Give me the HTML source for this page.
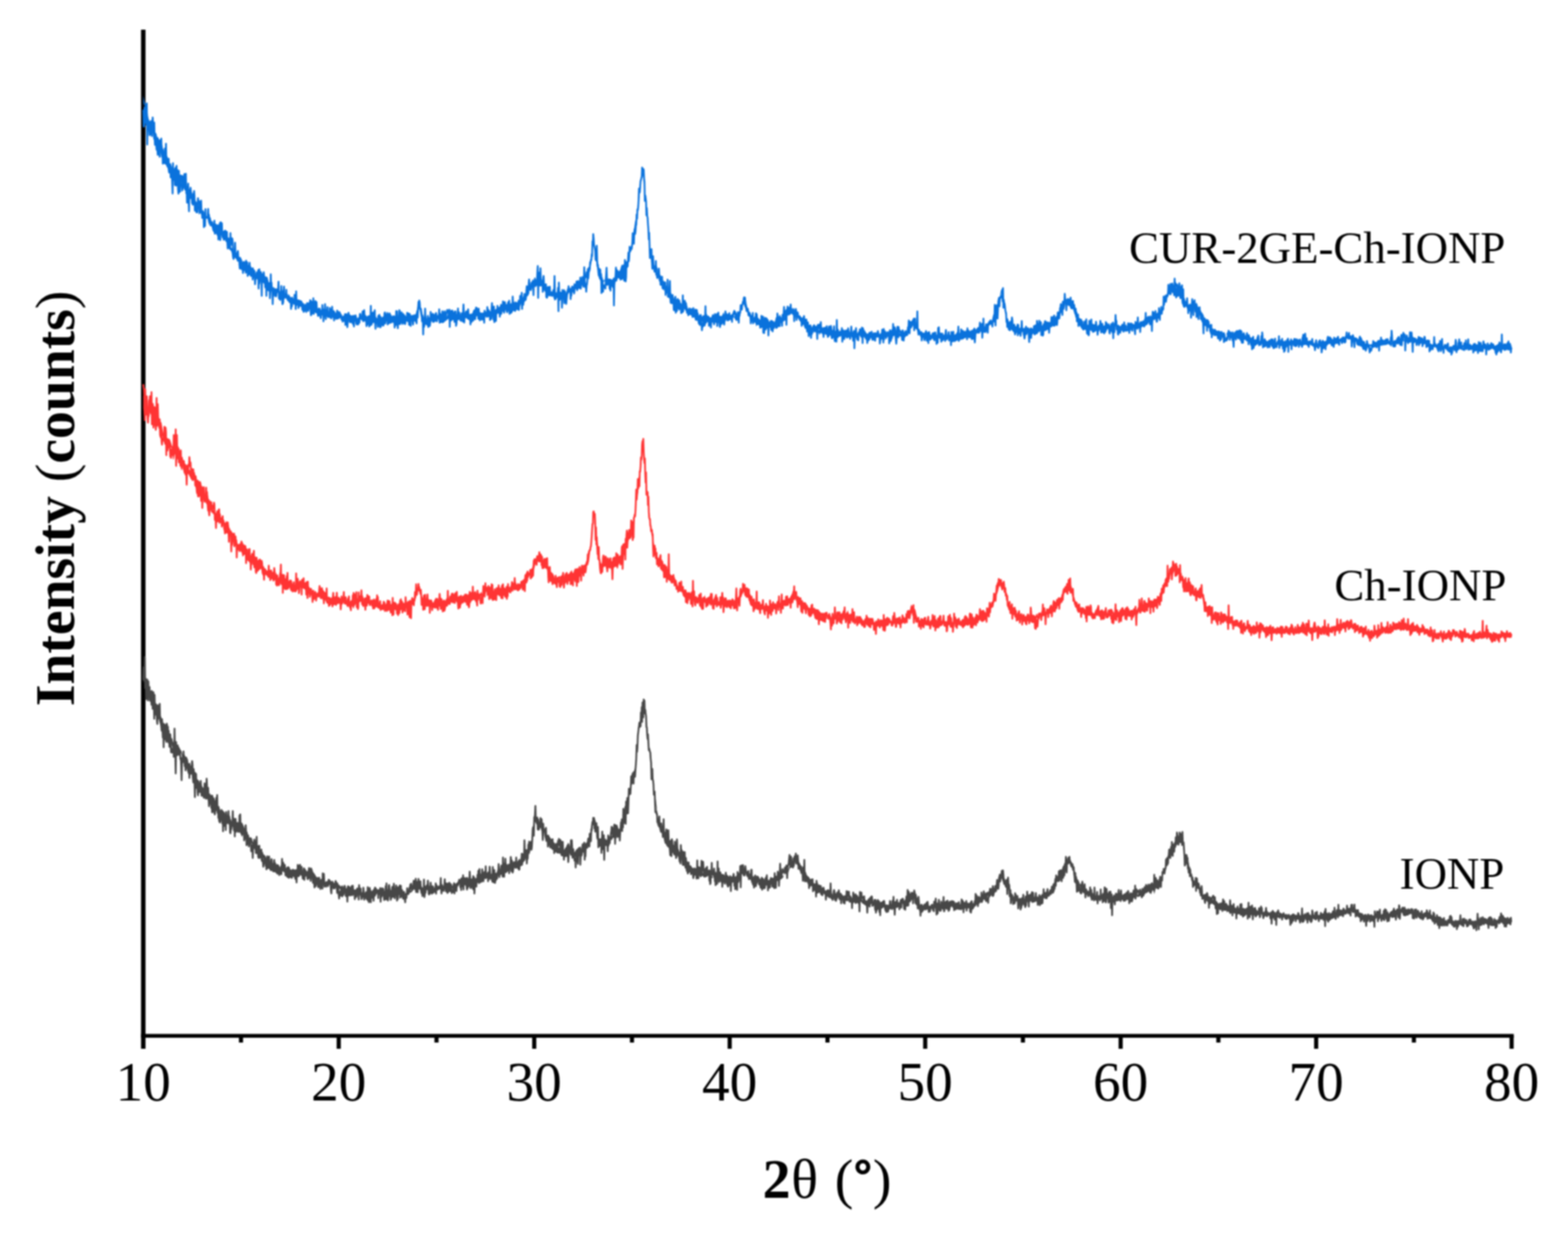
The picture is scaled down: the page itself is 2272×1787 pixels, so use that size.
<!DOCTYPE html>
<html><head><meta charset="utf-8"><title>XRD patterns</title>
<style>
html,body{margin:0;padding:0;background:#fff;overflow:hidden;}
svg{display:block;filter:blur(0.9px);}
.tk{font-family:"Liberation Serif","Times New Roman",serif;font-size:80px;fill:#000;}
.lb{font-family:"Liberation Serif","Times New Roman",serif;font-size:65px;fill:#000;}
.ax{font-family:"Liberation Serif","Times New Roman",serif;font-size:81px;fill:#000;font-weight:bold;}
</style></head><body>
<svg width="2272" height="1787" viewBox="0 0 2272 1787">
<rect width="2272" height="1787" fill="#fff"/>
<line x1="207.6" y1="43" x2="207.6" y2="1520" stroke="#000" stroke-width="6.5"/>
<line x1="204.4" y1="1501.2" x2="2193.4" y2="1501.2" stroke="#000" stroke-width="5.6"/>
<line x1="490.8" y1="1501" x2="490.8" y2="1520" stroke="#000" stroke-width="6"/>
<line x1="774.1" y1="1501" x2="774.1" y2="1520" stroke="#000" stroke-width="6"/>
<line x1="1057.3" y1="1501" x2="1057.3" y2="1520" stroke="#000" stroke-width="6"/>
<line x1="1340.6" y1="1501" x2="1340.6" y2="1520" stroke="#000" stroke-width="6"/>
<line x1="1623.8" y1="1501" x2="1623.8" y2="1520" stroke="#000" stroke-width="6"/>
<line x1="1907.1" y1="1501" x2="1907.1" y2="1520" stroke="#000" stroke-width="6"/>
<line x1="2190.3" y1="1501" x2="2190.3" y2="1520" stroke="#000" stroke-width="6"/>
<line x1="349.2" y1="1501" x2="349.2" y2="1511" stroke="#000" stroke-width="6"/>
<line x1="632.5" y1="1501" x2="632.5" y2="1511" stroke="#000" stroke-width="6"/>
<line x1="915.7" y1="1501" x2="915.7" y2="1511" stroke="#000" stroke-width="6"/>
<line x1="1199.0" y1="1501" x2="1199.0" y2="1511" stroke="#000" stroke-width="6"/>
<line x1="1482.2" y1="1501" x2="1482.2" y2="1511" stroke="#000" stroke-width="6"/>
<line x1="1765.4" y1="1501" x2="1765.4" y2="1511" stroke="#000" stroke-width="6"/>
<line x1="2048.7" y1="1501" x2="2048.7" y2="1511" stroke="#000" stroke-width="6"/>
<path d="M207.6 138.8 208.7 144 209.9 149.5 211 150.3 212.1 151.2 213.3 156.2 214.4 167.8 215.5 173.2 216.7 176.8 217.8 173.9 218.9 177 220.1 180.7 221.2 185.1 222.3 184.8 223.5 187.6 224.6 191.3 225.7 192.4 226.9 195.3 228 199.3 229.1 198.6 230.3 201.5 231.4 205.2 232.5 210.5 233.7 210.8 234.8 208.1 235.9 214.5 237.1 217.2 238.2 220.2 239.3 218.2 240.5 222.6 241.6 225.1 242.7 229.1 243.9 235.3 245 236.4 246.1 237.3 247.3 235.9 248.4 239.4 249.5 242.9 250.7 243.8 251.8 246.5 252.9 249.5 254.1 252.4 255.2 254.3 256.3 256.4 257.5 254.5 258.6 256.8 259.7 254.9 260.8 255.6 262 259.3 263.1 265.8 264.2 263.3 265.4 265.4 266.5 263.2 267.6 265.1 268.8 266.7 269.9 267.1 271 270.1 272.2 273.3 273.3 273.3 274.4 275 275.6 274.8 276.7 280.3 277.8 283.7 279 280.5 280.1 278.8 281.2 282.1 282.4 287 283.5 291.3 284.6 292.6 285.8 293.4 286.9 293.4 288 299.2 289.2 298.4 290.3 301 291.4 305 292.6 308.2 293.7 304.2 294.8 304.6 296 309.7 297.1 310.9 298.2 313.2 299.4 314.1 300.5 314.3 301.6 313.7 302.8 314.8 303.9 314 305 315.1 306.2 319.4 307.3 323.3 308.4 324.4 309.6 322.9 310.7 327.1 311.8 325.8 313 323.8 314.1 325.8 315.2 328.2 316.4 324.3 317.5 330.5 318.6 327 319.8 332.2 320.9 334.2 322 335.1 323.2 335 324.3 333.9 325.4 333.4 326.6 332.6 327.7 336.1 328.8 340.4 330 344.5 331.1 346.3 332.2 349.2 333.4 351.8 334.5 356.4 335.6 360.1 336.8 358.8 337.9 359.2 339 363.6 340.2 367.8 341.3 366.4 342.4 366.1 343.6 367.3 344.7 369.9 345.8 371.6 347 375 348.1 373.9 349.2 374.8 350.4 375.8 351.5 380.1 352.6 383.8 353.8 386.2 354.9 385.8 356 384.2 357.2 385.2 358.3 383.9 359.4 383.6 360.6 387 361.7 384.1 362.8 384.9 364 386.7 365.1 388.3 366.2 387.5 367.3 387.8 368.5 391.8 369.6 397.6 370.7 398.9 371.9 399 373 398.8 374.1 394.4 375.3 392.1 376.4 394.3 377.5 395.2 378.7 401.6 379.8 402.8 380.9 401.4 382.1 404.7 383.2 403.7 384.3 406.6 385.5 404.7 386.6 405.1 387.7 403.7 388.9 406.9 390 411.4 391.1 413.1 392.3 412.4 393.4 412.5 394.5 413.8 395.7 417.1 396.8 415.9 397.9 417.5 399.1 420 400.2 421.6 401.3 422.5 402.5 422.9 403.6 420.2 404.7 419.6 405.9 422.7 407 423 408.1 419.4 409.3 420.3 410.4 422.5 411.5 426.3 412.7 426.6 413.8 425.9 414.9 428 416.1 429.8 417.2 429.6 418.3 426.2 419.5 428.1 420.6 430.2 421.7 432.1 422.9 430 424 430 425.1 433 426.3 437.3 427.4 435.2 428.5 434.9 429.7 434.5 430.8 434.6 431.9 434.2 433.1 434.3 434.2 434.6 435.3 435.8 436.5 435.7 437.6 436.3 438.7 438.9 439.9 439.3 441 442 442.1 439.8 443.3 440.8 444.4 443.7 445.5 442.9 446.7 439.9 447.8 438.7 448.9 439.6 450.1 442.5 451.2 444.2 452.3 443.7 453.5 443.5 454.6 443.6 455.7 446.7 456.9 448.9 458 447.5 459.1 449 460.3 452.2 461.4 455 462.5 453.4 463.7 452.1 464.8 449.3 465.9 448.8 467.1 448.3 468.2 448.9 469.3 451.2 470.4 449.6 471.6 448.4 472.7 450.4 473.8 452.3 475 450.5 476.1 450.6 477.2 453.2 478.4 454.6 479.5 452.9 480.6 453.7 481.8 454.3 482.9 453.9 484 451.8 485.2 451.1 486.3 453.6 487.4 453.9 488.6 453.7 489.7 453.7 490.8 454.5 492 452.5 493.1 456.7 494.2 458 495.4 460.2 496.5 459.5 497.6 458.6 498.8 456.4 499.9 454.4 501 459.1 502.2 459.8 503.3 461.9 504.4 457.3 505.6 457.6 506.7 456.9 507.8 455.9 509 458.1 510.1 458.3 511.2 456.2 512.4 456.7 513.5 456.5 514.6 457.6 515.8 458.6 516.9 458.5 518 462.3 519.2 460.4 520.3 458.2 521.4 457.2 522.6 457.5 523.7 459.4 524.8 458.5 526 458.3 527.1 457.9 528.2 457.4 529.4 456.2 530.5 457.5 531.6 459.1 532.8 459.5 533.9 457.3 535 456.8 536.2 457 537.3 457.9 538.4 458.1 539.6 457.6 540.7 459.3 541.8 459.6 543 459.8 544.1 458.2 545.2 462.2 546.4 461.2 547.5 460 548.6 458.2 549.8 460 550.9 460.7 552 462.4 553.2 460 554.3 459.3 555.4 458.7 556.6 458.2 557.7 460.8 558.8 459.1 560 463 561.1 461.1 562.2 463 563.4 458.6 564.5 456.9 565.6 455.1 566.8 455.7 567.9 458.5 569 457.2 570.2 457.3 571.3 456.9 572.4 457.9 573.5 457.9 574.7 459.4 575.8 460.4 576.9 461.8 578.1 462 579.2 460.1 580.3 460.6 581.5 458 582.6 459.4 583.7 458.7 584.9 462.1 586 459.1 587.1 461.9 588.3 458.5 589.4 459.5 590.5 457 591.7 455.6 592.8 455.8 593.9 461.2 595.1 461.8 596.2 464.4 597.3 460.4 598.5 456.1 599.6 456.2 600.7 455.2 601.9 456 603 452.9 604.1 449.8 605.3 442.7 606.4 439.6 607.5 441.6 608.7 446 609.8 448.3 610.9 452 612.1 455.7 613.2 458.4 614.3 459.7 615.5 460.9 616.6 457.9 617.7 458.2 618.9 462.5 620 462.1 621.1 461.7 622.3 461.8 623.4 459.6 624.5 459.7 625.7 458.1 626.8 458.7 627.9 458.4 629.1 459.6 630.2 462.1 631.3 459.1 632.5 456.7 633.6 457.5 634.7 460.2 635.9 457.1 637 459.3 638.1 458.1 639.3 458.3 640.4 458.7 641.5 456.5 642.7 453.6 643.8 453.5 644.9 459.9 646.1 462.4 647.2 459.3 648.3 456.6 649.5 458.6 650.6 456.2 651.7 457.8 652.9 458.5 654 458 655.1 456.6 656.3 458.1 657.4 456.6 658.5 454.7 659.7 456.1 660.8 456.1 661.9 454.2 663.1 453 664.2 452.3 665.3 454.7 666.5 456.7 667.6 457.3 668.7 456.7 669.9 453.8 671 452.8 672.1 453.7 673.3 453.7 674.4 450.5 675.5 449.8 676.7 453.9 677.8 454.1 678.9 454.6 680 455.4 681.2 454.7 682.3 454.6 683.4 456.2 684.6 453.4 685.7 450.1 686.8 448.6 688 453.3 689.1 454.6 690.2 453 691.4 454 692.5 453 693.6 454.7 694.8 452.6 695.9 452.2 697 453.4 698.2 453 699.3 453.5 700.4 452.7 701.6 453.5 702.7 455.6 703.8 453 705 449.9 706.1 447.7 707.2 446.9 708.4 448.6 709.5 451.6 710.6 451.2 711.8 450.4 712.9 448.1 714 445 715.2 446.1 716.3 447.3 717.4 449.1 718.6 447.8 719.7 448.3 720.8 448.6 722 449.5 723.1 448.4 724.2 448 725.4 445.6 726.5 444 727.6 445.9 728.8 445.9 729.9 447.1 731 447.1 732.2 446.9 733.3 443.1 734.4 445.5 735.6 445.7 736.7 445.3 737.8 443.2 739 442.3 740.1 438.5 741.2 440.4 742.4 438.7 743.5 441.9 744.6 440.6 745.8 438.1 746.9 436.2 748 438.1 749.2 438.1 750.3 437.6 751.4 440 752.6 437 753.7 433.8 754.8 431 756 431.6 757.1 431.4 758.2 429.8 759.4 427 760.5 425.3 761.6 425.9 762.8 427.6 763.9 423.1 765 422.9 766.2 420.3 767.3 416.2 768.4 412.1 769.6 410.7 770.7 407.5 771.8 404.5 773 406.7 774.1 403.1 775.2 401.6 776.4 404.3 777.5 407 778.6 404.9 779.8 401.9 780.9 403 782 403.3 783.1 401.7 784.3 403 785.4 405.6 786.5 408.7 787.7 409 788.8 414.4 789.9 416 791.1 415.7 792.2 416.2 793.3 419 794.5 418 795.6 417.6 796.7 420.2 797.9 420.8 799 425.5 800.1 422.7 801.3 422 802.4 423.2 803.5 423 804.7 424.4 805.8 425.6 806.9 422.8 808.1 423.8 809.2 421.2 810.3 422.3 811.5 422.4 812.6 423.1 813.7 422.9 814.9 422.6 816 421.4 817.1 418.7 818.3 419.5 819.4 425.1 820.5 424.5 821.7 418.4 822.8 417.4 823.9 420.2 825.1 421.4 826.2 418.8 827.3 418.2 828.5 419.2 829.6 416.3 830.7 413.9 831.9 409.6 833 413.9 834.1 415.1 835.3 416.2 836.4 413.9 837.5 409.8 838.7 409.8 839.8 407.2 840.9 408.1 842.1 406.6 843.2 406.3 844.3 408.2 845.5 407.6 846.6 403.4 847.7 399.7 848.9 393.6 850 393.1 851.1 394.2 852.3 394.3 853.4 388.6 854.5 387 855.7 380.7 856.8 374.4 857.9 364.4 859.1 352 860.2 347.3 861.3 358.4 862.5 364.5 863.6 371.5 864.7 377.2 865.9 381.9 867 388.8 868.1 394.2 869.3 396.1 870.4 395.9 871.5 397.3 872.7 401.9 873.8 406.1 874.9 406.5 876.1 405.7 877.2 403.5 878.3 404.5 879.5 405.6 880.6 404.4 881.7 403.1 882.9 404.5 884 403.8 885.1 406.2 886.2 407.8 887.4 407.5 888.5 407.5 889.6 402.9 890.8 401.8 891.9 403.3 893 402.3 894.2 400.3 895.3 398.8 896.4 396.9 897.6 393.9 898.7 390.6 899.8 386.6 901 383.1 902.1 385.6 903.2 386.3 904.4 386.6 905.5 383.1 906.6 383.8 907.8 382.1 908.9 380 910 376.4 911.2 369.7 912.3 360.6 913.4 358.5 914.6 356.8 915.7 351.1 916.8 344.9 918 337.4 919.1 328.8 920.2 321 921.4 317.3 922.5 312.8 923.6 303.5 924.8 294.4 925.9 288.3 927 273.1 928.2 259 929.3 254 930.4 249.1 931.6 249.9 932.7 255.5 933.8 268.7 935 283.6 936.1 297 937.2 303.9 938.4 313.8 939.5 325.4 940.6 341.6 941.8 358.4 942.9 370 944 373 945.2 375.8 946.3 377.8 947.4 384 948.6 385.5 949.7 384.3 950.8 384.7 952 386.2 953.1 389.9 954.2 394.9 955.4 399.5 956.5 398.8 957.6 401 958.8 405.9 959.9 407.6 961 406.8 962.2 406.9 963.3 410.2 964.4 414 965.6 415.6 966.7 417.2 967.8 420.8 969 428.1 970.1 428.3 971.2 425.1 972.4 424.5 973.5 426.6 974.6 429 975.8 429.1 976.9 432.8 978 437.8 979.2 438 980.3 438.3 981.4 438.7 982.6 442 983.7 441.8 984.8 441.8 986 439.8 987.1 441.3 988.2 439.5 989.4 440.6 990.5 441.3 991.6 443.1 992.7 444.6 993.9 444.8 995 446.3 996.1 448.7 997.3 449.3 998.4 449 999.5 449.8 1000.7 451.6 1001.8 449.7 1002.9 450.8 1004.1 453 1005.2 452.3 1006.3 452.8 1007.5 455.8 1008.6 457.1 1009.7 456.6 1010.9 455.5 1012 459.2 1013.1 456.5 1014.3 455.6 1015.4 456.9 1016.5 458.5 1017.7 458.6 1018.8 458.4 1019.9 458.6 1021.1 460.2 1022.2 462.4 1023.3 461.3 1024.5 459.5 1025.6 459.5 1026.7 457.5 1027.9 459.7 1029 459.7 1030.1 460 1031.3 458.9 1032.4 462.2 1033.5 463.7 1034.7 460.7 1035.8 460.8 1036.9 460.8 1038.1 457.8 1039.2 460 1040.3 458.6 1041.5 461.1 1042.6 463.4 1043.7 461.8 1044.9 459.1 1046 457.6 1047.1 455.6 1048.3 452.8 1049.4 455 1050.5 458.1 1051.7 457.9 1052.8 457.2 1053.9 458.4 1055.1 455.1 1056.2 456.7 1057.3 457.7 1058.5 458.8 1059.6 458.6 1060.7 457.1 1061.9 455.9 1063 457.6 1064.1 458.6 1065.3 457.6 1066.4 457 1067.5 453.8 1068.7 451.7 1069.8 451.1 1070.9 452.5 1072.1 451 1073.2 446.4 1074.3 443.1 1075.5 438.8 1076.6 439.3 1077.7 435.1 1078.9 436.2 1080 439.7 1081.1 442.5 1082.3 443.9 1083.4 446.9 1084.5 449.6 1085.7 452.7 1086.8 451.7 1087.9 454.4 1089.1 457.6 1090.2 459.9 1091.3 458.1 1092.5 460.1 1093.6 461.7 1094.7 465.3 1095.8 464.5 1097 463.1 1098.1 462.3 1099.2 462.7 1100.4 465.9 1101.5 466.1 1102.6 466.4 1103.8 465.2 1104.9 466.5 1106 466.4 1107.2 467.7 1108.3 468.7 1109.4 467.9 1110.6 466.4 1111.7 469 1112.8 469.9 1114 469.8 1115.1 468.8 1116.2 468.5 1117.4 468.5 1118.5 467.5 1119.6 464.6 1120.8 464.9 1121.9 467.1 1123 465.2 1124.2 460.1 1125.3 459.2 1126.4 458.7 1127.6 460.3 1128.7 457.9 1129.8 455.8 1131 458 1132.1 460.5 1133.2 460.9 1134.4 457.9 1135.5 458.7 1136.6 460.7 1137.8 457.1 1138.9 454.4 1140 451.3 1141.2 449.6 1142.3 447.4 1143.4 446.6 1144.6 446.8 1145.7 447.2 1146.8 448 1148 449.6 1149.1 449.6 1150.2 447.8 1151.4 450.2 1152.5 451.9 1153.6 452.6 1154.8 453.9 1155.9 456.3 1157 457.6 1158.2 460.3 1159.3 459.7 1160.4 458.7 1161.6 460.3 1162.7 461.9 1163.8 463.3 1165 464.3 1166.1 465.1 1167.2 464 1168.4 469.4 1169.5 469.7 1170.6 470.9 1171.8 471 1172.9 470.8 1174 470 1175.2 470.8 1176.3 473.7 1177.4 475.9 1178.6 476.7 1179.7 475 1180.8 475.5 1182 475.9 1183.1 475 1184.2 474.2 1185.4 475.8 1186.5 478.4 1187.6 477.5 1188.8 479.3 1189.9 479.2 1191 475.7 1192.2 474.5 1193.3 476.6 1194.4 478 1195.6 479.9 1196.7 481.5 1197.8 482.2 1198.9 479.5 1200.1 477.6 1201.2 479.9 1202.3 481.5 1203.5 479.4 1204.6 476.8 1205.7 478.7 1206.9 477.9 1208 479.8 1209.1 484 1210.3 484.9 1211.4 481.6 1212.5 477.4 1213.7 476.9 1214.8 481.3 1215.9 480.3 1217.1 479.2 1218.2 479.6 1219.3 480.1 1220.5 478.7 1221.6 480.9 1222.7 479.5 1223.9 478.8 1225 478 1226.1 477.9 1227.3 478.8 1228.4 479.7 1229.5 477.7 1230.7 478.7 1231.8 481.7 1232.9 484.7 1234.1 485.1 1235.2 483.5 1236.3 484.7 1237.5 483.2 1238.6 483 1239.7 483.3 1240.9 482.6 1242 482.4 1243.1 482.4 1244.3 480.4 1245.4 481.9 1246.5 485.1 1247.7 481.1 1248.8 482.7 1249.9 484.1 1251.1 482.2 1252.2 479.5 1253.3 480.6 1254.5 482.9 1255.6 484.1 1256.7 483.5 1257.9 483.5 1259 481.3 1260.1 480.8 1261.3 483 1262.4 482.8 1263.5 483.7 1264.7 482.7 1265.8 481.5 1266.9 482.1 1268.1 482.3 1269.2 482.2 1270.3 484.7 1271.5 482.6 1272.6 483.7 1273.7 483.4 1274.9 484.7 1276 483 1277.1 482.2 1278.3 481.3 1279.4 482.4 1280.5 482 1281.7 480.5 1282.8 477.9 1283.9 482 1285.1 482.4 1286.2 485 1287.3 482.6 1288.5 479.2 1289.6 481.4 1290.7 480.5 1291.9 477.6 1293 480.4 1294.1 480.6 1295.3 482.1 1296.4 481.6 1297.5 482 1298.7 480.9 1299.8 481.8 1300.9 480.6 1302.1 481.9 1303.2 483.8 1304.3 482.4 1305.4 478.6 1306.6 480.5 1307.7 480 1308.8 480.8 1310 481 1311.1 482.8 1312.2 481.9 1313.4 480.1 1314.5 475.9 1315.6 473.4 1316.8 469 1317.9 464.6 1319 465.2 1320.2 466.1 1321.3 464.7 1322.4 462.3 1323.6 463.3 1324.7 466.8 1325.8 470.2 1327 470.1 1328.1 470.3 1329.2 473.7 1330.4 476.9 1331.5 478 1332.6 478.7 1333.8 480.7 1334.9 481.4 1336 481.5 1337.2 482.4 1338.3 483 1339.4 481.6 1340.6 482.1 1341.7 483.3 1342.8 484.6 1344 484.9 1345.1 484.9 1346.2 485.9 1347.4 485.3 1348.5 484.8 1349.6 485.8 1350.8 486.2 1351.9 483.6 1353 483.3 1354.2 484 1355.3 485.7 1356.4 485.7 1357.6 485.4 1358.7 484.7 1359.8 484.1 1361 487.4 1362.1 485.3 1363.2 485.5 1364.4 483.6 1365.5 485.7 1366.6 486.6 1367.8 484.5 1368.9 485.6 1370 486 1371.2 486.2 1372.3 488.9 1373.4 487.5 1374.6 485.9 1375.7 485.5 1376.8 487.5 1378 486.6 1379.1 485.6 1380.2 486.2 1381.4 487.6 1382.5 486.1 1383.6 485.1 1384.8 484 1385.9 483.7 1387 482.9 1388.2 484.1 1389.3 486 1390.4 486.6 1391.6 486.2 1392.7 486.4 1393.8 483.6 1395 483 1396.1 481.4 1397.2 482.9 1398.4 482.6 1399.5 481.1 1400.6 477.7 1401.8 479.1 1402.9 477.9 1404 479 1405.2 479.9 1406.3 479.5 1407.4 477.9 1408.5 478.8 1409.7 477.2 1410.8 475.8 1411.9 474.3 1413.1 476.1 1414.2 478 1415.3 478.7 1416.5 477.6 1417.6 476.4 1418.7 476.6 1419.9 476.4 1421 472.6 1422.1 471.8 1423.3 472.6 1424.4 474.2 1425.5 472.5 1426.7 474.3 1427.8 474.1 1428.9 473.1 1430.1 469.1 1431.2 468.7 1432.3 467.6 1433.5 465.1 1434.6 465.7 1435.7 466.3 1436.9 465.2 1438 461.6 1439.1 456.3 1440.3 454.7 1441.4 455.3 1442.5 454.1 1443.7 449.6 1444.8 443.2 1445.9 439.9 1447.1 435.3 1448.2 433.6 1449.3 426.2 1450.5 420.6 1451.6 420.7 1452.7 427.7 1453.9 434.8 1455 438.5 1456.1 443.5 1457.3 448.8 1458.4 458.8 1459.5 461.9 1460.7 461.5 1461.8 466.8 1462.9 469.9 1464.1 471.3 1465.2 470.7 1466.3 469.3 1467.5 469.3 1468.6 471.9 1469.7 474.1 1470.9 475.6 1472 473.4 1473.1 476.5 1474.3 474.9 1475.4 473.8 1476.5 474.7 1477.7 475.6 1478.8 474.5 1479.9 472.9 1481.1 476.4 1482.2 477.7 1483.3 476 1484.5 474.5 1485.6 475.4 1486.7 475.4 1487.9 474.5 1489 475 1490.1 473.8 1491.3 476.6 1492.4 476 1493.5 474.2 1494.7 475.1 1495.8 476.2 1496.9 475.9 1498.1 475.4 1499.2 475.6 1500.3 475.9 1501.5 474.5 1502.6 474 1503.7 473.1 1504.9 473.3 1506 473.3 1507.1 473.3 1508.3 473.9 1509.4 473 1510.5 473.7 1511.7 473.5 1512.8 474.6 1513.9 474.1 1515 474.2 1516.2 473 1517.3 473.7 1518.4 474 1519.6 471.9 1520.7 470.5 1521.8 470.7 1523 469.7 1524.1 468 1525.2 465.5 1526.4 465 1527.5 464.8 1528.6 461.6 1529.8 458.3 1530.9 458.1 1532 457 1533.2 456.3 1534.3 453.2 1535.4 454.4 1536.6 448.7 1537.7 444.5 1538.8 440.1 1540 437.9 1541.1 436.2 1542.2 434.6 1543.4 434.5 1544.5 435.4 1545.6 432.7 1546.8 434.9 1547.9 432.4 1549 432.4 1550.2 433.6 1551.3 434.7 1552.4 439.1 1553.6 440.6 1554.7 442.6 1555.8 443.5 1557 444.7 1558.1 447.2 1559.2 450.2 1560.4 452.2 1561.5 455.1 1562.6 458.1 1563.8 461.1 1564.9 464.8 1566 462.6 1567.2 467.5 1568.3 469.3 1569.4 470 1570.6 466 1571.7 467.9 1572.8 470.9 1574 470.3 1575.1 470.1 1576.2 470.9 1577.4 470 1578.5 470.9 1579.6 469.5 1580.8 470.8 1581.9 470 1583 469.4 1584.2 469.8 1585.3 470 1586.4 471.3 1587.6 470.8 1588.7 473.2 1589.8 473.1 1591 471.8 1592.1 470.8 1593.2 470.8 1594.4 471.6 1595.5 472.4 1596.6 475.1 1597.8 475.4 1598.9 476.1 1600 474.8 1601.2 475.3 1602.3 471.6 1603.4 471.4 1604.6 470.7 1605.7 469.1 1606.8 468.3 1608 470.9 1609.1 472.8 1610.2 471.8 1611.4 473.5 1612.5 476.1 1613.6 475.7 1614.8 476.4 1615.9 477 1617 477.6 1618.1 472.2 1619.3 470.9 1620.4 470.4 1621.5 471.3 1622.7 472.7 1623.8 472.8 1624.9 470.5 1626.1 469 1627.2 469.2 1628.3 471.2 1629.5 472.6 1630.6 471.3 1631.7 470 1632.9 473.1 1634 473.8 1635.1 471.2 1636.3 467.4 1637.4 467.5 1638.5 470.8 1639.7 472.7 1640.8 472.6 1641.9 470.3 1643.1 470.5 1644.2 470.7 1645.3 471.4 1646.5 470.7 1647.6 470.4 1648.7 469 1649.9 469.4 1651 467.5 1652.1 465.6 1653.3 465.6 1654.4 467.7 1655.5 469.7 1656.7 469.8 1657.8 467.8 1658.9 464.7 1660.1 463.6 1661.2 462.9 1662.3 460.5 1663.5 462.9 1664.6 463.5 1665.7 461.6 1666.9 460.2 1668 460.1 1669.1 459.9 1670.3 457.9 1671.4 456.8 1672.5 458.5 1673.7 458.9 1674.8 458.8 1675.9 457.3 1677.1 454.8 1678.2 451.9 1679.3 451.4 1680.5 451.6 1681.6 448.5 1682.7 447.4 1683.9 445.3 1685 443 1686.1 437.4 1687.3 430.4 1688.4 428.7 1689.5 428.3 1690.7 425.7 1691.8 423.6 1692.9 420.2 1694.1 417.1 1695.2 415.6 1696.3 415.6 1697.5 415.9 1698.6 413.2 1699.7 413 1700.9 412.5 1702 408.5 1703.1 408.3 1704.3 409.9 1705.4 411.3 1706.5 411.3 1707.7 414.3 1708.8 418.7 1709.9 425.7 1711.1 426.4 1712.2 423.3 1713.3 425.9 1714.5 426.3 1715.6 430.2 1716.7 432.5 1717.9 437.2 1719 439.3 1720.1 440.3 1721.2 442.8 1722.4 441.5 1723.5 442.5 1724.6 439.7 1725.8 441.1 1726.9 441.5 1728 439.7 1729.2 441.3 1730.3 444.7 1731.4 444 1732.6 439.6 1733.7 438.8 1734.8 440.5 1736 444.7 1737.1 446.3 1738.2 447.5 1739.4 450.3 1740.5 453 1741.6 452.8 1742.8 454.9 1743.9 456.7 1745 460.9 1746.2 465.1 1747.3 467.8 1748.4 469.6 1749.6 468.8 1750.7 468.1 1751.8 471.9 1753 476 1754.1 477.1 1755.2 477 1756.4 478.8 1757.5 478.1 1758.6 477.9 1759.8 479.2 1760.9 480.5 1762 480.2 1763.2 481.3 1764.3 481.5 1765.4 480.2 1766.6 479.3 1767.7 480.1 1768.8 480.7 1770 481.3 1771.1 482.6 1772.2 481.7 1773.4 481.5 1774.5 481.9 1775.6 485.9 1776.8 484.3 1777.9 481.9 1779 480.9 1780.2 482.9 1781.3 484.1 1782.4 485.3 1783.6 483.6 1784.7 482.8 1785.8 486 1787 486.6 1788.1 487.2 1789.2 486.4 1790.4 486.8 1791.5 485.1 1792.6 484.4 1793.8 483.8 1794.9 486.8 1796 488.7 1797.2 489.4 1798.3 488.3 1799.4 486.8 1800.6 488.1 1801.7 488.3 1802.8 489.7 1804 488.7 1805.1 489.3 1806.2 490.5 1807.4 488.1 1808.5 489.7 1809.6 490.2 1810.8 491.3 1811.9 491 1813 494 1814.2 492 1815.3 488.3 1816.4 490.2 1817.6 491.8 1818.7 492.4 1819.8 492 1821 492.5 1822.1 492.8 1823.2 492.7 1824.4 492.6 1825.5 494.4 1826.6 494.8 1827.7 494 1828.9 492.7 1830 493.5 1831.1 491.4 1832.3 490.1 1833.4 490.7 1834.5 493.3 1835.7 494.2 1836.8 496.6 1837.9 495.9 1839.1 495.2 1840.2 493.1 1841.3 493.3 1842.5 493.7 1843.6 493 1844.7 491.7 1845.9 492.9 1847 494.4 1848.1 494.9 1849.3 497 1850.4 496.3 1851.5 496.4 1852.7 497.4 1853.8 496.9 1854.9 495.5 1856.1 492 1857.2 493.7 1858.3 494.5 1859.5 496.5 1860.6 495.3 1861.7 493.7 1862.9 493 1864 494.4 1865.1 496.2 1866.3 493.9 1867.4 494.3 1868.5 495.1 1869.7 497.1 1870.8 496.1 1871.9 496.9 1873.1 496.4 1874.2 495.8 1875.3 494.2 1876.5 496.7 1877.6 496.5 1878.7 496.6 1879.9 495.4 1881 494 1882.1 494.3 1883.3 495.3 1884.4 495.1 1885.5 495.4 1886.7 493 1887.8 492.3 1888.9 491.2 1890.1 491.5 1891.2 494 1892.3 495.9 1893.5 494.8 1894.6 493 1895.7 494.2 1896.9 494.3 1898 493.2 1899.1 493.3 1900.3 494.7 1901.4 494.4 1902.5 494.7 1903.7 497.7 1904.8 497.9 1905.9 495.9 1907.1 495.6 1908.2 496.1 1909.3 498.1 1910.5 498.8 1911.6 498.1 1912.7 497 1913.9 495 1915 494.5 1916.1 492 1917.3 493 1918.4 494.6 1919.5 494.6 1920.7 495.3 1921.8 493 1922.9 493.1 1924.1 494.8 1925.2 494.4 1926.3 496.5 1927.5 495.6 1928.6 495.1 1929.7 493.5 1930.8 492.1 1932 491.8 1933.1 491.4 1934.2 492.4 1935.4 491.2 1936.5 492.3 1937.6 492.2 1938.8 493.7 1939.9 495.1 1941 494.6 1942.2 490.3 1943.3 490.1 1944.4 488.7 1945.6 487.5 1946.7 488.2 1947.8 490.4 1949 488.7 1950.1 486.3 1951.2 487.1 1952.4 488.6 1953.5 490.8 1954.6 488.4 1955.8 488.5 1956.9 488.8 1958 490.1 1959.2 489.6 1960.3 489 1961.4 488.7 1962.6 488.6 1963.7 489.2 1964.8 491 1966 493.3 1967.1 492.7 1968.2 491.8 1969.4 492.7 1970.5 491.6 1971.6 492.5 1972.8 494.6 1973.9 498.6 1975 499.2 1976.2 498.5 1977.3 498.3 1978.4 498 1979.6 498.1 1980.7 498 1981.8 499.9 1983 498.8 1984.1 499.4 1985.2 500.1 1986.4 498.4 1987.5 499.2 1988.6 497.4 1989.8 498.4 1990.9 499.2 1992 499.4 1993.2 497 1994.3 495.7 1995.4 497 1996.6 495.7 1997.7 496.5 1998.8 496.6 2000 495.8 2001.1 494.9 2002.2 497 2003.4 500.1 2004.5 497 2005.6 496.6 2006.8 496.5 2007.9 496.6 2009 495.3 2010.2 494.1 2011.3 496 2012.4 495 2013.6 493.4 2014.7 494.9 2015.8 496.1 2017 496.7 2018.1 494.8 2019.2 493.9 2020.4 492.9 2021.5 493.3 2022.6 492.8 2023.8 492.8 2024.9 491.3 2026 492 2027.2 491 2028.3 492.2 2029.4 492.1 2030.6 493.5 2031.7 491.7 2032.8 492 2033.9 492.7 2035.1 492.4 2036.2 490.4 2037.3 489.2 2038.5 488.8 2039.6 489.5 2040.7 488.3 2041.9 489.5 2043 491.6 2044.1 491.3 2045.3 490.3 2046.4 488.9 2047.5 490.8 2048.7 492.2 2049.8 489.3 2050.9 491.2 2052.1 492.1 2053.2 490.9 2054.3 490.2 2055.5 489 2056.6 491.5 2057.7 493.8 2058.9 493.5 2060 493.4 2061.1 491.7 2062.3 490.8 2063.4 490.7 2064.5 493.1 2065.7 496.1 2066.8 496.9 2067.9 497.7 2069.1 497 2070.2 497.6 2071.3 497.1 2072.5 498.3 2073.6 498.3 2074.7 499.4 2075.9 499.3 2077 500.3 2078.1 499.7 2079.3 498.3 2080.4 499 2081.5 498.8 2082.7 498.9 2083.8 497 2084.9 497.1 2086.1 497.8 2087.2 499.5 2088.3 498.5 2089.5 499.7 2090.6 501.6 2091.7 502.2 2092.9 500.8 2094 499.7 2095.1 499.2 2096.3 501.3 2097.4 502 2098.5 504 2099.7 503.7 2100.8 502 2101.9 501.8 2103.1 502.6 2104.2 502.3 2105.3 501.9 2106.5 503.7 2107.6 503.4 2108.7 504.3 2109.9 503.1 2111 501.5 2112.1 501 2113.3 500.6 2114.4 498.1 2115.5 499.4 2116.7 500.4 2117.8 502.6 2118.9 505.2 2120.1 504 2121.2 502.5 2122.3 501.2 2123.5 502.8 2124.6 502 2125.7 500.7 2126.9 500.7 2128 500 2129.1 498.8 2130.3 498 2131.4 500.4 2132.5 502.2 2133.7 501.8 2134.8 500.3 2135.9 500.2 2137.1 501.7 2138.2 500.9 2139.3 499.7 2140.4 500.6 2141.6 502.1 2142.7 501 2143.8 502.2 2145 503.6 2146.1 502.8 2147.2 501.2 2148.4 499.2 2149.5 499.3 2150.6 500.9 2151.8 502.1 2152.9 503.5 2154 503.3 2155.2 503.8 2156.3 503.2 2157.4 500.9 2158.6 501.8 2159.7 503.3 2160.8 503.8 2162 502.6 2163.1 501.3 2164.2 502.4 2165.4 503.3 2166.5 502.1 2167.6 500 2168.8 499.9 2169.9 499.3 2171 500.2 2172.2 502.5 2173.3 502.5 2174.4 500.9 2175.6 500.6 2176.7 500 2177.8 499 2179 501 2180.1 502 2181.2 500.2 2182.4 499.5 2183.5 501 2184.6 502.2 2185.8 501.2 2186.9 500.1 2188 500.4 2189.2 501.1 2190.3 500.1 2190.3 504.9 2189.2 504.1 2188 502.2 2186.9 504.9 2185.8 506.9 2184.6 507.7 2183.5 505.7 2182.4 507.2 2181.2 507.3 2180.1 506.9 2179 506.8 2177.8 507.1 2176.7 506.5 2175.6 507.5 2174.4 506.9 2173.3 507.9 2172.2 508.8 2171 507.5 2169.9 508.4 2168.8 507.3 2167.6 506 2166.5 506.9 2165.4 507.4 2164.2 506.6 2163.1 506 2162 502.9 2160.8 504.8 2159.7 507.7 2158.6 506.6 2157.4 503.6 2156.3 504.8 2155.2 504.5 2154 504.4 2152.9 505.7 2151.8 506.1 2150.6 506 2149.5 504.4 2148.4 504.8 2147.2 508.5 2146.1 510.6 2145 510 2143.8 507.1 2142.7 504.8 2141.6 505 2140.4 505.2 2139.3 506.7 2138.2 506.1 2137.1 504.6 2135.9 503.8 2134.8 504.1 2133.7 505.1 2132.5 505.5 2131.4 507.3 2130.3 507.5 2129.1 506.3 2128 506.8 2126.9 506.3 2125.7 505.5 2124.6 506.7 2123.5 505.8 2122.3 508.7 2121.2 508.8 2120.1 507.7 2118.9 507.8 2117.8 506.9 2116.7 503.9 2115.5 503.6 2114.4 504.9 2113.3 504.2 2112.1 505.4 2111 506.1 2109.9 505 2108.7 505.4 2107.6 506.8 2106.5 506.8 2105.3 505.9 2104.2 506.8 2103.1 508.6 2101.9 507.8 2100.8 506.6 2099.7 506.7 2098.5 508.3 2097.4 506.5 2096.3 504.6 2095.1 505.7 2094 505.1 2092.9 503.8 2091.7 503.8 2090.6 506.4 2089.5 507.6 2088.3 508 2087.2 504.9 2086.1 504 2084.9 503.8 2083.8 505.8 2082.7 505.5 2081.5 504.6 2080.4 502.8 2079.3 502 2078.1 503.4 2077 503 2075.9 501.9 2074.7 500.4 2073.6 501.8 2072.5 501.1 2071.3 500.9 2070.2 500.5 2069.1 501.3 2067.9 500.4 2066.8 499.4 2065.7 498 2064.5 498.9 2063.4 498.8 2062.3 500.2 2061.1 498.6 2060 496 2058.9 496.6 2057.7 495.4 2056.6 496 2055.5 494.9 2054.3 493.8 2053.2 496.6 2052.1 496.8 2050.9 496.1 2049.8 494.4 2048.7 496.4 2047.5 495.4 2046.4 495.7 2045.3 493.9 2044.1 494.2 2043 494.6 2041.9 494.3 2040.7 494 2039.6 494.7 2038.5 493.5 2037.3 495.2 2036.2 494.9 2035.1 494.7 2033.9 494.2 2032.8 494.4 2031.7 493.2 2030.6 495.7 2029.4 496 2028.3 495.5 2027.2 497.7 2026 499 2024.9 499.3 2023.8 498.5 2022.6 497.2 2021.5 497.1 2020.4 497.3 2019.2 497.9 2018.1 497.6 2017 499.1 2015.8 502.4 2014.7 501.5 2013.6 499.4 2012.4 496.9 2011.3 498.3 2010.2 499.5 2009 499.4 2007.9 500 2006.8 500.5 2005.6 499.1 2004.5 499.2 2003.4 500.6 2002.2 501.2 2001.1 500.6 2000 498.3 1998.8 498.4 1997.7 498 1996.6 499.4 1995.4 502.2 1994.3 503.2 1993.2 503 1992 502.9 1990.9 503.1 1989.8 502.8 1988.6 502.7 1987.5 502.9 1986.4 501.9 1985.2 502 1984.1 502.1 1983 502.9 1981.8 501.4 1980.7 504 1979.6 504.2 1978.4 505.1 1977.3 502.2 1976.2 502.1 1975 501.5 1973.9 502.4 1972.8 501.9 1971.6 502.8 1970.5 500.5 1969.4 499.6 1968.2 495.4 1967.1 496.2 1966 495.7 1964.8 495.5 1963.7 494.3 1962.6 493.9 1961.4 493.9 1960.3 492.3 1959.2 492.3 1958 491.3 1956.9 491.9 1955.8 492.1 1954.6 491.4 1953.5 492.7 1952.4 490.7 1951.2 490.3 1950.1 490.5 1949 491.9 1947.8 493.4 1946.7 495.5 1945.6 496.2 1944.4 495.1 1943.3 493.5 1942.2 495.7 1941 496.8 1939.9 497.4 1938.8 497.5 1937.6 495.5 1936.5 496.1 1935.4 498.8 1934.2 498.2 1933.1 498.6 1932 500.2 1930.8 500.4 1929.7 498.6 1928.6 499 1927.5 498.9 1926.3 497.9 1925.2 498.9 1924.1 499.4 1922.9 501 1921.8 503.1 1920.7 503.8 1919.5 503 1918.4 499.2 1917.3 499.8 1916.1 499.9 1915 501 1913.9 500.9 1912.7 501.2 1911.6 500.7 1910.5 500.2 1909.3 499.5 1908.2 499.5 1907.1 500.8 1905.9 500.5 1904.8 501.3 1903.7 501.5 1902.5 502 1901.4 501 1900.3 499.4 1899.1 499.5 1898 498.3 1896.9 500.7 1895.7 499.2 1894.6 498.1 1893.5 499.6 1892.3 499.9 1891.2 499.3 1890.1 497.1 1888.9 496.6 1887.8 497.6 1886.7 497.6 1885.5 497.5 1884.4 499.2 1883.3 500.8 1882.1 501.6 1881 499.9 1879.9 499.5 1878.7 499 1877.6 499.2 1876.5 497.1 1875.3 496.3 1874.2 497.4 1873.1 498.5 1871.9 499 1870.8 499.7 1869.7 500.8 1868.5 500.6 1867.4 500.1 1866.3 499 1865.1 499.5 1864 499.6 1862.9 501.4 1861.7 501.1 1860.6 500.7 1859.5 501.7 1858.3 501.4 1857.2 501.7 1856.1 501.4 1854.9 501.1 1853.8 500.8 1852.7 499.7 1851.5 498.4 1850.4 499.8 1849.3 501.8 1848.1 501.5 1847 499.7 1845.9 499.7 1844.7 497.9 1843.6 498.6 1842.5 496 1841.3 497.2 1840.2 497 1839.1 498.6 1837.9 498.9 1836.8 498.8 1835.7 499.6 1834.5 498.9 1833.4 500.2 1832.3 500.4 1831.1 499.5 1830 498.2 1828.9 498.7 1827.7 496.7 1826.6 497.7 1825.5 497.7 1824.4 497 1823.2 498.5 1822.1 498.6 1821 499.9 1819.8 500.3 1818.7 498.6 1817.6 497.4 1816.4 495.9 1815.3 494 1814.2 492.7 1813 494.4 1811.9 495.3 1810.8 494.4 1809.6 494.9 1808.5 495.4 1807.4 494.6 1806.2 495 1805.1 493.2 1804 492.6 1802.8 492.3 1801.7 493.7 1800.6 495.1 1799.4 495.9 1798.3 495.4 1797.2 493.9 1796 491.5 1794.9 491.3 1793.8 491.2 1792.6 490.2 1791.5 489.1 1790.4 491.6 1789.2 491.5 1788.1 492.8 1787 491.6 1785.8 491.2 1784.7 491 1783.6 489.9 1782.4 491.4 1781.3 489 1780.2 487.7 1779 486.1 1777.9 484.7 1776.8 484 1775.6 486.4 1774.5 487.6 1773.4 488.2 1772.2 486.1 1771.1 484.8 1770 484.1 1768.8 485 1767.7 487.8 1766.6 485.6 1765.4 485.6 1764.3 486.3 1763.2 483.9 1762 481.6 1760.9 482.9 1759.8 484.3 1758.6 484.3 1757.5 482.4 1756.4 483.8 1755.2 481.8 1754.1 483 1753 481.1 1751.8 475.8 1750.7 473.7 1749.6 474.2 1748.4 473.6 1747.3 472 1746.2 467.5 1745 466.6 1743.9 465.4 1742.8 463.2 1741.6 458.5 1740.5 456.4 1739.4 453.8 1738.2 451.3 1737.1 449.5 1736 451.5 1734.8 452.2 1733.7 453.2 1732.6 452.1 1731.4 453.3 1730.3 447.8 1729.2 446.6 1728 448 1726.9 447.8 1725.8 449.2 1724.6 447.2 1723.5 448.5 1722.4 448.5 1721.2 447.7 1720.1 447.5 1719 445.1 1717.9 440.2 1716.7 439.5 1715.6 439.8 1714.5 437.7 1713.3 438.3 1712.2 435.4 1711.1 430.2 1709.9 428.5 1708.8 427.3 1707.7 425.1 1706.5 421 1705.4 418.7 1704.3 416.3 1703.1 415.9 1702 417.6 1700.9 417.1 1699.7 416.7 1698.6 417.2 1697.5 420.9 1696.3 423.8 1695.2 424.2 1694.1 422.4 1692.9 427.4 1691.8 429.8 1690.7 431.2 1689.5 433.6 1688.4 438.6 1687.3 438.5 1686.1 438.3 1685 440.7 1683.9 447.5 1682.7 453.3 1681.6 458.1 1680.5 459.5 1679.3 461.8 1678.2 461.7 1677.1 461.7 1675.9 461.8 1674.8 463.4 1673.7 461.5 1672.5 461.5 1671.4 463.3 1670.3 467.4 1669.1 469.7 1668 468.5 1666.9 467 1665.7 464.7 1664.6 466.4 1663.5 466 1662.3 467.3 1661.2 470.3 1660.1 471.9 1658.9 473 1657.8 472.4 1656.7 471.4 1655.5 473.5 1654.4 473.8 1653.3 474.1 1652.1 475 1651 474.4 1649.9 473.7 1648.7 478.2 1647.6 477.5 1646.5 473.9 1645.3 473.1 1644.2 473.3 1643.1 473.2 1641.9 472.3 1640.8 476.3 1639.7 476.6 1638.5 480.2 1637.4 475.7 1636.3 474.8 1635.1 475.5 1634 477.3 1632.9 475.3 1631.7 474 1630.6 476.7 1629.5 478.4 1628.3 478.5 1627.2 480.1 1626.1 478.8 1624.9 477.6 1623.8 481 1622.7 481.3 1621.5 477.6 1620.4 477.1 1619.3 477.9 1618.1 476.9 1617 477.9 1615.9 477 1614.8 475.6 1613.6 475.6 1612.5 475.9 1611.4 477.9 1610.2 477.1 1609.1 477.5 1608 478 1606.8 476.5 1605.7 475.3 1604.6 477.4 1603.4 474.8 1602.3 475.8 1601.2 477.7 1600 479.3 1598.9 477.6 1597.8 478.6 1596.6 479.1 1595.5 476.5 1594.4 476.3 1593.2 476.9 1592.1 478.8 1591 482.6 1589.8 483 1588.7 479.9 1587.6 476.5 1586.4 476.9 1585.3 477.7 1584.2 478.7 1583 479.3 1581.9 479.2 1580.8 479.5 1579.6 479 1578.5 477.1 1577.4 477.5 1576.2 477.7 1575.1 476.4 1574 475.7 1572.8 476.8 1571.7 475.8 1570.6 476.5 1569.4 473.3 1568.3 472.3 1567.2 468.9 1566 470.2 1564.9 469.7 1563.8 466.1 1562.6 465.9 1561.5 463.5 1560.4 462.8 1559.2 461.8 1558.1 457.8 1557 454.2 1555.8 451.5 1554.7 447.7 1553.6 448.5 1552.4 448 1551.3 447.6 1550.2 444.6 1549 443 1547.9 443.4 1546.8 442 1545.6 441.6 1544.5 439.9 1543.4 438.9 1542.2 441.3 1541.1 443.3 1540 447.2 1538.8 450.5 1537.7 453.6 1536.6 455 1535.4 458.5 1534.3 460.2 1533.2 463.4 1532 466.1 1530.9 466.4 1529.8 466.9 1528.6 468 1527.5 469.3 1526.4 469.5 1525.2 472.1 1524.1 474.2 1523 474.5 1521.8 474.3 1520.7 471.7 1519.6 472.6 1518.4 473 1517.3 477.1 1516.2 479.4 1515 477.8 1513.9 477.7 1512.8 480.2 1511.7 480.5 1510.5 479.3 1509.4 478.6 1508.3 478.1 1507.1 479.8 1506 482.1 1504.9 480.4 1503.7 483.8 1502.6 482.4 1501.5 481.5 1500.3 481.4 1499.2 481.4 1498.1 481.9 1496.9 482.5 1495.8 486.3 1494.7 484.5 1493.5 484.3 1492.4 481.4 1491.3 480.5 1490.1 481 1489 482 1487.9 481.8 1486.7 479.3 1485.6 479.8 1484.5 480.6 1483.3 480.9 1482.2 479.9 1481.1 477 1479.9 479 1478.8 480.4 1477.7 480.7 1476.5 478.9 1475.4 478.1 1474.3 480.2 1473.1 477.9 1472 477.4 1470.9 479.2 1469.7 480.7 1468.6 480.6 1467.5 478.7 1466.3 478.9 1465.2 477.8 1464.1 475.8 1462.9 477 1461.8 474.2 1460.7 468.1 1459.5 467.4 1458.4 463.9 1457.3 458.4 1456.1 449.9 1455 441 1453.9 436.2 1452.7 431.3 1451.6 426.2 1450.5 424.5 1449.3 430.1 1448.2 436.8 1447.1 441 1445.9 446.6 1444.8 450.4 1443.7 453.7 1442.5 456.7 1441.4 461 1440.3 462.7 1439.1 466.8 1438 465.9 1436.9 466.3 1435.7 468.4 1434.6 469.9 1433.5 470.8 1432.3 470.8 1431.2 475.4 1430.1 478.7 1428.9 476.7 1427.8 475.5 1426.7 477.3 1425.5 477.7 1424.4 477.8 1423.3 480.2 1422.1 479.6 1421 479.1 1419.9 482.7 1418.7 483.4 1417.6 483.5 1416.5 479.2 1415.3 479.5 1414.2 479.5 1413.1 481.3 1411.9 482.8 1410.8 484.2 1409.7 487.3 1408.5 488.3 1407.4 487.3 1406.3 487.8 1405.2 487.1 1404 487.1 1402.9 488 1401.8 487.9 1400.6 488.2 1399.5 486.5 1398.4 488.2 1397.2 487.6 1396.1 487.4 1395 488.1 1393.8 490 1392.7 490.4 1391.6 491.6 1390.4 492.4 1389.3 492.7 1388.2 492.7 1387 493.8 1385.9 494.3 1384.8 494 1383.6 492.2 1382.5 490.5 1381.4 489.5 1380.2 489.2 1379.1 491.3 1378 490.9 1376.8 491.8 1375.7 491.4 1374.6 491.8 1373.4 491.3 1372.3 493.2 1371.2 493 1370 491 1368.9 489.8 1367.8 491.5 1366.6 490.3 1365.5 489.6 1364.4 488.8 1363.2 489.3 1362.1 488.9 1361 489.4 1359.8 491.6 1358.7 492.3 1357.6 491.5 1356.4 492.2 1355.3 493.6 1354.2 494.8 1353 494.1 1351.9 492.3 1350.8 489.2 1349.6 490.2 1348.5 490.9 1347.4 488.9 1346.2 488.2 1345.1 487.7 1344 489.3 1342.8 489.6 1341.7 488.7 1340.6 486.9 1339.4 487.6 1338.3 490.2 1337.2 488.7 1336 487.2 1334.9 482.6 1333.8 480.5 1332.6 482.1 1331.5 482.8 1330.4 483.4 1329.2 479.4 1328.1 476.3 1327 473.5 1325.8 473.6 1324.7 469 1323.6 471 1322.4 470.2 1321.3 470.1 1320.2 468.6 1319 471.3 1317.9 472.6 1316.8 475.7 1315.6 479.9 1314.5 482.4 1313.4 486.3 1312.2 484.5 1311.1 485.2 1310 484.4 1308.8 484.5 1307.7 482.4 1306.6 483.5 1305.4 486 1304.3 486.8 1303.2 487.7 1302.1 490.8 1300.9 489.3 1299.8 487.6 1298.7 487.1 1297.5 485.9 1296.4 486.2 1295.3 487.3 1294.1 487.2 1293 488.1 1291.9 487.9 1290.7 490.8 1289.6 491 1288.5 487.6 1287.3 488.7 1286.2 487.7 1285.1 490.1 1283.9 492.2 1282.8 489.7 1281.7 488.3 1280.5 486.8 1279.4 487.6 1278.3 490.5 1277.1 491.5 1276 490.4 1274.9 488.2 1273.7 490.3 1272.6 488.9 1271.5 487.8 1270.3 489.6 1269.2 489 1268.1 489.4 1266.9 488.7 1265.8 489.5 1264.7 488.2 1263.5 488.4 1262.4 488.8 1261.3 489.4 1260.1 485.5 1259 485.6 1257.9 489.4 1256.7 490 1255.6 488.4 1254.5 486.7 1253.3 489.3 1252.2 489.6 1251.1 487.9 1249.9 487.8 1248.8 489.4 1247.7 489.4 1246.5 487.8 1245.4 486 1244.3 485.6 1243.1 486 1242 487 1240.9 489.4 1239.7 489.7 1238.6 489.6 1237.5 487.8 1236.3 486 1235.2 486.7 1234.1 487 1232.9 488.5 1231.8 487.5 1230.7 487.6 1229.5 489.1 1228.4 489.5 1227.3 491.2 1226.1 489.1 1225 488.7 1223.9 488.6 1222.7 490 1221.6 488.5 1220.5 487.3 1219.3 485.2 1218.2 487.5 1217.1 487.6 1215.9 487 1214.8 488.1 1213.7 487.4 1212.5 488.2 1211.4 490.3 1210.3 488.3 1209.1 487.3 1208 486.7 1206.9 491.7 1205.7 491.2 1204.6 490.4 1203.5 486.6 1202.3 486.2 1201.2 485 1200.1 487 1198.9 486.2 1197.8 484.3 1196.7 481.4 1195.6 483.1 1194.4 485.2 1193.3 484 1192.2 482.6 1191 480.2 1189.9 480.9 1188.8 482.4 1187.6 485.4 1186.5 483.6 1185.4 481.5 1184.2 480.5 1183.1 481.7 1182 482.2 1180.8 479.6 1179.7 479.6 1178.6 479 1177.4 479 1176.3 478 1175.2 479.5 1174 479.3 1172.9 476.9 1171.8 476.4 1170.6 476.6 1169.5 472.9 1168.4 474.1 1167.2 473.5 1166.1 472.2 1165 469.5 1163.8 467.2 1162.7 467.7 1161.6 469.3 1160.4 467.5 1159.3 465.5 1158.2 464.4 1157 462 1155.9 460.7 1154.8 460.5 1153.6 458.4 1152.5 457.8 1151.4 455 1150.2 456.5 1149.1 455.1 1148 454.3 1146.8 453.3 1145.7 453.3 1144.6 455.8 1143.4 454.9 1142.3 453.8 1141.2 453.9 1140 453.9 1138.9 455.2 1137.8 457.5 1136.6 459.1 1135.5 461 1134.4 464.3 1133.2 466.1 1132.1 464.6 1131 464 1129.8 463.3 1128.7 465.5 1127.6 467.6 1126.4 469.3 1125.3 470 1124.2 469.8 1123 470.4 1121.9 469.8 1120.8 472.2 1119.6 471 1118.5 473.9 1117.4 475.8 1116.2 474.7 1115.1 475 1114 474.8 1112.8 476.9 1111.7 476 1110.6 476.1 1109.4 475.9 1108.3 475.9 1107.2 477.4 1106 475.9 1104.9 475 1103.8 475.1 1102.6 475.5 1101.5 473.2 1100.4 473 1099.2 470.9 1098.1 471.1 1097 471.3 1095.8 472.9 1094.7 468.8 1093.6 467.4 1092.5 466.7 1091.3 467.6 1090.2 467.3 1089.1 465.2 1087.9 463.8 1086.8 461.4 1085.7 456.5 1084.5 455.9 1083.4 455.6 1082.3 451.6 1081.1 449.5 1080 447.1 1078.9 444.6 1077.7 441.2 1076.6 441.5 1075.5 444.7 1074.3 447.6 1073.2 453.9 1072.1 453.8 1070.9 454.1 1069.8 454.9 1068.7 456.4 1067.5 460.2 1066.4 461.8 1065.3 462.4 1064.1 461.1 1063 458.6 1061.9 458.9 1060.7 463 1059.6 462.4 1058.5 463.8 1057.3 464.3 1056.2 464.8 1055.1 465.9 1053.9 464.3 1052.8 462.7 1051.7 464.6 1050.5 468 1049.4 469.3 1048.3 467.5 1047.1 467.6 1046 467.3 1044.9 464.4 1043.7 462.9 1042.6 466.8 1041.5 467.6 1040.3 465.7 1039.2 465.1 1038.1 466.2 1036.9 465.5 1035.8 463.8 1034.7 463.8 1033.5 463.9 1032.4 465.3 1031.3 468.1 1030.1 470.3 1029 470.8 1027.9 470.7 1026.7 469 1025.6 466.2 1024.5 465 1023.3 465.6 1022.2 466.5 1021.1 466.7 1019.9 466.1 1018.8 465.2 1017.7 466.6 1016.5 466.8 1015.4 467.3 1014.3 464.9 1013.1 467.5 1012 466.5 1010.9 464.2 1009.7 465.2 1008.6 464.4 1007.5 460.2 1006.3 461 1005.2 459.1 1004.1 460.1 1002.9 457.9 1001.8 457.3 1000.7 456.9 999.5 455.3 998.4 451.7 997.3 450.1 996.1 453.2 995 454.2 993.9 451.4 992.7 449 991.6 447.4 990.5 449.1 989.4 449.5 988.2 448.3 987.1 446.6 986 447.3 984.8 449.5 983.7 450.2 982.6 448.1 981.4 447.4 980.3 447.1 979.2 445.6 978 444 976.9 439.4 975.8 438.2 974.6 437.1 973.5 437.6 972.4 436.7 971.2 433.9 970.1 431 969 427.5 967.8 423.3 966.7 423.4 965.6 422.7 964.4 418.4 963.3 417.7 962.2 422.1 961 419 959.9 415.7 958.8 410.9 957.6 406.5 956.5 407.3 955.4 406.7 954.2 401.2 953.1 397.2 952 391.7 950.8 390.7 949.7 391 948.6 392 947.4 390.2 946.3 386.4 945.2 383.8 944 380.9 942.9 372.6 941.8 362.5 940.6 349.3 939.5 332.4 938.4 320.6 937.2 308.9 936.1 297.2 935 285.4 933.8 274.8 932.7 263 931.6 255.9 930.4 252.4 929.3 260.5 928.2 272.9 927 282.4 925.9 290.1 924.8 300.4 923.6 313.1 922.5 321.8 921.4 328.1 920.2 335.7 919.1 336.6 918 340.3 916.8 344.5 915.7 354 914.6 359.5 913.4 365.1 912.3 370.3 911.2 377 910 383.1 908.9 388 907.8 391 906.6 396.8 905.5 402.6 904.4 400.4 903.2 403.5 902.1 405.3 901 406.3 899.8 405.4 898.7 407.6 897.6 404 896.4 401.1 895.3 401.3 894.2 407.6 893 407.9 891.9 408.6 890.8 414 889.6 418.5 888.5 417.1 887.4 417.8 886.2 415 885.1 412.2 884 411 882.9 410.7 881.7 411.8 880.6 409.9 879.5 408 878.3 409.6 877.2 407.7 876.1 406.9 874.9 408.4 873.8 408 872.7 409.3 871.5 408.2 870.4 409 869.3 405.5 868.1 404.1 867 399.8 865.9 391.7 864.7 385.5 863.6 377 862.5 369.5 861.3 360 860.2 351.4 859.1 356.1 857.9 371.2 856.8 380.8 855.7 389.5 854.5 392.9 853.4 398.7 852.3 403.9 851.1 403.5 850 403.2 848.9 402.7 847.7 407.4 846.6 410.3 845.5 413.1 844.3 416.1 843.2 413.3 842.1 413.8 840.9 413.6 839.8 415.2 838.7 418.4 837.5 419.5 836.4 422.9 835.3 420.3 834.1 418.5 833 418.2 831.9 417.1 830.7 421.5 829.6 423.5 828.5 424.9 827.3 423.5 826.2 422.8 825.1 424.4 823.9 422.5 822.8 423.4 821.7 425.5 820.5 430.2 819.4 430.7 818.3 429.8 817.1 427.6 816 431.8 814.9 432.6 813.7 432.1 812.6 429.5 811.5 429.6 810.3 430.9 809.2 431 808.1 431.9 806.9 431.4 805.8 432.7 804.7 434.9 803.5 435.7 802.4 432.8 801.3 429 800.1 430.3 799 429.9 797.9 428.3 796.7 427.4 795.6 426 794.5 425.7 793.3 426.4 792.2 425.9 791.1 421.6 789.9 417.9 788.8 417.5 787.7 416.1 786.5 411.6 785.4 411.5 784.3 407.9 783.1 410.8 782 411.4 780.9 412.8 779.8 415.7 778.6 410.1 777.5 411.3 776.4 412 775.2 414.4 774.1 414.6 773 412.9 771.8 415.4 770.7 418.6 769.6 420.5 768.4 418.6 767.3 421.5 766.2 425.1 765 428 763.9 429.9 762.8 429.5 761.6 433.9 760.5 436.2 759.4 435 758.2 437 757.1 438.1 756 438.3 754.8 441.1 753.7 441.1 752.6 441.7 751.4 441.2 750.3 444.2 749.2 445.7 748 445.6 746.9 445.2 745.8 445.8 744.6 444.3 743.5 444.9 742.4 447.6 741.2 449.7 740.1 452.2 739 452.4 737.8 452.4 736.7 450.9 735.6 450.6 734.4 447.5 733.3 447.5 732.2 451.2 731 451.6 729.9 451.6 728.8 451.3 727.6 451.7 726.5 453.1 725.4 455 724.2 454.2 723.1 454.4 722 453.8 720.8 454.7 719.7 456.4 718.6 457 717.4 460 716.3 458.2 715.2 456.5 714 453.9 712.9 456.4 711.8 459 710.6 457.1 709.5 454.2 708.4 454.7 707.2 458.3 706.1 459.6 705 458.3 703.8 459.6 702.7 459 701.6 457.9 700.4 457.5 699.3 459 698.2 456.3 697 456.7 695.9 457.2 694.8 459.9 693.6 458.6 692.5 457.8 691.4 458.5 690.2 458.6 689.1 459.9 688 456.2 686.8 456 685.7 458.1 684.6 463.3 683.4 459 682.3 459.6 681.2 458.6 680 461.5 678.9 462.9 677.8 463.2 676.7 462.1 675.5 460.9 674.4 460.9 673.3 462.5 672.1 462.7 671 461.4 669.9 462.5 668.7 461 667.6 460.9 666.5 461.2 665.3 461.6 664.2 461.5 663.1 462 661.9 464.5 660.8 464.4 659.7 463.6 658.5 459.6 657.4 461.1 656.3 462.2 655.1 461.8 654 460.8 652.9 463.2 651.7 464.1 650.6 465.1 649.5 461.5 648.3 463.7 647.2 463.1 646.1 465.4 644.9 465 643.8 466.7 642.7 467.4 641.5 468.5 640.4 468 639.3 468 638.1 467.5 637 466.5 635.9 464.9 634.7 461.2 633.6 457.8 632.5 462.6 631.3 465 630.2 466.8 629.1 467.6 627.9 467.4 626.8 466.8 625.7 465.3 624.5 466.9 623.4 466.8 622.3 466.3 621.1 464.9 620 466.6 618.9 469.7 617.7 470.7 616.6 466.7 615.5 462.9 614.3 463.6 613.2 465.7 612.1 465.3 610.9 462 609.8 459 608.7 453.1 607.5 447.1 606.4 448.1 605.3 453.2 604.1 461.2 603 465.8 601.9 465.9 600.7 464.1 599.6 464.5 598.5 466.5 597.3 465.9 596.2 466 595.1 467 593.9 469.7 592.8 469.9 591.7 466.6 590.5 466.8 589.4 465.6 588.3 464.5 587.1 465.3 586 465.7 584.9 468.7 583.7 467.6 582.6 464.7 581.5 467.8 580.3 465.7 579.2 464 578.1 465.3 576.9 468.1 575.8 467.5 574.7 464.4 573.5 464.6 572.4 465.7 571.3 467.2 570.2 468.4 569 467 567.9 467.4 566.8 466 565.6 466.2 564.5 467.3 563.4 463.6 562.2 463.9 561.1 466 560 465.8 558.8 467.6 557.7 468.2 556.6 467 555.4 465.2 554.3 466 553.2 465.8 552 465.8 550.9 464.3 549.8 466.6 548.6 466.9 547.5 464.8 546.4 464.7 545.2 468.2 544.1 468.8 543 468.9 541.8 467.4 540.7 467.7 539.6 466.3 538.4 464.5 537.3 464.4 536.2 463.3 535 464.3 533.9 464.1 532.8 465.3 531.6 466.6 530.5 465.6 529.4 466.2 528.2 465.5 527.1 466.6 526 467.2 524.8 465 523.7 463.7 522.6 463.1 521.4 464.1 520.3 469.6 519.2 468.2 518 465.7 516.9 465.1 515.8 465.7 514.6 466.7 513.5 463.6 512.4 463.8 511.2 462 510.1 464.9 509 462.5 507.8 462.7 506.7 461.8 505.6 464.2 504.4 464.6 503.3 462.2 502.2 462.3 501 463.1 499.9 464.4 498.8 461.6 497.6 459.8 496.5 459.6 495.4 461.3 494.2 460.8 493.1 460.5 492 461.4 490.8 462.6 489.7 462.4 488.6 459.6 487.4 459.8 486.3 459.2 485.2 459.5 484 461.4 482.9 461.6 481.8 459.9 480.6 459 479.5 457.5 478.4 457.2 477.2 459.4 476.1 459.5 475 459.4 473.8 457.1 472.7 460.3 471.6 459.4 470.4 459 469.3 458.3 468.2 457.9 467.1 455.2 465.9 455.5 464.8 457.9 463.7 457.9 462.5 458.5 461.4 456.6 460.3 453.4 459.1 450.1 458 453.3 456.9 453.3 455.7 451.9 454.6 450.3 453.5 454.4 452.3 455.6 451.2 452 450.1 449.6 448.9 449.6 447.8 447.6 446.7 446.5 445.5 447.8 444.4 450.4 443.3 449.8 442.1 448.1 441 444.2 439.9 445 438.7 443.5 437.6 442.8 436.5 441.7 435.3 444.3 434.2 443.5 433.1 443.4 431.9 443.3 430.8 442.9 429.7 443 428.5 443.4 427.4 441.1 426.3 441.3 425.1 439.2 424 440.3 422.9 442 421.7 440.5 420.6 438.2 419.5 437.7 418.3 437.2 417.2 435.9 416.1 434.7 414.9 432.1 413.8 431.2 412.7 432.3 411.5 434.4 410.4 430.6 409.3 432.3 408.1 430.8 407 432.1 405.9 431.1 404.7 431.5 403.6 426.2 402.5 421.9 401.3 426.4 400.2 428.1 399.1 426.8 397.9 427.2 396.8 423.7 395.7 418.6 394.5 416.4 393.4 416.8 392.3 416.9 391.1 420.5 390 422.3 388.9 418.5 387.7 416.5 386.6 416.2 385.5 416 384.3 413.3 383.2 411.7 382.1 411.1 380.9 409.2 379.8 408.2 378.7 407.6 377.5 408.7 376.4 412.8 375.3 408.9 374.1 404.1 373 399.3 371.9 400.9 370.7 400.4 369.6 402 368.5 404.1 367.3 401.4 366.2 400.1 365.1 399.5 364 401.9 362.8 399.7 361.7 394.9 360.6 393.6 359.4 395.5 358.3 394.3 357.2 396 356 391.9 354.9 391 353.8 389.5 352.6 388.6 351.5 384.6 350.4 381.6 349.2 382.6 348.1 378.4 347 379.2 345.8 379.1 344.7 379.2 343.6 378.9 342.4 375.3 341.3 374.7 340.2 372.5 339 371.5 337.9 374 336.8 372.7 335.6 366.1 334.5 363.2 333.4 362.5 332.2 361.7 331.1 359.4 330 353.8 328.8 350.8 327.7 350.4 326.6 347.7 325.4 348.2 324.3 348.5 323.2 348.9 322 341.3 320.9 340 319.8 342 318.6 343.2 317.5 344 316.4 337 315.2 343.1 314.1 340.6 313 339.1 311.8 337.1 310.7 333.3 309.6 335.3 308.4 332.5 307.3 330.4 306.2 327.4 305 324.8 303.9 323.3 302.8 325.7 301.6 321.4 300.5 316 299.4 317 298.2 316.7 297.1 315.1 296 314.6 294.8 312.5 293.7 316.9 292.6 312.4 291.4 310.4 290.3 307.9 289.2 310.2 288 310.9 286.9 301 285.8 300.4 284.6 300 283.5 297.1 282.4 292.8 281.2 288.1 280.1 288.8 279 288.8 277.8 287.1 276.7 288.2 275.6 283.7 274.4 281.6 273.3 277.1 272.2 280.9 271 281.2 269.9 281.6 268.8 275.6 267.6 275.1 266.5 272.4 265.4 275.9 264.2 277.4 263.1 277.7 262 269.9 260.8 273.4 259.7 272.2 258.6 263.5 257.5 262.7 256.3 262.4 255.2 263.2 254.1 261.7 252.9 262.2 251.8 256.5 250.7 254.5 249.5 254.7 248.4 250.5 247.3 249.2 246.1 244.8 245 247 243.9 248.7 242.7 243.2 241.6 242 240.5 238.6 239.3 238.7 238.2 234.7 237.1 228.4 235.9 225 234.8 227.1 233.7 224.2 232.5 221.3 231.4 218.3 230.3 218.3 229.1 220.9 228 213.5 226.9 212.3 225.7 204.4 224.6 204.5 223.5 202.6 222.3 202.3 221.2 193 220.1 194.4 218.9 191.8 217.8 194.7 216.7 190 215.5 188.6 214.4 183.7 213.3 178.2 212.1 171 211 162.5 209.9 154.4 208.7 149 207.6 155Z" fill="#0a72dc"/>
<path d="M207.6 159 208.2 183.4 208.7 183.1 209.3 155.7 209.9 160.3 210.4 156.6 211 177.6 211.6 168.6 212.1 181 212.7 149.7 213.3 209.5 213.8 170.6 214.4 182.4 215 174.6 215.5 176.2 216.1 187.2 216.7 196 217.2 184.1 217.8 182.3 218.4 194.7 218.9 180 219.5 175.3 220.1 197.2 220.6 184.9 221.2 170.2 221.8 179.3 222.3 186.7 222.9 180.2 223.5 177.6 224 199 224.6 210 225.2 200.1 225.7 194.7 226.3 209.7 226.9 217 227.4 205.6 228 217.1 228.6 224.5 229.1 210.5 229.7 203.4 230.3 215.1 230.8 217.5 231.4 227.3 232 203.6 232.5 211.9 233.1 203 233.7 200.8 234.2 219.9 234.8 227.2 235.4 217 235.9 237.3 236.5 231.8 237.1 232.2 237.6 232.8 238.2 236.5 238.8 215.4 239.3 234.6 239.9 232 240.5 208.4 241 231.3 241.6 227.4 242.2 239.7 242.7 229.9 243.3 234.7 243.9 239.9 244.4 230 245 250 245.6 244.4 246.1 250.2 246.7 240.7 247.3 257.2 247.8 252.8 248.4 245.4 249 254.3 249.5 263.1 250.1 280.4 250.7 236.5 251.2 261.2 251.8 260.1 252.4 253 252.9 245.4 253.5 268.2 254.1 243.2 254.6 260 255.2 268.9 255.8 240.4 256.3 256.2 256.9 246 257.5 262.9 258 274.9 258.6 280.6 259.2 247.5 259.7 258.3 260.3 269.3 260.8 278 261.4 264.2 262 254.2 262.5 263.2 263.1 263.4 263.7 260.8 264.2 255.1 264.8 267.1 265.4 266.6 265.9 262 266.5 262.1 267.1 252.2 267.6 259.9 268.2 274.6 268.8 261.8 269.3 251.7 269.9 279.9 270.5 275.4 271 293.8 271.6 276.3 272.2 271.9 272.7 266.1 273.3 291.4 273.9 306.2 274.4 275.2 275 275.9 275.6 287.2 276.1 272.1 276.7 278.3 277.3 279.7 277.8 284.9 278.4 294.7 279 286.8 279.5 296.8 280.1 284.7 280.7 293.1 281.2 276.7 281.8 283.5 282.4 305.3 282.9 293.2 283.5 302.5 284.1 300.7 284.6 307.6 285.2 305.9 285.8 307.7 286.3 295.9 286.9 287.2 287.5 292.5 288 295.5 288.6 291.5 289.2 298.6 289.7 303.4 290.3 308.2 290.9 303 291.4 290.9 292 307 292.6 309 293.1 315.8 293.7 314.4 294.3 306.8 294.8 307.7 295.4 329.1 296 317.5 296.5 325.7 297.1 327.5 297.7 303.1 298.2 315.2 298.8 314.4 299.4 314.7 299.9 315.3 300.5 314.3 301.1 315.8 301.6 302.8 302.2 316.1 302.8 311.4 303.3 319.8 303.9 316 304.5 324 305 326.6 305.6 324.5 306.2 325.1 306.7 326.2 307.3 321.8 307.9 326 308.4 325.3 309 333.4 309.6 329.4 310.1 335.3 310.7 319.8 311.3 338.7 311.8 325.2 312.4 327.6 313 333.2 313.5 329.3 314.1 337.4 314.7 331.8 315.2 326.6 315.8 328.9 316.4 347.2 316.9 336.6 317.5 326.6 318.1 335.8 318.6 323.4 319.2 348 319.8 322 320.3 339.6 320.9 339.6 321.5 323.5 322 338.7 322.6 344 323.2 340.2 323.7 337.7 324.3 344.6 324.9 340 325.4 341.4 326 339.7 326.6 346.1 327.1 335 327.7 349.3 328.3 338.7 328.8 336.1 329.4 351.3 330 360.2 330.5 355.3 331.1 345.5 331.7 355.5 332.2 346.6 332.8 349 333.4 353.9 333.9 337.8 334.5 355.4 335.1 347.9 335.6 351.9 336.2 345.3 336.8 346.4 337.3 352.6 337.9 373.8 338.5 375.3 339 363.4 339.6 372.4 340.2 363.7 340.7 351.9 341.3 370.7 341.9 373.3 342.4 368 343 373.7 343.6 374.8 344.1 366.6 344.7 363.8 345.3 372.5 345.8 374.1 346.4 373.4 347 383.9 347.5 389.2 348.1 373.9 348.7 383.6 349.2 386.2 349.8 389.7 350.4 390.1 350.9 380.6 351.5 385.8 352.1 395.7 352.6 388.3 353.2 379.5 353.8 387.8 354.3 391.4 354.9 386.2 355.5 380.1 356 395.3 356.6 377.7 357.2 393.4 357.7 388.2 358.3 380.4 358.9 400 359.4 395.8 360 385.9 360.6 397.7 361.1 390.2 361.7 380.9 362.3 390.5 362.8 397.4 363.4 399.6 364 394.7 364.5 394 365.1 397.6 365.6 394.1 366.2 405.1 366.8 399.4 367.3 400.4 367.9 401.4 368.5 392.2 369 396.5 369.6 411.9 370.2 404.5 370.7 399.7 371.3 403.5 371.9 394.8 372.4 403.2 373 398.3 373.6 404 374.1 391.5 374.7 418.2 375.3 396.8 375.8 390.3 376.4 400.3 377 400.8 377.5 403.2 378.1 394.2 378.7 406 379.2 428.6 379.8 397.4 380.4 408.8 380.9 404.4 381.5 407.9 382.1 394.5 382.6 399.4 383.2 409.8 383.8 406 384.3 416.4 384.9 401.8 385.5 408 386 428.8 386.6 402.5 387.2 406 387.7 412.8 388.3 414.9 388.9 420.9 389.4 416.3 390 410.2 390.6 416.8 391.1 432.1 391.7 422.7 392.3 397.6 392.8 414.9 393.4 409.5 394 421.4 394.5 417.2 395.1 440.8 395.7 424.9 396.2 424.2 396.8 420.5 397.4 419.6 397.9 424.4 398.5 429 399.1 423.9 399.6 419.1 400.2 429.5 400.8 424.4 401.3 423.8 401.9 419.4 402.5 419 403 418.4 403.6 408.2 404.2 432.8 404.7 431.2 405.3 426.7 405.9 434.6 406.4 431.5 407 432 407.6 414.6 408.1 429.7 408.7 434 409.3 440.8 409.8 440.1 410.4 438 411 421.6 411.5 415.3 412.1 431 412.7 427.3 413.2 431.3 413.8 427.6 414.4 429.1 414.9 420 415.5 432 416.1 427.2 416.6 432.9 417.2 435.2 417.8 431 418.3 434.6 418.9 431.4 419.5 437.9 420 436.5 420.6 431.6 421.2 432.7 421.7 447.8 422.3 437.2 422.9 444.1 423.4 440.4 424 436.1 424.6 434.3 425.1 438.5 425.7 438.9 426.3 440.3 426.8 427.4 427.4 431.6 428 436 428.5 448 429.1 422.2 429.7 439 430.2 434.6 430.8 440.2 431.4 435.9 431.9 440.5 432.5 446.4 433.1 440.2 433.6 440.2 434.2 442 434.8 436.3 435.3 443.4 435.9 440.9 436.5 437.1 437 443.1 437.6 443.8 438.2 449.1 438.7 444.1 439.3 441 439.9 452 440.4 451.1 441 450.6 441.6 447.9 442.1 442.9 442.7 442.3 443.3 443.3 443.8 452.1 444.4 447.4 445 439.4 445.5 447.6 446.1 441.7 446.7 450.4 447.2 441.7 447.8 439.1 448.4 445.9 448.9 443.6 449.5 435 450.1 452 450.6 456.9 451.2 436.7 451.8 455.2 452.3 442.9 452.9 444.9 453.5 447.3 454 432.4 454.6 455 455.2 449.5 455.7 438.5 456.3 443.4 456.9 436.3 457.4 444.9 458 452.8 458.6 437.7 459.1 446.3 459.7 449.9 460.3 454.9 460.8 457.9 461.4 447.8 462 447.5 462.5 452.3 463.1 447.2 463.7 450.8 464.2 458.6 464.8 461.2 465.4 455.1 465.9 450.1 466.5 455.9 467.1 442.1 467.6 452.4 468.2 448.3 468.7 465.7 469.3 456 469.9 454.6 470.4 453.6 471 440.7 471.6 457.6 472.1 462.5 472.7 449.6 473.3 456.9 473.8 457.6 474.4 445 475 457.7 475.5 459.6 476.1 454.9 476.7 453.7 477.2 459.1 477.8 446.2 478.4 455.4 478.9 460.4 479.5 448.6 480.1 461.4 480.6 453.3 481.2 444.5 481.8 456.7 482.3 450.8 482.9 459.3 483.5 450.7 484 464.5 484.6 453.4 485.2 460.2 485.7 455.2 486.3 455 486.9 462.2 487.4 459 488 454.9 488.6 450.1 489.1 461.7 489.7 461 490.3 456 490.8 459.5 491.4 452.1 492 453.4 492.5 453.3 493.1 459 493.7 460.3 494.2 456.2 494.8 463.2 495.4 462.3 495.9 459.6 496.5 466.2 497.1 458.9 497.6 460.3 498.2 464.4 498.8 461.6 499.3 465.7 499.9 455.2 500.5 471 501 458.1 501.6 461.4 502.2 455.3 502.7 464.6 503.3 474.2 503.9 467 504.4 466.8 505 453.2 505.6 457.7 506.1 459.9 506.7 456.9 507.3 467 507.8 464 508.4 463.8 509 466.9 509.5 458.2 510.1 458.9 510.7 459.4 511.2 469.2 511.8 468.1 512.4 469.9 512.9 473.2 513.5 458.2 514.1 460 514.6 464.4 515.2 457 515.8 461.7 516.3 468.8 516.9 470.2 517.5 469.8 518 463.6 518.6 462.3 519.2 470.2 519.7 461.4 520.3 463.6 520.9 467.5 521.4 455.5 522 454.8 522.6 458.7 523.1 460.8 523.7 460.4 524.3 459.6 524.8 462.1 525.4 451.3 526 456.7 526.5 462.9 527.1 457.5 527.7 449.6 528.2 457 528.8 459.2 529.4 462.8 529.9 458.2 530.5 465.5 531.1 472.7 531.6 463.3 532.2 470.5 532.8 465.4 533.3 458.7 533.9 463.5 534.5 459.9 535 473.2 535.6 458.2 536.2 471.8 536.7 467.5 537.3 443.3 537.9 467.7 538.4 470.4 539 457.9 539.6 467.6 540.1 453.1 540.7 464.4 541.3 453 541.8 466.1 542.4 454.8 543 449.5 543.5 466.8 544.1 476.4 544.7 461 545.2 467.2 545.8 465 546.4 463.6 546.9 467.3 547.5 473.8 548.1 457.8 548.6 468.4 549.2 467 549.8 456.4 550.3 473.2 550.9 474.3 551.5 459.4 552 473.3 552.6 463.7 553.2 462.1 553.7 470.8 554.3 464.6 554.9 464.4 555.4 472 556 469.8 556.6 465.9 557.1 454.2 557.7 452.8 558.3 468.6 558.8 456.9 559.4 462 560 455.7 560.5 460 561.1 453.5 561.7 470.2 562.2 455.4 562.8 460.7 563.4 460.3 563.9 468.4 564.5 454.1 565.1 463.3 565.6 463.2 566.2 467.7 566.8 467.4 567.3 461.3 567.9 464.5 568.5 460.5 569 466.3 569.6 464.2 570.2 459.6 570.7 462.8 571.3 465.1 571.9 474.8 572.4 460.3 573 464.5 573.5 471.4 574.1 450.8 574.7 451.4 575.2 451.1 575.8 461.9 576.4 475.7 576.9 464.4 577.5 470.2 578.1 462.2 578.6 449.6 579.2 450.3 579.8 469.7 580.3 463.3 580.9 453.4 581.5 467.3 582 452.7 582.6 465.8 583.2 469.5 583.7 456.8 584.3 455.1 584.9 464.6 585.4 456.7 586 468.9 586.6 457.7 587.1 469.6 587.7 465.4 588.3 461.9 588.8 459.5 589.4 464.7 590 453.3 590.5 460 591.1 459.7 591.7 465.4 592.2 454.2 592.8 470.7 593.4 458.7 593.9 455.4 594.5 470.8 595.1 472.3 595.6 462.4 596.2 458 596.8 461.5 597.3 457.7 597.9 459.2 598.5 470.4 599 464.7 599.6 462 600.2 463 600.7 459.4 601.3 464.3 601.9 465.3 602.4 457.7 603 458 603.6 468.8 604.1 455.7 604.7 450.7 605.3 460.1 605.8 446.7 606.4 437.6 607 445.4 607.5 435.6 608.1 438.4 608.7 447.9 609.2 447.7 609.8 447.4 610.4 451.3 610.9 453.9 611.5 465.7 612.1 457 612.6 460.6 613.2 484.8 613.8 462.5 614.3 473.9 614.9 472 615.5 461.8 616 447.3 616.6 464.8 617.2 466.7 617.7 469.7 618.3 464.7 618.9 469.7 619.4 470.9 620 457.7 620.6 473.9 621.1 466.3 621.7 461 622.3 462 622.8 472.4 623.4 467.5 624 452.1 624.5 463 625.1 461.6 625.7 460.4 626.2 460.3 626.8 454.8 627.4 466.4 627.9 455.6 628.5 458 629.1 457 629.6 456.6 630.2 464.9 630.8 464.5 631.3 454.8 631.9 453.7 632.5 457.7 633 465.8 633.6 460.9 634.2 461.1 634.7 457.9 635.3 457.4 635.9 458.8 636.4 448.2 637 467.6 637.6 454.5 638.1 456 638.7 466.7 639.3 460.4 639.8 458.6 640.4 457 641 451 641.5 461.2 642.1 466.4 642.7 454.2 643.2 466 643.8 452.4 644.4 451.1 644.9 461.8 645.5 458.5 646.1 463.1 646.6 453.6 647.2 453.2 647.8 449.7 648.3 449 648.9 453.4 649.5 450.9 650 460.7 650.6 455.5 651.2 448.8 651.7 473.7 652.3 455.3 652.9 450.7 653.4 464 654 464.4 654.6 452.1 655.1 450 655.7 450.7 656.3 462.7 656.8 456.2 657.4 453.4 658 459.4 658.5 466.4 659.1 451.3 659.7 457.3 660.2 451.5 660.8 472.1 661.4 469.7 661.9 464.4 662.5 456.9 663.1 461 663.6 447 664.2 462.6 664.8 452.3 665.3 452.6 665.9 456.2 666.5 458.7 667 463.7 667.6 464.9 668.2 462.9 668.7 454.1 669.3 463.8 669.9 458.7 670.4 465.9 671 453.1 671.6 441.3 672.1 453.2 672.7 467.4 673.3 457.8 673.8 454.5 674.4 459.2 675 457 675.5 456.4 676.1 451.5 676.7 456.1 677.2 457 677.8 452.1 678.3 448.4 678.9 456.4 679.5 462 680 463 680.6 458.9 681.2 459.2 681.7 470.1 682.3 456.5 682.9 461.8 683.4 466.7 684 455.5 684.6 456.7 685.1 461.4 685.7 464.6 686.3 456 686.8 457.2 687.4 456.6 688 449.6 688.5 462.7 689.1 455.2 689.7 445.9 690.2 454 690.8 446.4 691.4 450.9 691.9 456 692.5 450.6 693.1 461.9 693.6 447.2 694.2 455.3 694.8 457.5 695.3 464.3 695.9 461.9 696.5 457.2 697 456.7 697.6 456.6 698.2 463.3 698.7 454.7 699.3 463 699.9 457.3 700.4 458.3 701 454.1 701.6 467.8 702.1 450.4 702.7 453.9 703.3 453.1 703.8 457.2 704.4 453.6 705 455.6 705.5 459.2 706.1 445.1 706.7 453.7 707.2 449 707.8 458.4 708.4 450.2 708.9 451.2 709.5 454.9 710.1 463.8 710.6 457.2 711.2 455.4 711.8 462.1 712.3 447.1 712.9 439.3 713.5 449.5 714 450.1 714.6 459.2 715.2 463.6 715.7 444.2 716.3 466.9 716.9 461.3 717.4 456.4 718 454.3 718.6 465.3 719.1 451.5 719.7 448.6 720.3 452.7 720.8 443.3 721.4 452 722 449.1 722.5 453.1 723.1 454 723.7 445.7 724.2 458.9 724.8 444.7 725.4 455.5 725.9 441.9 726.5 454.4 727.1 446.3 727.6 450.9 728.2 445.9 728.8 436.8 729.3 437.7 729.9 449.6 730.5 453.3 731 441.6 731.6 437.9 732.2 445.3 732.7 447.4 733.3 443.4 733.9 441.9 734.4 451.7 735 452.5 735.6 448.1 736.1 438.2 736.7 443.5 737.3 442.6 737.8 435.9 738.4 454.9 739 445.8 739.5 441.6 740.1 452.4 740.7 453.3 741.2 450 741.8 451.7 742.4 447 742.9 429.7 743.5 441.3 744.1 449.4 744.6 438.9 745.2 443 745.8 444.7 746.3 450.7 746.9 449.4 747.5 447.8 748 441.8 748.6 447.5 749.2 444.7 749.7 439.6 750.3 448.5 750.9 443.8 751.4 435.9 752 449.1 752.6 439.1 753.1 442.7 753.7 428.7 754.3 438.1 754.8 432.9 755.4 431.7 756 424.3 756.5 447.7 757.1 432.4 757.7 435.6 758.2 441.8 758.8 434.9 759.4 437 759.9 426 760.5 434.6 761.1 429.8 761.6 434.7 762.2 431 762.8 420.3 763.3 414.7 763.9 418.3 764.5 427.5 765 424.7 765.6 425.1 766.2 409.9 766.7 405 767.3 417.2 767.9 418.4 768.4 416.8 769 420.5 769.6 417.8 770.1 409.7 770.7 410.2 771.3 415.6 771.8 415.2 772.4 414.4 773 427.6 773.5 410.9 774.1 414 774.7 406.4 775.2 410.8 775.8 414.8 776.4 414 776.9 408.6 777.5 413 778.1 408.4 778.6 395.5 779.2 385.5 779.8 431.7 780.3 408.9 780.9 404.2 781.5 395 782 396.7 782.6 414 783.1 388.9 783.7 405.3 784.3 413.6 784.8 408.9 785.4 413.6 786 406.7 786.5 423 787.1 402.9 787.7 399.9 788.2 411.1 788.8 419.5 789.4 412 789.9 421.4 790.5 414 791.1 412.1 791.6 430.3 792.2 431.5 792.8 431.1 793.3 420.1 793.9 416.1 794.5 416.1 795 423 795.6 428.3 796.2 428.2 796.7 415.6 797.3 427 797.9 428 798.4 425.4 799 424.9 799.6 423.7 800.1 427.3 800.7 424.2 801.3 427.1 801.8 420.3 802.4 427.5 803 423.3 803.5 400 804.1 427.8 804.7 424.4 805.2 433.3 805.8 426.4 806.4 426.2 806.9 429.5 807.5 427.3 808.1 424.8 808.6 417 809.2 450.9 809.8 409.5 810.3 425.4 810.9 434.6 811.5 427.7 812 427.4 812.6 428.4 813.2 433.6 813.7 428.2 814.3 445.9 814.9 420.3 815.4 428.3 816 425.3 816.6 424.2 817.1 431.3 817.7 439.4 818.3 424.2 818.8 422.6 819.4 432.1 820 430.8 820.5 440.5 821.1 433 821.7 427.3 822.2 423.1 822.8 425 823.4 422.6 823.9 414.7 824.5 422.8 825.1 419.8 825.6 419.5 826.2 418.6 826.8 433.5 827.3 425.5 827.9 428.5 828.5 417.4 829 415.4 829.6 418.6 830.2 422.3 830.7 417.5 831.3 417.9 831.9 425.3 832.4 422.1 833 412.2 833.6 415.2 834.1 412.6 834.7 417.7 835.3 408.1 835.8 414 836.4 420.1 837 413.7 837.5 407.3 838.1 408 838.7 413 839.2 415.4 839.8 417.5 840.4 409.5 840.9 402.2 841.5 418.5 842.1 412 842.6 411.2 843.2 411.4 843.8 401.6 844.3 405.8 844.9 409.5 845.5 415.7 846 408.7 846.6 387.4 847.2 405.8 847.7 410.2 848.3 416.5 848.9 411.8 849.4 422.8 850 414 850.6 411.5 851.1 406.7 851.7 390 852.3 403.5 852.8 398.5 853.4 388.1 854 392.6 854.5 388.5 855.1 380.1 855.7 380.9 856.2 376.9 856.8 377.2 857.4 368.5 857.9 371.4 858.5 349.5 859.1 354.4 859.6 339.3 860.2 345.9 860.8 355.5 861.3 357.1 861.9 359.9 862.5 363.6 863 376.5 863.6 361.8 864.2 377.9 864.7 356.1 865.3 377.9 865.9 386.2 866.4 383.7 867 394.2 867.6 399.4 868.1 389.3 868.7 399.3 869.3 399 869.8 390.7 870.4 403.6 871 397.2 871.5 424.7 872.1 403.3 872.7 422.6 873.2 406.2 873.8 422.7 874.4 413.4 874.9 413.4 875.5 415.4 876.1 414.2 876.6 416.2 877.2 418.3 877.8 404 878.3 398.6 878.9 388.1 879.5 405.3 880 412.9 880.6 411.8 881.2 409.7 881.7 409 882.3 409.4 882.9 412.3 883.4 418.5 884 405.2 884.6 421.3 885.1 405.7 885.7 414.2 886.2 411.9 886.8 412.9 887.4 406.2 887.9 406.8 888.5 411.4 889.1 403.7 889.6 442.7 890.2 408.7 890.8 404.9 891.3 404.6 891.9 399.2 892.5 387.9 893 401.1 893.6 403.9 894.2 391.7 894.7 401.9 895.3 393.1 895.9 400 896.4 402.1 897 402.3 897.6 400.1 898.1 393.5 898.7 403.6 899.3 393.8 899.8 399.7 900.4 402.3 901 395.8 901.5 386.5 902.1 400.5 902.7 389.5 903.2 384.5 903.8 388.5 904.4 406.7 904.9 393.8 905.5 376.7 906.1 398.5 906.6 407.9 907.2 401.8 907.8 379.9 908.3 385.4 908.9 386.8 909.5 385.6 910 376.8 910.6 366 911.2 378.6 911.7 372.2 912.3 357.6 912.9 362.6 913.4 364.1 914 359.4 914.6 360.8 915.1 361.2 915.7 357.6 916.3 350 916.8 338.1 917.4 350.5 918 352.8 918.5 353.3 919.1 335.5 919.7 331.9 920.2 339.3 920.8 336.1 921.4 326.4 921.9 326 922.5 310.8 923.1 317 923.6 303.6 924.2 304.6 924.8 299 925.3 290.3 925.9 273.3 926.5 275.9 927 278.6 927.6 270.3 928.2 262.1 928.7 261.1 929.3 258.3 929.9 256.6 930.4 242.9 931 247.3 931.6 247.4 932.1 244.8 932.7 245.8 933.3 259.3 933.8 263.1 934.4 291.3 935 283.2 935.5 287 936.1 291.6 936.7 312 937.2 301.5 937.8 313.2 938.4 315.8 938.9 324.6 939.5 332.3 940.1 346.9 940.6 337.3 941.2 356 941.8 374 942.3 365.3 942.9 370.5 943.5 368.1 944 361 944.6 378.1 945.2 389.5 945.7 380.1 946.3 371.3 946.9 386 947.4 385.5 948 391.8 948.6 393.8 949.1 386.1 949.7 391.5 950.3 378.3 950.8 398 951.4 393.7 952 401.1 952.5 403 953.1 397.6 953.7 398.4 954.2 395 954.8 389.4 955.4 401.8 955.9 406.6 956.5 399.9 957.1 412.7 957.6 408.7 958.2 412.7 958.8 406.5 959.3 401.1 959.9 417 960.5 418.3 961 414.3 961.6 413 962.2 414.5 962.7 418 963.3 416.4 963.9 409.3 964.4 427.5 965 415.3 965.6 421.2 966.1 421.7 966.7 424.1 967.3 405.3 967.8 429.9 968.4 426.1 969 426.6 969.5 430.9 970.1 419.1 970.7 407.3 971.2 429.9 971.8 438.4 972.4 439.2 972.9 430.6 973.5 435.2 974.1 439.5 974.6 427.6 975.2 436 975.8 436.8 976.3 449.1 976.9 437.3 977.5 449.9 978 439.7 978.6 430.1 979.2 453.1 979.7 434.8 980.3 444.2 980.9 450.8 981.4 437.6 982 433.3 982.6 445.3 983.1 442.5 983.7 435.3 984.3 435.7 984.8 440.5 985.4 447 986 440 986.5 447.3 987.1 453.8 987.7 453 988.2 452.9 988.8 452.1 989.4 428.1 989.9 451.5 990.5 446.6 991 444.1 991.6 438.8 992.2 435.8 992.7 438.6 993.3 445.6 993.9 439.4 994.4 442.8 995 444.8 995.6 453.4 996.1 447.9 996.7 448.9 997.3 457 997.8 449.5 998.4 455.6 999 447 999.5 455.3 1000.1 453 1000.7 452.7 1001.2 450.5 1001.8 447.7 1002.4 453.6 1002.9 451.9 1003.5 459.4 1004.1 458.6 1004.6 446.5 1005.2 458.1 1005.8 452.6 1006.3 458.9 1006.9 453.1 1007.5 448.6 1008 463.2 1008.6 461.2 1009.2 451.8 1009.7 449.2 1010.3 455.8 1010.9 454 1011.4 458 1012 464.8 1012.6 468.7 1013.1 459.5 1013.7 470.1 1014.3 470.9 1014.8 462.5 1015.4 456.6 1016 469.3 1016.5 468.8 1017.1 478.6 1017.7 472.8 1018.2 468.6 1018.8 473.3 1019.4 458 1019.9 464.1 1020.5 461 1021.1 471.7 1021.6 464.4 1022.2 443.9 1022.8 468 1023.3 456.1 1023.9 466 1024.5 458 1025 462.9 1025.6 465.8 1026.2 464.9 1026.7 459 1027.3 472.2 1027.9 468.1 1028.4 465.6 1029 468.1 1029.6 462 1030.1 474.6 1030.7 465.5 1031.3 466.3 1031.8 466.4 1032.4 458.4 1033 456.8 1033.5 463.3 1034.1 466.1 1034.7 470.1 1035.2 464.6 1035.8 455.4 1036.4 464.5 1036.9 466 1037.5 466.7 1038.1 463.2 1038.6 455 1039.2 472.5 1039.8 456.5 1040.3 466.9 1040.9 453.1 1041.5 465.7 1042 458.4 1042.6 470.7 1043.2 474 1043.7 471.1 1044.3 459.1 1044.9 460.4 1045.4 460.8 1046 469.5 1046.6 467.1 1047.1 464.1 1047.7 464.2 1048.3 466.1 1048.8 466.9 1049.4 470.5 1050 461.2 1050.5 463 1051.1 451.3 1051.7 455.5 1052.2 458.8 1052.8 455.3 1053.4 461.1 1053.9 464.2 1054.5 458.3 1055.1 456.7 1055.6 455.7 1056.2 459.3 1056.8 453.9 1057.3 459.1 1057.9 458.4 1058.5 460 1059 462.4 1059.6 457.4 1060.2 458.2 1060.7 466.4 1061.3 456 1061.9 459.9 1062.4 455.4 1063 452.6 1063.6 452.3 1064.1 450.4 1064.7 455.7 1065.3 452.2 1065.8 454.4 1066.4 462.7 1067 455.7 1067.5 463.9 1068.1 458 1068.7 461.3 1069.2 452.5 1069.8 455.7 1070.4 467.6 1070.9 457.1 1071.5 457.8 1072.1 452 1072.6 453 1073.2 442.4 1073.8 442.7 1074.3 448.7 1074.9 448.6 1075.5 441.4 1076 440.2 1076.6 437.1 1077.2 438 1077.7 432 1078.3 430.8 1078.9 438.4 1079.4 431.2 1080 437.3 1080.6 441.1 1081.1 442.6 1081.7 450.7 1082.3 448.2 1082.8 451 1083.4 447.2 1084 449.9 1084.5 456.9 1085.1 457.3 1085.7 453.7 1086.2 457.5 1086.8 458.3 1087.4 459.7 1087.9 468.7 1088.5 458.4 1089.1 463.3 1089.6 465.6 1090.2 462.3 1090.8 453.6 1091.3 468.6 1091.9 465.8 1092.5 464 1093 464.2 1093.6 464.7 1094.2 459.8 1094.7 464.8 1095.3 454.1 1095.8 462.5 1096.4 455.2 1097 461 1097.5 467.7 1098.1 462.8 1098.7 462.2 1099.2 468.6 1099.8 464.8 1100.4 464.9 1100.9 464.2 1101.5 474.9 1102.1 474.5 1102.6 471.3 1103.2 457.8 1103.8 472.6 1104.3 461.4 1104.9 471.4 1105.5 458.8 1106 482.1 1106.6 462.7 1107.2 482.7 1107.7 475.2 1108.3 460.6 1108.9 467.6 1109.4 477.5 1110 476 1110.6 461.3 1111.1 466.2 1111.7 463.1 1112.3 463.7 1112.8 464.9 1113.4 486.2 1114 469.8 1114.5 467.3 1115.1 467.7 1115.7 473 1116.2 473.8 1116.8 465.4 1117.4 478.2 1117.9 465 1118.5 469.8 1119.1 474.2 1119.6 480.3 1120.2 468.1 1120.8 470.3 1121.3 475.7 1121.9 471 1122.5 472.9 1123 472.2 1123.6 467.6 1124.2 469.9 1124.7 475.3 1125.3 465.8 1125.9 474.7 1126.4 454.3 1127 460.3 1127.6 472.7 1128.1 467.5 1128.7 460.8 1129.3 465.5 1129.8 472.8 1130.4 460.2 1131 466.9 1131.5 462.2 1132.1 461.9 1132.7 461.9 1133.2 472.2 1133.8 456.4 1134.4 457.7 1134.9 464.7 1135.5 454 1136.1 444.7 1136.6 463.7 1137.2 459.9 1137.8 457.6 1138.3 457.8 1138.9 450 1139.5 470.6 1140 448.9 1140.6 449.9 1141.2 444.3 1141.7 447.2 1142.3 456.2 1142.9 448.8 1143.4 451.3 1144 445.9 1144.6 455.2 1145.1 447.3 1145.7 441.4 1146.3 452.7 1146.8 447.6 1147.4 453.8 1148 451.5 1148.5 453.8 1149.1 455.2 1149.7 447.9 1150.2 449.1 1150.8 465.4 1151.4 456.4 1151.9 458.3 1152.5 455.3 1153.1 447.8 1153.6 450.8 1154.2 463.8 1154.8 453.6 1155.3 457 1155.9 452.9 1156.5 456.7 1157 458.9 1157.6 460 1158.2 462.1 1158.7 458.2 1159.3 461.7 1159.9 464.5 1160.4 464.9 1161 461.3 1161.6 472.3 1162.1 464.6 1162.7 464.7 1163.3 461.4 1163.8 469.6 1164.4 460.6 1165 458.1 1165.5 463.4 1166.1 472.8 1166.7 463.4 1167.2 475.5 1167.8 469.2 1168.4 463 1168.9 470.5 1169.5 480.5 1170.1 468.8 1170.6 467.2 1171.2 476.4 1171.8 487.1 1172.3 482.4 1172.9 476 1173.5 480 1174 480.7 1174.6 484.8 1175.2 489.8 1175.7 477.9 1176.3 484.4 1176.9 477 1177.4 482 1178 474.5 1178.6 472.5 1179.1 478 1179.7 471.4 1180.3 480.5 1180.8 473.3 1181.4 477.9 1182 475.7 1182.5 473.6 1183.1 476.7 1183.7 481.6 1184.2 491.3 1184.8 471 1185.4 476.2 1185.9 474.5 1186.5 470.6 1187.1 476 1187.6 470.4 1188.2 473.9 1188.8 481.6 1189.3 466.9 1189.9 479.1 1190.5 481 1191 475.5 1191.6 482.7 1192.2 482.4 1192.7 480.2 1193.3 488.3 1193.9 475.4 1194.4 483.8 1195 478 1195.6 475 1196.1 479.1 1196.7 478.1 1197.3 484.3 1197.8 472.7 1198.4 479.5 1198.9 478.9 1199.5 488.3 1200.1 476.5 1200.6 487.1 1201.2 473.1 1201.8 483.2 1202.3 480.9 1202.9 484.1 1203.5 478.4 1204 472.4 1204.6 475.4 1205.2 490 1205.7 483.7 1206.3 480.2 1206.9 488.3 1207.4 480.6 1208 479.9 1208.6 472.9 1209.1 489.7 1209.7 494.7 1210.3 480.5 1210.8 486.9 1211.4 492.4 1212 495.2 1212.5 463.9 1213.1 486.3 1213.7 488.8 1214.2 478.1 1214.8 485.4 1215.4 484.1 1215.9 487 1216.5 481.3 1217.1 486.5 1217.6 481.3 1218.2 485.6 1218.8 483.3 1219.3 480.6 1219.9 475.5 1220.5 495.2 1221 487.6 1221.6 485.7 1222.2 478.9 1222.7 481.6 1223.3 491.4 1223.9 487.3 1224.4 480.9 1225 484.8 1225.6 485 1226.1 482.5 1226.7 478.8 1227.3 489.2 1227.8 485.2 1228.4 483.4 1229 475.9 1229.5 479.4 1230.1 483.4 1230.7 488.6 1231.2 482.9 1231.8 491.2 1232.4 486.7 1232.9 484.1 1233.5 473.4 1234.1 482.5 1234.6 481.3 1235.2 488.4 1235.8 489.2 1236.3 493.8 1236.9 486.2 1237.5 479.5 1238 504.7 1238.6 485.7 1239.2 482.1 1239.7 481.6 1240.3 475.6 1240.9 485.9 1241.4 485.6 1242 492 1242.6 488.8 1243.1 485.7 1243.7 493.3 1244.3 482.1 1244.8 481.2 1245.4 483.1 1246 477.2 1246.5 482.4 1247.1 480.3 1247.7 485.9 1248.2 484.1 1248.8 474.7 1249.4 484.3 1249.9 497.2 1250.5 475.8 1251.1 481.7 1251.6 484.4 1252.2 479.5 1252.8 484.5 1253.3 487.7 1253.9 482.4 1254.5 489.9 1255 491.1 1255.6 484.5 1256.2 491 1256.7 497.2 1257.3 490.6 1257.9 493.6 1258.4 493.4 1259 487.1 1259.6 492 1260.1 489.3 1260.7 482.1 1261.3 488.3 1261.8 489 1262.4 488.8 1263 480.9 1263.5 487.4 1264.1 492.5 1264.7 488 1265.2 491.2 1265.8 492.2 1266.4 488 1266.9 491.7 1267.5 486.8 1268.1 493.8 1268.6 487.1 1269.2 482.7 1269.8 486.5 1270.3 486.9 1270.9 488 1271.5 487.5 1272 479.9 1272.6 482.5 1273.2 486.7 1273.7 487.8 1274.3 484.8 1274.9 497.9 1275.4 494.3 1276 485.6 1276.6 488.5 1277.1 491.2 1277.7 486.7 1278.3 477.7 1278.8 486.7 1279.4 487.1 1280 496.5 1280.5 476.7 1281.1 491.8 1281.7 482.6 1282.2 488.2 1282.8 481.3 1283.4 483.7 1283.9 487.4 1284.5 482.8 1285.1 487.1 1285.6 482.9 1286.2 481.4 1286.8 483.5 1287.3 482.8 1287.9 486.1 1288.5 497.8 1289 480.8 1289.6 478.6 1290.2 486.1 1290.7 494.3 1291.3 490.7 1291.9 490.6 1292.4 489.3 1293 478.4 1293.6 482.7 1294.1 469.5 1294.7 479.2 1295.3 485 1295.8 475.3 1296.4 474.3 1297 478.9 1297.5 486.4 1298.1 492.4 1298.7 498.2 1299.2 491.6 1299.8 476.6 1300.4 473.6 1300.9 484.8 1301.5 488.2 1302.1 473.9 1302.6 479.1 1303.2 478.1 1303.7 479.8 1304.3 480.3 1304.9 484.3 1305.4 486.9 1306 482.6 1306.6 486 1307.1 492.7 1307.7 478.9 1308.3 479 1308.8 487.8 1309.4 493.6 1310 484.9 1310.5 488.5 1311.1 481.9 1311.7 486.9 1312.2 479.8 1312.8 486 1313.4 485.3 1313.9 484 1314.5 485.6 1315.1 483.2 1315.6 474.2 1316.2 478.8 1316.8 464.6 1317.3 476.1 1317.9 483.1 1318.5 472.1 1319 471.3 1319.6 471.2 1320.2 474.7 1320.7 466.8 1321.3 472.6 1321.9 468.4 1322.4 467.8 1323 470.4 1323.6 469.1 1324.1 461.7 1324.7 478.7 1325.3 469.3 1325.8 461.9 1326.4 475.2 1327 471.5 1327.5 473.6 1328.1 476.2 1328.7 470.4 1329.2 451.4 1329.8 477.1 1330.4 480.4 1330.9 485 1331.5 477.9 1332.1 479.8 1332.6 484.2 1333.2 483.4 1333.8 484.2 1334.3 486.8 1334.9 481.4 1335.5 493.4 1336 482.9 1336.6 487.3 1337.2 485.3 1337.7 483.4 1338.3 488 1338.9 490.6 1339.4 493.1 1340 488.9 1340.6 484.3 1341.1 490.3 1341.7 479.9 1342.3 488.4 1342.8 493.8 1343.4 492.2 1344 483.7 1344.5 482 1345.1 497.3 1345.7 487.7 1346.2 481.3 1346.8 483.9 1347.4 488.9 1347.9 492.4 1348.5 486.3 1349.1 491.2 1349.6 486.8 1350.2 487.4 1350.8 489.5 1351.3 483.3 1351.9 485.3 1352.5 483.5 1353 482.5 1353.6 489.5 1354.2 483.8 1354.7 488.1 1355.3 481.7 1355.9 486.9 1356.4 485.7 1357 498.5 1357.6 489.6 1358.1 489.5 1358.7 496.6 1359.3 475.2 1359.8 482.3 1360.4 474.3 1361 487.9 1361.5 489 1362.1 489.9 1362.7 487.9 1363.2 483.4 1363.8 495.3 1364.4 489 1364.9 487.1 1365.5 483.6 1366.1 493.1 1366.6 487.6 1367.2 487.8 1367.8 490.5 1368.3 491.2 1368.9 485.8 1369.5 494.1 1370 483.6 1370.6 478.4 1371.2 488.9 1371.7 488.8 1372.3 488.7 1372.9 487.1 1373.4 488.5 1374 484.2 1374.6 481.3 1375.1 493.5 1375.7 485.9 1376.3 489 1376.8 492 1377.4 487.9 1378 500.1 1378.5 481 1379.1 484.9 1379.7 489.8 1380.2 494.6 1380.8 486.2 1381.4 480.7 1381.9 494.3 1382.5 486.3 1383.1 489 1383.6 494.3 1384.2 486.1 1384.8 487.2 1385.3 490.4 1385.9 487.5 1386.5 488.8 1387 482.9 1387.6 485.5 1388.2 481.6 1388.7 473.4 1389.3 494.1 1389.9 488.1 1390.4 492.3 1391 483.8 1391.6 489.2 1392.1 487.9 1392.7 477.3 1393.3 491.1 1393.8 484 1394.4 486.4 1395 479.2 1395.5 490.4 1396.1 489.6 1396.7 487.3 1397.2 480.9 1397.8 480.8 1398.4 488.9 1398.9 482 1399.5 485.3 1400.1 486.2 1400.6 479.8 1401.2 491.7 1401.8 475.9 1402.3 486.5 1402.9 485.9 1403.5 479.4 1404 488.9 1404.6 488.4 1405.2 485.8 1405.7 481.4 1406.3 487 1406.9 489.1 1407.4 484.2 1408 491.3 1408.5 487.6 1409.1 490.4 1409.7 491.2 1410.2 480.9 1410.8 481.4 1411.4 486.8 1411.9 486.7 1412.5 496.3 1413.1 487.8 1413.6 481.7 1414.2 482.4 1414.8 479 1415.3 478.5 1415.9 477.1 1416.5 482.2 1417 475.5 1417.6 475.8 1418.2 478.4 1418.7 475.1 1419.3 475.9 1419.9 467.5 1420.4 478.5 1421 476.1 1421.6 478.8 1422.1 480.4 1422.7 469.3 1423.3 489.5 1423.8 478.8 1424.4 479.1 1425 461.9 1425.5 480.9 1426.1 479.1 1426.7 474.5 1427.2 476.6 1427.8 481.4 1428.4 474.4 1428.9 470 1429.5 479.5 1430.1 474.2 1430.6 471.5 1431.2 482.2 1431.8 469.9 1432.3 468.3 1432.9 470.7 1433.5 466.4 1434 469.7 1434.6 468.8 1435.2 464.4 1435.7 465.7 1436.3 469.1 1436.9 470.1 1437.4 468.9 1438 473.3 1438.6 465.6 1439.1 466.1 1439.7 460.4 1440.3 460.4 1440.8 465.9 1441.4 441.9 1442 459.2 1442.5 471.6 1443.1 444.5 1443.7 460.9 1444.2 442.2 1444.8 450.9 1445.4 461.8 1445.9 451.4 1446.5 437.3 1447.1 433.5 1447.6 431.5 1448.2 443.9 1448.8 431.2 1449.3 431.4 1449.9 430.2 1450.5 428.8 1451 431.4 1451.6 427.2 1452.2 419.9 1452.7 436.7 1453.3 417.6 1453.9 445.9 1454.4 434.5 1455 439 1455.6 440.2 1456.1 443.8 1456.7 449.5 1457.3 452.6 1457.8 453.6 1458.4 466.6 1459 462.6 1459.5 473.9 1460.1 467.2 1460.7 466.3 1461.2 473.6 1461.8 477.6 1462.4 467.7 1462.9 470.5 1463.5 478.7 1464.1 466.4 1464.6 467.2 1465.2 473 1465.8 465.4 1466.3 460.1 1466.9 463.6 1467.5 475.6 1468 477.8 1468.6 479.9 1469.2 478.2 1469.7 470.5 1470.3 481.6 1470.9 484.7 1471.4 473.8 1472 481.9 1472.6 474.4 1473.1 477.8 1473.7 478.9 1474.3 470.5 1474.8 485.9 1475.4 470.8 1476 478.3 1476.5 476.7 1477.1 483.1 1477.7 482.8 1478.2 480.2 1478.8 486.8 1479.4 481.7 1479.9 477.7 1480.5 465.3 1481.1 478.9 1481.6 479.9 1482.2 476.6 1482.8 477.4 1483.3 484.7 1483.9 486.5 1484.5 490.6 1485 487.5 1485.6 477.6 1486.2 482 1486.7 473.4 1487.3 484.1 1487.9 481.5 1488.4 476.8 1489 479 1489.6 478.3 1490.1 476.3 1490.7 486.6 1491.3 495.6 1491.8 483.6 1492.4 483.8 1493 479.6 1493.5 476.8 1494.1 489.8 1494.7 477.5 1495.2 480.9 1495.8 478.7 1496.4 481.6 1496.9 478 1497.5 482.6 1498.1 472.8 1498.6 477.7 1499.2 484.6 1499.8 471.9 1500.3 471.6 1500.9 483.5 1501.5 479.3 1502 483.2 1502.6 465 1503.2 476.9 1503.7 469.6 1504.3 469.1 1504.9 476.7 1505.4 479 1506 464.9 1506.6 466.7 1507.1 469.5 1507.7 472.4 1508.3 467 1508.8 485.8 1509.4 478.9 1510 474.2 1510.5 472.9 1511.1 486.4 1511.7 484.5 1512.2 470 1512.8 474.8 1513.3 479 1513.9 466.4 1514.5 465.4 1515 478.3 1515.6 468.4 1516.2 471 1516.7 467 1517.3 470.1 1517.9 477 1518.4 469.6 1519 467.5 1519.6 470.2 1520.1 482.3 1520.7 474.3 1521.3 467.8 1521.8 471.6 1522.4 472 1523 469.9 1523.5 459.5 1524.1 469.8 1524.7 466.2 1525.2 470.4 1525.8 459.5 1526.4 471.9 1526.9 463.9 1527.5 457.2 1528.1 472 1528.6 461.8 1529.2 466.6 1529.8 464.2 1530.3 470.3 1530.9 470.4 1531.5 471.1 1532 467.3 1532.6 453.4 1533.2 452.6 1533.7 461.7 1534.3 453.7 1534.9 461.5 1535.4 457.2 1536 446.4 1536.6 445.5 1537.1 440.7 1537.7 445.2 1538.3 446.5 1538.8 449.4 1539.4 456.5 1540 437.2 1540.5 437.1 1541.1 447.8 1541.7 443.7 1542.2 439.3 1542.8 425.9 1543.4 433.4 1543.9 438.8 1544.5 435.5 1545.1 449.7 1545.6 440.4 1546.2 440.4 1546.8 434 1547.3 433.5 1547.9 435.9 1548.5 434.9 1549 436.6 1549.6 438.7 1550.2 437.9 1550.7 442.6 1551.3 431.3 1551.9 438.8 1552.4 439.1 1553 445.9 1553.6 436.7 1554.1 440.8 1554.7 436.2 1555.3 443.5 1555.8 445.2 1556.4 441.8 1557 445.6 1557.5 449.5 1558.1 454.8 1558.7 447.6 1559.2 458.6 1559.8 452.9 1560.4 465.7 1560.9 463.9 1561.5 456.4 1562.1 455.8 1562.6 472.4 1563.2 464 1563.8 465.9 1564.3 462.4 1564.9 465.6 1565.5 471.9 1566 471.3 1566.6 463.3 1567.2 474.5 1567.7 471 1568.3 466 1568.9 476.7 1569.4 471.8 1570 477.7 1570.6 470.9 1571.1 475.8 1571.7 465.8 1572.3 476.6 1572.8 468.5 1573.4 476.9 1574 462.9 1574.5 477 1575.1 483.4 1575.7 481.4 1576.2 484.1 1576.8 472.4 1577.4 486 1577.9 484.4 1578.5 464.9 1579.1 471.4 1579.6 472 1580.2 475.8 1580.8 476.7 1581.3 463.1 1581.9 478.2 1582.5 473.5 1583 470.5 1583.6 480.9 1584.2 472.6 1584.7 480.7 1585.3 477.1 1585.9 471.2 1586.4 479.8 1587 478.5 1587.6 472.5 1588.1 466.3 1588.7 471.9 1589.3 478.3 1589.8 474.6 1590.4 485.2 1591 478.3 1591.5 478 1592.1 478.9 1592.7 471.9 1593.2 476.7 1593.8 473.5 1594.4 465.1 1594.9 468.7 1595.5 481.9 1596.1 475.8 1596.6 476.7 1597.2 469.4 1597.8 474.2 1598.3 481.8 1598.9 477.3 1599.5 473.2 1600 483.1 1600.6 474.7 1601.2 472.2 1601.7 481 1602.3 466.7 1602.9 478.1 1603.4 468.2 1604 470.6 1604.6 472.3 1605.1 475.8 1605.7 474.8 1606.3 476 1606.8 475.2 1607.4 481.9 1608 483.3 1608.5 477.7 1609.1 478.4 1609.7 473 1610.2 469.5 1610.8 479.7 1611.4 476.8 1611.9 481.7 1612.5 467.6 1613.1 490.2 1613.6 470.7 1614.2 477.2 1614.8 481.4 1615.3 468.9 1615.9 472.3 1616.4 456.5 1617 467.1 1617.6 464.7 1618.1 476.9 1618.7 478.2 1619.3 475.7 1619.8 484.1 1620.4 485 1621 477.1 1621.5 476.9 1622.1 476.3 1622.7 474.8 1623.2 482.3 1623.8 476.3 1624.4 473.6 1624.9 473.8 1625.5 478.3 1626.1 472.3 1626.6 477.1 1627.2 475.2 1627.8 480.6 1628.3 480.5 1628.9 467.2 1629.5 473.2 1630 478.6 1630.6 472.6 1631.2 479.3 1631.7 476.3 1632.3 479.5 1632.9 476.8 1633.4 478.2 1634 478.7 1634.6 468.6 1635.1 470.6 1635.7 469.8 1636.3 482.4 1636.8 475.3 1637.4 474.5 1638 473.9 1638.5 469.7 1639.1 468.9 1639.7 476.1 1640.2 469.5 1640.8 479.4 1641.4 472.6 1641.9 472.2 1642.5 470.7 1643.1 471.5 1643.6 472.6 1644.2 479.7 1644.8 484.4 1645.3 466.6 1645.9 473 1646.5 475.9 1647 468.5 1647.6 468 1648.2 469.6 1648.7 460 1649.3 475.1 1649.9 470.3 1650.4 469.3 1651 471.4 1651.6 471.6 1652.1 481.2 1652.7 471.1 1653.3 473.7 1653.8 467.1 1654.4 472.5 1655 469.2 1655.5 470.4 1656.1 465.9 1656.7 465.9 1657.2 472.4 1657.8 473.2 1658.4 470.8 1658.9 463 1659.5 468.1 1660.1 453.6 1660.6 470.3 1661.2 464.9 1661.8 466.7 1662.3 469.2 1662.9 460.3 1663.5 466.6 1664 459.1 1664.6 465.1 1665.2 461.1 1665.7 466.9 1666.3 470.3 1666.9 458.5 1667.4 459.7 1668 461.6 1668.6 466.7 1669.1 479.6 1669.7 461 1670.3 451.8 1670.8 457.3 1671.4 452.8 1672 459.2 1672.5 462.7 1673.1 457.8 1673.7 457.6 1674.2 450.8 1674.8 460.4 1675.4 455.4 1675.9 466.3 1676.5 466.1 1677.1 454.6 1677.6 455.8 1678.2 456.6 1678.8 460.2 1679.3 446.6 1679.9 453.8 1680.5 463.6 1681 452.5 1681.6 453.1 1682.2 451.5 1682.7 444.8 1683.3 454.9 1683.9 449.8 1684.4 448.2 1685 449.2 1685.6 447.6 1686.1 429.9 1686.7 441.8 1687.3 434.5 1687.8 436.5 1688.4 430.6 1689 428.3 1689.5 437.4 1690.1 432.5 1690.7 429.4 1691.2 428.8 1691.8 429.2 1692.4 426.5 1692.9 412.8 1693.5 419.7 1694.1 420.9 1694.6 424.5 1695.2 426 1695.8 411.6 1696.3 426.4 1696.9 416.3 1697.5 417.7 1698 411.9 1698.6 410.9 1699.2 423.4 1699.7 414.8 1700.3 416 1700.9 424.3 1701.4 428 1702 403.9 1702.6 416.7 1703.1 417 1703.7 428 1704.3 431.3 1704.8 418.6 1705.4 422.9 1706 426 1706.5 428.8 1707.1 420.6 1707.7 428.4 1708.2 420.2 1708.8 410.5 1709.4 413.9 1709.9 428.9 1710.5 432.3 1711.1 416 1711.6 419.1 1712.2 429.8 1712.8 413.5 1713.3 436.9 1713.9 440.3 1714.5 419.4 1715 443.5 1715.6 434.4 1716.2 444.9 1716.7 439.3 1717.3 437.6 1717.9 438.8 1718.4 443.3 1719 440.9 1719.6 437.4 1720.1 432.2 1720.7 444.3 1721.2 443 1721.8 454 1722.4 445 1722.9 446 1723.5 441.9 1724.1 450.2 1724.6 447.2 1725.2 443.4 1725.8 460.5 1726.3 453 1726.9 441.4 1727.5 433.5 1728 448.1 1728.6 437 1729.2 456.7 1729.7 441.2 1730.3 445.6 1730.9 435 1731.4 442.3 1732 447.6 1732.6 446.3 1733.1 442.5 1733.7 459.5 1734.3 450.8 1734.8 445.8 1735.4 445.9 1736 448.6 1736.5 462.4 1737.1 446.6 1737.7 449.6 1738.2 445.3 1738.8 455.8 1739.4 451.4 1739.9 462.5 1740.5 458.7 1741.1 454.4 1741.6 462.7 1742.2 465.9 1742.8 457.3 1743.3 468.3 1743.9 483.3 1744.5 465.5 1745 470.9 1745.6 461.5 1746.2 470.8 1746.7 466.4 1747.3 471.9 1747.9 469 1748.4 463.6 1749 479.5 1749.6 468.2 1750.1 464.3 1750.7 470.5 1751.3 466.2 1751.8 474.1 1752.4 474.3 1753 473.6 1753.5 479.9 1754.1 471.4 1754.7 483.1 1755.2 470.7 1755.8 488.9 1756.4 482.8 1756.9 479.6 1757.5 477.4 1758.1 484.2 1758.6 479.8 1759.2 479.9 1759.8 485.9 1760.3 477.9 1760.9 479.3 1761.5 482.6 1762 485.8 1762.6 480.1 1763.2 481.7 1763.7 483 1764.3 486.8 1764.9 490.6 1765.4 480.2 1766 484.3 1766.6 485.7 1767.1 488.8 1767.7 493.7 1768.3 486.9 1768.8 488.7 1769.4 491.8 1770 481.1 1770.5 483.1 1771.1 484.6 1771.7 486.1 1772.2 488.7 1772.8 485.5 1773.4 495.8 1773.9 485.3 1774.5 487.7 1775.1 494.2 1775.6 493.7 1776.2 490.6 1776.8 492 1777.3 493.6 1777.9 489.3 1778.5 491.9 1779 484.3 1779.6 487.9 1780.2 479.3 1780.7 483.2 1781.3 481.3 1781.9 492.4 1782.4 484.5 1783 488.8 1783.6 481.8 1784.1 487.7 1784.7 488.3 1785.3 486 1785.8 493.1 1786.4 481.7 1787 495.3 1787.5 502.6 1788.1 486.3 1788.7 489.5 1789.2 482.7 1789.8 489.3 1790.4 481.2 1790.9 492.1 1791.5 486.2 1792.1 479.8 1792.6 481.2 1793.2 480 1793.8 485.6 1794.3 490.4 1794.9 485.6 1795.5 479.1 1796 482.4 1796.6 489.8 1797.2 478.9 1797.7 492.5 1798.3 492.3 1798.9 480.3 1799.4 496.8 1800 484 1800.6 490.3 1801.1 496.6 1801.7 484.3 1802.3 482.9 1802.8 486.1 1803.4 486 1804 489.7 1804.5 488.2 1805.1 488.8 1805.7 487.9 1806.2 488.6 1806.8 482.9 1807.4 490.8 1807.9 490.2 1808.5 485.7 1809.1 499 1809.6 485.7 1810.2 494.8 1810.8 488.9 1811.3 494.4 1811.9 495.5 1812.5 498.4 1813 500.2 1813.6 490.4 1814.2 506.3 1814.7 495.3 1815.3 490.2 1815.9 488.1 1816.4 504.5 1817 501 1817.6 493.4 1818.1 497.9 1818.7 500.1 1819.3 495.5 1819.8 493 1820.4 493.2 1821 497 1821.5 493.6 1822.1 488.7 1822.7 497.4 1823.2 486.4 1823.8 491.6 1824.4 500.4 1824.9 495.4 1825.5 496.1 1826 496.3 1826.6 499.6 1827.2 495 1827.7 487.1 1828.3 496.9 1828.9 481.9 1829.4 487 1830 503.5 1830.6 501.5 1831.1 495.8 1831.7 497.9 1832.3 498.6 1832.8 502.2 1833.4 494.9 1834 496.1 1834.5 496.6 1835.1 500.3 1835.7 501.5 1836.2 498.6 1836.8 503.6 1837.4 495.2 1837.9 499.5 1838.5 495.9 1839.1 493.7 1839.6 503.3 1840.2 496.9 1840.8 493.4 1841.3 497.5 1841.9 491.9 1842.5 499.5 1843 500.6 1843.6 501.9 1844.2 491.7 1844.7 496.5 1845.3 504.7 1845.9 495.9 1846.4 501.8 1847 503.9 1847.6 490.8 1848.1 501.3 1848.7 498.9 1849.3 500.9 1849.8 503.3 1850.4 498.3 1851 495.6 1851.5 498.8 1852.1 494.1 1852.7 497.5 1853.2 487.2 1853.8 504.2 1854.4 493.1 1854.9 500.5 1855.5 497.6 1856.1 497.5 1856.6 496.7 1857.2 497.4 1857.8 491.1 1858.3 497.1 1858.9 505.1 1859.5 495.2 1860 495.8 1860.6 509.9 1861.2 506.1 1861.7 508.4 1862.3 501.8 1862.9 502.4 1863.4 502.9 1864 501.2 1864.6 499.5 1865.1 492.6 1865.7 495 1866.3 490.8 1866.8 509.9 1867.4 494.4 1868 495.4 1868.5 497.6 1869.1 497.1 1869.7 499.4 1870.2 495.7 1870.8 491.7 1871.4 506.1 1871.9 495.1 1872.5 495.9 1873.1 494.3 1873.6 496 1874.2 497.8 1874.8 500.8 1875.3 491.4 1875.9 497.3 1876.5 491.2 1877 501.8 1877.6 492.3 1878.2 498.9 1878.7 501.2 1879.3 491.7 1879.9 497.4 1880.4 497.9 1881 493.2 1881.6 495.2 1882.1 502.7 1882.7 496.4 1883.3 492.1 1883.8 492.4 1884.4 496.1 1885 499.8 1885.5 497.7 1886.1 498.4 1886.7 502.7 1887.2 489.5 1887.8 489.5 1888.4 485.1 1888.9 499.3 1889.5 485.3 1890.1 495.4 1890.6 498.6 1891.2 483.6 1891.8 492 1892.3 494.7 1892.9 498.7 1893.5 490.2 1894 497.6 1894.6 500 1895.2 497.5 1895.7 497.7 1896.3 502.9 1896.9 497.9 1897.4 495.1 1898 494.9 1898.6 498.5 1899.1 495.3 1899.7 497.3 1900.3 495.1 1900.8 499.9 1901.4 491.3 1902 496.1 1902.5 499.2 1903.1 498.8 1903.7 501.7 1904.2 498.5 1904.8 503 1905.4 507.5 1905.9 502.6 1906.5 495.9 1907.1 493.1 1907.6 502.4 1908.2 498.7 1908.8 501.9 1909.3 499.4 1909.9 504.7 1910.5 503.9 1911 494.8 1911.6 500 1912.2 497.4 1912.7 493 1913.3 501.6 1913.9 498.3 1914.4 501.7 1915 510.8 1915.6 506.7 1916.1 505 1916.7 498.2 1917.3 495 1917.8 504.8 1918.4 497.7 1919 498.9 1919.5 496.1 1920.1 497.4 1920.7 506.1 1921.2 495.2 1921.8 495.6 1922.4 497.3 1922.9 497.2 1923.5 490.4 1924.1 488 1924.6 492.9 1925.2 495.6 1925.8 493 1926.3 491 1926.9 488.8 1927.5 494.7 1928 496.8 1928.6 490.5 1929.2 495.5 1929.7 500.7 1930.3 497.6 1930.8 492.9 1931.4 496.7 1932 497.3 1932.5 502.8 1933.1 489.4 1933.7 498.7 1934.2 492.3 1934.8 494.3 1935.4 496.8 1935.9 490.5 1936.5 491.2 1937.1 494.1 1937.6 497.5 1938.2 489.3 1938.8 488 1939.3 491.3 1939.9 496.1 1940.5 499.8 1941 492.2 1941.6 493.3 1942.2 492.9 1942.7 493.7 1943.3 491.9 1943.9 493.6 1944.4 497.4 1945 495.6 1945.6 494.6 1946.1 490.2 1946.7 490.6 1947.3 489 1947.8 496.2 1948.4 496.4 1949 491.7 1949.5 495.8 1950.1 487.8 1950.7 487 1951.2 481.8 1951.8 489.1 1952.4 486.7 1952.9 488.7 1953.5 490 1954.1 486.5 1954.6 482.5 1955.2 487.5 1955.8 488.1 1956.3 488.5 1956.9 490.8 1957.5 487.3 1958 488.1 1958.6 502.3 1959.2 494.3 1959.7 489.9 1960.3 485.9 1960.9 487.6 1961.4 493.4 1962 496.3 1962.6 503.2 1963.1 492.2 1963.7 493.6 1964.3 490.2 1964.8 494.2 1965.4 493 1966 491.2 1966.5 498.5 1967.1 494.8 1967.7 499.7 1968.2 492.8 1968.8 498.1 1969.4 500.2 1969.9 489.6 1970.5 487.8 1971.1 500.3 1971.6 498 1972.2 490.4 1972.8 495.3 1973.3 493.3 1973.9 495.5 1974.5 503.4 1975 495.2 1975.6 506 1976.2 497.1 1976.7 495.8 1977.3 505.6 1977.9 503.9 1978.4 505.9 1979 508.2 1979.6 504.3 1980.1 505.6 1980.7 494.2 1981.3 497.7 1981.8 502.2 1982.4 501.1 1983 503.1 1983.5 499.7 1984.1 506.3 1984.7 511 1985.2 504.5 1985.8 505.9 1986.4 506 1986.9 508.2 1987.5 505.4 1988.1 500.5 1988.6 502.8 1989.2 501.9 1989.8 494.4 1990.3 503 1990.9 499.6 1991.5 500.1 1992 496.4 1992.6 500.7 1993.2 502.2 1993.7 496.7 1994.3 501.4 1994.9 503.4 1995.4 501.7 1996 496 1996.6 494.7 1997.1 499 1997.7 494 1998.3 508.2 1998.8 493.8 1999.4 494.1 2000 500.1 2000.5 496.9 2001.1 489.2 2001.7 498.3 2002.2 495.1 2002.8 497.2 2003.4 493 2003.9 496.8 2004.5 499.3 2005.1 499 2005.6 494.4 2006.2 494.7 2006.8 493.4 2007.3 496.5 2007.9 494.6 2008.5 491.7 2009 498 2009.6 493.2 2010.2 497.7 2010.7 491.5 2011.3 496.4 2011.9 495 2012.4 496.2 2013 498.4 2013.6 497.1 2014.1 496 2014.7 494.4 2015.3 488.8 2015.8 494.9 2016.4 479.3 2017 486.9 2017.5 495.5 2018.1 495.9 2018.7 501.8 2019.2 499 2019.8 502.3 2020.4 496.5 2020.9 498.9 2021.5 501.9 2022.1 498.5 2022.6 497.5 2023.2 496.1 2023.8 492.9 2024.3 493 2024.9 490.2 2025.5 496.7 2026 492.7 2026.6 488.3 2027.2 494.6 2027.7 491.2 2028.3 497.6 2028.9 499.8 2029.4 493.9 2030 488 2030.6 485.4 2031.1 500.4 2031.7 492.5 2032.3 485 2032.8 493.3 2033.4 482.2 2033.9 487.6 2034.5 487.5 2035.1 488 2035.6 484.8 2036.2 508 2036.8 490.6 2037.3 495.2 2037.9 493.4 2038.5 486.3 2039 490.3 2039.6 494.6 2040.2 497.4 2040.7 491.6 2041.3 495.8 2041.9 491.8 2042.4 494.7 2043 481.6 2043.6 495.5 2044.1 490.8 2044.7 490.7 2045.3 481.7 2045.8 488 2046.4 494.9 2047 510 2047.5 489.6 2048.1 490 2048.7 495.5 2049.2 495.9 2049.8 490.8 2050.4 491.4 2050.9 490.8 2051.5 495.3 2052.1 495.8 2052.6 500.1 2053.2 497.4 2053.8 495.4 2054.3 492.8 2054.9 496.5 2055.5 488.4 2056 500.3 2056.6 492.9 2057.2 497.8 2057.7 489.4 2058.3 497 2058.9 494.5 2059.4 492.3 2060 490.3 2060.6 490.6 2061.1 501.7 2061.7 498.9 2062.3 495 2062.8 496.4 2063.4 492.9 2064 488.1 2064.5 488.8 2065.1 494.5 2065.7 496.2 2066.2 494.1 2066.8 502.9 2067.4 502.4 2067.9 500.8 2068.5 493.2 2069.1 499.7 2069.6 501.7 2070.2 496.8 2070.8 493.7 2071.3 509.4 2071.9 504.3 2072.5 499.4 2073 507.1 2073.6 505 2074.2 502.2 2074.7 500.5 2075.3 503.8 2075.9 506.3 2076.4 500.8 2077 499.7 2077.6 502.1 2078.1 488.6 2078.7 501.9 2079.3 497.9 2079.8 500.6 2080.4 499.9 2081 502.8 2081.5 502.9 2082.1 502.5 2082.7 503.7 2083.2 506.9 2083.8 501.9 2084.4 509.2 2084.9 498.2 2085.5 505.3 2086.1 506.1 2086.6 494 2087.2 502.3 2087.8 508.9 2088.3 502.1 2088.9 499.4 2089.5 491.3 2090 505.1 2090.6 504.3 2091.2 505 2091.7 511.4 2092.3 502.4 2092.9 503.2 2093.4 499.8 2094 502.6 2094.6 502.2 2095.1 505.2 2095.7 504.1 2096.3 499.9 2096.8 500.4 2097.4 507.4 2098 497.7 2098.5 505.3 2099.1 509 2099.7 505.3 2100.2 505 2100.8 510 2101.4 505.3 2101.9 504.7 2102.5 504.4 2103.1 513.9 2103.6 508.2 2104.2 511.3 2104.8 503.9 2105.3 503.1 2105.9 501.3 2106.5 505.1 2107 501.4 2107.6 507.6 2108.2 505.6 2108.7 499.7 2109.3 492.6 2109.9 497.1 2110.4 510.5 2111 504.8 2111.6 506 2112.1 503.5 2112.7 506.7 2113.3 496.8 2113.8 496.2 2114.4 491.9 2115 502.5 2115.5 505.2 2116.1 504.7 2116.7 501 2117.2 496.2 2117.8 505.3 2118.4 501.5 2118.9 503.4 2119.5 502.4 2120.1 502 2120.6 500.8 2121.2 501.1 2121.8 497.3 2122.3 503.2 2122.9 500.3 2123.5 504.9 2124 493.3 2124.6 506.1 2125.2 501.2 2125.7 500.6 2126.3 498.5 2126.9 499.7 2127.4 491.9 2128 506.9 2128.6 502.3 2129.1 506.3 2129.7 505.7 2130.3 501.1 2130.8 500.5 2131.4 501.1 2132 506 2132.5 502.4 2133.1 502.6 2133.7 504.2 2134.2 500.8 2134.8 511 2135.4 498.9 2135.9 507.5 2136.5 508.2 2137.1 498.4 2137.6 507 2138.2 505.2 2138.7 508 2139.3 500 2139.9 505.1 2140.4 500.5 2141 503.7 2141.6 511.6 2142.1 504.9 2142.7 495.9 2143.3 499.2 2143.8 500.2 2144.4 508.6 2145 500.8 2145.5 496.8 2146.1 508.1 2146.7 504.7 2147.2 505.4 2147.8 500.8 2148.4 509.2 2148.9 502.5 2149.5 494.8 2150.1 499.1 2150.6 500.2 2151.2 502.4 2151.8 504.9 2152.3 499.1 2152.9 501.5 2153.5 513.6 2154 504.7 2154.6 501.8 2155.2 503.8 2155.7 497.7 2156.3 505.3 2156.9 507.1 2157.4 500.9 2158 505.6 2158.6 500.4 2159.1 503.3 2159.7 499.8 2160.3 499.8 2160.8 497.3 2161.4 504.6 2162 502.3 2162.5 503.2 2163.1 498.9 2163.7 499.3 2164.2 501.8 2164.8 505.9 2165.4 504.9 2165.9 502.1 2166.5 506.1 2167.1 511.3 2167.6 504.7 2168.2 513.8 2168.8 507.5 2169.3 510.7 2169.9 502.7 2170.5 509.4 2171 499.5 2171.6 505 2172.2 502.4 2172.7 496.2 2173.3 498.3 2173.9 508.4 2174.4 506.5 2175 510.7 2175.6 506.6 2176.1 484.9 2176.7 505.8 2177.3 503.4 2177.8 501.3 2178.4 502.9 2179 501 2179.5 498.9 2180.1 507.3 2180.7 503.9 2181.2 499.1 2181.8 501.5 2182.4 506.5 2182.9 504.1 2183.5 503.6 2184.1 497.5 2184.6 501.5 2185.2 498 2185.8 494.7 2186.3 506.6 2186.9 500.8 2187.5 500.2 2188 498.3 2188.6 505.2 2189.2 510.9 2189.7 504.3 2190.3 506.1" fill="none" stroke="#0a72dc" stroke-width="2.6" stroke-linejoin="round"/>
<path d="M207.6 575 208.7 569.2 209.9 561.8 211 566.5 212.1 579.2 213.3 586.2 214.4 593.3 215.5 590.5 216.7 582.5 217.8 580.1 218.9 587.6 220.1 594.2 221.2 594 222.3 597.1 223.5 593.6 224.6 594.7 225.7 600 226.9 607.1 228 601.6 229.1 603.3 230.3 605.6 231.4 610.8 232.5 612.3 233.7 611.2 234.8 617 235.9 624.6 237.1 628.7 238.2 628.6 239.3 630.1 240.5 636.5 241.6 638.2 242.7 642.6 243.9 643 245 636.8 246.1 636.4 247.3 639.9 248.4 643.4 249.5 647 250.7 646.1 251.8 647.5 252.9 654.5 254.1 657.9 255.2 658.8 256.3 654.1 257.5 652.7 258.6 650.2 259.7 648.6 260.8 653.5 262 662.6 263.1 666.7 264.2 666.2 265.4 667.3 266.5 666.2 267.6 672 268.8 672 269.9 675 271 674.2 272.2 676.1 273.3 677.2 274.4 681 275.6 682 276.7 679.4 277.8 679.5 279 687 280.1 690.3 281.2 688.3 282.4 688.3 283.5 690.1 284.6 692.5 285.8 696.8 286.9 695.6 288 696.8 289.2 698 290.3 697 291.4 699.2 292.6 706.6 293.7 711.6 294.8 714.7 296 713.5 297.1 716.6 298.2 721.1 299.4 718.9 300.5 716.1 301.6 720.1 302.8 725.2 303.9 725.4 305 725.3 306.2 730.9 307.3 738.3 308.4 739 309.6 739.6 310.7 740.1 311.8 743.2 313 742.9 314.1 744.9 315.2 748.4 316.4 744.2 317.5 743.5 318.6 749.2 319.8 750 320.9 749.4 322 750.3 323.2 753.9 324.3 753.8 325.4 756.9 326.6 757.9 327.7 754.6 328.8 756.8 330 758.5 331.1 764.8 332.2 767.2 333.4 768.9 334.5 769.2 335.6 769.6 336.8 773.6 337.9 773.8 339 772.4 340.2 771.7 341.3 781.2 342.4 785.5 343.6 785.7 344.7 788.7 345.8 792 347 790.6 348.1 786.3 349.2 787.9 350.4 786.1 351.5 791.9 352.6 795.9 353.8 797.6 354.9 798.8 356 798.4 357.2 797.9 358.3 800.8 359.4 802.9 360.6 806.1 361.7 806.5 362.8 808.1 364 809.4 365.1 806.4 366.2 805.6 367.3 805.6 368.5 808.7 369.6 811.1 370.7 814.4 371.9 816.1 373 812.5 374.1 813.3 375.3 813.2 376.4 815.4 377.5 814.3 378.7 817.7 379.8 819.5 380.9 820.5 382.1 823.6 383.2 822.9 384.3 825 385.5 827.8 386.6 830.5 387.7 830.9 388.9 827 390 828.3 391.1 826.2 392.3 826 393.4 827 394.5 830.6 395.7 828.7 396.8 829.7 397.9 831 399.1 832.5 400.2 829.9 401.3 833.8 402.5 837.8 403.6 838.3 404.7 835.7 405.9 835.9 407 835.9 408.1 838.9 409.3 837.5 410.4 836.7 411.5 839.2 412.7 840.4 413.8 842.9 414.9 843.4 416.1 840.3 417.2 843.8 418.3 844.8 419.5 843.5 420.6 843.2 421.7 845.8 422.9 844.3 424 846.5 425.1 846 426.3 847.9 427.4 848.9 428.5 847.2 429.7 849.3 430.8 848.9 431.9 844.3 433.1 845.6 434.2 847.2 435.3 852.9 436.5 847.4 437.6 843.7 438.7 845.6 439.9 847.5 441 849.4 442.1 852.2 443.3 851.2 444.4 851.7 445.5 851.2 446.7 850.4 447.8 850.7 448.9 854.8 450.1 855.6 451.2 855.4 452.3 855.5 453.5 856.9 454.6 858.4 455.7 859.8 456.9 862.2 458 859.5 459.1 859.3 460.3 860.2 461.4 862.9 462.5 860.9 463.7 858.7 464.8 857.6 465.9 857.8 467.1 858.9 468.2 862.1 469.3 860.3 470.4 861.3 471.6 859.6 472.7 861.3 473.8 862.5 475 865.3 476.1 864.6 477.2 865.4 478.4 865 479.5 869.2 480.6 869.8 481.8 867.8 482.9 864.9 484 864.2 485.2 866.3 486.3 864.7 487.4 869 488.6 868.2 489.7 867.3 490.8 865.8 492 866.5 493.1 867.6 494.2 867.2 495.4 867 496.5 868.9 497.6 869.7 498.8 868.4 499.9 870.3 501 868.5 502.2 869.7 503.3 870.7 504.4 871.7 505.6 871.5 506.7 871.2 507.8 871.6 509 871 510.1 868.8 511.2 869.3 512.4 869.4 513.5 866.3 514.6 864.3 515.8 865 516.9 870.1 518 869.3 519.2 867.8 520.3 866.6 521.4 867.2 522.6 865.3 523.7 865.3 524.8 862.5 526 863.8 527.1 867.5 528.2 867.9 529.4 866.1 530.5 865.2 531.6 867.1 532.8 866.9 533.9 867.9 535 870.8 536.2 871.9 537.3 873 538.4 872.8 539.6 872 540.7 871 541.8 871.4 543 869.7 544.1 869.4 545.2 867.7 546.4 867.4 547.5 866.8 548.6 872 549.8 873.6 550.9 874.2 552 876.5 553.2 879.1 554.3 876.1 555.4 874.2 556.6 875.7 557.7 877.1 558.8 876.8 560 877.8 561.1 879.2 562.2 875.5 563.4 872.1 564.5 873.8 565.6 876.2 566.8 876.7 567.9 874.4 569 876 570.2 872.1 571.3 873.2 572.4 875.2 573.5 879 574.7 880 575.8 878 576.9 877.9 578.1 879.6 579.2 877.7 580.3 873.3 581.5 872.4 582.6 876.7 583.7 877.1 584.9 878 586 877 587.1 879.8 588.3 878.9 589.4 876.7 590.5 871.1 591.7 870.7 592.8 871.6 593.9 871.1 595.1 873.7 596.2 870.8 597.3 866.8 598.5 867.7 599.6 869 600.7 867.1 601.9 864.1 603 859.7 604.1 856.2 605.3 853.3 606.4 850.8 607.5 850 608.7 855.7 609.8 861.3 610.9 863.4 612.1 864.9 613.2 867.4 614.3 868 615.5 871.1 616.6 872.8 617.7 870.4 618.9 872.9 620 871.7 621.1 871.2 622.3 869.9 623.4 872.4 624.5 870.1 625.7 869.6 626.8 872.4 627.9 873.8 629.1 870.4 630.2 870.2 631.3 870.4 632.5 872.8 633.6 871.7 634.7 870.5 635.9 872.1 637 870.5 638.1 869.4 639.3 869.3 640.4 869.5 641.5 870.5 642.7 869.2 643.8 868.7 644.9 870.7 646.1 870.7 647.2 867.7 648.3 867 649.5 868.1 650.6 867.1 651.7 866.6 652.9 867.9 654 872.1 655.1 870.8 656.3 865.7 657.4 866.6 658.5 868.8 659.7 868.8 660.8 865.6 661.9 862.2 663.1 864.7 664.2 864.5 665.3 864.7 666.5 866.4 667.6 866 668.7 866 669.9 864.4 671 863.1 672.1 863.2 673.3 863.4 674.4 864.4 675.5 860 676.7 863.3 677.8 862.2 678.9 860.6 680 860.7 681.2 863.4 682.3 862.2 683.4 860.2 684.6 858 685.7 858.5 686.8 858.4 688 860.5 689.1 860.2 690.2 859.4 691.4 859.8 692.5 857.1 693.6 859.6 694.8 860.7 695.9 859.9 697 857.5 698.2 860.1 699.3 860.8 700.4 860 701.6 859.7 702.7 860.5 703.8 864.3 705 863.2 706.1 858.2 707.2 855.9 708.4 855.9 709.5 856.2 710.6 854.5 711.8 853.6 712.9 852.5 714 854.8 715.2 856.7 716.3 858 717.4 857.8 718.6 855.6 719.7 854.8 720.8 854.2 722 854.8 723.1 856.6 724.2 855.5 725.4 855.7 726.5 855.4 727.6 853.2 728.8 850.8 729.9 850.2 731 851.8 732.2 853.3 733.3 851.8 734.4 851 735.6 851.1 736.7 851.6 737.8 853.3 739 851 740.1 848.6 741.2 845.9 742.4 850.2 743.5 848.3 744.6 850.7 745.8 847.3 746.9 849.5 748 846.7 749.2 847.2 750.3 844.7 751.4 845.6 752.6 847.2 753.7 849.4 754.8 845.3 756 843.4 757.1 840.2 758.2 840.6 759.4 840.6 760.5 838.4 761.6 834.3 762.8 833.2 763.9 831.6 765 828.8 766.2 830.8 767.3 830.8 768.4 827 769.6 824 770.7 824 771.8 821.1 773 817.4 774.1 815.8 775.2 813.6 776.4 808.9 777.5 805.1 778.6 804.5 779.8 805.8 780.9 803.9 782 805.6 783.1 805.5 784.3 808.3 785.4 810.4 786.5 813 787.7 809.5 788.8 808.4 789.9 809.9 791.1 815.8 792.2 821.2 793.3 823 794.5 823 795.6 824.8 796.7 826.5 797.9 829 799 828.8 800.1 830.4 801.3 830.9 802.4 834.7 803.5 837.4 804.7 839.9 805.8 838.8 806.9 836.7 808.1 836.3 809.2 835.8 810.3 834.6 811.5 835.4 812.6 838.9 813.7 840.6 814.9 838 816 836.8 817.1 836 818.3 835.7 819.4 831.8 820.5 834.6 821.7 834.1 822.8 832.6 823.9 831.6 825.1 831.3 826.2 828.4 827.3 828.2 828.5 826 829.6 830.1 830.7 830.4 831.9 827.2 833 824.1 834.1 823.7 835.3 824.8 836.4 825.5 837.5 822.7 838.7 824.5 839.8 826.1 840.9 826.8 842.1 825.9 843.2 823.7 844.3 823.6 845.5 823.1 846.6 820.9 847.7 818.4 848.9 814.8 850 812.1 851.1 807.5 852.3 805.4 853.4 805.5 854.5 798.2 855.7 790.1 856.8 779.8 857.9 769.8 859.1 754.8 860.2 741.7 861.3 747.3 862.5 761.3 863.6 769.7 864.7 776.6 865.9 785 867 795.1 868.1 803.9 869.3 810.9 870.4 814.5 871.5 818.5 872.7 817.1 873.8 818.1 874.9 816.7 876.1 813.8 877.2 817.3 878.3 816.5 879.5 815.8 880.6 814.5 881.7 815.4 882.9 816.1 884 814.8 885.1 811.6 886.2 813.4 887.4 813.1 888.5 811.8 889.6 809.7 890.8 811.4 891.9 815.3 893 809.9 894.2 809.7 895.3 806.7 896.4 806.3 897.6 806 898.7 806 899.8 810.6 901 803.4 902.1 799.1 903.2 798.7 904.4 795.9 905.5 790.9 906.6 788.2 907.8 785.7 908.9 782.7 910 775.9 911.2 773.9 912.3 774 913.4 772.1 914.6 768.8 915.7 769.4 916.8 766.3 918 759.9 919.1 754.9 920.2 741.5 921.4 724 922.5 711.4 923.6 702.6 924.8 693.9 925.9 689.9 927 682.7 928.2 670.5 929.3 656.5 930.4 648 931.6 639.9 932.7 646.1 933.8 656.7 935 673 936.1 688.9 937.2 704.1 938.4 720 939.5 729.8 940.6 742.2 941.8 750.5 942.9 757.8 944 767 945.2 775.1 946.3 780.1 947.4 787.2 948.6 793.6 949.7 801 950.8 805.5 952 808.9 953.1 807.5 954.2 808.6 955.4 811 956.5 813.5 957.6 813.9 958.8 815 959.9 815.9 961 816.7 962.2 818.3 963.3 818.7 964.4 820.2 965.6 820.7 966.7 823.6 967.8 826 969 827.9 970.1 830.4 971.2 832 972.4 833.2 973.5 835.1 974.6 833.7 975.8 835.6 976.9 839 978 843.6 979.2 844.3 980.3 843.3 981.4 846.3 982.6 852.4 983.7 853.6 984.8 851 986 847.1 987.1 849.9 988.2 851 989.4 856.5 990.5 858.4 991.6 856.6 992.7 854.9 993.9 855.8 995 857.6 996.1 860.2 997.3 861.2 998.4 857.5 999.5 858.5 1000.7 861.4 1001.8 862.1 1002.9 861.8 1004.1 863.3 1005.2 864.3 1006.3 863.8 1007.5 866.3 1008.6 864.8 1009.7 865.1 1010.9 866.6 1012 864.5 1013.1 863.3 1014.3 863.9 1015.4 866.3 1016.5 867.5 1017.7 868.6 1018.8 867.7 1019.9 866.1 1021.1 862.2 1022.2 865.8 1023.3 869.4 1024.5 870.9 1025.6 870.2 1026.7 868.2 1027.9 866.4 1029 867.9 1030.1 868.4 1031.3 868.6 1032.4 867.1 1033.5 869.3 1034.7 872.4 1035.8 872.7 1036.9 871.5 1038.1 867.4 1039.2 866.6 1040.3 868.7 1041.5 872.6 1042.6 873.9 1043.7 874.3 1044.9 873.2 1046 873.2 1047.1 873.2 1048.3 870.8 1049.4 866.9 1050.5 865.2 1051.7 866.7 1052.8 870.1 1053.9 869.9 1055.1 868.7 1056.2 870.2 1057.3 868.4 1058.5 871.1 1059.6 869.6 1060.7 871.1 1061.9 872.1 1063 873.5 1064.1 870.5 1065.3 868 1066.4 869.7 1067.5 866.7 1068.7 866.7 1069.8 865.8 1070.9 863.1 1072.1 860.3 1073.2 859.4 1074.3 857.7 1075.5 853 1076.6 851.3 1077.7 852.8 1078.9 854.9 1080 853 1081.1 853.6 1082.3 853.5 1083.4 854.6 1084.5 859.7 1085.7 862.2 1086.8 866.2 1087.9 867.4 1089.1 868.4 1090.2 869.3 1091.3 872 1092.5 871.4 1093.6 872.3 1094.7 872.5 1095.8 874.4 1097 875.4 1098.1 877.1 1099.2 874.6 1100.4 874.8 1101.5 878.2 1102.6 878.6 1103.8 876 1104.9 876.9 1106 876.8 1107.2 878.1 1108.3 878.8 1109.4 877.1 1110.6 876.3 1111.7 878.3 1112.8 879.6 1114 881.2 1115.1 880.3 1116.2 880.9 1117.4 881.1 1118.5 880.3 1119.6 880.9 1120.8 879.3 1121.9 875.8 1123 875.9 1124.2 875 1125.3 877 1126.4 875.3 1127.6 871.1 1128.7 871.3 1129.8 873.3 1131 876.4 1132.1 877.3 1133.2 873.7 1134.4 873 1135.5 873 1136.6 871.7 1137.8 869.1 1138.9 869.6 1140 868.1 1141.2 867.1 1142.3 867.7 1143.4 866.5 1144.6 866.6 1145.7 863.7 1146.8 861.9 1148 859.2 1149.1 857.3 1150.2 858.1 1151.4 859.9 1152.5 860.7 1153.6 862.6 1154.8 865.4 1155.9 866.5 1157 865.2 1158.2 865.7 1159.3 868.6 1160.4 869.3 1161.6 871.1 1162.7 873.5 1163.8 875 1165 874.2 1166.1 873.1 1167.2 872.9 1168.4 874.7 1169.5 877.6 1170.6 880.1 1171.8 880.9 1172.9 881.2 1174 883.8 1175.2 883.9 1176.3 883.3 1177.4 884.6 1178.6 885 1179.7 885.8 1180.8 885.6 1182 884.7 1183.1 885.1 1184.2 886.1 1185.4 886.4 1186.5 886.7 1187.6 885.4 1188.8 887.2 1189.9 888.4 1191 888.2 1192.2 887.7 1193.3 890.1 1194.4 890.2 1195.6 893.3 1196.7 893.5 1197.8 895 1198.9 895.2 1200.1 894.3 1201.2 891.8 1202.3 891.9 1203.5 892.1 1204.6 894.9 1205.7 893.8 1206.9 892.7 1208 892.3 1209.1 890.6 1210.3 888.7 1211.4 892 1212.5 892.8 1213.7 893.3 1214.8 893 1215.9 894.5 1217.1 894.3 1218.2 890.6 1219.3 889.1 1220.5 890.9 1221.6 892.6 1222.7 888.9 1223.9 887.5 1225 890 1226.1 888.2 1227.3 887 1228.4 884.6 1229.5 887.9 1230.7 890.8 1231.8 890.2 1232.9 891 1234.1 890.5 1235.2 892.1 1236.3 894.1 1237.5 894.7 1238.6 894.1 1239.7 896.7 1240.9 899.7 1242 899 1243.1 897.4 1244.3 896.6 1245.4 898.3 1246.5 897.2 1247.7 897 1248.8 897.9 1249.9 898.6 1251.1 899.2 1252.2 901.2 1253.3 902.7 1254.5 904.1 1255.6 905.1 1256.7 902.3 1257.9 898.8 1259 898.7 1260.1 903.4 1261.3 902.4 1262.4 901 1263.5 899 1264.7 898.8 1265.8 900.8 1266.9 902.1 1268.1 901 1269.2 898.4 1270.3 900.9 1271.5 900.1 1272.6 901.7 1273.7 900.6 1274.9 900.2 1276 900.6 1277.1 899.2 1278.3 900.1 1279.4 900.2 1280.5 900.8 1281.7 901.4 1282.8 898.4 1283.9 895.7 1285.1 897.1 1286.2 897.9 1287.3 897.9 1288.5 899.1 1289.6 899.4 1290.7 900.4 1291.9 902.2 1293 898.5 1294.1 899.8 1295.3 899.1 1296.4 898.7 1297.5 896.7 1298.7 895.8 1299.8 895.3 1300.9 895.7 1302.1 896.7 1303.2 897.9 1304.3 898.1 1305.4 897.5 1306.6 896.4 1307.7 895.6 1308.8 897.7 1310 897.1 1311.1 895.7 1312.2 893.9 1313.4 892.9 1314.5 892.3 1315.6 890.4 1316.8 888.6 1317.9 885.8 1319 881.9 1320.2 876.2 1321.3 877.6 1322.4 879 1323.6 881.4 1324.7 883.1 1325.8 882.2 1327 886.2 1328.1 891.5 1329.2 895.1 1330.4 895.9 1331.5 897.6 1332.6 898.5 1333.8 903.1 1334.9 900.9 1336 901.3 1337.2 902.8 1338.3 902 1339.4 902.8 1340.6 901.1 1341.7 900.9 1342.8 899 1344 900.4 1345.1 902.3 1346.2 902 1347.4 901.2 1348.5 898.7 1349.6 898.1 1350.8 899.7 1351.9 900.6 1353 899.9 1354.2 899.5 1355.3 900.5 1356.4 901.3 1357.6 901.9 1358.7 901.5 1359.8 900.6 1361 899.2 1362.1 898.9 1363.2 899.5 1364.4 899.5 1365.5 900.8 1366.6 897.8 1367.8 899.8 1368.9 899.9 1370 903.2 1371.2 901.5 1372.3 901.5 1373.4 899.5 1374.6 899 1375.7 898.5 1376.8 899.8 1378 900.6 1379.1 903.5 1380.2 901.5 1381.4 901.1 1382.5 899 1383.6 899.2 1384.8 898.9 1385.9 898.2 1387 897.5 1388.2 901.5 1389.3 903.7 1390.4 904.1 1391.6 901.9 1392.7 899.7 1393.8 897.9 1395 896.9 1396.1 896.9 1397.2 898.4 1398.4 897.5 1399.5 895.3 1400.6 896.6 1401.8 898.4 1402.9 896.9 1404 896.3 1405.2 896.6 1406.3 897.8 1407.4 898 1408.5 896.8 1409.7 893.2 1410.8 894.6 1411.9 897.9 1413.1 899 1414.2 896.8 1415.3 896.1 1416.5 895 1417.6 893 1418.7 893.3 1419.9 892.2 1421 889.3 1422.1 888.2 1423.3 889.6 1424.4 892.5 1425.5 890.3 1426.7 891 1427.8 889.6 1428.9 887.1 1430.1 885.3 1431.2 882.2 1432.3 880.6 1433.5 880 1434.6 877.6 1435.7 874.2 1436.9 873.8 1438 871.8 1439.1 867.7 1440.3 863.8 1441.4 861.3 1442.5 859.1 1443.7 857.5 1444.8 851.6 1445.9 847.5 1447.1 845.7 1448.2 845.2 1449.3 844.3 1450.5 840.9 1451.6 843.3 1452.7 845.2 1453.9 845.4 1455 850.7 1456.1 853.6 1457.3 856 1458.4 863.5 1459.5 868.3 1460.7 871.8 1461.8 873.7 1462.9 878.5 1464.1 882.5 1465.2 883.6 1466.3 884.3 1467.5 884 1468.6 884.5 1469.7 886.4 1470.9 888 1472 888.3 1473.1 889.2 1474.3 891.3 1475.4 891.2 1476.5 893 1477.7 893.5 1478.8 893.9 1479.9 892 1481.1 893.1 1482.2 893.3 1483.3 895.4 1484.5 895.5 1485.6 894.2 1486.7 893 1487.9 893.9 1489 891.8 1490.1 892.8 1491.3 892.4 1492.4 892.2 1493.5 891.9 1494.7 893.4 1495.8 893.7 1496.9 892.2 1498.1 890.8 1499.2 892 1500.3 893.2 1501.5 889.9 1502.6 889.4 1503.7 892.9 1504.9 892.8 1506 888.4 1507.1 887.5 1508.3 888.9 1509.4 887 1510.5 887.4 1511.7 889.2 1512.8 889.7 1513.9 888.3 1515 887.3 1516.2 885.2 1517.3 885.1 1518.4 883.4 1519.6 881.8 1520.7 879.7 1521.8 877.1 1523 880.1 1524.1 880.1 1525.2 878.6 1526.4 874.3 1527.5 873.1 1528.6 871.5 1529.8 872.3 1530.9 873.7 1532 875.3 1533.2 872.2 1534.3 869.8 1535.4 870.4 1536.6 869.4 1537.7 864.4 1538.8 862.2 1540 860 1541.1 857 1542.2 855.1 1543.4 853.7 1544.5 850.6 1545.6 850.9 1546.8 850.3 1547.9 851.9 1549 850.3 1550.2 849 1551.3 848.2 1552.4 849.2 1553.6 852.5 1554.7 858.1 1555.8 865.5 1557 868.6 1558.1 872.2 1559.2 874.5 1560.4 876.6 1561.5 877.7 1562.6 880.3 1563.8 881.9 1564.9 882.3 1566 879.7 1567.2 879.7 1568.3 881.4 1569.4 882.4 1570.6 882.2 1571.7 882.7 1572.8 884.8 1574 883.9 1575.1 882.8 1576.2 884.5 1577.4 885.3 1578.5 883.8 1579.6 884.3 1580.8 886.6 1581.9 887.2 1583 886.9 1584.2 889.2 1585.3 888.4 1586.4 888.3 1587.6 891 1588.7 888.2 1589.8 888.7 1591 889.7 1592.1 888.5 1593.2 884.8 1594.4 885.8 1595.5 883.7 1596.6 883.3 1597.8 883.6 1598.9 886.4 1600 887.8 1601.2 888.2 1602.3 890.7 1603.4 891 1604.6 887.7 1605.7 887.9 1606.8 887.6 1608 886.5 1609.1 884 1610.2 882.2 1611.4 882.7 1612.5 885.4 1613.6 887.6 1614.8 889.3 1615.9 888.6 1617 888 1618.1 887.8 1619.3 888.2 1620.4 888.7 1621.5 887.4 1622.7 885.2 1623.8 884 1624.9 883.6 1626.1 886.3 1627.2 885 1628.3 884.1 1629.5 885.5 1630.6 886.3 1631.7 887 1632.9 885.8 1634 887.3 1635.1 887.7 1636.3 887.7 1637.4 886.3 1638.5 886.5 1639.7 883.8 1640.8 884.8 1641.9 885.9 1643.1 886 1644.2 887.1 1645.3 886.8 1646.5 886.8 1647.6 884.4 1648.7 881.2 1649.9 880.7 1651 879 1652.1 879.2 1653.3 878.2 1654.4 880.3 1655.5 878.9 1656.7 878.2 1657.8 877.6 1658.9 874.1 1660.1 874.9 1661.2 873.6 1662.3 873.9 1663.5 873.6 1664.6 873.5 1665.7 871.3 1666.9 869.8 1668 869.8 1669.1 872.4 1670.3 871.6 1671.4 869.9 1672.5 869.8 1673.7 870.3 1674.8 869.9 1675.9 867.4 1677.1 868.7 1678.2 868.4 1679.3 865.7 1680.5 860.9 1681.6 858 1682.7 856.7 1683.9 857.2 1685 855.9 1686.1 851 1687.3 846.2 1688.4 844.5 1689.5 845.5 1690.7 842 1691.8 839.5 1692.9 836.4 1694.1 836.8 1695.2 834.4 1696.3 834.8 1697.5 831 1698.6 827.9 1699.7 823.4 1700.9 821.9 1702 822.1 1703.1 824.7 1704.3 825.2 1705.4 824.3 1706.5 823.2 1707.7 823.3 1708.8 823.2 1709.9 829.9 1711.1 835.6 1712.2 839.4 1713.3 839.5 1714.5 836.4 1715.6 838.8 1716.7 841.9 1717.9 843.4 1719 847.4 1720.1 850.7 1721.2 849.7 1722.4 849.8 1723.5 852 1724.6 853.7 1725.8 852.2 1726.9 854.2 1728 851.7 1729.2 854.1 1730.3 856.2 1731.4 857.1 1732.6 857.9 1733.7 857.4 1734.8 855.3 1736 855.3 1737.1 855.9 1738.2 858.3 1739.4 858.1 1740.5 858.7 1741.6 860.9 1742.8 866.1 1743.9 870.1 1745 873.7 1746.2 874.3 1747.3 877.3 1748.4 879.6 1749.6 882.1 1750.7 881.8 1751.8 881.8 1753 883.1 1754.1 883.5 1755.2 886.2 1756.4 889.4 1757.5 891 1758.6 890.8 1759.8 889.7 1760.9 892 1762 893.4 1763.2 893.1 1764.3 892.4 1765.4 892.9 1766.6 891.5 1767.7 892.7 1768.8 893 1770 893.4 1771.1 894.7 1772.2 894.2 1773.4 893.3 1774.5 893.1 1775.6 895 1776.8 895.2 1777.9 894.4 1779 895.7 1780.2 895.5 1781.3 896.4 1782.4 896.6 1783.6 901.9 1784.7 900.9 1785.8 899.5 1787 899.2 1788.1 899.8 1789.2 900.1 1790.4 901.6 1791.5 902.7 1792.6 902.4 1793.8 902 1794.9 904 1796 905.5 1797.2 906 1798.3 906.6 1799.4 907.2 1800.6 905.2 1801.7 906.7 1802.8 907.8 1804 906.6 1805.1 907.4 1806.2 907.9 1807.4 908.8 1808.5 907.9 1809.6 907.6 1810.8 905.7 1811.9 906.6 1813 908.4 1814.2 908.9 1815.3 908.6 1816.4 910.6 1817.6 911.3 1818.7 910.1 1819.8 908.7 1821 907 1822.1 907 1823.2 907.8 1824.4 909.9 1825.5 909.2 1826.6 909.3 1827.7 907.3 1828.9 908 1830 909.9 1831.1 911.6 1832.3 911.6 1833.4 909.7 1834.5 907.6 1835.7 907.4 1836.8 909.1 1837.9 912.4 1839.1 911.4 1840.2 912.1 1841.3 912.8 1842.5 911.4 1843.6 911.4 1844.7 912.1 1845.9 912.2 1847 911.7 1848.1 912.4 1849.3 912 1850.4 910.5 1851.5 908.9 1852.7 910.1 1853.8 909.8 1854.9 911.2 1856.1 913.2 1857.2 912.8 1858.3 914.5 1859.5 913.5 1860.6 911.6 1861.7 910.9 1862.9 909.7 1864 910.6 1865.1 910.5 1866.3 911.8 1867.4 912.2 1868.5 913.7 1869.7 913.3 1870.8 912.6 1871.9 914 1873.1 911.9 1874.2 911.4 1875.3 912.7 1876.5 913.1 1877.6 912.1 1878.7 910.8 1879.9 910.3 1881 910.8 1882.1 910.1 1883.3 910.9 1884.4 910.6 1885.5 912.2 1886.7 912.9 1887.8 911.1 1888.9 909.5 1890.1 909.8 1891.2 908.7 1892.3 909.3 1893.5 910.6 1894.6 910.9 1895.7 912.6 1896.9 913.8 1898 912.6 1899.1 909.9 1900.3 908.5 1901.4 909.9 1902.5 909.6 1903.7 910.8 1904.8 913.1 1905.9 911.8 1907.1 911.7 1908.2 909.9 1909.3 912.2 1910.5 911.2 1911.6 911.1 1912.7 910.4 1913.9 910.9 1915 912.1 1916.1 910.5 1917.3 913 1918.4 912.2 1919.5 913 1920.7 911.8 1921.8 911.8 1922.9 911.4 1924.1 912.8 1925.2 911.5 1926.3 911.6 1927.5 909.9 1928.6 908.4 1929.7 906.7 1930.8 909.9 1932 910.2 1933.1 910.5 1934.2 908.7 1935.4 906.7 1936.5 904.4 1937.6 905.3 1938.8 906.4 1939.9 904.3 1941 904.1 1942.2 905 1943.3 906.3 1944.4 906.3 1945.6 905.9 1946.7 903.2 1947.8 901 1949 902.7 1950.1 901.2 1951.2 901.5 1952.4 899.7 1953.5 901.5 1954.6 900.2 1955.8 900.2 1956.9 901.2 1958 903.4 1959.2 905.2 1960.3 905.5 1961.4 904.8 1962.6 903.8 1963.7 906.1 1964.8 906.2 1966 906.9 1967.1 909.1 1968.2 910.7 1969.4 913 1970.5 910.3 1971.6 910.2 1972.8 910.8 1973.9 913.6 1975 914.2 1976.2 911.7 1977.3 913.4 1978.4 914.7 1979.6 916.8 1980.7 916.9 1981.8 917.4 1983 918.9 1984.1 917.4 1985.2 917.3 1986.4 915.6 1987.5 914.9 1988.6 914.6 1989.8 914.8 1990.9 916.4 1992 914.9 1993.2 913.9 1994.3 914.8 1995.4 914.7 1996.6 915.1 1997.7 912.3 1998.8 913 2000 912.1 2001.1 914.2 2002.2 915.3 2003.4 911.9 2004.5 912.5 2005.6 911.3 2006.8 910.4 2007.9 907.7 2009 908.2 2010.2 908.7 2011.3 908.9 2012.4 910.1 2013.6 908.6 2014.7 908.6 2015.8 907.8 2017 906.7 2018.1 907 2019.2 907.3 2020.4 908.4 2021.5 908.5 2022.6 908.8 2023.8 907.9 2024.9 905 2026 904.8 2027.2 904.9 2028.3 906.8 2029.4 908.2 2030.6 908 2031.7 906.7 2032.8 905 2033.9 904.9 2035.1 905.6 2036.2 906.6 2037.3 907.1 2038.5 907.6 2039.6 905.4 2040.7 904.8 2041.9 904.7 2043 906.3 2044.1 904.6 2045.3 902.7 2046.4 903.6 2047.5 904.3 2048.7 908.1 2049.8 908.4 2050.9 908.6 2052.1 906.6 2053.2 906.8 2054.3 905.9 2055.5 908.9 2056.6 909.1 2057.7 910.5 2058.9 909.2 2060 910.5 2061.1 909.9 2062.3 912.3 2063.4 913.7 2064.5 913.4 2065.7 912.7 2066.8 912 2067.9 911.2 2069.1 910.9 2070.2 913.3 2071.3 913.5 2072.5 913.9 2073.6 914.7 2074.7 917.2 2075.9 917.3 2077 916.6 2078.1 916.7 2079.3 916 2080.4 918.3 2081.5 916.5 2082.7 919.4 2083.8 919.8 2084.9 918.6 2086.1 916.9 2087.2 917.3 2088.3 916.7 2089.5 918 2090.6 918.6 2091.7 919.2 2092.9 919.5 2094 919.1 2095.1 916.7 2096.3 917.2 2097.4 917.9 2098.5 918.2 2099.7 918.8 2100.8 918.7 2101.9 917.6 2103.1 918.6 2104.2 920.1 2105.3 920 2106.5 919.6 2107.6 917.4 2108.7 916.5 2109.9 916 2111 915.2 2112.1 916.3 2113.3 918.9 2114.4 919.1 2115.5 918.3 2116.7 916.6 2117.8 917.8 2118.9 918 2120.1 919.3 2121.2 920.5 2122.3 921 2123.5 919.8 2124.6 918.1 2125.7 917.4 2126.9 919 2128 917.6 2129.1 919.1 2130.3 919.9 2131.4 919.4 2132.5 918.9 2133.7 918.6 2134.8 920 2135.9 921 2137.1 919.6 2138.2 917.5 2139.3 918 2140.4 919.2 2141.6 919.9 2142.7 919.4 2143.8 920.6 2145 921.5 2146.1 921.3 2147.2 920.6 2148.4 921.5 2149.5 920.7 2150.6 920.6 2151.8 920.1 2152.9 917.4 2154 918.3 2155.2 918.9 2156.3 918.3 2157.4 916.6 2158.6 917.9 2159.7 918.6 2160.8 918.9 2162 918.4 2163.1 919.2 2164.2 918.9 2165.4 916.9 2166.5 918.4 2167.6 917 2168.8 917.7 2169.9 919 2171 918.5 2172.2 917.7 2173.3 918.9 2174.4 919.8 2175.6 919.1 2176.7 918.7 2177.8 918.6 2179 920.7 2180.1 920.7 2181.2 918 2182.4 917.2 2183.5 919 2184.6 918.3 2185.8 917.1 2186.9 917 2188 918 2189.2 917.6 2190.3 917.5 2190.3 921 2189.2 921.6 2188 924.2 2186.9 925 2185.8 924.1 2184.6 923.9 2183.5 923.1 2182.4 922.3 2181.2 922.1 2180.1 925.4 2179 924.9 2177.8 923.1 2176.7 923.3 2175.6 924.9 2174.4 925.1 2173.3 925 2172.2 924.9 2171 924.3 2169.9 924.9 2168.8 925.2 2167.6 926.1 2166.5 924.5 2165.4 922.9 2164.2 925.3 2163.1 925.3 2162 924.4 2160.8 924 2159.7 923.8 2158.6 923.2 2157.4 924.1 2156.3 923.4 2155.2 923.8 2154 924.1 2152.9 924.5 2151.8 922.7 2150.6 922 2149.5 922.7 2148.4 922.5 2147.2 922.7 2146.1 923.3 2145 924.7 2143.8 924.8 2142.7 926.3 2141.6 926.6 2140.4 926.5 2139.3 925.4 2138.2 923.6 2137.1 924 2135.9 923.8 2134.8 924.7 2133.7 925.1 2132.5 924.3 2131.4 923.8 2130.3 922.4 2129.1 922.3 2128 922.5 2126.9 923.6 2125.7 923 2124.6 923.4 2123.5 924.9 2122.3 924.4 2121.2 923.7 2120.1 925.5 2118.9 925.5 2117.8 922.4 2116.7 921.4 2115.5 923.1 2114.4 924.4 2113.3 925.5 2112.1 922.3 2111 922.6 2109.9 923 2108.7 922.5 2107.6 920.7 2106.5 919.7 2105.3 921.1 2104.2 922.5 2103.1 924.4 2101.9 925.4 2100.8 923.9 2099.7 922.6 2098.5 922 2097.4 924.1 2096.3 925.2 2095.1 924.9 2094 924.2 2092.9 923.8 2091.7 924.7 2090.6 927.3 2089.5 926.1 2088.3 925 2087.2 922.1 2086.1 922.6 2084.9 923 2083.8 922.7 2082.7 923.7 2081.5 924.4 2080.4 921.6 2079.3 921 2078.1 921.4 2077 920.6 2075.9 920.6 2074.7 920.1 2073.6 919.7 2072.5 917.9 2071.3 916.6 2070.2 916.5 2069.1 916.4 2067.9 917.7 2066.8 918.4 2065.7 919 2064.5 917.4 2063.4 917.7 2062.3 916.1 2061.1 915.7 2060 915.3 2058.9 916.9 2057.7 914.5 2056.6 912.6 2055.5 911.8 2054.3 912 2053.2 913.6 2052.1 913.1 2050.9 914.6 2049.8 914 2048.7 913.8 2047.5 912.6 2046.4 911.2 2045.3 911.3 2044.1 912.1 2043 913.2 2041.9 914.6 2040.7 913.3 2039.6 914.8 2038.5 914.2 2037.3 913.9 2036.2 911.6 2035.1 913.3 2033.9 914.2 2032.8 913.3 2031.7 913.1 2030.6 914 2029.4 915 2028.3 911.9 2027.2 911.4 2026 912.6 2024.9 912.4 2023.8 912.5 2022.6 910.5 2021.5 910.6 2020.4 911.7 2019.2 910.3 2018.1 910.8 2017 913.9 2015.8 914.3 2014.7 914.4 2013.6 912.3 2012.4 915.2 2011.3 916.3 2010.2 914.3 2009 916.1 2007.9 915.5 2006.8 915.8 2005.6 915.3 2004.5 917.7 2003.4 918.7 2002.2 917.7 2001.1 915.4 2000 915.7 1998.8 916.1 1997.7 917.4 1996.6 918.2 1995.4 918.1 1994.3 918.4 1993.2 918.1 1992 916.1 1990.9 913.7 1989.8 914.4 1988.6 916.5 1987.5 917.9 1986.4 918.6 1985.2 921 1984.1 921.4 1983 919.1 1981.8 917.3 1980.7 918.3 1979.6 918.7 1978.4 917.2 1977.3 918.1 1976.2 919.9 1975 917.9 1973.9 918.4 1972.8 917.1 1971.6 917 1970.5 917.5 1969.4 917.2 1968.2 914.4 1967.1 912.2 1966 912.1 1964.8 911.7 1963.7 911.3 1962.6 910.9 1961.4 910.9 1960.3 909.5 1959.2 909.9 1958 909.9 1956.9 908.3 1955.8 906.9 1954.6 904.6 1953.5 904.1 1952.4 906 1951.2 907.9 1950.1 911.1 1949 910.9 1947.8 910.1 1946.7 908.7 1945.6 909.3 1944.4 908.8 1943.3 909.7 1942.2 910.6 1941 912.2 1939.9 911.7 1938.8 913 1937.6 913.8 1936.5 914.5 1935.4 916.4 1934.2 913.8 1933.1 912.8 1932 913.7 1930.8 916.3 1929.7 915.7 1928.6 914.2 1927.5 915.3 1926.3 915.8 1925.2 914 1924.1 913.2 1922.9 914.5 1921.8 913.8 1920.7 917.7 1919.5 920.2 1918.4 919.7 1917.3 916.4 1916.1 914.8 1915 916.8 1913.9 916.4 1912.7 917.3 1911.6 917.5 1910.5 915.8 1909.3 914.7 1908.2 915.3 1907.1 915.4 1905.9 915.9 1904.8 917.1 1903.7 917.2 1902.5 915.7 1901.4 915.7 1900.3 916.1 1899.1 915.9 1898 913.9 1896.9 913.7 1895.7 912.8 1894.6 913.9 1893.5 914.6 1892.3 916.2 1891.2 918 1890.1 917.5 1888.9 918.1 1887.8 916.1 1886.7 915.3 1885.5 916.1 1884.4 917.5 1883.3 917.9 1882.1 915.8 1881 914.5 1879.9 915.2 1878.7 915 1877.6 914.5 1876.5 914.1 1875.3 913.7 1874.2 916 1873.1 917.5 1871.9 916.9 1870.8 916.9 1869.7 917.1 1868.5 916.2 1867.4 915.6 1866.3 917 1865.1 917.6 1864 917.2 1862.9 916.8 1861.7 916.5 1860.6 916.3 1859.5 915.2 1858.3 913.3 1857.2 916.7 1856.1 918.5 1854.9 919.6 1853.8 918.1 1852.7 918.8 1851.5 917.9 1850.4 917.8 1849.3 915.7 1848.1 915.9 1847 916.4 1845.9 918.2 1844.7 918.6 1843.6 917.2 1842.5 916.9 1841.3 915.7 1840.2 916.8 1839.1 917 1837.9 916.7 1836.8 917 1835.7 918.9 1834.5 918.8 1833.4 919.5 1832.3 917.2 1831.1 915.9 1830 915.8 1828.9 913.8 1827.7 913.1 1826.6 913.8 1825.5 914.1 1824.4 914.1 1823.2 912.1 1822.1 911.5 1821 910.6 1819.8 912.5 1818.7 912.9 1817.6 913 1816.4 916.2 1815.3 914.4 1814.2 913.2 1813 911.4 1811.9 910.6 1810.8 911.2 1809.6 909.8 1808.5 910 1807.4 910.8 1806.2 912.6 1805.1 912.2 1804 910 1802.8 909.4 1801.7 911.1 1800.6 909.3 1799.4 909 1798.3 909.7 1797.2 912.2 1796 907.6 1794.9 907.2 1793.8 906.8 1792.6 907 1791.5 907.9 1790.4 905.5 1789.2 905.5 1788.1 902.2 1787 901.8 1785.8 900.9 1784.7 902.5 1783.6 903.3 1782.4 904.7 1781.3 903.4 1780.2 903.8 1779 901.2 1777.9 899.1 1776.8 899.9 1775.6 898 1774.5 900.1 1773.4 900.3 1772.2 899.9 1771.1 900 1770 901 1768.8 901.1 1767.7 898.5 1766.6 899.1 1765.4 900.9 1764.3 900.8 1763.2 898.4 1762 894.3 1760.9 893.6 1759.8 897.6 1758.6 893.9 1757.5 893.1 1756.4 890.2 1755.2 891.1 1754.1 893 1753 892.9 1751.8 888.6 1750.7 885.9 1749.6 885.5 1748.4 882.6 1747.3 879.8 1746.2 877.4 1745 877.6 1743.9 877 1742.8 869.8 1741.6 865.4 1740.5 865.2 1739.4 863.8 1738.2 861.8 1737.1 863 1736 863.8 1734.8 862.5 1733.7 863.6 1732.6 863.1 1731.4 864.7 1730.3 863.1 1729.2 864 1728 861.5 1726.9 861.3 1725.8 863.1 1724.6 861.8 1723.5 861.7 1722.4 856.8 1721.2 853.4 1720.1 852.6 1719 852.8 1717.9 849.1 1716.7 850.1 1715.6 848.1 1714.5 847 1713.3 843.1 1712.2 841.3 1711.1 841.8 1709.9 839.3 1708.8 835.8 1707.7 830.6 1706.5 828.5 1705.4 827.9 1704.3 831.1 1703.1 830.2 1702 826.7 1700.9 829 1699.7 832.3 1698.6 833.2 1697.5 833.2 1696.3 834.5 1695.2 833.6 1694.1 837.8 1692.9 841.1 1691.8 843.7 1690.7 844.5 1689.5 847 1688.4 850.2 1687.3 852.3 1686.1 855.3 1685 858.5 1683.9 861.3 1682.7 866.8 1681.6 869.4 1680.5 870.9 1679.3 872.2 1678.2 873.4 1677.1 874.9 1675.9 875.9 1674.8 874.6 1673.7 873.2 1672.5 873.9 1671.4 878.1 1670.3 878.9 1669.1 876.8 1668 874.4 1666.9 877.8 1665.7 879.9 1664.6 880.4 1663.5 881.1 1662.3 879 1661.2 880.4 1660.1 880.6 1658.9 882.2 1657.8 882 1656.7 882.7 1655.5 883.4 1654.4 884.5 1653.3 889.2 1652.1 887 1651 886.4 1649.9 886.5 1648.7 890 1647.6 891.3 1646.5 890.6 1645.3 889.6 1644.2 891.2 1643.1 893.8 1641.9 896.2 1640.8 893.3 1639.7 891 1638.5 886.8 1637.4 888.7 1636.3 891 1635.1 892.2 1634 890.7 1632.9 894.2 1631.7 895.4 1630.6 896.5 1629.5 892.6 1628.3 892.1 1627.2 893.4 1626.1 893.7 1624.9 893.8 1623.8 892.7 1622.7 891 1621.5 889.4 1620.4 891 1619.3 891.6 1618.1 893.6 1617 894.6 1615.9 893.2 1614.8 895.2 1613.6 896.8 1612.5 894 1611.4 889.5 1610.2 890.5 1609.1 893.2 1608 892.7 1606.8 894.3 1605.7 893.8 1604.6 894.8 1603.4 890.3 1602.3 885.9 1601.2 886.1 1600 890.4 1598.9 891.8 1597.8 892.3 1596.6 893.1 1595.5 889.9 1594.4 889.7 1593.2 887.4 1592.1 890 1591 889.3 1589.8 890.1 1588.7 891.1 1587.6 891.6 1586.4 894.8 1585.3 894.5 1584.2 892.9 1583 892.5 1581.9 894.6 1580.8 893.5 1579.6 891 1578.5 889.8 1577.4 891.2 1576.2 893.1 1575.1 893 1574 891.3 1572.8 891.1 1571.7 891.2 1570.6 891.3 1569.4 888.1 1568.3 888.3 1567.2 888.1 1566 887.5 1564.9 887.5 1563.8 887.7 1562.6 888.2 1561.5 887.2 1560.4 883.6 1559.2 880.4 1558.1 878.9 1557 875.8 1555.8 871.6 1554.7 868.4 1553.6 863.8 1552.4 859.3 1551.3 857.6 1550.2 856.9 1549 857.3 1547.9 855.3 1546.8 856.1 1545.6 858.1 1544.5 859 1543.4 858.5 1542.2 860.8 1541.1 863.3 1540 867 1538.8 868.9 1537.7 870 1536.6 875.2 1535.4 876.4 1534.3 875.9 1533.2 875.3 1532 876.6 1530.9 881 1529.8 886.2 1528.6 887.9 1527.5 886.7 1526.4 887.5 1525.2 886.6 1524.1 888.5 1523 886.6 1521.8 888.2 1520.7 888.2 1519.6 890.6 1518.4 890.9 1517.3 889.1 1516.2 888.6 1515 889.9 1513.9 892.2 1512.8 892.1 1511.7 891.9 1510.5 894.2 1509.4 893.6 1508.3 892.4 1507.1 893 1506 896.1 1504.9 897.2 1503.7 896.5 1502.6 895.3 1501.5 898.6 1500.3 901.2 1499.2 901 1498.1 899.8 1496.9 897.1 1495.8 900.5 1494.7 901.1 1493.5 900.3 1492.4 898.4 1491.3 899 1490.1 901.1 1489 900 1487.9 900 1486.7 897.8 1485.6 896.4 1484.5 897.3 1483.3 898.4 1482.2 895.5 1481.1 897.4 1479.9 898.4 1478.8 897.8 1477.7 895.6 1476.5 895.5 1475.4 897.8 1474.3 896.3 1473.1 896.3 1472 894.8 1470.9 893.6 1469.7 892.9 1468.6 888.9 1467.5 888 1466.3 889.7 1465.2 890.7 1464.1 886.4 1462.9 880.8 1461.8 879.7 1460.7 879.2 1459.5 873 1458.4 866.6 1457.3 862.6 1456.1 859.6 1455 855.9 1453.9 850.8 1452.7 848.5 1451.6 846.9 1450.5 845.2 1449.3 844.7 1448.2 847.9 1447.1 852.6 1445.9 857.7 1444.8 860.5 1443.7 862.8 1442.5 865.4 1441.4 867.9 1440.3 870.8 1439.1 875 1438 878.4 1436.9 880.5 1435.7 883.2 1434.6 883.1 1433.5 884.5 1432.3 885.5 1431.2 886.2 1430.1 887.8 1428.9 889.9 1427.8 893.7 1426.7 894.7 1425.5 895.1 1424.4 895.6 1423.3 896.5 1422.1 895.6 1421 897.7 1419.9 895.8 1418.7 895.7 1417.6 895.9 1416.5 896.4 1415.3 899.5 1414.2 900.6 1413.1 901.3 1411.9 901.7 1410.8 904.1 1409.7 902.4 1408.5 900.7 1407.4 901.3 1406.3 902.7 1405.2 902.3 1404 900.1 1402.9 901.7 1401.8 903.1 1400.6 905.8 1399.5 905.2 1398.4 907.9 1397.2 908 1396.1 905.8 1395 903.2 1393.8 903.6 1392.7 905.9 1391.6 903.8 1390.4 904.2 1389.3 905.7 1388.2 907.1 1387 907.2 1385.9 906 1384.8 903.3 1383.6 904.4 1382.5 904.4 1381.4 905.4 1380.2 906.4 1379.1 903.8 1378 903.8 1376.8 904.4 1375.7 905.5 1374.6 906.5 1373.4 906.1 1372.3 903.5 1371.2 904.5 1370 906 1368.9 903.8 1367.8 903 1366.6 904.2 1365.5 906.5 1364.4 907.1 1363.2 907.1 1362.1 908.2 1361 907.2 1359.8 906.4 1358.7 904.7 1357.6 906.4 1356.4 905.9 1355.3 906.8 1354.2 906 1353 908 1351.9 907.6 1350.8 906 1349.6 904.5 1348.5 905.2 1347.4 905.6 1346.2 904.9 1345.1 906.3 1344 907 1342.8 904.3 1341.7 904.4 1340.6 904.3 1339.4 903 1338.3 904.5 1337.2 904.3 1336 902.6 1334.9 902.8 1333.8 903.2 1332.6 903.9 1331.5 901.3 1330.4 901.3 1329.2 899.3 1328.1 897.7 1327 895.8 1325.8 891.8 1324.7 889 1323.6 885 1322.4 883.5 1321.3 883.5 1320.2 887.1 1319 890.4 1317.9 893.7 1316.8 895.1 1315.6 896.4 1314.5 896.7 1313.4 898 1312.2 899.2 1311.1 902 1310 903 1308.8 902.5 1307.7 902.9 1306.6 902 1305.4 903.4 1304.3 902 1303.2 903.4 1302.1 903.3 1300.9 904.8 1299.8 903.3 1298.7 901.9 1297.5 898.6 1296.4 899.7 1295.3 902 1294.1 906.2 1293 906.9 1291.9 904.6 1290.7 903.4 1289.6 902.4 1288.5 904.2 1287.3 905.9 1286.2 906.2 1285.1 904.4 1283.9 905.5 1282.8 905.6 1281.7 905.3 1280.5 904.9 1279.4 907.5 1278.3 907 1277.1 908.7 1276 907.1 1274.9 906.5 1273.7 906.4 1272.6 907.4 1271.5 908.5 1270.3 908.1 1269.2 909.7 1268.1 908.7 1266.9 907 1265.8 906.4 1264.7 905.7 1263.5 905.7 1262.4 905.7 1261.3 907.5 1260.1 906.3 1259 903.2 1257.9 904.4 1256.7 903 1255.6 903 1254.5 902 1253.3 902.5 1252.2 904.3 1251.1 905.7 1249.9 907.7 1248.8 907.7 1247.7 905.3 1246.5 902.3 1245.4 903.6 1244.3 904.7 1243.1 902.8 1242 901.2 1240.9 901 1239.7 902.6 1238.6 903.1 1237.5 900.6 1236.3 898.9 1235.2 898.5 1234.1 900.2 1232.9 899.3 1231.8 899.5 1230.7 901.1 1229.5 899.8 1228.4 897.3 1227.3 894.6 1226.1 896.4 1225 897.6 1223.9 895.5 1222.7 895.8 1221.6 896.6 1220.5 898.1 1219.3 898.9 1218.2 899.3 1217.1 900.2 1215.9 899.4 1214.8 901.5 1213.7 902.5 1212.5 902 1211.4 897.3 1210.3 897.9 1209.1 898 1208 900.9 1206.9 900.3 1205.7 900.1 1204.6 900.5 1203.5 901 1202.3 898.3 1201.2 895.3 1200.1 895.9 1198.9 895.5 1197.8 897 1196.7 897.5 1195.6 897.6 1194.4 898.1 1193.3 897 1192.2 895.2 1191 893.7 1189.9 893.5 1188.8 891.9 1187.6 891.7 1186.5 892.8 1185.4 890.7 1184.2 890.8 1183.1 889.6 1182 894 1180.8 894.3 1179.7 893.1 1178.6 889.1 1177.4 887.4 1176.3 887.8 1175.2 888.6 1174 888.7 1172.9 886.2 1171.8 888.3 1170.6 886.4 1169.5 882.9 1168.4 885.5 1167.2 886.3 1166.1 884.6 1165 883.3 1163.8 882.6 1162.7 880.8 1161.6 880.2 1160.4 878.9 1159.3 877.8 1158.2 873.5 1157 872.9 1155.9 872.4 1154.8 872 1153.6 871.3 1152.5 866.4 1151.4 865.5 1150.2 864.4 1149.1 865.1 1148 865.4 1146.8 865.2 1145.7 868.3 1144.6 871.8 1143.4 874.4 1142.3 875.3 1141.2 878 1140 877.9 1138.9 878.1 1137.8 877.6 1136.6 877.8 1135.5 879 1134.4 879.1 1133.2 880 1132.1 881.4 1131 879.4 1129.8 878.8 1128.7 880.6 1127.6 879.6 1126.4 878.7 1125.3 879.7 1124.2 880.2 1123 881.6 1121.9 881.7 1120.8 884.1 1119.6 884.3 1118.5 885.8 1117.4 882.8 1116.2 884.6 1115.1 886.6 1114 885.2 1112.8 885.1 1111.7 887.7 1110.6 886 1109.4 885.4 1108.3 887.1 1107.2 886.7 1106 883.3 1104.9 882 1103.8 880.1 1102.6 882.1 1101.5 882.2 1100.4 881.4 1099.2 881.2 1098.1 880.6 1097 881.3 1095.8 881.7 1094.7 882.6 1093.6 880 1092.5 877.6 1091.3 873.5 1090.2 875.4 1089.1 874.4 1087.9 876.3 1086.8 872.4 1085.7 868 1084.5 865 1083.4 864.3 1082.3 862 1081.1 859.3 1080 856.8 1078.9 858 1077.7 857.5 1076.6 859.3 1075.5 861.4 1074.3 865.3 1073.2 865.9 1072.1 867.6 1070.9 868.6 1069.8 869.3 1068.7 871.1 1067.5 870.1 1066.4 871.1 1065.3 872.9 1064.1 875.7 1063 876.6 1061.9 878.6 1060.7 876.6 1059.6 875.1 1058.5 874.7 1057.3 875.6 1056.2 877.3 1055.1 879.3 1053.9 878.7 1052.8 880.1 1051.7 878.9 1050.5 876.4 1049.4 876.6 1048.3 878.9 1047.1 876.1 1046 875.8 1044.9 877.2 1043.7 874.6 1042.6 873.4 1041.5 875.7 1040.3 877.5 1039.2 878.1 1038.1 876.2 1036.9 876.9 1035.8 877.3 1034.7 876.8 1033.5 875.9 1032.4 877.4 1031.3 876.1 1030.1 878.2 1029 876.9 1027.9 875.3 1026.7 873.7 1025.6 874.9 1024.5 875.3 1023.3 876.7 1022.2 875.3 1021.1 871.5 1019.9 872 1018.8 874.5 1017.7 874.9 1016.5 873.8 1015.4 872.8 1014.3 868.7 1013.1 870 1012 872.8 1010.9 874.8 1009.7 874.1 1008.6 872.9 1007.5 874.4 1006.3 872.6 1005.2 868.9 1004.1 867.3 1002.9 868.4 1001.8 867.7 1000.7 869.7 999.5 868.7 998.4 866.9 997.3 867.9 996.1 869.5 995 868.8 993.9 867.2 992.7 866.6 991.6 865.5 990.5 864.7 989.4 862.9 988.2 858.1 987.1 856.8 986 854.2 984.8 853.8 983.7 855.1 982.6 853.2 981.4 851.6 980.3 851.4 979.2 847.7 978 847.1 976.9 845.5 975.8 842.8 974.6 840.1 973.5 839 972.4 840 971.2 840 970.1 840.1 969 835.4 967.8 832.8 966.7 828.3 965.6 828.4 964.4 829.3 963.3 830.8 962.2 830.4 961 827 959.9 825.1 958.8 824.7 957.6 820.6 956.5 819.6 955.4 816.3 954.2 815.6 953.1 814.2 952 812.7 950.8 807.8 949.7 804.4 948.6 801.1 947.4 794.7 946.3 786.5 945.2 779.2 944 774.9 942.9 764.8 941.8 758.6 940.6 752.1 939.5 739.2 938.4 725 937.2 707.9 936.1 691.9 935 677.3 933.8 664 932.7 651.4 931.6 645.7 930.4 651.8 929.3 663.8 928.2 681.5 927 693.1 925.9 700.7 924.8 707.4 923.6 715 922.5 722.5 921.4 730.4 920.2 745.9 919.1 758.8 918 767.6 916.8 770.4 915.7 775.9 914.6 779.3 913.4 779.2 912.3 780.8 911.2 782.5 910 785.3 908.9 784.1 907.8 790.8 906.6 795.6 905.5 799.9 904.4 804.9 903.2 810.2 902.1 809.8 901 812.9 899.8 812.7 898.7 816.5 897.6 816.3 896.4 818.8 895.3 823.4 894.2 824.4 893 820.6 891.9 819.7 890.8 821.1 889.6 823.2 888.5 823.6 887.4 822.2 886.2 819.8 885.1 815.2 884 814.6 882.9 818.3 881.7 822.5 880.6 825.8 879.5 823.8 878.3 824.9 877.2 819.6 876.1 820.2 874.9 822.3 873.8 822.3 872.7 822 871.5 826.1 870.4 825.4 869.3 823.9 868.1 812.9 867 805 865.9 798 864.7 788.4 863.6 782.4 862.5 773.7 861.3 754.4 860.2 744.3 859.1 760 857.9 778.3 856.8 786.8 855.7 795.7 854.5 805.4 853.4 814.3 852.3 817.1 851.1 818 850 820.9 848.9 828.6 847.7 830.9 846.6 829.5 845.5 830.7 844.3 830.8 843.2 829 842.1 832.3 840.9 831.3 839.8 836.3 838.7 836.7 837.5 835.3 836.4 836.3 835.3 836.5 834.1 836.7 833 833.5 831.9 834 830.7 835.5 829.6 838.9 828.5 841.7 827.3 840.7 826.2 841.9 825.1 841.2 823.9 842.3 822.8 842 821.7 841.7 820.5 844.6 819.4 845.5 818.3 845.8 817.1 843.7 816 843.6 814.9 842.2 813.7 841.4 812.6 839.8 811.5 839.5 810.3 838.6 809.2 843.4 808.1 845.1 806.9 845.1 805.8 843.8 804.7 842.2 803.5 840.9 802.4 840.4 801.3 841 800.1 840.3 799 838.4 797.9 836.7 796.7 832.4 795.6 833.1 794.5 830.5 793.3 828.7 792.2 824.5 791.1 824.2 789.9 824.1 788.8 821.1 787.7 818.1 786.5 814.3 785.4 817 784.3 814.6 783.1 815.1 782 815 780.9 814.9 779.8 814.2 778.6 812.9 777.5 814.3 776.4 815.6 775.2 820.1 774.1 824.2 773 827.4 771.8 831.9 770.7 832.3 769.6 829.4 768.4 829 767.3 832.8 766.2 838.1 765 836.4 763.9 840 762.8 840.5 761.6 843.1 760.5 845.3 759.4 848 758.2 851.1 757.1 849.4 756 848.7 754.8 851.8 753.7 854.1 752.6 854 751.4 855.2 750.3 854.7 749.2 855.9 748 853.2 746.9 855.2 745.8 855.3 744.6 856 743.5 852.4 742.4 852.3 741.2 855.7 740.1 857.3 739 858.1 737.8 857.3 736.7 858.8 735.6 858.5 734.4 860.9 733.3 859.6 732.2 861 731 859.9 729.9 859.2 728.8 860.5 727.6 861.5 726.5 862.1 725.4 860.7 724.2 864.5 723.1 864.4 722 859 720.8 860 719.7 861 718.6 861.6 717.4 863.2 716.3 861.9 715.2 860.5 714 862.4 712.9 864.7 711.8 861.1 710.6 861.6 709.5 863.6 708.4 860.7 707.2 862.2 706.1 863.5 705 863.7 703.8 863.8 702.7 866.7 701.6 864.9 700.4 864.5 699.3 864.7 698.2 866 697 864.3 695.9 865.3 694.8 866.8 693.6 869.1 692.5 869.5 691.4 869.3 690.2 870.8 689.1 873.4 688 870.2 686.8 869.1 685.7 867.1 684.6 866.7 683.4 866.2 682.3 867.5 681.2 866.4 680 868.8 678.9 868.3 677.8 868.5 676.7 866.2 675.5 868.6 674.4 869.6 673.3 870.2 672.1 872.7 671 873.8 669.9 873.8 668.7 870.1 667.6 870.6 666.5 873.8 665.3 876.7 664.2 873.8 663.1 873.1 661.9 872.7 660.8 871.3 659.7 872.2 658.5 873.1 657.4 873.2 656.3 873.7 655.1 872.5 654 871.8 652.9 872.3 651.7 871.4 650.6 872.1 649.5 874.2 648.3 875.5 647.2 874.1 646.1 875.7 644.9 876.5 643.8 877 642.7 875.8 641.5 876.1 640.4 878.4 639.3 878.2 638.1 878.6 637 880 635.9 877.9 634.7 876 633.6 878.6 632.5 881.1 631.3 881.2 630.2 881 629.1 879.7 627.9 879 626.8 880.5 625.7 879.6 624.5 879.2 623.4 878.6 622.3 880.4 621.1 878.2 620 879.7 618.9 878.7 617.7 880 616.6 877.8 615.5 878.5 614.3 878.1 613.2 877.6 612.1 873.4 610.9 868.6 609.8 862.6 608.7 860.6 607.5 856.2 606.4 856.3 605.3 857.9 604.1 860.5 603 865.9 601.9 868.8 600.7 872.1 599.6 874.3 598.5 875 597.3 877 596.2 879.9 595.1 881.6 593.9 880.7 592.8 877.8 591.7 880.3 590.5 880.9 589.4 879.3 588.3 881.9 587.1 882.5 586 882.9 584.9 881.8 583.7 881.1 582.6 881.5 581.5 884.2 580.3 884.8 579.2 885.5 578.1 884.9 576.9 883 575.8 881.7 574.7 881.4 573.5 885 572.4 883.8 571.3 881.2 570.2 884.1 569 884.5 567.9 884.2 566.8 882.1 565.6 884.6 564.5 885.8 563.4 884.1 562.2 880.8 561.1 880.8 560 882.2 558.8 882.7 557.7 881.5 556.6 881.3 555.4 882.1 554.3 881.4 553.2 880.4 552 881.9 550.9 881.2 549.8 881.9 548.6 878 547.5 877.6 546.4 878.6 545.2 880.2 544.1 880.5 543 880.2 541.8 878.6 540.7 879.7 539.6 879.6 538.4 879 537.3 875.8 536.2 873.7 535 874.2 533.9 874.5 532.8 874.9 531.6 875.9 530.5 876.1 529.4 873.7 528.2 870.8 527.1 869.6 526 871 524.8 874.5 523.7 873.6 522.6 871.6 521.4 870.3 520.3 873.8 519.2 874.1 518 875.9 516.9 875.4 515.8 874.8 514.6 877 513.5 878.4 512.4 882.3 511.2 880.6 510.1 878 509 878.2 507.8 879.2 506.7 876.7 505.6 873.8 504.4 875.6 503.3 876.8 502.2 875.6 501 876.3 499.9 875.9 498.8 874 497.6 872.2 496.5 873.3 495.4 874.6 494.2 873.9 493.1 872.1 492 875.5 490.8 873.9 489.7 875.1 488.6 873.4 487.4 871.2 486.3 871.8 485.2 874.4 484 875.9 482.9 873.7 481.8 875.1 480.6 876.1 479.5 876.7 478.4 873.8 477.2 873.2 476.1 869.4 475 870 473.8 869.6 472.7 873.6 471.6 870 470.4 867.1 469.3 867.1 468.2 867.4 467.1 869.7 465.9 866.4 464.8 867.9 463.7 864.8 462.5 863.6 461.4 864.1 460.3 862.7 459.1 862.3 458 860.7 456.9 863.5 455.7 863.4 454.6 863.9 453.5 864.9 452.3 864.2 451.2 862.1 450.1 861.1 448.9 861.8 447.8 860.4 446.7 859.2 445.5 859.5 444.4 857 443.3 856.5 442.1 854.5 441 854 439.9 853.1 438.7 852.9 437.6 851 436.5 849.2 435.3 849.3 434.2 849.7 433.1 852.6 431.9 853.7 430.8 855 429.7 857.3 428.5 857.4 427.4 858.6 426.3 857.5 425.1 857.2 424 855.7 422.9 856.3 421.7 857.2 420.6 855.3 419.5 851.3 418.3 847.9 417.2 847.8 416.1 850.8 414.9 849.8 413.8 849.8 412.7 848.5 411.5 847.1 410.4 848.7 409.3 844.5 408.1 843.9 407 844.5 405.9 844.4 404.7 841.1 403.6 842.1 402.5 844.1 401.3 843.6 400.2 843.1 399.1 840.6 397.9 841.1 396.8 841.1 395.7 838.5 394.5 837.5 393.4 839.3 392.3 838.7 391.1 836.9 390 835.4 388.9 833.9 387.7 834.3 386.6 834.5 385.5 833.3 384.3 833.3 383.2 831.8 382.1 835 380.9 833.9 379.8 832.2 378.7 825.5 377.5 824.3 376.4 824.5 375.3 825.4 374.1 821.8 373 821.8 371.9 821.5 370.7 819.6 369.6 814.5 368.5 818.1 367.3 818.6 366.2 816.7 365.1 814.7 364 813 362.8 812.5 361.7 811.2 360.6 810 359.4 811 358.3 810.5 357.2 807.7 356 806 354.9 804.1 353.8 803.9 352.6 806 351.5 807 350.4 800.7 349.2 800.1 348.1 797.8 347 798.1 345.8 795.5 344.7 793.8 343.6 792.7 342.4 791.2 341.3 789.1 340.2 788.1 339 786 337.9 779.8 336.8 778.4 335.6 778.1 334.5 777.4 333.4 774.6 332.2 774.8 331.1 779.6 330 774.2 328.8 771.9 327.7 769.4 326.6 770 325.4 764.8 324.3 765.1 323.2 759.5 322 752.3 320.9 753.2 319.8 753.9 318.6 758 317.5 760.2 316.4 753.7 315.2 751.3 314.1 749.8 313 751.4 311.8 750.8 310.7 748.4 309.6 744.8 308.4 745 307.3 739.3 306.2 733.2 305 736.7 303.9 737.1 302.8 733.9 301.6 733.6 300.5 732.5 299.4 730.5 298.2 729.1 297.1 725.7 296 723.6 294.8 722.7 293.7 721.6 292.6 721.5 291.4 717.8 290.3 715.6 289.2 712.1 288 707.4 286.9 706.5 285.8 706 284.6 707.8 283.5 707 282.4 698.2 281.2 696.1 280.1 695.5 279 697.7 277.8 692.4 276.7 691.5 275.6 691.9 274.4 690 273.3 687.6 272.2 687 271 688.2 269.9 681.6 268.8 678.3 267.6 676.3 266.5 677.9 265.4 675.5 264.2 677.9 263.1 682.2 262 678.6 260.8 672.5 259.7 670.1 258.6 664 257.5 666.4 256.3 664.5 255.2 655.9 254.1 655.4 252.9 660.1 251.8 665.9 250.7 665.7 249.5 654.4 248.4 649 247.3 648.6 246.1 652.2 245 651.1 243.9 648.8 242.7 647.3 241.6 644.7 240.5 642.3 239.3 639.2 238.2 640.3 237.1 641 235.9 635.2 234.8 630.4 233.7 628.5 232.5 626.1 231.4 623.7 230.3 619.9 229.1 617.6 228 613.4 226.9 614.6 225.7 615.9 224.6 617.3 223.5 615 222.3 614 221.2 607.2 220.1 598.3 218.9 600.3 217.8 600.9 216.7 596.3 215.5 597.6 214.4 596.3 213.3 591.8 212.1 587.6 211 588.3 209.9 590.7 208.7 603.2 207.6 592.1Z" fill="#ff3434"/>
<path d="M207.6 556.9 208.2 562.2 208.7 563.8 209.3 578.2 209.9 609 210.4 564.3 211 601.1 211.6 600.7 212.1 578.4 212.7 574.2 213.3 591.6 213.8 603.7 214.4 612.5 215 595.4 215.5 603.2 216.1 580.2 216.7 580.9 217.2 574.2 217.8 582.9 218.4 587.6 218.9 594.1 219.5 568.4 220.1 614.9 220.6 597 221.2 585.2 221.8 588.7 222.3 619.7 222.9 596.8 223.5 590.4 224 590.1 224.6 616.1 225.2 592.4 225.7 623 226.3 616.2 226.9 576.9 227.4 617.1 228 603 228.6 585.7 229.1 601.3 229.7 616.1 230.3 612.3 230.8 620.2 231.4 607.7 232 630.1 232.5 632.4 233.1 634 233.7 629 234.2 640.3 234.8 644.5 235.4 635.3 235.9 636.9 236.5 634.8 237.1 637.1 237.6 638 238.2 618.6 238.8 633.9 239.3 643.2 239.9 619.9 240.5 626.5 241 659.6 241.6 635.5 242.2 639.9 242.7 653 243.3 642.9 243.9 636.7 244.4 640.5 245 641.5 245.6 641.4 246.1 649.1 246.7 661.6 247.3 651.1 247.8 663.8 248.4 657.3 249 659.9 249.5 657.9 250.1 649.4 250.7 655 251.2 653.6 251.8 630.6 252.4 657.8 252.9 654.8 253.5 652.7 254.1 643.8 254.6 622.4 255.2 675.1 255.8 650.9 256.3 630.6 256.9 658.9 257.5 647.8 258 663.4 258.6 657.3 259.2 670.2 259.7 663.9 260.3 663.8 260.8 663.8 261.4 674.8 262 652.7 262.5 675.6 263.1 674.1 263.7 663.6 264.2 670 264.8 667.4 265.4 671.2 265.9 679.8 266.5 668.6 267.1 683.1 267.6 685.3 268.2 679.5 268.8 687.7 269.3 674.8 269.9 684 270.5 702.4 271 680.4 271.6 674.9 272.2 675.3 272.7 682.6 273.3 673 273.9 675.6 274.4 662.6 275 669.9 275.6 671.5 276.1 670.3 276.7 680.6 277.3 693.5 277.8 686.2 278.4 679.8 279 695.8 279.5 695 280.1 680.3 280.7 694.8 281.2 685.4 281.8 688.8 282.4 690.1 282.9 703.8 283.5 690.3 284.1 695.6 284.6 702.4 285.2 712.4 285.8 715.2 286.3 696.8 286.9 719.2 287.5 712.1 288 719.6 288.6 718.2 289.2 703.4 289.7 707.5 290.3 706.1 290.9 712.6 291.4 726 292 713.1 292.6 705.7 293.1 736.1 293.7 708.2 294.3 718.9 294.8 720.5 295.4 706.1 296 724.1 296.5 727.2 297.1 718.9 297.7 722.1 298.2 720.8 298.8 706.9 299.4 724.9 299.9 713 300.5 721.1 301.1 734.4 301.6 740 302.2 724.5 302.8 742.9 303.3 747 303.9 735 304.5 735.1 305 738.3 305.6 732.2 306.2 727.9 306.7 740 307.3 741.8 307.9 732.8 308.4 737.5 309 737.2 309.6 736.1 310.1 728.5 310.7 731.6 311.3 753.4 311.8 746 312.4 751.2 313 765.1 313.5 744.9 314.1 755 314.7 741 315.2 746.2 315.8 756 316.4 748.2 316.9 739 317.5 738.1 318.1 753.4 318.6 745.4 319.2 756.9 319.8 753.8 320.3 751.2 320.9 755.1 321.5 763.2 322 757 322.6 748 323.2 758.7 323.7 754.3 324.3 757.9 324.9 767.2 325.4 767.2 326 773.1 326.6 764.5 327.1 760.2 327.7 767 328.3 771.9 328.8 763.7 329.4 765.5 330 757.1 330.5 761.6 331.1 765.4 331.7 785.2 332.2 766.5 332.8 771 333.4 771.2 333.9 769.7 334.5 773.7 335.1 799.2 335.6 772.8 336.2 789.9 336.8 783.7 337.3 773.2 337.9 775.5 338.5 779 339 774.6 339.6 791.7 340.2 787.4 340.7 788.7 341.3 777.5 341.9 788.9 342.4 783.1 343 808 343.6 790 344.1 794.9 344.7 796.5 345.3 789.9 345.8 791 346.4 791.4 347 798.6 347.5 789 348.1 791.9 348.7 796.2 349.2 791.1 349.8 784.8 350.4 786.2 350.9 792.6 351.5 788.3 352.1 804.2 352.6 796.6 353.2 795.5 353.8 790.5 354.3 801.3 354.9 795.5 355.5 791.6 356 795.2 356.6 816.2 357.2 796.1 357.7 796.4 358.3 810.6 358.9 806.7 359.4 800.4 360 812.5 360.6 796.1 361.1 802.7 361.7 795.8 362.3 814.6 362.8 806.1 363.4 825.4 364 814.1 364.5 813.2 365.1 803.6 365.6 802.6 366.2 807.6 366.8 817.8 367.3 806.7 367.9 798.3 368.5 822.2 369 819.9 369.6 807.9 370.2 816.6 370.7 829.1 371.3 830.5 371.9 808.4 372.4 820 373 814.7 373.6 827.1 374.1 821.1 374.7 812.6 375.3 821.6 375.8 825 376.4 810.7 377 812.3 377.5 817.6 378.1 820.9 378.7 820.1 379.2 812.9 379.8 816.2 380.4 827.4 380.9 830.2 381.5 821.8 382.1 828.4 382.6 840.2 383.2 828.5 383.8 827.8 384.3 825 384.9 832 385.5 829.9 386 830 386.6 827.8 387.2 833.4 387.7 833.1 388.3 828.4 388.9 836.1 389.4 819.9 390 833.5 390.6 828.8 391.1 833.9 391.7 840.8 392.3 828.3 392.8 826.8 393.4 828.8 394 837.3 394.5 838.5 395.1 830.4 395.7 833 396.2 841.4 396.8 834.7 397.4 823.2 397.9 828.8 398.5 832.1 399.1 838.8 399.6 834.4 400.2 847.2 400.8 835.7 401.3 848.8 401.9 834.1 402.5 846.6 403 838.2 403.6 844.8 404.2 848.2 404.7 845.3 405.3 841.7 405.9 831.1 406.4 831.9 407 818.2 407.6 846.5 408.1 845.6 408.7 845.2 409.3 833 409.8 859.2 410.4 839 411 848.3 411.5 833.6 412.1 841.2 412.7 853.1 413.2 853.7 413.8 839.6 414.4 846.5 414.9 853.9 415.5 834.9 416.1 852.2 416.6 830.3 417.2 853.1 417.8 844.6 418.3 851.6 418.9 843 419.5 843.6 420 844.1 420.6 841.3 421.2 846.7 421.7 841.9 422.3 844.8 422.9 853 423.4 848.3 424 857.2 424.6 854.6 425.1 855.9 425.7 843.8 426.3 850.9 426.8 856.8 427.4 854.3 428 856.2 428.5 857 429.1 831.1 429.7 850.8 430.2 851.4 430.8 843.7 431.4 838.7 431.9 847.1 432.5 846.5 433.1 859.6 433.6 855.3 434.2 845 434.8 842.4 435.3 844 435.9 849.8 436.5 844.1 437 861.8 437.6 840.4 438.2 847.5 438.7 848.6 439.3 850.4 439.9 838.1 440.4 847.6 441 850.5 441.6 850.9 442.1 845.2 442.7 848.6 443.3 851.1 443.8 861.6 444.4 843.5 445 852.8 445.5 866.8 446.1 843 446.7 859.7 447.2 858.8 447.8 852.1 448.4 859.1 448.9 864.9 449.5 856.3 450.1 861.2 450.6 853.2 451.2 856.2 451.8 862.2 452.3 862.2 452.9 872.5 453.5 862.3 454 856.1 454.6 868.5 455.2 867.9 455.7 864.9 456.3 860.8 456.9 857.9 457.4 859.6 458 870.5 458.6 866.1 459.1 862.8 459.7 864.5 460.3 861.6 460.8 859.8 461.4 862 462 864.6 462.5 854.8 463.1 849.4 463.7 853 464.2 860 464.8 867 465.4 854.5 465.9 854.3 466.5 852.4 467.1 859.5 467.6 856 468.2 858.6 468.7 857.5 469.3 874.4 469.9 860.3 470.4 859.1 471 860.2 471.6 868.2 472.1 869.1 472.7 865 473.3 852.9 473.8 871.1 474.4 873.8 475 873.8 475.5 871.6 476.1 871.8 476.7 878.3 477.2 869.1 477.8 877.2 478.4 869.8 478.9 870.2 479.5 869 480.1 868.2 480.6 867.2 481.2 873.7 481.8 879 482.3 866.1 482.9 859.4 483.5 876 484 866.1 484.6 871.6 485.2 870.5 485.7 875.5 486.3 865.2 486.9 876.7 487.4 874.9 488 859 488.6 870.8 489.1 869.8 489.7 874.3 490.3 869.7 490.8 866.3 491.4 868.5 492 872.7 492.5 871.1 493.1 870.3 493.7 883.1 494.2 876.7 494.8 864.6 495.4 873 495.9 874.6 496.5 867.3 497.1 871.7 497.6 866.1 498.2 858.1 498.8 872.7 499.3 874.4 499.9 873.6 500.5 868.8 501 865.6 501.6 872.1 502.2 873.3 502.7 875.8 503.3 877.2 503.9 878.5 504.4 867.6 505 870.7 505.6 864.4 506.1 877.2 506.7 877.2 507.3 880.8 507.8 877.7 508.4 884.5 509 871.2 509.5 877.2 510.1 872.9 510.7 872.7 511.2 862.9 511.8 867.8 512.4 859.3 512.9 867.7 513.5 866.2 514.1 871 514.6 861.6 515.2 868.5 515.8 869.1 516.3 858.2 516.9 880 517.5 875.8 518 869 518.6 882.8 519.2 879.8 519.7 858.5 520.3 869.9 520.9 865.2 521.4 871.5 522 864.1 522.6 866.9 523.1 868.8 523.7 855.5 524.3 868.6 524.8 875.9 525.4 870.1 526 876.7 526.5 878.3 527.1 871.8 527.7 873.5 528.2 873.3 528.8 867.2 529.4 883.7 529.9 873.3 530.5 872.8 531.1 874.1 531.6 877.8 532.2 862.3 532.8 864.9 533.3 870.4 533.9 873.7 534.5 864.3 535 864.6 535.6 876.7 536.2 877 536.7 871.8 537.3 873.4 537.9 872.3 538.4 870 539 871.3 539.6 876.5 540.1 874.9 540.7 881.9 541.3 869.7 541.8 868.8 542.4 881.6 543 872.1 543.5 874.5 544.1 877.4 544.7 870.6 545.2 868.1 545.8 878.1 546.4 862.7 546.9 879.4 547.5 865.2 548.1 880.5 548.6 880.3 549.2 879.4 549.8 881.5 550.3 880.5 550.9 871.4 551.5 884.1 552 880.5 552.6 882.6 553.2 878.5 553.7 877.1 554.3 882.8 554.9 883 555.4 878.1 556 872.1 556.6 873.9 557.1 873.5 557.7 885.4 558.3 882.6 558.8 880.5 559.4 879.4 560 876 560.5 885.5 561.1 874.1 561.7 870.4 562.2 884.2 562.8 882.8 563.4 878.4 563.9 871 564.5 872.1 565.1 884.1 565.6 881.5 566.2 887.8 566.8 876.9 567.3 879.5 567.9 875.7 568.5 891.6 569 866.5 569.6 885.4 570.2 890.7 570.7 876.3 571.3 873.7 571.9 875.9 572.4 873.5 573 882.8 573.5 880 574.1 875.5 574.7 879.6 575.2 889.2 575.8 879.3 576.4 878.2 576.9 891.5 577.5 875.8 578.1 878.4 578.6 888.7 579.2 880.4 579.8 870.4 580.3 876.1 580.9 868.6 581.5 877.2 582 882.2 582.6 872.1 583.2 887.6 583.7 885.7 584.3 884.4 584.9 874.9 585.4 878.4 586 881.5 586.6 883.8 587.1 885.9 587.7 865.5 588.3 875.6 588.8 873.4 589.4 877 590 880.2 590.5 890.6 591.1 876.4 591.7 882.6 592.2 879.8 592.8 879.1 593.4 894.4 593.9 870.8 594.5 883.4 595.1 888.7 595.6 896 596.2 871.4 596.8 870 597.3 866.7 597.9 872 598.5 874.3 599 873.7 599.6 877.3 600.2 868 600.7 870.4 601.3 858.1 601.9 862.5 602.4 862.2 603 846.8 603.6 859.5 604.1 861.9 604.7 856.5 605.3 855.9 605.8 854.1 606.4 846.3 607 853 607.5 850.7 608.1 856.5 608.7 857.6 609.2 860.8 609.8 854.9 610.4 864.1 610.9 876.8 611.5 874.3 612.1 870 612.6 869.1 613.2 883.8 613.8 873.8 614.3 863 614.9 871.3 615.5 882.9 616 862.1 616.6 872.9 617.2 868.9 617.7 873 618.3 870.6 618.9 869.6 619.4 861.5 620 873.5 620.6 875.7 621.1 875.7 621.7 869.8 622.3 871.5 622.8 888.1 623.4 871.2 624 875.9 624.5 870 625.1 876.5 625.7 878.4 626.2 884.3 626.8 878.4 627.4 878.3 627.9 879.3 628.5 879.8 629.1 876.2 629.6 875.1 630.2 880.7 630.8 869.6 631.3 872 631.9 867.8 632.5 869.5 633 880.9 633.6 868.1 634.2 874.8 634.7 884 635.3 875.9 635.9 871.7 636.4 869.6 637 860.8 637.6 868 638.1 867.1 638.7 882.6 639.3 877.7 639.8 868.3 640.4 879.7 641 872.8 641.5 886.2 642.1 883.4 642.7 879.9 643.2 874.1 643.8 885.3 644.4 883.4 644.9 880.8 645.5 876.3 646.1 871.3 646.6 878.2 647.2 868.7 647.8 877.6 648.3 875.6 648.9 856.2 649.5 875.2 650 870.8 650.6 870 651.2 871.2 651.7 875.5 652.3 864.8 652.9 864.3 653.4 872.3 654 870.5 654.6 860.7 655.1 871.9 655.7 860.2 656.3 873.2 656.8 871.6 657.4 872.3 658 861.7 658.5 865.8 659.1 874 659.7 859.7 660.2 869.7 660.8 865.9 661.4 868.3 661.9 857.9 662.5 872 663.1 868.9 663.6 875.8 664.2 882 664.8 867.1 665.3 869.9 665.9 864.5 666.5 880.4 667 869.8 667.6 875.9 668.2 863.5 668.7 867.5 669.3 873.4 669.9 872.4 670.4 867.7 671 873.2 671.6 867.6 672.1 871 672.7 863.7 673.3 869.5 673.8 861.8 674.4 872.5 675 866.2 675.5 866.1 676.1 861.9 676.7 876.2 677.2 868.5 677.8 866.8 678.3 877.2 678.9 865 679.5 880.3 680 877 680.6 857.8 681.2 872.8 681.7 871.3 682.3 868.2 682.9 869.5 683.4 859 684 869.4 684.6 866.7 685.1 850.4 685.7 865.1 686.3 860.4 686.8 868.3 687.4 862.9 688 868.4 688.5 858 689.1 861.9 689.7 863.1 690.2 864.1 690.8 872.2 691.4 877.6 691.9 856 692.5 869.4 693.1 863.8 693.6 863.4 694.2 865.3 694.8 865.5 695.3 865.7 695.9 871 696.5 874.8 697 868.4 697.6 866.2 698.2 867.5 698.7 866 699.3 874.2 699.9 859.2 700.4 849.4 701 861.8 701.6 863.5 702.1 859.3 702.7 861 703.3 845.2 703.8 855.8 704.4 856.1 705 851.6 705.5 856.2 706.1 858.1 706.7 861.2 707.2 853.6 707.8 849.3 708.4 860.4 708.9 868.3 709.5 858 710.1 857.5 710.6 851.4 711.2 859 711.8 867.1 712.3 846.9 712.9 864.5 713.5 847.7 714 869.7 714.6 864.2 715.2 857.6 715.7 862.1 716.3 869 716.9 854.1 717.4 867.6 718 864.6 718.6 860.9 719.1 869.6 719.7 852.3 720.3 861.1 720.8 852.8 721.4 858.7 722 861.6 722.5 848.3 723.1 860.3 723.7 859.1 724.2 852.7 724.8 855.8 725.4 863.2 725.9 858.5 726.5 866.8 727.1 849.8 727.6 848.7 728.2 867.3 728.8 846.7 729.3 862.5 729.9 855.1 730.5 858.5 731 853.2 731.6 862.2 732.2 865 732.7 863.8 733.3 858.9 733.9 850.6 734.4 867.9 735 856.6 735.6 864.1 736.1 846.6 736.7 857.2 737.3 851.1 737.8 853.2 738.4 857.7 739 856 739.5 858.8 740.1 854.3 740.7 853.2 741.2 851.8 741.8 843.6 742.4 856.2 742.9 845.4 743.5 848.4 744.1 853 744.6 847.4 745.2 849.3 745.8 837.8 746.3 847.2 746.9 845.4 747.5 848.2 748 854 748.6 848.5 749.2 849.5 749.7 850.6 750.3 855.7 750.9 855.7 751.4 851.8 752 848.2 752.6 854.1 753.1 847.3 753.7 848.7 754.3 852.5 754.8 847.1 755.4 843 756 843 756.5 848 757.1 850.7 757.7 854.7 758.2 845.4 758.8 848.9 759.4 844.5 759.9 839.9 760.5 856.7 761.1 835.1 761.6 833.2 762.2 837.6 762.8 844.1 763.3 830.5 763.9 841.4 764.5 828.4 765 831.4 765.6 831.4 766.2 831.2 766.7 833.2 767.3 831.3 767.9 830.8 768.4 826.1 769 838.4 769.6 831.2 770.1 831.8 770.7 836.7 771.3 831.1 771.8 828.8 772.4 834.4 773 820.4 773.5 812.2 774.1 816 774.7 810.2 775.2 815.3 775.8 814 776.4 813.9 776.9 813.9 777.5 818.6 778.1 812.7 778.6 809.6 779.2 807.4 779.8 806.4 780.3 807.8 780.9 805.9 781.5 800.3 782 804.4 782.6 810.8 783.1 808 783.7 803.9 784.3 811 784.8 819.1 785.4 806.9 786 823.5 786.5 821.6 787.1 814.8 787.7 823.1 788.2 818.2 788.8 820.1 789.4 810 789.9 812.4 790.5 814 791.1 817.9 791.6 814.7 792.2 809.2 792.8 809 793.3 824.1 793.9 821.4 794.5 837.1 795 844 795.6 827.9 796.2 830.5 796.7 821.7 797.3 838 797.9 842.1 798.4 831.5 799 832.4 799.6 834.9 800.1 842.6 800.7 846.8 801.3 834 801.8 837.5 802.4 844.5 803 842.5 803.5 840.5 804.1 845.9 804.7 836.7 805.2 834.4 805.8 846.1 806.4 847.7 806.9 851 807.5 840.3 808.1 837.8 808.6 843 809.2 841.4 809.8 842.8 810.3 840.6 810.9 849.9 811.5 842.9 812 850.6 812.6 837.9 813.2 835.8 813.7 847.7 814.3 834.9 814.9 835.2 815.4 835.6 816 830.2 816.6 846.1 817.1 851.6 817.7 844.7 818.3 845.2 818.8 836.2 819.4 832.6 820 842.3 820.5 831.6 821.1 830.3 821.7 833.6 822.2 846.4 822.8 842.4 823.4 838.2 823.9 834.2 824.5 834.2 825.1 841.3 825.6 838.6 826.2 834.9 826.8 846.7 827.3 832.3 827.9 829.8 828.5 837.5 829 846.1 829.6 842.1 830.2 848.5 830.7 833.7 831.3 840.1 831.9 837 832.4 834.4 833 827.1 833.6 842.5 834.1 835.4 834.7 831.9 835.3 838.3 835.8 849.3 836.4 824.9 837 835.7 837.5 843.6 838.1 843.4 838.7 826.4 839.2 830.2 839.8 821.7 840.4 834.2 840.9 824.2 841.5 826.2 842.1 841.5 842.6 824.4 843.2 819.8 843.8 830.3 844.3 829.9 844.9 827.9 845.5 834.2 846 819.9 846.6 821.6 847.2 826.4 847.7 819.5 848.3 829.6 848.9 825.6 849.4 819.4 850 817.9 850.6 816.8 851.1 818.1 851.7 803.5 852.3 805.4 852.8 802.7 853.4 799.6 854 798.2 854.5 797.1 855.1 797.3 855.7 792.6 856.2 792.1 856.8 785.6 857.4 776.9 857.9 768.6 858.5 759.3 859.1 759.2 859.6 742.3 860.2 741.1 860.8 744.1 861.3 746.6 861.9 744.7 862.5 758.8 863 782.4 863.6 764.3 864.2 789.2 864.7 778.6 865.3 791.2 865.9 803.3 866.4 793.5 867 810.3 867.6 792.9 868.1 811.4 868.7 811.4 869.3 822 869.8 826.5 870.4 830.4 871 830.9 871.5 820.9 872.1 817.8 872.7 828.7 873.2 819.3 873.8 808.1 874.4 805 874.9 817.9 875.5 816.6 876.1 818.1 876.6 819.9 877.2 806.5 877.8 817.5 878.3 807.8 878.9 819.5 879.5 818.4 880 828.1 880.6 820 881.2 809.2 881.7 813.4 882.3 815.5 882.9 819.9 883.4 822.6 884 811.5 884.6 809 885.1 820.6 885.7 816.7 886.2 824.3 886.8 821.8 887.4 839.4 887.9 822.8 888.5 809.3 889.1 814 889.6 820.2 890.2 807.7 890.8 814.4 891.3 818.5 891.9 820.5 892.5 817.5 893 801.7 893.6 817.4 894.2 803.9 894.7 810.6 895.3 804.1 895.9 816.3 896.4 809.6 897 810.8 897.6 811.9 898.1 808.7 898.7 806 899.3 818.1 899.8 811.3 900.4 811.8 901 793.4 901.5 791.5 902.1 824.5 902.7 808 903.2 789.1 903.8 802.7 904.4 798.5 904.9 788.2 905.5 789.7 906.1 811 906.6 780.9 907.2 789.3 907.8 775.1 908.3 769.1 908.9 793.8 909.5 781.1 910 772.7 910.6 773.8 911.2 774 911.7 768.1 912.3 777.9 912.9 779.9 913.4 770.9 914 773.2 914.6 754.3 915.1 773 915.7 756 916.3 768.3 916.8 782.8 917.4 762.1 918 779.3 918.5 750.2 919.1 749.7 919.7 745.9 920.2 748.5 920.8 740.6 921.4 725.5 921.9 709.6 922.5 724.1 923.1 716.4 923.6 713.6 924.2 694.2 924.8 707.9 925.3 699.5 925.9 702.9 926.5 704.8 927 683.1 927.6 683.6 928.2 675.4 928.7 663 929.3 666.3 929.9 660.7 930.4 644.1 931 639.4 931.6 646.3 932.1 636 932.7 654.2 933.3 665.7 933.8 671.2 934.4 664.6 935 687.6 935.5 699.4 936.1 684.6 936.7 717.1 937.2 711.7 937.8 716.8 938.4 713.4 938.9 732 939.5 719.9 940.1 741.4 940.6 749.4 941.2 752.3 941.8 752.3 942.3 761.9 942.9 762.8 943.5 770 944 767.3 944.6 768.4 945.2 774.7 945.7 774.1 946.3 794.5 946.9 806.4 947.4 797.4 948 803.9 948.6 790.9 949.1 798.8 949.7 794.8 950.3 808.9 950.8 808.6 951.4 801.4 952 818 952.5 809.9 953.1 814.7 953.7 815.9 954.2 820.8 954.8 819.6 955.4 810.8 955.9 809.5 956.5 806.8 957.1 804.6 957.6 823.6 958.2 812.1 958.8 825.5 959.3 813.6 959.9 815.6 960.5 827.2 961 822.3 961.6 822 962.2 836.8 962.7 820 963.3 818.9 963.9 832.7 964.4 836.5 965 828.8 965.6 821.5 966.1 843.3 966.7 829.9 967.3 826.1 967.8 831.8 968.4 838.9 969 803.2 969.5 828.8 970.1 840.6 970.7 838.7 971.2 835.4 971.8 834.6 972.4 841.5 972.9 844.1 973.5 835 974.1 838 974.6 844.5 975.2 837.2 975.8 833.3 976.3 841.2 976.9 837.8 977.5 848.5 978 848.3 978.6 841 979.2 842.2 979.7 846.6 980.3 853.7 980.9 853.4 981.4 850.1 982 851 982.6 857.6 983.1 854.7 983.7 852.8 984.3 844.6 984.8 852.8 985.4 856.5 986 852.3 986.5 845.7 987.1 842.8 987.7 856 988.2 857.1 988.8 855.3 989.4 850.5 989.9 855 990.5 856.8 991 862.4 991.6 860.2 992.2 855.7 992.7 858.5 993.3 855.5 993.9 872.6 994.4 860.7 995 871.6 995.6 866.8 996.1 874.2 996.7 859.5 997.3 869.6 997.8 861 998.4 862.4 999 863.9 999.5 860.2 1000.1 861.7 1000.7 864 1001.2 875.1 1001.8 864.4 1002.4 858.4 1002.9 870.4 1003.5 878.9 1004.1 841.7 1004.6 867 1005.2 858 1005.8 857.1 1006.3 870.3 1006.9 875.1 1007.5 877.4 1008 866.9 1008.6 865.3 1009.2 867.8 1009.7 869.9 1010.3 871.3 1010.9 873.9 1011.4 870 1012 871.6 1012.6 869.3 1013.1 862.3 1013.7 870.7 1014.3 877.7 1014.8 875.8 1015.4 860.4 1016 879.8 1016.5 867 1017.1 882 1017.7 882.7 1018.2 874.9 1018.8 882.1 1019.4 866.4 1019.9 869.8 1020.5 866.2 1021.1 872 1021.6 870.5 1022.2 872.8 1022.8 871.8 1023.3 879.3 1023.9 871.3 1024.5 867.6 1025 871.5 1025.6 877.3 1026.2 874.6 1026.7 866.3 1027.3 869.6 1027.9 871 1028.4 867.3 1029 864.5 1029.6 871.5 1030.1 860.9 1030.7 872.7 1031.3 860.8 1031.8 870.7 1032.4 871.7 1033 881.6 1033.5 882 1034.1 882.4 1034.7 871.2 1035.2 868 1035.8 874.8 1036.4 865.2 1036.9 870.6 1037.5 862.3 1038.1 870.5 1038.6 878.9 1039.2 866.4 1039.8 872.7 1040.3 872.7 1040.9 873.9 1041.5 877.1 1042 872.7 1042.6 874.4 1043.2 873 1043.7 865.5 1044.3 880.9 1044.9 877 1045.4 876.3 1046 866.5 1046.6 859.4 1047.1 872.7 1047.7 865.8 1048.3 887.1 1048.8 880.6 1049.4 869.9 1050 878.7 1050.5 876.6 1051.1 874.7 1051.7 867.2 1052.2 877.9 1052.8 880 1053.4 879.9 1053.9 873 1054.5 876 1055.1 877.2 1055.6 875.8 1056.2 871.8 1056.8 879.8 1057.3 876 1057.9 870.6 1058.5 875.3 1059 881.8 1059.6 875.5 1060.2 874.3 1060.7 877.3 1061.3 868.6 1061.9 877.2 1062.4 870 1063 876.1 1063.6 881.8 1064.1 873.7 1064.7 881.3 1065.3 877.5 1065.8 881.2 1066.4 866.6 1067 852.8 1067.5 868.3 1068.1 884.7 1068.7 873.3 1069.2 867.4 1069.8 869.5 1070.4 870.7 1070.9 866.5 1071.5 877.9 1072.1 865.8 1072.6 856.5 1073.2 853.2 1073.8 858.6 1074.3 857.8 1074.9 859.5 1075.5 859.4 1076 858 1076.6 846.1 1077.2 852.1 1077.7 848.1 1078.3 853.1 1078.9 847.5 1079.4 859.5 1080 862.8 1080.6 858.1 1081.1 852.6 1081.7 864.9 1082.3 861.8 1082.8 852.7 1083.4 863.7 1084 865.3 1084.5 865.8 1085.1 854.2 1085.7 867.9 1086.2 870.6 1086.8 862.9 1087.4 874.5 1087.9 873.8 1088.5 876.7 1089.1 864.8 1089.6 873.9 1090.2 877.9 1090.8 869 1091.3 877.2 1091.9 885.9 1092.5 868.8 1093 883.4 1093.6 882.2 1094.2 873.6 1094.7 874.5 1095.3 874.6 1095.8 879.8 1096.4 857.3 1097 882.5 1097.5 872.5 1098.1 877.7 1098.7 878 1099.2 882.9 1099.8 872.9 1100.4 873.6 1100.9 885.3 1101.5 888.8 1102.1 880 1102.6 876.6 1103.2 882.6 1103.8 880.6 1104.3 881.8 1104.9 876.8 1105.5 869.9 1106 882.7 1106.6 881.2 1107.2 887 1107.7 888.1 1108.3 890.4 1108.9 878.3 1109.4 884.5 1110 875 1110.6 883.4 1111.1 884.6 1111.7 878.4 1112.3 882.8 1112.8 895.4 1113.4 879.2 1114 889.5 1114.5 881.9 1115.1 888.3 1115.7 870.2 1116.2 876.4 1116.8 881.6 1117.4 891.3 1117.9 882.6 1118.5 875.7 1119.1 878.6 1119.6 885.5 1120.2 872.8 1120.8 881.6 1121.3 880 1121.9 877.8 1122.5 881.7 1123 875.5 1123.6 882.2 1124.2 883.7 1124.7 889.1 1125.3 881 1125.9 877.8 1126.4 872.7 1127 876 1127.6 871.2 1128.1 884.1 1128.7 864.4 1129.3 879.4 1129.8 878.7 1130.4 878.9 1131 874.9 1131.5 888.2 1132.1 874.7 1132.7 861.6 1133.2 872.9 1133.8 872.5 1134.4 882.2 1134.9 874.9 1135.5 870.8 1136.1 870.5 1136.6 873.9 1137.2 871.8 1137.8 873.1 1138.3 877.6 1138.9 864.9 1139.5 868.5 1140 872.7 1140.6 864.2 1141.2 872.9 1141.7 877 1142.3 870.1 1142.9 873.8 1143.4 868.2 1144 869.9 1144.6 869.9 1145.1 868.2 1145.7 880.7 1146.3 865.6 1146.8 871.7 1147.4 864.4 1148 873.3 1148.5 871.9 1149.1 866.3 1149.7 857.3 1150.2 859.7 1150.8 849.9 1151.4 868.5 1151.9 862.1 1152.5 859.9 1153.1 864.7 1153.6 857.9 1154.2 864 1154.8 868.1 1155.3 872.7 1155.9 879.9 1156.5 865.3 1157 875.2 1157.6 868.9 1158.2 867 1158.7 875.9 1159.3 873.9 1159.9 867.1 1160.4 875.8 1161 886.3 1161.6 872.1 1162.1 871.1 1162.7 888.2 1163.3 879.6 1163.8 873.7 1164.4 880.9 1165 876.1 1165.5 874 1166.1 880.6 1166.7 875.6 1167.2 884.5 1167.8 888.9 1168.4 877.4 1168.9 877.8 1169.5 878.6 1170.1 882.8 1170.6 880.7 1171.2 886 1171.8 891.1 1172.3 882 1172.9 888.9 1173.5 893.3 1174 891.9 1174.6 881.8 1175.2 892.2 1175.7 877.5 1176.3 889.4 1176.9 876.3 1177.4 888.7 1178 883.8 1178.6 884.7 1179.1 884.6 1179.7 882 1180.3 889.3 1180.8 887.5 1181.4 895.5 1182 883.8 1182.5 890.7 1183.1 897 1183.7 884.2 1184.2 894.6 1184.8 897.3 1185.4 884.6 1185.9 888.4 1186.5 904.8 1187.1 895.4 1187.6 893.8 1188.2 890.3 1188.8 898.4 1189.3 894 1189.9 897.2 1190.5 895.6 1191 899.3 1191.6 898.1 1192.2 893.3 1192.7 897.4 1193.3 900.5 1193.9 892 1194.4 889.3 1195 894.6 1195.6 901.4 1196.1 892.1 1196.7 888.4 1197.3 893.2 1197.8 888 1198.4 892.3 1198.9 893.3 1199.5 892 1200.1 896.8 1200.6 892.4 1201.2 893.1 1201.8 889.8 1202.3 895.3 1202.9 899.6 1203.5 904.3 1204 912.2 1204.6 897.2 1205.2 896.2 1205.7 906.8 1206.3 889.5 1206.9 899.8 1207.4 896.2 1208 903.5 1208.6 894.5 1209.1 895 1209.7 880.2 1210.3 891.6 1210.8 894.5 1211.4 892.8 1212 892 1212.5 903.7 1213.1 888 1213.7 887.3 1214.2 889.6 1214.8 892 1215.4 890.6 1215.9 892.4 1216.5 887.4 1217.1 901.6 1217.6 890.4 1218.2 892.2 1218.8 895.4 1219.3 903.4 1219.9 891.9 1220.5 889.5 1221 897.8 1221.6 891.4 1222.2 886.4 1222.7 885.6 1223.3 888.7 1223.9 880.3 1224.4 897.5 1225 895.5 1225.6 902 1226.1 894.9 1226.7 893.5 1227.3 898.3 1227.8 898.6 1228.4 890.6 1229 909.7 1229.5 895.8 1230.1 898.6 1230.7 891.7 1231.2 899 1231.8 902.9 1232.4 893.3 1232.9 890.5 1233.5 896.5 1234.1 895.9 1234.6 898.8 1235.2 882.7 1235.8 901.5 1236.3 898.7 1236.9 896.9 1237.5 887.3 1238 897.4 1238.6 903.4 1239.2 900.3 1239.7 901.4 1240.3 900.3 1240.9 901.5 1241.4 893.7 1242 906.2 1242.6 904.1 1243.1 899 1243.7 899.8 1244.3 894.1 1244.8 895.7 1245.4 900.7 1246 895.8 1246.5 894.2 1247.1 899.1 1247.7 904.2 1248.2 897.1 1248.8 902.6 1249.4 903.1 1249.9 905 1250.5 905.9 1251.1 904.1 1251.6 902.6 1252.2 908.8 1252.8 899.3 1253.3 908.4 1253.9 897.4 1254.5 901.8 1255 903 1255.6 892.4 1256.2 903.1 1256.7 905.5 1257.3 895.4 1257.9 900.5 1258.4 906.4 1259 906.4 1259.6 907.9 1260.1 896.8 1260.7 903.7 1261.3 909.2 1261.8 896.9 1262.4 897.7 1263 902.8 1263.5 901.6 1264.1 896.9 1264.7 899.2 1265.2 902.5 1265.8 904.5 1266.4 912.9 1266.9 908.9 1267.5 906.4 1268.1 905.3 1268.6 909.8 1269.2 918.7 1269.8 905.7 1270.3 903.1 1270.9 901 1271.5 906.6 1272 901.6 1272.6 897.5 1273.2 901.2 1273.7 900.5 1274.3 907.5 1274.9 909.4 1275.4 901 1276 898.8 1276.6 906.3 1277.1 901.7 1277.7 900.2 1278.3 907 1278.8 899.2 1279.4 906.3 1280 913.3 1280.5 891.2 1281.1 904.5 1281.7 902.6 1282.2 914.1 1282.8 907.5 1283.4 897.5 1283.9 899.8 1284.5 896.7 1285.1 906.1 1285.6 895.3 1286.2 901.7 1286.8 905.4 1287.3 899.2 1287.9 896.6 1288.5 897.3 1289 898.5 1289.6 901.7 1290.2 900.2 1290.7 902.5 1291.3 901.3 1291.9 906.4 1292.4 904.2 1293 906.7 1293.6 897 1294.1 893 1294.7 903.5 1295.3 899.8 1295.8 888.4 1296.4 894.2 1297 899.2 1297.5 903.7 1298.1 908.7 1298.7 907.8 1299.2 900.7 1299.8 898.6 1300.4 896.7 1300.9 898.3 1301.5 896.2 1302.1 900.8 1302.6 904.1 1303.2 904.1 1303.7 894.7 1304.3 902.8 1304.9 909.4 1305.4 899.3 1306 898.5 1306.6 900 1307.1 902.6 1307.7 891.7 1308.3 895.8 1308.8 894.6 1309.4 900.1 1310 900.3 1310.5 896.5 1311.1 902.9 1311.7 897.6 1312.2 897.4 1312.8 896.5 1313.4 890.1 1313.9 902 1314.5 893.6 1315.1 886.1 1315.6 893.6 1316.2 894.7 1316.8 885.4 1317.3 890.1 1317.9 896.2 1318.5 892.6 1319 890.2 1319.6 888.2 1320.2 888 1320.7 880.5 1321.3 882.6 1321.9 884.8 1322.4 884.4 1323 891.3 1323.6 877.1 1324.1 902.7 1324.7 886.1 1325.3 886.4 1325.8 890.1 1326.4 896.1 1327 892.3 1327.5 901 1328.1 901.4 1328.7 898.5 1329.2 898.6 1329.8 899.2 1330.4 901.1 1330.9 895.3 1331.5 908.1 1332.1 903 1332.6 903.9 1333.2 900.4 1333.8 900.8 1334.3 911.1 1334.9 897 1335.5 906.4 1336 901 1336.6 897.7 1337.2 907.8 1337.7 901.6 1338.3 909.3 1338.9 904 1339.4 896 1340 904.4 1340.6 895.2 1341.1 903.4 1341.7 901.7 1342.3 905.5 1342.8 903.3 1343.4 900.5 1344 900.1 1344.5 896.5 1345.1 893.9 1345.7 905.6 1346.2 900.3 1346.8 903.5 1347.4 907.1 1347.9 911 1348.5 907.5 1349.1 904.2 1349.6 905.3 1350.2 904.9 1350.8 903.4 1351.3 891.3 1351.9 902.7 1352.5 908 1353 903.7 1353.6 905.7 1354.2 892.7 1354.7 898.6 1355.3 913.8 1355.9 898.9 1356.4 906.7 1357 909.8 1357.6 906.8 1358.1 902.2 1358.7 899.8 1359.3 896.2 1359.8 909.4 1360.4 902 1361 907.3 1361.5 894.3 1362.1 892.8 1362.7 892.7 1363.2 906 1363.8 901.6 1364.4 901.1 1364.9 903.2 1365.5 902 1366.1 901.8 1366.6 898.1 1367.2 892.4 1367.8 902.2 1368.3 906.6 1368.9 901.1 1369.5 904.3 1370 903 1370.6 908.2 1371.2 901.6 1371.7 915 1372.3 914.1 1372.9 905.5 1373.4 902.5 1374 893.4 1374.6 904.9 1375.1 902 1375.7 900 1376.3 891 1376.8 902.2 1377.4 908.2 1378 895.6 1378.5 900.7 1379.1 908.6 1379.7 905.4 1380.2 904.5 1380.8 915.7 1381.4 907.8 1381.9 903.4 1382.5 889.2 1383.1 900.7 1383.6 895.3 1384.2 894.8 1384.8 907.9 1385.3 897.6 1385.9 902 1386.5 910.1 1387 900.2 1387.6 900.9 1388.2 897.8 1388.7 901.3 1389.3 896.6 1389.9 903.5 1390.4 899.7 1391 904.8 1391.6 905.8 1392.1 902.2 1392.7 903.8 1393.3 901.2 1393.8 905.5 1394.4 907.6 1395 905 1395.5 909.3 1396.1 904.9 1396.7 902.1 1397.2 904.1 1397.8 894.6 1398.4 899.7 1398.9 892.7 1399.5 902.1 1400.1 904.9 1400.6 894.6 1401.2 896.3 1401.8 897.2 1402.3 905.7 1402.9 901.1 1403.5 904.9 1404 901.7 1404.6 901.5 1405.2 889.6 1405.7 889.1 1406.3 905.2 1406.9 909.4 1407.4 892.6 1408 890.5 1408.5 904.9 1409.1 909.7 1409.7 895.6 1410.2 898.7 1410.8 905.9 1411.4 901.6 1411.9 902.3 1412.5 904.1 1413.1 895.1 1413.6 896.4 1414.2 906.2 1414.8 890.7 1415.3 900.3 1415.9 891.5 1416.5 902.1 1417 894.3 1417.6 893.4 1418.2 898.9 1418.7 893.6 1419.3 893.5 1419.9 882.9 1420.4 896.6 1421 893.7 1421.6 899.1 1422.1 891.5 1422.7 885.6 1423.3 900.3 1423.8 892.4 1424.4 890.9 1425 885.3 1425.5 899.1 1426.1 896.3 1426.7 887.9 1427.2 895.5 1427.8 894.6 1428.4 897.7 1428.9 891.4 1429.5 901.2 1430.1 881.5 1430.6 881.8 1431.2 891.9 1431.8 890.2 1432.3 887 1432.9 893.7 1433.5 883 1434 873.5 1434.6 887.4 1435.2 879.4 1435.7 876.3 1436.3 879.9 1436.9 879.1 1437.4 873.4 1438 879.3 1438.6 876.6 1439.1 873.3 1439.7 872.3 1440.3 860.4 1440.8 865.1 1441.4 863 1442 863.1 1442.5 871 1443.1 861.7 1443.7 856.6 1444.2 848.8 1444.8 850.9 1445.4 846.8 1445.9 844.8 1446.5 849.4 1447.1 839 1447.6 841.1 1448.2 848.4 1448.8 845.1 1449.3 840.5 1449.9 840.6 1450.5 840.8 1451 850.6 1451.6 850.7 1452.2 854.4 1452.7 845.3 1453.3 846.9 1453.9 852.3 1454.4 843 1455 847.7 1455.6 857.9 1456.1 852.2 1456.7 852.3 1457.3 863.2 1457.8 860.1 1458.4 862.4 1459 869.3 1459.5 863.5 1460.1 877.6 1460.7 877 1461.2 880 1461.8 880.3 1462.4 883.3 1462.9 872.4 1463.5 881.6 1464.1 888.7 1464.6 879.1 1465.2 879.2 1465.8 879.8 1466.3 875.8 1466.9 896.7 1467.5 883.6 1468 890.3 1468.6 881.5 1469.2 883.3 1469.7 882.3 1470.3 880.8 1470.9 886.1 1471.4 893.8 1472 885.2 1472.6 892.7 1473.1 899.4 1473.7 893.9 1474.3 897.4 1474.8 898.4 1475.4 888.9 1476 890.2 1476.5 885.8 1477.1 892.3 1477.7 902.5 1478.2 895.4 1478.8 892.5 1479.4 891.5 1479.9 890 1480.5 892.8 1481.1 905.1 1481.6 900 1482.2 895.3 1482.8 892.5 1483.3 891.1 1483.9 900.1 1484.5 893.6 1485 894.6 1485.6 894.6 1486.2 903.5 1486.7 897.3 1487.3 905 1487.9 893.5 1488.4 893.8 1489 890.8 1489.6 896.6 1490.1 890.9 1490.7 894.8 1491.3 903.4 1491.8 900.2 1492.4 895.3 1493 895.6 1493.5 880.6 1494.1 887 1494.7 901 1495.2 891.4 1495.8 892.5 1496.4 901.8 1496.9 892.7 1497.5 900.6 1498.1 899.4 1498.6 902 1499.2 901.5 1499.8 910.7 1500.3 910 1500.9 911.4 1501.5 898.1 1502 901.5 1502.6 903.1 1503.2 908.3 1503.7 903.7 1504.3 896 1504.9 890.1 1505.4 896.3 1506 889.1 1506.6 889.2 1507.1 890.7 1507.7 891.6 1508.3 890.6 1508.8 898.6 1509.4 892.8 1510 886.6 1510.5 890.6 1511.1 876 1511.7 891.3 1512.2 891.7 1512.8 891.4 1513.3 881.5 1513.9 891.7 1514.5 891.7 1515 904.7 1515.6 891.1 1516.2 889.4 1516.7 888 1517.3 883 1517.9 884.2 1518.4 885.5 1519 894.5 1519.6 886.6 1520.1 887.6 1520.7 884.5 1521.3 886.6 1521.8 888.3 1522.4 887.9 1523 877.8 1523.5 883 1524.1 893.5 1524.7 885.3 1525.2 883.3 1525.8 879.4 1526.4 874 1526.9 871.1 1527.5 878.8 1528.1 879.9 1528.6 874.9 1529.2 877.5 1529.8 879.7 1530.3 879.3 1530.9 881.4 1531.5 869.6 1532 877.4 1532.6 877.3 1533.2 875.7 1533.7 867.5 1534.3 866.8 1534.9 882.1 1535.4 870 1536 874.8 1536.6 868.5 1537.1 867 1537.7 871.2 1538.3 872.3 1538.8 866.6 1539.4 861.8 1540 869.5 1540.5 858.3 1541.1 855.4 1541.7 853.6 1542.2 856.7 1542.8 854.2 1543.4 852.9 1543.9 850.5 1544.5 854 1545.1 858.1 1545.6 850.9 1546.2 846.3 1546.8 860.8 1547.3 854.6 1547.9 847.3 1548.5 840.4 1549 854.3 1549.6 845.1 1550.2 850.3 1550.7 838.4 1551.3 858.9 1551.9 858.2 1552.4 854.2 1553 855.4 1553.6 858.7 1554.1 856.8 1554.7 853.6 1555.3 870.9 1555.8 866.5 1556.4 869.7 1557 871 1557.5 875.6 1558.1 872.3 1558.7 878.9 1559.2 879.3 1559.8 873.4 1560.4 874.7 1560.9 880.4 1561.5 884.4 1562.1 881.9 1562.6 883.6 1563.2 876.7 1563.8 876 1564.3 884.3 1564.9 882.4 1565.5 885.3 1566 886.8 1566.6 894.2 1567.2 882 1567.7 889.4 1568.3 888.2 1568.9 886.4 1569.4 881.4 1570 884.5 1570.6 882.9 1571.1 888.9 1571.7 885.4 1572.3 887.3 1572.8 884.2 1573.4 895.6 1574 879.5 1574.5 900.7 1575.1 884.1 1575.7 884.5 1576.2 883.6 1576.8 878.9 1577.4 890.7 1577.9 881.6 1578.5 880.9 1579.1 891.4 1579.6 887.9 1580.2 877.2 1580.8 879.9 1581.3 888.7 1581.9 890.2 1582.5 894.9 1583 890 1583.6 896.4 1584.2 894.9 1584.7 892.2 1585.3 890.2 1585.9 894.8 1586.4 896 1587 889.4 1587.6 886.4 1588.1 890.1 1588.7 884.2 1589.3 889.7 1589.8 891.6 1590.4 881.1 1591 883.7 1591.5 878.1 1592.1 885.6 1592.7 892 1593.2 888 1593.8 893.1 1594.4 889.9 1594.9 885.7 1595.5 897.7 1596.1 889.6 1596.6 895.4 1597.2 893.3 1597.8 889.4 1598.3 897.1 1598.9 886.9 1599.5 887.1 1600 896.4 1600.6 890.2 1601.2 885.1 1601.7 887.3 1602.3 881.3 1602.9 891.2 1603.4 894.9 1604 891.1 1604.6 892.4 1605.1 894.7 1605.7 889.5 1606.3 885 1606.8 884.6 1607.4 890.3 1608 889.5 1608.5 889.5 1609.1 883.8 1609.7 889.1 1610.2 897 1610.8 891.5 1611.4 902.1 1611.9 892.8 1612.5 891.5 1613.1 903.4 1613.6 900.9 1614.2 896 1614.8 897.7 1615.3 888.7 1615.9 886.2 1616.4 875.8 1617 892.3 1617.6 898.8 1618.1 888.5 1618.7 884.5 1619.3 891.9 1619.8 893.5 1620.4 893 1621 887.9 1621.5 901.7 1622.1 890.5 1622.7 890.3 1623.2 884.9 1623.8 895.1 1624.4 900.3 1624.9 894.6 1625.5 882.1 1626.1 891.6 1626.6 881.3 1627.2 885.3 1627.8 884 1628.3 890.4 1628.9 889.6 1629.5 885 1630 888 1630.6 896.7 1631.2 881.8 1631.7 885.6 1632.3 897.9 1632.9 888.7 1633.4 880 1634 892.5 1634.6 890.5 1635.1 882.8 1635.7 887 1636.3 886.2 1636.8 893 1637.4 891.6 1638 886 1638.5 892.2 1639.1 885.3 1639.7 897.9 1640.2 893.7 1640.8 885.2 1641.4 887.6 1641.9 892.1 1642.5 888.9 1643.1 882.8 1643.6 886 1644.2 885.8 1644.8 887.5 1645.3 879.4 1645.9 893 1646.5 905.9 1647 889.7 1647.6 888.6 1648.2 884.4 1648.7 887.5 1649.3 882 1649.9 881.2 1650.4 884.8 1651 869.3 1651.6 876.8 1652.1 888 1652.7 883.9 1653.3 880.5 1653.8 882.1 1654.4 867.3 1655 884.7 1655.5 876.8 1656.1 885.5 1656.7 881.9 1657.2 885.9 1657.8 871.5 1658.4 870.8 1658.9 886.8 1659.5 876.1 1660.1 873.9 1660.6 884.2 1661.2 881.1 1661.8 879.8 1662.3 885.2 1662.9 877.7 1663.5 876.3 1664 876.4 1664.6 867.2 1665.2 877.4 1665.7 875.6 1666.3 872.8 1666.9 888.6 1667.4 871.2 1668 874.5 1668.6 871.8 1669.1 871.7 1669.7 880 1670.3 871.7 1670.8 877.1 1671.4 886.5 1672 872.1 1672.5 869.2 1673.1 868.8 1673.7 878.6 1674.2 873.5 1674.8 873.6 1675.4 868.9 1675.9 868.8 1676.5 881.4 1677.1 878.3 1677.6 864.9 1678.2 865.4 1678.8 866.7 1679.3 865.9 1679.9 873 1680.5 876.8 1681 867 1681.6 860.6 1682.2 869.4 1682.7 870.9 1683.3 853.3 1683.9 860.9 1684.4 853.9 1685 851.5 1685.6 848.4 1686.1 859 1686.7 852.3 1687.3 845.7 1687.8 848.5 1688.4 850 1689 840 1689.5 848.5 1690.1 838.2 1690.7 838 1691.2 849.4 1691.8 819.8 1692.4 842.7 1692.9 842.9 1693.5 833.3 1694.1 838.9 1694.6 833.3 1695.2 824.9 1695.8 831.4 1696.3 825.5 1696.9 827.2 1697.5 822.5 1698 839.6 1698.6 830.6 1699.2 822.4 1699.7 813.9 1700.3 817.3 1700.9 818.8 1701.4 817.4 1702 822.4 1702.6 823.4 1703.1 834.6 1703.7 832.9 1704.3 817.1 1704.8 834 1705.4 820.7 1706 832.1 1706.5 827.6 1707.1 827.9 1707.7 830.7 1708.2 826.7 1708.8 824.9 1709.4 843.9 1709.9 819 1710.5 838.4 1711.1 831.6 1711.6 840.7 1712.2 839.6 1712.8 841 1713.3 835.7 1713.9 842.4 1714.5 851.5 1715 846.9 1715.6 857.2 1716.2 841.2 1716.7 843.8 1717.3 849.1 1717.9 837.7 1718.4 857.1 1719 847.9 1719.6 847.6 1720.1 856.7 1720.7 844.7 1721.2 856.9 1721.8 842.7 1722.4 838.4 1722.9 855.4 1723.5 856.5 1724.1 844.1 1724.6 852.8 1725.2 862.8 1725.8 853.4 1726.3 847.9 1726.9 851.8 1727.5 854.8 1728 854.2 1728.6 849.6 1729.2 853 1729.7 859.3 1730.3 862.3 1730.9 858.2 1731.4 861.3 1732 859.6 1732.6 852.7 1733.1 869.7 1733.7 870.1 1734.3 861.8 1734.8 859.5 1735.4 859.6 1736 861.6 1736.5 864.1 1737.1 865.5 1737.7 858.8 1738.2 854.1 1738.8 852.9 1739.4 866.8 1739.9 858 1740.5 853.7 1741.1 847.9 1741.6 863.4 1742.2 861.3 1742.8 864.2 1743.3 861.9 1743.9 866.7 1744.5 868.8 1745 875.2 1745.6 885.6 1746.2 873.3 1746.7 872.8 1747.3 885.6 1747.9 885.9 1748.4 880 1749 883.9 1749.6 880.2 1750.1 892.9 1750.7 887.8 1751.3 879.1 1751.8 890.6 1752.4 890.3 1753 878.6 1753.5 886.7 1754.1 886.8 1754.7 881.2 1755.2 880.7 1755.8 903 1756.4 880 1756.9 893.8 1757.5 895.8 1758.1 898.1 1758.6 897.2 1759.2 893.3 1759.8 889.2 1760.3 887.9 1760.9 897.5 1761.5 887.5 1762 899.9 1762.6 895.3 1763.2 902.2 1763.7 888.5 1764.3 905.2 1764.9 895.2 1765.4 898.4 1766 888.8 1766.6 898.4 1767.1 896.2 1767.7 899 1768.3 897.3 1768.8 904.2 1769.4 887.5 1770 893.2 1770.5 889.8 1771.1 896.3 1771.7 901.8 1772.2 902.1 1772.8 895.2 1773.4 890.3 1773.9 897.9 1774.5 899.9 1775.1 890.8 1775.6 897.6 1776.2 893.2 1776.8 898.6 1777.3 893.7 1777.9 902 1778.5 895.5 1779 897.6 1779.6 911.6 1780.2 877.4 1780.7 895 1781.3 896 1781.9 898.6 1782.4 898.9 1783 897.8 1783.6 894.4 1784.1 898.4 1784.7 902.6 1785.3 894.1 1785.8 905.5 1786.4 900.6 1787 911.5 1787.5 900.7 1788.1 904.7 1788.7 901.5 1789.2 905.8 1789.8 906.8 1790.4 899.2 1790.9 905 1791.5 902 1792.1 906.2 1792.6 899.4 1793.2 901.4 1793.8 905.9 1794.3 907.6 1794.9 904.6 1795.5 906 1796 902.9 1796.6 909.6 1797.2 905.1 1797.7 900.9 1798.3 917.1 1798.9 899.6 1799.4 911.4 1800 907.7 1800.6 909.8 1801.1 918.2 1801.7 905.8 1802.3 903.6 1802.8 903.4 1803.4 909.9 1804 914.6 1804.5 908.8 1805.1 910.1 1805.7 911.3 1806.2 909 1806.8 910.8 1807.4 904.1 1807.9 899.9 1808.5 905.8 1809.1 907.7 1809.6 914.7 1810.2 910.7 1810.8 905.7 1811.3 916.6 1811.9 915 1812.5 909.6 1813 920.5 1813.6 912.9 1814.2 909.1 1814.7 912.4 1815.3 916.6 1815.9 913.8 1816.4 907.1 1817 918.7 1817.6 910.7 1818.1 908.4 1818.7 910.4 1819.3 911.9 1819.8 917.4 1820.4 916.2 1821 902.1 1821.5 907.6 1822.1 910.2 1822.7 911.7 1823.2 915 1823.8 914 1824.4 906.2 1824.9 924.1 1825.5 914.1 1826 903.2 1826.6 916.3 1827.2 912.6 1827.7 904.3 1828.3 910.2 1828.9 911.6 1829.4 909.5 1830 906.6 1830.6 910.9 1831.1 910.6 1831.7 910.3 1832.3 915.5 1832.8 910.3 1833.4 915.7 1834 918.1 1834.5 923.4 1835.1 917.5 1835.7 913.5 1836.2 912.9 1836.8 911.4 1837.4 920.7 1837.9 911.2 1838.5 909.1 1839.1 911.2 1839.6 917.7 1840.2 917.9 1840.8 906.7 1841.3 918.3 1841.9 913.9 1842.5 928 1843 920.7 1843.6 909.6 1844.2 910 1844.7 909.1 1845.3 911.8 1845.9 914.5 1846.4 914.7 1847 917.1 1847.6 915.6 1848.1 911.5 1848.7 913.4 1849.3 915 1849.8 918.7 1850.4 912.6 1851 909.8 1851.5 916.4 1852.1 913.2 1852.7 915.7 1853.2 912.4 1853.8 913.9 1854.4 911.2 1854.9 909.8 1855.5 914.1 1856.1 908 1856.6 915.9 1857.2 922.9 1857.8 909.3 1858.3 908.5 1858.9 917.5 1859.5 911.7 1860 916.7 1860.6 913.9 1861.2 912.5 1861.7 917.7 1862.3 911.6 1862.9 908.9 1863.4 908 1864 915.2 1864.6 913.5 1865.1 909.2 1865.7 917.1 1866.3 913.3 1866.8 918.4 1867.4 917.4 1868 912.3 1868.5 910.5 1869.1 919.5 1869.7 912.3 1870.2 909.1 1870.8 911.4 1871.4 905.2 1871.9 913.4 1872.5 907 1873.1 917.5 1873.6 910.5 1874.2 913.8 1874.8 919.6 1875.3 917.9 1875.9 912.2 1876.5 914.8 1877 908.9 1877.6 914.7 1878.2 917.7 1878.7 916.2 1879.3 917.2 1879.9 915.5 1880.4 905.5 1881 913.2 1881.6 908.9 1882.1 917.6 1882.7 912.4 1883.3 911.1 1883.8 909.4 1884.4 914.8 1885 915.3 1885.5 915.8 1886.1 906.3 1886.7 914.5 1887.2 909.7 1887.8 902.5 1888.4 917 1888.9 913.3 1889.5 905 1890.1 915.6 1890.6 913.4 1891.2 919 1891.8 914.6 1892.3 912 1892.9 903.8 1893.5 920.8 1894 904.4 1894.6 910.3 1895.2 915.2 1895.7 909.6 1896.3 899.3 1896.9 909.3 1897.4 909.6 1898 916.6 1898.6 911 1899.1 917.7 1899.7 914.4 1900.3 915.2 1900.8 913.2 1901.4 927.7 1902 915.1 1902.5 914.5 1903.1 910.3 1903.7 907.6 1904.2 904.9 1904.8 902.3 1905.4 905.1 1905.9 915.1 1906.5 908.9 1907.1 911.6 1907.6 910.7 1908.2 912.2 1908.8 915.9 1909.3 925 1909.9 907.9 1910.5 922.1 1911 911.5 1911.6 909.5 1912.2 910.1 1912.7 917.8 1913.3 915.1 1913.9 918.7 1914.4 910.8 1915 919 1915.6 913.8 1916.1 916.5 1916.7 908.3 1917.3 913.3 1917.8 911.6 1918.4 918.7 1919 916.6 1919.5 899.1 1920.1 913.4 1920.7 912.9 1921.2 908.6 1921.8 909.6 1922.4 919.6 1922.9 914.1 1923.5 919.2 1924.1 919.5 1924.6 904.8 1925.2 921.5 1925.8 909.6 1926.3 911.5 1926.9 912.9 1927.5 914.6 1928 915.7 1928.6 911.7 1929.2 912.2 1929.7 914.2 1930.3 916.5 1930.8 909.5 1931.4 913.4 1932 913.2 1932.5 908.7 1933.1 908.1 1933.7 908.9 1934.2 920.4 1934.8 911.5 1935.4 913.8 1935.9 914.2 1936.5 907.9 1937.1 912.1 1937.6 897.3 1938.2 904 1938.8 913.3 1939.3 905.7 1939.9 911.1 1940.5 910.8 1941 917.5 1941.6 907.4 1942.2 908.1 1942.7 898.2 1943.3 913.2 1943.9 907.3 1944.4 905.3 1945 910.3 1945.6 906.9 1946.1 903.2 1946.7 902.7 1947.3 909.1 1947.8 910.4 1948.4 905.1 1949 905.2 1949.5 915.1 1950.1 904.4 1950.7 901.3 1951.2 908.5 1951.8 902.8 1952.4 899.7 1952.9 906.1 1953.5 903 1954.1 912 1954.6 906.2 1955.2 909.1 1955.8 910.5 1956.3 907.1 1956.9 908.8 1957.5 898.7 1958 899.2 1958.6 903.8 1959.2 908.5 1959.7 907.2 1960.3 911.1 1960.9 909.5 1961.4 906 1962 904.4 1962.6 904.8 1963.1 916.3 1963.7 904.1 1964.3 905.4 1964.8 914 1965.4 907.1 1966 914 1966.5 907.2 1967.1 910 1967.7 906.5 1968.2 912.4 1968.8 911.2 1969.4 917.5 1969.9 913.4 1970.5 913.7 1971.1 908.9 1971.6 912.1 1972.2 911.8 1972.8 908.2 1973.3 909.4 1973.9 915.6 1974.5 916.4 1975 922.6 1975.6 913.5 1976.2 910.3 1976.7 919.6 1977.3 915.9 1977.9 914 1978.4 916.8 1979 908.1 1979.6 918.7 1980.1 919.1 1980.7 918.5 1981.3 915.7 1981.8 917.7 1982.4 921.4 1983 912.9 1983.5 924.1 1984.1 915.8 1984.7 918.4 1985.2 928.6 1985.8 918.3 1986.4 915.1 1986.9 919.1 1987.5 914 1988.1 925 1988.6 919.6 1989.2 918.9 1989.8 916.7 1990.3 920.9 1990.9 922.2 1991.5 906.9 1992 911.3 1992.6 919.6 1993.2 915.6 1993.7 918.3 1994.3 914.6 1994.9 914.2 1995.4 924.3 1996 921.1 1996.6 921.7 1997.1 906.1 1997.7 919.5 1998.3 921.3 1998.8 919 1999.4 912.5 2000 918.8 2000.5 919 2001.1 914.1 2001.7 902.8 2002.2 912.3 2002.8 912.6 2003.4 913.7 2003.9 909.1 2004.5 914.8 2005.1 911.7 2005.6 912 2006.2 910.6 2006.8 913.6 2007.3 917.2 2007.9 916.7 2008.5 908.8 2009 916.7 2009.6 911 2010.2 913.8 2010.7 901.7 2011.3 917.5 2011.9 914.3 2012.4 914.1 2013 917 2013.6 910.7 2014.1 909 2014.7 905.3 2015.3 917.2 2015.8 912.7 2016.4 915.2 2017 914.1 2017.5 910 2018.1 914.7 2018.7 902.2 2019.2 909.5 2019.8 912 2020.4 903.7 2020.9 909.8 2021.5 906.4 2022.1 911.9 2022.6 912.2 2023.2 904.4 2023.8 903.9 2024.3 907.1 2024.9 905 2025.5 908.3 2026 904.3 2026.6 906.7 2027.2 901.6 2027.7 908.1 2028.3 911.5 2028.9 903.1 2029.4 908.5 2030 906.9 2030.6 908.9 2031.1 898.8 2031.7 907 2032.3 905.8 2032.8 910.3 2033.4 910.8 2033.9 896.5 2034.5 904.7 2035.1 910.5 2035.6 910 2036.2 910.5 2036.8 903.9 2037.3 906.6 2037.9 910.7 2038.5 911.8 2039 909.5 2039.6 906.6 2040.2 897.4 2040.7 906.2 2041.3 908.7 2041.9 910.1 2042.4 912.3 2043 912.4 2043.6 920.5 2044.1 912.8 2044.7 913.1 2045.3 918.3 2045.8 916 2046.4 909.8 2047 914.9 2047.5 902.8 2048.1 914.3 2048.7 913.5 2049.2 907.6 2049.8 914.4 2050.4 913 2050.9 908.1 2051.5 913.8 2052.1 908.4 2052.6 911.1 2053.2 905.8 2053.8 916.5 2054.3 910.4 2054.9 908.4 2055.5 910.1 2056 916.8 2056.6 920.1 2057.2 913.5 2057.7 911.9 2058.3 914.7 2058.9 914.4 2059.4 915.9 2060 913.5 2060.6 915.3 2061.1 905.9 2061.7 908.5 2062.3 912.5 2062.8 908.6 2063.4 910.2 2064 919 2064.5 915.3 2065.1 916 2065.7 915.2 2066.2 912.3 2066.8 913 2067.4 914.9 2067.9 918.2 2068.5 916.9 2069.1 916.4 2069.6 921 2070.2 916.7 2070.8 920.4 2071.3 920 2071.9 922.3 2072.5 913.9 2073 909.4 2073.6 920.3 2074.2 919.1 2074.7 921.9 2075.3 913.6 2075.9 929.5 2076.4 920.2 2077 928.7 2077.6 920.1 2078.1 920.5 2078.7 913 2079.3 923.8 2079.8 922.2 2080.4 921.5 2081 925 2081.5 919.7 2082.1 925.5 2082.7 923.8 2083.2 922.1 2083.8 918.3 2084.4 917.8 2084.9 925.5 2085.5 920.5 2086.1 921 2086.6 920.7 2087.2 920 2087.8 914.9 2088.3 922.1 2088.9 920.2 2089.5 918.2 2090 926.1 2090.6 929.9 2091.2 920.1 2091.7 921.8 2092.3 915.4 2092.9 925.2 2093.4 923.1 2094 925.6 2094.6 925.8 2095.1 921.1 2095.7 925.3 2096.3 921.4 2096.8 925 2097.4 923.9 2098 917.1 2098.5 917.4 2099.1 914 2099.7 914.4 2100.2 923.5 2100.8 925.9 2101.4 922.3 2101.9 916.9 2102.5 927.6 2103.1 919.6 2103.6 923.2 2104.2 917.2 2104.8 921.7 2105.3 913.2 2105.9 915.8 2106.5 913 2107 918.7 2107.6 916.1 2108.2 915.4 2108.7 922.7 2109.3 918 2109.9 917.8 2110.4 919.3 2111 915.8 2111.6 918.9 2112.1 919.1 2112.7 919.4 2113.3 919.8 2113.8 922.3 2114.4 920.6 2115 918.9 2115.5 914 2116.1 922.4 2116.7 925.4 2117.2 919.9 2117.8 915.1 2118.4 930 2118.9 922.1 2119.5 929.3 2120.1 916.1 2120.6 916.2 2121.2 918.8 2121.8 920.1 2122.3 911.5 2122.9 914.7 2123.5 921.6 2124 918 2124.6 923.6 2125.2 920.5 2125.7 919.3 2126.3 922 2126.9 921.9 2127.4 918.3 2128 924.6 2128.6 924.7 2129.1 924.3 2129.7 921.3 2130.3 922.4 2130.8 924 2131.4 923.8 2132 921.8 2132.5 928.1 2133.1 924.3 2133.7 927.4 2134.2 926.2 2134.8 916.7 2135.4 929.5 2135.9 914.6 2136.5 922.8 2137.1 920 2137.6 920.8 2138.2 925.4 2138.7 925.3 2139.3 923.4 2139.9 918.6 2140.4 923.2 2141 920.3 2141.6 920.4 2142.1 917.3 2142.7 918.5 2143.3 924.3 2143.8 917.5 2144.4 915.6 2145 922.8 2145.5 922.1 2146.1 918.5 2146.7 925 2147.2 920 2147.8 920.2 2148.4 899.9 2148.9 919.9 2149.5 924.4 2150.1 916.2 2150.6 923.8 2151.2 919.5 2151.8 920.2 2152.3 919.7 2152.9 915.8 2153.5 912.6 2154 906.7 2154.6 925.3 2155.2 921.5 2155.7 913.1 2156.3 922.7 2156.9 922.4 2157.4 917.2 2158 923.4 2158.6 923.1 2159.1 922.9 2159.7 926.6 2160.3 918.2 2160.8 924.1 2161.4 929.3 2162 930.2 2162.5 923.4 2163.1 929.4 2163.7 920.8 2164.2 917.1 2164.8 924.8 2165.4 928.2 2165.9 921.4 2166.5 928.7 2167.1 918.2 2167.6 920.1 2168.2 921.4 2168.8 924.6 2169.3 924.4 2169.9 925.3 2170.5 927.6 2171 920.9 2171.6 921.8 2172.2 930.2 2172.7 921.5 2173.3 923.8 2173.9 920.2 2174.4 919.5 2175 921.9 2175.6 915.1 2176.1 919 2176.7 920.8 2177.3 919.1 2177.8 916.9 2178.4 917.5 2179 919.3 2179.5 924.4 2180.1 922.9 2180.7 918 2181.2 929.2 2181.8 918.2 2182.4 924.1 2182.9 920 2183.5 914.7 2184.1 920.1 2184.6 917.7 2185.2 920.1 2185.8 920 2186.3 919.8 2186.9 922.1 2187.5 920.9 2188 917.2 2188.6 922.5 2189.2 923.2 2189.7 920 2190.3 921" fill="none" stroke="#ff3434" stroke-width="2.6" stroke-linejoin="round"/>
<path d="M207.6 978.5 208.7 982.6 209.9 983.1 211 985.9 212.1 992.6 213.3 991.3 214.4 998 215.5 996.8 216.7 1001.2 217.8 1000.4 218.9 1002.9 220.1 1010.7 221.2 1017.9 222.3 1016.3 223.5 1016.7 224.6 1016.3 225.7 1019.9 226.9 1019.2 228 1024.3 229.1 1028.7 230.3 1031.7 231.4 1033.1 232.5 1034.4 233.7 1040.7 234.8 1044.6 235.9 1044.8 237.1 1049.6 238.2 1051 239.3 1053 240.5 1058.3 241.6 1059.8 242.7 1056.9 243.9 1060 245 1061.9 246.1 1065.4 247.3 1068 248.4 1069.8 249.5 1069.9 250.7 1075.6 251.8 1075.7 252.9 1073.3 254.1 1073 255.2 1077 256.3 1084.2 257.5 1081.8 258.6 1081.8 259.7 1083.5 260.8 1085.9 262 1087.1 263.1 1089 264.2 1092.9 265.4 1094 266.5 1092.9 267.6 1094.6 268.8 1096.2 269.9 1102.2 271 1105.4 272.2 1111.4 273.3 1110.8 274.4 1106.9 275.6 1104.6 276.7 1112.9 277.8 1115.5 279 1119.2 280.1 1121.1 281.2 1118.7 282.4 1118.5 283.5 1119.1 284.6 1128.2 285.8 1129.4 286.9 1134 288 1134 289.2 1134.5 290.3 1133.7 291.4 1135.1 292.6 1139 293.7 1142.4 294.8 1146.9 296 1144.5 297.1 1143.4 298.2 1149.6 299.4 1152.4 300.5 1152.2 301.6 1150 302.8 1152.7 303.9 1154.5 305 1153.9 306.2 1153 307.3 1152.8 308.4 1152 309.6 1156.3 310.7 1155.9 311.8 1160.5 313 1161.1 314.1 1166.7 315.2 1169.1 316.4 1168.8 317.5 1168.1 318.6 1172.2 319.8 1176 320.9 1175 322 1175.5 323.2 1179.2 324.3 1177.8 325.4 1177.1 326.6 1181.1 327.7 1183.9 328.8 1184.3 330 1185.2 331.1 1188.1 332.2 1189.4 333.4 1185.8 334.5 1187.7 335.6 1190.2 336.8 1192.5 337.9 1193 339 1194.7 340.2 1195.2 341.3 1197.2 342.4 1197.4 343.6 1199.4 344.7 1203.1 345.8 1195.8 347 1193.8 348.1 1196.1 349.2 1197.2 350.4 1195.2 351.5 1196.5 352.6 1199.1 353.8 1199.6 354.9 1202.3 356 1204.4 357.2 1204.8 358.3 1206 359.4 1210.5 360.6 1214.4 361.7 1213.8 362.8 1213.4 364 1213.8 365.1 1215.1 366.2 1219.5 367.3 1221.3 368.5 1223.4 369.6 1225.2 370.7 1223.8 371.9 1225.9 373 1226.4 374.1 1226.8 375.3 1228.1 376.4 1230.6 377.5 1235.3 378.7 1237.4 379.8 1234.7 380.9 1235.8 382.1 1238.7 383.2 1238.7 384.3 1240.2 385.5 1242.4 386.6 1246.7 387.7 1245.7 388.9 1245.5 390 1247.8 391.1 1250.1 392.3 1248.3 393.4 1252.2 394.5 1251.7 395.7 1250.5 396.8 1250.1 397.9 1254.1 399.1 1254.8 400.2 1253.1 401.3 1252.1 402.5 1252.7 403.6 1254.8 404.7 1254.7 405.9 1257.5 407 1253.2 408.1 1254.6 409.3 1254.9 410.4 1256.8 411.5 1258.3 412.7 1258.6 413.8 1259.4 414.9 1257.1 416.1 1256 417.2 1256.2 418.3 1261.6 419.5 1262.5 420.6 1261.5 421.7 1261.4 422.9 1262.3 424 1264.9 425.1 1263.9 426.3 1262.2 427.4 1265 428.5 1264.2 429.7 1262.8 430.8 1263.3 431.9 1262.8 433.1 1262.7 434.2 1260 435.3 1261.2 436.5 1265.1 437.6 1264.9 438.7 1261.3 439.9 1258.4 441 1258.8 442.1 1258.2 443.3 1262 444.4 1263.2 445.5 1262.7 446.7 1265.2 447.8 1265.8 448.9 1262.1 450.1 1261.9 451.2 1261.7 452.3 1265.4 453.5 1265.5 454.6 1267.2 455.7 1266 456.9 1268.2 458 1270.1 459.1 1272.4 460.3 1275.4 461.4 1274.9 462.5 1274.8 463.7 1276.8 464.8 1277.1 465.9 1277.1 467.1 1275.5 468.2 1278.4 469.3 1276.6 470.4 1278.8 471.6 1278.3 472.7 1280.7 473.8 1280.4 475 1276.4 476.1 1275.4 477.2 1277.4 478.4 1275.7 479.5 1277.9 480.6 1277.6 481.8 1276 482.9 1277.7 484 1280 485.2 1279.5 486.3 1280.2 487.4 1282.1 488.6 1278.5 489.7 1279.2 490.8 1282.6 492 1282.6 493.1 1284.1 494.2 1284.9 495.4 1283.1 496.5 1283.6 497.6 1285.4 498.8 1291.3 499.9 1288.7 501 1288.9 502.2 1287 503.3 1289.3 504.4 1295.3 505.6 1295.2 506.7 1291.9 507.8 1287.5 509 1288.6 510.1 1288.1 511.2 1289.5 512.4 1288.7 513.5 1289.2 514.6 1290.5 515.8 1288.8 516.9 1286.8 518 1286.3 519.2 1287.9 520.3 1290.2 521.4 1288.4 522.6 1287.1 523.7 1290.8 524.8 1295.1 526 1294.8 527.1 1291.7 528.2 1294.5 529.4 1295.6 530.5 1292 531.6 1291.6 532.8 1292.7 533.9 1293.8 535 1292.9 536.2 1295.2 537.3 1296 538.4 1294.5 539.6 1290.8 540.7 1290.2 541.8 1290.9 543 1291.8 544.1 1291.6 545.2 1289.9 546.4 1294.1 547.5 1293.1 548.6 1292.4 549.8 1291.1 550.9 1290.7 552 1291.9 553.2 1290.8 554.3 1288.6 555.4 1291 556.6 1291.9 557.7 1290.6 558.8 1292.1 560 1289.2 561.1 1288.5 562.2 1289.7 563.4 1290.8 564.5 1289.7 565.6 1290.8 566.8 1289.7 567.9 1289.9 569 1292.6 570.2 1290.6 571.3 1290.7 572.4 1289.7 573.5 1289.8 574.7 1290.5 575.8 1290.1 576.9 1288.3 578.1 1288.4 579.2 1292.5 580.3 1292.7 581.5 1292.5 582.6 1295.3 583.7 1294.5 584.9 1295.5 586 1294.6 587.1 1294.4 588.3 1294.5 589.4 1293.7 590.5 1291 591.7 1289.5 592.8 1289 593.9 1289.4 595.1 1291.3 596.2 1289.8 597.3 1287.9 598.5 1287.3 599.6 1285.8 600.7 1285.7 601.9 1284 603 1285.3 604.1 1284.7 605.3 1282.2 606.4 1283.6 607.5 1284.8 608.7 1284.2 609.8 1284.8 610.9 1284.7 612.1 1286 613.2 1286.9 614.3 1285.7 615.5 1282.8 616.6 1284.3 617.7 1282.1 618.9 1285.5 620 1283.2 621.1 1283.1 622.3 1285 623.4 1287.6 624.5 1291 625.7 1287.8 626.8 1289.4 627.9 1288.9 629.1 1286.8 630.2 1285 631.3 1283.4 632.5 1283.6 633.6 1284.5 634.7 1284.1 635.9 1283.8 637 1283.5 638.1 1285.2 639.3 1285.2 640.4 1285.8 641.5 1285.8 642.7 1284.9 643.8 1282.6 644.9 1280.1 646.1 1280.6 647.2 1283.4 648.3 1281.1 649.5 1279.7 650.6 1280.5 651.7 1281.3 652.9 1284.2 654 1284.5 655.1 1284.4 656.3 1281.8 657.4 1278.3 658.5 1278.9 659.7 1280.4 660.8 1281.3 661.9 1283.4 663.1 1280.6 664.2 1280.8 665.3 1276.3 666.5 1274.8 667.6 1272.2 668.7 1272.4 669.9 1273.1 671 1271.5 672.1 1271.7 673.3 1273.9 674.4 1274.2 675.5 1271 676.7 1271.5 677.8 1270.9 678.9 1273.5 680 1275.1 681.2 1275.2 682.3 1273 683.4 1274.1 684.6 1272 685.7 1271.1 686.8 1269.9 688 1270.8 689.1 1275.1 690.2 1274.3 691.4 1271.7 692.5 1270 693.6 1269.5 694.8 1267.5 695.9 1266.7 697 1265.6 698.2 1269.1 699.3 1267 700.4 1265.7 701.6 1263.9 702.7 1264.6 703.8 1266 705 1269.3 706.1 1269.4 707.2 1269.6 708.4 1270.4 709.5 1267.9 710.6 1267.4 711.8 1268.8 712.9 1267.1 714 1266.4 715.2 1265.9 716.3 1264.6 717.4 1264.7 718.6 1265.4 719.7 1264.6 720.8 1261.1 722 1261.4 723.1 1262.6 724.2 1260.6 725.4 1257.4 726.5 1256.5 727.6 1256.8 728.8 1255.8 729.9 1256.8 731 1257 732.2 1254.7 733.3 1251.8 734.4 1253.8 735.6 1255.2 736.7 1255.7 737.8 1254.9 739 1253.1 740.1 1251.7 741.2 1249.5 742.4 1249.6 743.5 1249.3 744.6 1249.5 745.8 1248.5 746.9 1249.5 748 1249.9 749.2 1249.5 750.3 1247.5 751.4 1246.3 752.6 1244.2 753.7 1246.3 754.8 1243.6 756 1241.3 757.1 1242.8 758.2 1240.9 759.4 1239.1 760.5 1239.7 761.6 1237.9 762.8 1236 763.9 1233.8 765 1232.2 766.2 1230.4 767.3 1226.3 768.4 1225.9 769.6 1220.6 770.7 1214 771.8 1203.5 773 1193.7 774.1 1183.3 775.2 1180.5 776.4 1180.6 777.5 1183.9 778.6 1187.4 779.8 1189.3 780.9 1191.3 782 1190.4 783.1 1189.5 784.3 1194.4 785.4 1195.2 786.5 1196.1 787.7 1200 788.8 1200.4 789.9 1202 791.1 1204.7 792.2 1211.1 793.3 1212.4 794.5 1214 795.6 1212.2 796.7 1212.7 797.9 1215 799 1216.5 800.1 1217.6 801.3 1221.3 802.4 1224.1 803.5 1225.3 804.7 1224.2 805.8 1227.1 806.9 1226.6 808.1 1229.5 809.2 1229 810.3 1228.2 811.5 1226.2 812.6 1226.1 813.7 1229.3 814.9 1230.8 816 1233.4 817.1 1233.5 818.3 1230.1 819.4 1228.2 820.5 1227.6 821.7 1226.3 822.8 1221.7 823.9 1221.7 825.1 1224.1 826.2 1228.3 827.3 1228.5 828.5 1230 829.6 1230.3 830.7 1231.3 831.9 1235.3 833 1235 834.1 1232.4 835.3 1232.3 836.4 1231.1 837.5 1232.8 838.7 1228.7 839.8 1229.1 840.9 1228.6 842.1 1230.8 843.2 1228.4 844.3 1227.8 845.5 1229.9 846.6 1227.9 847.7 1226.3 848.9 1224.9 850 1224.9 851.1 1218.3 852.3 1214.4 853.4 1213 854.5 1210.4 855.7 1207.3 856.8 1196.8 857.9 1192.9 859.1 1187 860.2 1185.6 861.3 1187.3 862.5 1187.8 863.6 1192 864.7 1197.6 865.9 1199.5 867 1209.2 868.1 1219.2 869.3 1221.9 870.4 1215.7 871.5 1212.7 872.7 1212.4 873.8 1218.2 874.9 1217.8 876.1 1216.5 877.2 1214.6 878.3 1217.6 879.5 1216.8 880.6 1215.2 881.7 1213.4 882.9 1211.1 884 1212.8 885.1 1208.9 886.2 1212.2 887.4 1210 888.5 1208.2 889.6 1202.7 890.8 1201.2 891.9 1199.4 893 1201.7 894.2 1198.2 895.3 1202.7 896.4 1201.8 897.6 1200.9 898.7 1199.9 899.8 1197.9 901 1194.3 902.1 1188.3 903.2 1182.1 904.4 1181.5 905.5 1176.5 906.6 1174.4 907.8 1168.1 908.9 1158.8 910 1153.3 911.2 1146.3 912.3 1142.2 913.4 1136.9 914.6 1135 915.7 1127.2 916.8 1123.9 918 1119.3 919.1 1116.6 920.2 1112.4 921.4 1106 922.5 1086 923.6 1066.6 924.8 1053.7 925.9 1047.8 927 1044.7 928.2 1041.5 929.3 1036.1 930.4 1027.8 931.6 1017.5 932.7 1021.8 933.8 1023 935 1027 936.1 1039.5 937.2 1047.8 938.4 1059.7 939.5 1071.8 940.6 1082.9 941.8 1095.6 942.9 1108 944 1119 945.2 1121.6 946.3 1131.6 947.4 1139.5 948.6 1148.9 949.7 1155.2 950.8 1163.2 952 1173.6 953.1 1183.2 954.2 1190 955.4 1194.4 956.5 1196.6 957.6 1200.5 958.8 1199.8 959.9 1201.5 961 1201.1 962.2 1203.5 963.3 1207.1 964.4 1211.3 965.6 1215 966.7 1216.5 967.8 1218.3 969 1222.6 970.1 1225.9 971.2 1224.7 972.4 1228.3 973.5 1231.2 974.6 1227.8 975.8 1227.3 976.9 1227.1 978 1227.3 979.2 1232.3 980.3 1232.1 981.4 1233.1 982.6 1231.1 983.7 1232.7 984.8 1234.9 986 1236.3 987.1 1236.2 988.2 1238.1 989.4 1238.2 990.5 1242.8 991.6 1244.4 992.7 1244.2 993.9 1245.1 995 1247.8 996.1 1247.9 997.3 1252.3 998.4 1252.7 999.5 1253.7 1000.7 1254.9 1001.8 1255.6 1002.9 1258 1004.1 1257.9 1005.2 1258.7 1006.3 1258.3 1007.5 1260.1 1008.6 1261.1 1009.7 1261.9 1010.9 1262 1012 1261.7 1013.1 1259.4 1014.3 1261.9 1015.4 1262.3 1016.5 1263.6 1017.7 1263.1 1018.8 1266.1 1019.9 1263.5 1021.1 1262.1 1022.2 1261.2 1023.3 1264.6 1024.5 1264.7 1025.6 1262.4 1026.7 1260.9 1027.9 1260.4 1029 1260.1 1030.1 1262.6 1031.3 1268.7 1032.4 1271 1033.5 1270.5 1034.7 1263.9 1035.8 1265.2 1036.9 1263.1 1038.1 1264.6 1039.2 1265.2 1040.3 1267.5 1041.5 1265.2 1042.6 1264.5 1043.7 1266.4 1044.9 1265.8 1046 1266.4 1047.1 1268.6 1048.3 1271.3 1049.4 1270.7 1050.5 1270.7 1051.7 1268.9 1052.8 1268.4 1053.9 1267.5 1055.1 1269.4 1056.2 1270.1 1057.3 1272.2 1058.5 1272.2 1059.6 1271.8 1060.7 1270.9 1061.9 1269.1 1063 1272 1064.1 1271 1065.3 1272.1 1066.4 1273 1067.5 1272.3 1068.7 1271.9 1069.8 1266.3 1070.9 1266.4 1072.1 1266.2 1073.2 1265.3 1074.3 1262.7 1075.5 1261.1 1076.6 1260.7 1077.7 1260.3 1078.9 1259.9 1080 1257.1 1081.1 1258.2 1082.3 1262.9 1083.4 1266.1 1084.5 1265.5 1085.7 1264.2 1086.8 1267.4 1087.9 1268.3 1089.1 1269.8 1090.2 1270.6 1091.3 1272.3 1092.5 1270.4 1093.6 1270.6 1094.7 1271.8 1095.8 1273.2 1097 1276.8 1098.1 1275.3 1099.2 1276 1100.4 1272.9 1101.5 1274.1 1102.6 1274.6 1103.8 1273 1104.9 1276.3 1106 1276.9 1107.2 1275.6 1108.3 1272.4 1109.4 1273.3 1110.6 1275.4 1111.7 1277.2 1112.8 1277.6 1114 1277.9 1115.1 1274.4 1116.2 1271.5 1117.4 1270.6 1118.5 1276 1119.6 1277.6 1120.8 1272.3 1121.9 1269.6 1123 1270.7 1124.2 1268.8 1125.3 1269.4 1126.4 1270.4 1127.6 1267.9 1128.7 1268.5 1129.8 1268 1131 1268 1132.1 1262.3 1133.2 1263.5 1134.4 1269.3 1135.5 1271.4 1136.6 1267.5 1137.8 1262.4 1138.9 1260.3 1140 1259.5 1141.2 1259.5 1142.3 1260.2 1143.4 1257.4 1144.6 1253.4 1145.7 1251.7 1146.8 1254.3 1148 1250 1149.1 1247.2 1150.2 1243.7 1151.4 1240.3 1152.5 1240.2 1153.6 1243.9 1154.8 1243 1155.9 1246.5 1157 1247.7 1158.2 1249.8 1159.3 1251.6 1160.4 1255.3 1161.6 1255.5 1162.7 1257.9 1163.8 1260.9 1165 1264.4 1166.1 1262.7 1167.2 1263.5 1168.4 1267 1169.5 1268.8 1170.6 1270 1171.8 1270.8 1172.9 1272 1174 1274.8 1175.2 1276.5 1176.3 1278.5 1177.4 1280.9 1178.6 1280 1179.7 1280.1 1180.8 1280.8 1182 1279.8 1183.1 1280.9 1184.2 1280.9 1185.4 1282.6 1186.5 1282 1187.6 1284.1 1188.8 1286.2 1189.9 1286.8 1191 1286 1192.2 1286.4 1193.3 1288.5 1194.4 1291.8 1195.6 1295 1196.7 1297.1 1197.8 1295.5 1198.9 1292 1200.1 1290.8 1201.2 1291.5 1202.3 1294.7 1203.5 1295.6 1204.6 1293.7 1205.7 1295 1206.9 1297.6 1208 1291.8 1209.1 1291.6 1210.3 1294.1 1211.4 1296 1212.5 1294.4 1213.7 1295.8 1214.8 1297.5 1215.9 1298.5 1217.1 1298 1218.2 1296.9 1219.3 1296.7 1220.5 1299.2 1221.6 1300.2 1222.7 1298.3 1223.9 1297 1225 1298.9 1226.1 1302.3 1227.3 1302.3 1228.4 1301.8 1229.5 1301.9 1230.7 1298.6 1231.8 1299 1232.9 1301.1 1234.1 1302.9 1235.2 1302.5 1236.3 1301 1237.5 1298.4 1238.6 1300 1239.7 1301.4 1240.9 1301.7 1242 1301 1243.1 1301.7 1244.3 1301.9 1245.4 1305.6 1246.5 1304 1247.7 1304.3 1248.8 1304.1 1249.9 1304.4 1251.1 1303.6 1252.2 1303.1 1253.3 1302.7 1254.5 1305.7 1255.6 1307.9 1256.7 1304.5 1257.9 1302.3 1259 1303.2 1260.1 1304.5 1261.3 1304.9 1262.4 1303 1263.5 1306.1 1264.7 1305.7 1265.8 1306.6 1266.9 1305.6 1268.1 1307.6 1269.2 1307.1 1270.3 1306.5 1271.5 1304 1272.6 1306.1 1273.7 1309.3 1274.9 1312.2 1276 1310.3 1277.1 1308.7 1278.3 1308.1 1279.4 1308.3 1280.5 1311.1 1281.7 1313.3 1282.8 1312.4 1283.9 1310.4 1285.1 1311.1 1286.2 1311 1287.3 1312.5 1288.5 1309.2 1289.6 1311.1 1290.7 1311.4 1291.9 1310.3 1293 1311.3 1294.1 1310 1295.3 1308.9 1296.4 1310.3 1297.5 1307.9 1298.7 1305.7 1299.8 1306.6 1300.9 1307.2 1302.1 1307.5 1303.2 1308.1 1304.3 1307.8 1305.4 1305.8 1306.6 1302.9 1307.7 1302.9 1308.8 1304.4 1310 1305.6 1311.1 1305 1312.2 1303.6 1313.4 1303.9 1314.5 1304.7 1315.6 1304.3 1316.8 1302.1 1317.9 1300.8 1319 1299.1 1320.2 1295.6 1321.3 1294.6 1322.4 1295 1323.6 1294.3 1324.7 1293.8 1325.8 1295.9 1327 1296.8 1328.1 1298.3 1329.2 1302.4 1330.4 1306.1 1331.5 1308.7 1332.6 1310.2 1333.8 1311.2 1334.9 1309.4 1336 1310.2 1337.2 1311.5 1338.3 1313.3 1339.4 1311.9 1340.6 1312.5 1341.7 1313.2 1342.8 1313.8 1344 1313.4 1345.1 1312.2 1346.2 1313 1347.4 1312.5 1348.5 1312.7 1349.6 1313 1350.8 1310.6 1351.9 1309.9 1353 1311.8 1354.2 1311.7 1355.3 1310 1356.4 1309.7 1357.6 1308.6 1358.7 1308.4 1359.8 1308.4 1361 1309 1362.1 1309.5 1363.2 1310.4 1364.4 1311.6 1365.5 1311.4 1366.6 1309.6 1367.8 1308.2 1368.9 1306 1370 1306.4 1371.2 1307.8 1372.3 1306.7 1373.4 1307.4 1374.6 1306.7 1375.7 1309.7 1376.8 1308.2 1378 1309.6 1379.1 1308.8 1380.2 1308 1381.4 1304.7 1382.5 1305.8 1383.6 1307.2 1384.8 1309.7 1385.9 1309.3 1387 1307.9 1388.2 1308.4 1389.3 1309.6 1390.4 1310.9 1391.6 1310.1 1392.7 1310 1393.8 1311.3 1395 1311.1 1396.1 1309.9 1397.2 1309.5 1398.4 1311 1399.5 1310.6 1400.6 1310.7 1401.8 1308.3 1402.9 1309.5 1404 1309 1405.2 1308.1 1406.3 1306.3 1407.4 1305.8 1408.5 1305.8 1409.7 1309 1410.8 1309.9 1411.9 1305.9 1413.1 1304.1 1414.2 1303.8 1415.3 1303.4 1416.5 1299.6 1417.6 1299.1 1418.7 1298.1 1419.9 1300.5 1421 1301 1422.1 1302 1423.3 1299.1 1424.4 1300.9 1425.5 1300.2 1426.7 1300.1 1427.8 1296.6 1428.9 1294.4 1430.1 1292.4 1431.2 1293 1432.3 1292 1433.5 1290.8 1434.6 1289.2 1435.7 1287.8 1436.9 1287.1 1438 1286.7 1439.1 1289 1440.3 1287.5 1441.4 1285.2 1442.5 1283.8 1443.7 1281.2 1444.8 1280.2 1445.9 1279 1447.1 1275.8 1448.2 1273 1449.3 1269.1 1450.5 1267.2 1451.6 1267 1452.7 1267.1 1453.9 1269.1 1455 1271.9 1456.1 1274 1457.3 1277 1458.4 1281.2 1459.5 1279.7 1460.7 1280 1461.8 1279.8 1462.9 1284.2 1464.1 1289.7 1465.2 1297 1466.3 1299.3 1467.5 1299.6 1468.6 1300 1469.7 1300.2 1470.9 1303.5 1472 1301.7 1473.1 1301.4 1474.3 1303.2 1475.4 1303.4 1476.5 1303 1477.7 1302.1 1478.8 1301.6 1479.9 1304.3 1481.1 1302.6 1482.2 1302.5 1483.3 1302.9 1484.5 1302.6 1485.6 1302.5 1486.7 1301.1 1487.9 1299 1489 1302.2 1490.1 1303.1 1491.3 1302.8 1492.4 1299.4 1493.5 1298.7 1494.7 1299.2 1495.8 1302 1496.9 1300.6 1498.1 1299.6 1499.2 1300 1500.3 1301 1501.5 1300.2 1502.6 1300.1 1503.7 1299 1504.9 1300.4 1506 1298.2 1507.1 1298.7 1508.3 1297.7 1509.4 1295.5 1510.5 1295.7 1511.7 1299.5 1512.8 1298.2 1513.9 1295.1 1515 1294.6 1516.2 1293.9 1517.3 1295.1 1518.4 1295.2 1519.6 1292.8 1520.7 1290.9 1521.8 1289.6 1523 1290.8 1524.1 1290.2 1525.2 1285.3 1526.4 1281.9 1527.5 1278.9 1528.6 1279.5 1529.8 1275.9 1530.9 1270.9 1532 1269.6 1533.2 1269.2 1534.3 1266.9 1535.4 1265 1536.6 1262.7 1537.7 1261.7 1538.8 1259.6 1540 1255.4 1541.1 1254.6 1542.2 1250.8 1543.4 1252.5 1544.5 1251.1 1545.6 1250.6 1546.8 1249.1 1547.9 1245.5 1549 1243.1 1550.2 1245.3 1551.3 1246.6 1552.4 1248.7 1553.6 1250.7 1554.7 1252.3 1555.8 1256.8 1557 1261.9 1558.1 1266.3 1559.2 1268.9 1560.4 1272.7 1561.5 1274.6 1562.6 1275.8 1563.8 1278.6 1564.9 1281.3 1566 1281.2 1567.2 1279.7 1568.3 1281.4 1569.4 1284.7 1570.6 1287.1 1571.7 1286.3 1572.8 1290 1574 1291.3 1575.1 1292.1 1576.2 1290.3 1577.4 1291.5 1578.5 1293.6 1579.6 1291.6 1580.8 1291.2 1581.9 1293.2 1583 1297 1584.2 1296.3 1585.3 1297.2 1586.4 1297.3 1587.6 1297.4 1588.7 1299.3 1589.8 1300.7 1591 1298.8 1592.1 1296.4 1593.2 1299.7 1594.4 1301.2 1595.5 1299.3 1596.6 1296.2 1597.8 1296.2 1598.9 1296.9 1600 1297 1601.2 1296.9 1602.3 1296.7 1603.4 1294 1604.6 1296.5 1605.7 1297.2 1606.8 1295.6 1608 1292.9 1609.1 1295.8 1610.2 1300.2 1611.4 1299.6 1612.5 1299 1613.6 1296.6 1614.8 1296.7 1615.9 1297.4 1617 1296.9 1618.1 1298.3 1619.3 1300.2 1620.4 1300.1 1621.5 1298.2 1622.7 1296.4 1623.8 1298.3 1624.9 1299.2 1626.1 1297.4 1627.2 1296.2 1628.3 1296.1 1629.5 1295.7 1630.6 1295.5 1631.7 1296.5 1632.9 1296.7 1634 1296.7 1635.1 1296.9 1636.3 1295.5 1637.4 1292.5 1638.5 1294.9 1639.7 1297.2 1640.8 1294.9 1641.9 1295 1643.1 1297.3 1644.2 1296.8 1645.3 1294.9 1646.5 1294.7 1647.6 1297.2 1648.7 1296.5 1649.9 1295.2 1651 1294.8 1652.1 1294.6 1653.3 1290.8 1654.4 1290.3 1655.5 1289.8 1656.7 1292.7 1657.8 1291.5 1658.9 1290.5 1660.1 1288.7 1661.2 1288.9 1662.3 1288.5 1663.5 1286.7 1664.6 1284.2 1665.7 1284.7 1666.9 1285.6 1668 1284.2 1669.1 1279.8 1670.3 1280.5 1671.4 1284 1672.5 1284.8 1673.7 1284.3 1674.8 1280.4 1675.9 1279.8 1677.1 1280.3 1678.2 1277.8 1679.3 1272.9 1680.5 1273.8 1681.6 1272.1 1682.7 1271.7 1683.9 1269.3 1685 1266.6 1686.1 1263.4 1687.3 1258.8 1688.4 1255.2 1689.5 1252.4 1690.7 1250.7 1691.8 1247.8 1692.9 1243.8 1694.1 1240.9 1695.2 1237.2 1696.3 1236.9 1697.5 1232.7 1698.6 1229.8 1699.7 1226.5 1700.9 1224.4 1702 1223 1703.1 1217.8 1704.3 1216.6 1705.4 1216.6 1706.5 1213.9 1707.7 1211.3 1708.8 1210.9 1709.9 1214.1 1711.1 1211.4 1712.2 1209 1713.3 1212.4 1714.5 1223.2 1715.6 1230.4 1716.7 1235.8 1717.9 1239.2 1719 1242.5 1720.1 1245.2 1721.2 1246.9 1722.4 1250.1 1723.5 1256 1724.6 1260.1 1725.8 1266.5 1726.9 1271.7 1728 1276.1 1729.2 1277.4 1730.3 1276.9 1731.4 1276.8 1732.6 1277.1 1733.7 1281.7 1734.8 1285.6 1736 1284.9 1737.1 1286.7 1738.2 1286.8 1739.4 1285.4 1740.5 1289.1 1741.6 1294.6 1742.8 1298.5 1743.9 1299.2 1745 1299.3 1746.2 1296.5 1747.3 1297.6 1748.4 1297.9 1749.6 1296.6 1750.7 1298.7 1751.8 1299.8 1753 1301.6 1754.1 1301 1755.2 1301.4 1756.4 1303.4 1757.5 1304.3 1758.6 1303 1759.8 1307 1760.9 1308.4 1762 1306 1763.2 1305.7 1764.3 1308.4 1765.4 1308.7 1766.6 1310.6 1767.7 1313 1768.8 1309.9 1770 1307.6 1771.1 1307.7 1772.2 1309.4 1773.4 1309.3 1774.5 1310.6 1775.6 1313.2 1776.8 1313.5 1777.9 1315 1779 1315.7 1780.2 1314.7 1781.3 1315.2 1782.4 1314.4 1783.6 1314.7 1784.7 1315.3 1785.8 1316.7 1787 1318 1788.1 1318.2 1789.2 1319 1790.4 1321.5 1791.5 1317.9 1792.6 1316.5 1793.8 1320 1794.9 1319.5 1796 1319.7 1797.2 1319.2 1798.3 1317.3 1799.4 1316.8 1800.6 1316 1801.7 1316 1802.8 1317.7 1804 1317 1805.1 1318.4 1806.2 1320.2 1807.4 1320.1 1808.5 1318.2 1809.6 1319.9 1810.8 1321.1 1811.9 1320.8 1813 1319.1 1814.2 1319.5 1815.3 1320.6 1816.4 1321.2 1817.6 1323.6 1818.7 1323.3 1819.8 1320.4 1821 1318.7 1822.1 1321.3 1823.2 1322.4 1824.4 1324.2 1825.5 1322.8 1826.6 1323.6 1827.7 1321.7 1828.9 1321.3 1830 1323.7 1831.1 1326.7 1832.3 1326.9 1833.4 1324.1 1834.5 1323.2 1835.7 1319.7 1836.8 1320.2 1837.9 1324.9 1839.1 1326.1 1840.2 1324.6 1841.3 1325.9 1842.5 1325.9 1843.6 1325.8 1844.7 1323.2 1845.9 1322.1 1847 1322.1 1848.1 1322.6 1849.3 1324.8 1850.4 1326.5 1851.5 1325.1 1852.7 1326.1 1853.8 1325.1 1854.9 1326.1 1856.1 1325.7 1857.2 1324.5 1858.3 1323.9 1859.5 1322.2 1860.6 1323.8 1861.7 1325 1862.9 1325.9 1864 1326.1 1865.1 1325.9 1866.3 1325.7 1867.4 1324.9 1868.5 1327.8 1869.7 1326.8 1870.8 1325.8 1871.9 1324.9 1873.1 1324.3 1874.2 1323.6 1875.3 1325.6 1876.5 1325.9 1877.6 1325.8 1878.7 1326.6 1879.9 1326.9 1881 1326.8 1882.1 1324.6 1883.3 1326 1884.4 1326.4 1885.5 1327.2 1886.7 1325.1 1887.8 1324.5 1888.9 1326 1890.1 1325.8 1891.2 1326.2 1892.3 1325.4 1893.5 1328.8 1894.6 1326.9 1895.7 1325.9 1896.9 1326.4 1898 1325.4 1899.1 1326.2 1900.3 1327.5 1901.4 1327.5 1902.5 1326.6 1903.7 1327.9 1904.8 1329.3 1905.9 1331.1 1907.1 1329.8 1908.2 1328.8 1909.3 1328.8 1910.5 1328.6 1911.6 1326.9 1912.7 1325.4 1913.9 1326.8 1915 1327.4 1916.1 1328.5 1917.3 1326 1918.4 1325.1 1919.5 1327.4 1920.7 1328.4 1921.8 1328.1 1922.9 1328.1 1924.1 1329 1925.2 1328.4 1926.3 1328.1 1927.5 1327 1928.6 1325.7 1929.7 1325.7 1930.8 1323.6 1932 1324.7 1933.1 1322.9 1934.2 1320.7 1935.4 1322 1936.5 1323.1 1937.6 1322.6 1938.8 1318.8 1939.9 1317.3 1941 1318.7 1942.2 1317.9 1943.3 1318.8 1944.4 1319.5 1945.6 1321.6 1946.7 1321.5 1947.8 1322.9 1949 1320.2 1950.1 1319.6 1951.2 1319.8 1952.4 1321.8 1953.5 1320.3 1954.6 1321.2 1955.8 1318.6 1956.9 1317.3 1958 1315.7 1959.2 1316.9 1960.3 1317.8 1961.4 1317.8 1962.6 1319 1963.7 1318.7 1964.8 1318.4 1966 1321.4 1967.1 1323.3 1968.2 1322.9 1969.4 1322.6 1970.5 1322.5 1971.6 1323.3 1972.8 1323 1973.9 1324.2 1975 1325.7 1976.2 1326.6 1977.3 1326 1978.4 1324.5 1979.6 1324.9 1980.7 1326.3 1981.8 1327.2 1983 1329.5 1984.1 1325.9 1985.2 1325.4 1986.4 1325.4 1987.5 1327 1988.6 1327.1 1989.8 1327 1990.9 1327.5 1992 1328.5 1993.2 1328.5 1994.3 1327.1 1995.4 1326.4 1996.6 1326.9 1997.7 1327.2 1998.8 1327.2 2000 1325.2 2001.1 1325.5 2002.2 1326 2003.4 1325 2004.5 1323.3 2005.6 1325 2006.8 1327.1 2007.9 1326.5 2009 1324.3 2010.2 1321.4 2011.3 1320.6 2012.4 1324.6 2013.6 1322.8 2014.7 1322.7 2015.8 1320.6 2017 1320 2018.1 1318.6 2019.2 1320.7 2020.4 1320.1 2021.5 1321.7 2022.6 1319.1 2023.8 1319 2024.9 1317.7 2026 1317.1 2027.2 1318.2 2028.3 1319.5 2029.4 1319.8 2030.6 1320.2 2031.7 1318.1 2032.8 1318.6 2033.9 1320.2 2035.1 1320.1 2036.2 1318.3 2037.3 1316.2 2038.5 1318.9 2039.6 1320.1 2040.7 1320.7 2041.9 1320.4 2043 1320.3 2044.1 1319 2045.3 1318.3 2046.4 1318.2 2047.5 1317.7 2048.7 1320.5 2049.8 1318.7 2050.9 1320.5 2052.1 1322.2 2053.2 1321.5 2054.3 1321.4 2055.5 1321.2 2056.6 1322.8 2057.7 1321.4 2058.9 1323.5 2060 1321.3 2061.1 1323.5 2062.3 1325 2063.4 1324.6 2064.5 1322.8 2065.7 1322.7 2066.8 1322.8 2067.9 1322 2069.1 1323 2070.2 1324.2 2071.3 1324.9 2072.5 1324.8 2073.6 1325.8 2074.7 1326.2 2075.9 1326.7 2077 1327.5 2078.1 1328 2079.3 1329.3 2080.4 1329.9 2081.5 1330.9 2082.7 1330.6 2083.8 1332.5 2084.9 1332.6 2086.1 1333.3 2087.2 1332.8 2088.3 1333.1 2089.5 1333.1 2090.6 1332.7 2091.7 1332.9 2092.9 1333.3 2094 1334.6 2095.1 1335.5 2096.3 1335.9 2097.4 1335 2098.5 1335.1 2099.7 1335 2100.8 1333.8 2101.9 1333.3 2103.1 1334.2 2104.2 1334.5 2105.3 1334 2106.5 1335.2 2107.6 1336.2 2108.7 1336.5 2109.9 1334.8 2111 1333.3 2112.1 1334.9 2113.3 1334.5 2114.4 1336.3 2115.5 1334.3 2116.7 1334.6 2117.8 1335 2118.9 1336.8 2120.1 1336.2 2121.2 1335.1 2122.3 1335.2 2123.5 1337.3 2124.6 1337.9 2125.7 1336.1 2126.9 1334 2128 1336.3 2129.1 1339.5 2130.3 1337.1 2131.4 1335.4 2132.5 1334.8 2133.7 1336.5 2134.8 1336.3 2135.9 1333.9 2137.1 1334.6 2138.2 1333.7 2139.3 1334.9 2140.4 1337 2141.6 1336.8 2142.7 1333.6 2143.8 1333 2145 1333.6 2146.1 1332.7 2147.2 1332.4 2148.4 1332.7 2149.5 1335.5 2150.6 1333.1 2151.8 1332 2152.9 1334.1 2154 1335.7 2155.2 1333 2156.3 1332.3 2157.4 1333.9 2158.6 1334.2 2159.7 1333.5 2160.8 1333.6 2162 1336.1 2163.1 1334.9 2164.2 1331.9 2165.4 1329.7 2166.5 1332.1 2167.6 1333.4 2168.8 1333.6 2169.9 1334.5 2171 1334.4 2172.2 1333.9 2173.3 1333.9 2174.4 1334 2175.6 1334.2 2176.7 1333.2 2177.8 1332.9 2179 1332.6 2180.1 1332.1 2181.2 1332.4 2182.4 1331.7 2183.5 1333.9 2184.6 1332.9 2185.8 1333.4 2186.9 1332.3 2188 1333.6 2189.2 1333.3 2190.3 1333.6 2190.3 1337.2 2189.2 1338.4 2188 1339 2186.9 1336.8 2185.8 1337.9 2184.6 1340.1 2183.5 1340.3 2182.4 1338.1 2181.2 1336.8 2180.1 1337.4 2179 1338.3 2177.8 1338.8 2176.7 1336.8 2175.6 1336 2174.4 1335.3 2173.3 1337.2 2172.2 1339.3 2171 1338.5 2169.9 1337 2168.8 1337.2 2167.6 1338.6 2166.5 1338.3 2165.4 1338.6 2164.2 1338.4 2163.1 1337.6 2162 1338.4 2160.8 1338.8 2159.7 1338.4 2158.6 1338.1 2157.4 1339.3 2156.3 1340.1 2155.2 1339.3 2154 1338.4 2152.9 1337.9 2151.8 1336.5 2150.6 1335.9 2149.5 1338.2 2148.4 1338.4 2147.2 1340.1 2146.1 1340.5 2145 1340.2 2143.8 1338.5 2142.7 1337.7 2141.6 1335.1 2140.4 1337.5 2139.3 1338.4 2138.2 1339.3 2137.1 1340.7 2135.9 1339.7 2134.8 1340.8 2133.7 1340.8 2132.5 1340.4 2131.4 1340 2130.3 1339.2 2129.1 1338.9 2128 1339.1 2126.9 1340 2125.7 1338.1 2124.6 1337.4 2123.5 1338.9 2122.3 1338.7 2121.2 1338.1 2120.1 1340.5 2118.9 1343.4 2117.8 1340.2 2116.7 1338 2115.5 1340 2114.4 1341.3 2113.3 1340.3 2112.1 1337 2111 1338.9 2109.9 1340.1 2108.7 1341.8 2107.6 1339.8 2106.5 1338.2 2105.3 1338.1 2104.2 1336.8 2103.1 1337 2101.9 1338 2100.8 1337.5 2099.7 1338.5 2098.5 1338.9 2097.4 1338.5 2096.3 1338.4 2095.1 1341.1 2094 1339.6 2092.9 1341.3 2091.7 1340.9 2090.6 1340.5 2089.5 1337.5 2088.3 1336.3 2087.2 1337.2 2086.1 1338 2084.9 1336.4 2083.8 1336.2 2082.7 1337.3 2081.5 1338.7 2080.4 1337.5 2079.3 1336.1 2078.1 1335.4 2077 1333.3 2075.9 1333.6 2074.7 1332.6 2073.6 1332.2 2072.5 1332.1 2071.3 1331.1 2070.2 1329 2069.1 1330.3 2067.9 1329.5 2066.8 1329.3 2065.7 1329.6 2064.5 1327.5 2063.4 1329.4 2062.3 1326.7 2061.1 1327.6 2060 1330.4 2058.9 1329.4 2057.7 1328.3 2056.6 1326.4 2055.5 1327.3 2054.3 1326.1 2053.2 1324.6 2052.1 1322.7 2050.9 1325.1 2049.8 1328.2 2048.7 1325.5 2047.5 1323.7 2046.4 1324.6 2045.3 1324.7 2044.1 1324.4 2043 1321.9 2041.9 1323.7 2040.7 1325.5 2039.6 1326.9 2038.5 1325.2 2037.3 1325.8 2036.2 1323.3 2035.1 1322.5 2033.9 1323.4 2032.8 1324.4 2031.7 1323.3 2030.6 1322 2029.4 1321.9 2028.3 1319.1 2027.2 1321.2 2026 1323 2024.9 1325.8 2023.8 1324.3 2022.6 1325.3 2021.5 1325.4 2020.4 1326.4 2019.2 1326.5 2018.1 1326.5 2017 1326.6 2015.8 1326.9 2014.7 1329.4 2013.6 1330.4 2012.4 1330 2011.3 1329.7 2010.2 1330.1 2009 1330.3 2007.9 1329.6 2006.8 1328.5 2005.6 1328.6 2004.5 1330.2 2003.4 1329.9 2002.2 1328.7 2001.1 1328.9 2000 1329.3 1998.8 1332 1997.7 1333.9 1996.6 1333.6 1995.4 1330.2 1994.3 1330.4 1993.2 1332.2 1992 1333.7 1990.9 1332.3 1989.8 1333.9 1988.6 1335.5 1987.5 1333.6 1986.4 1333.6 1985.2 1332.8 1984.1 1332.4 1983 1332.8 1981.8 1332.5 1980.7 1332.8 1979.6 1330.1 1978.4 1330.4 1977.3 1330.6 1976.2 1331.4 1975 1332.2 1973.9 1329.6 1972.8 1326.6 1971.6 1326.8 1970.5 1327.8 1969.4 1326.7 1968.2 1326.2 1967.1 1325.2 1966 1325.5 1964.8 1325.8 1963.7 1326.1 1962.6 1323 1961.4 1322.7 1960.3 1323.3 1959.2 1322.4 1958 1320.3 1956.9 1322.5 1955.8 1324.2 1954.6 1323.2 1953.5 1323 1952.4 1323.4 1951.2 1323.3 1950.1 1323.6 1949 1323 1947.8 1324 1946.7 1324.1 1945.6 1325.9 1944.4 1327.4 1943.3 1326 1942.2 1325.8 1941 1326.3 1939.9 1326.7 1938.8 1325.4 1937.6 1328.1 1936.5 1329 1935.4 1326.6 1934.2 1328.7 1933.1 1329 1932 1330 1930.8 1329.2 1929.7 1331.2 1928.6 1332.3 1927.5 1333.6 1926.3 1334.8 1925.2 1335.1 1924.1 1334.9 1922.9 1335 1921.8 1333.4 1920.7 1330.5 1919.5 1330.7 1918.4 1331.7 1917.3 1332.8 1916.1 1331.9 1915 1332.4 1913.9 1332 1912.7 1332 1911.6 1332.6 1910.5 1332.1 1909.3 1330.8 1908.2 1331.8 1907.1 1331.7 1905.9 1332.8 1904.8 1332.8 1903.7 1331 1902.5 1331.6 1901.4 1332.8 1900.3 1334.1 1899.1 1332.9 1898 1332.5 1896.9 1332.2 1895.7 1330.6 1894.6 1331.2 1893.5 1332.6 1892.3 1332.9 1891.2 1330.8 1890.1 1331.8 1888.9 1332.3 1887.8 1333 1886.7 1333.9 1885.5 1335.3 1884.4 1333.7 1883.3 1333.3 1882.1 1333.2 1881 1332 1879.9 1332.5 1878.7 1332.6 1877.6 1330.8 1876.5 1331.5 1875.3 1331.5 1874.2 1330 1873.1 1331.2 1871.9 1332.5 1870.8 1331 1869.7 1331.2 1868.5 1331.8 1867.4 1332.4 1866.3 1330.4 1865.1 1330 1864 1331.6 1862.9 1330.4 1861.7 1329.7 1860.6 1328.8 1859.5 1330.3 1858.3 1330.7 1857.2 1329.4 1856.1 1329.8 1854.9 1328.8 1853.8 1329.1 1852.7 1330.5 1851.5 1329.3 1850.4 1329.4 1849.3 1328.4 1848.1 1329.1 1847 1328.3 1845.9 1329.6 1844.7 1331 1843.6 1332.6 1842.5 1330.2 1841.3 1326.9 1840.2 1328.3 1839.1 1326.9 1837.9 1326.9 1836.8 1328.7 1835.7 1328.9 1834.5 1327.8 1833.4 1327.6 1832.3 1325.4 1831.1 1327.2 1830 1328.7 1828.9 1326.5 1827.7 1324.3 1826.6 1325.9 1825.5 1327.7 1824.4 1325.6 1823.2 1324.9 1822.1 1325.8 1821 1326.7 1819.8 1327.2 1818.7 1327 1817.6 1326.1 1816.4 1327 1815.3 1325.6 1814.2 1325.7 1813 1326.1 1811.9 1325.4 1810.8 1324.2 1809.6 1321.5 1808.5 1321.9 1807.4 1323.4 1806.2 1322.9 1805.1 1322 1804 1323.5 1802.8 1322.9 1801.7 1324.4 1800.6 1322.5 1799.4 1324.6 1798.3 1323.8 1797.2 1321.8 1796 1321 1794.9 1321.5 1793.8 1324.2 1792.6 1321.3 1791.5 1322.6 1790.4 1324 1789.2 1323 1788.1 1322.4 1787 1322.3 1785.8 1322.7 1784.7 1323 1783.6 1323.9 1782.4 1325 1781.3 1323.2 1780.2 1321.2 1779 1321.1 1777.9 1322.7 1776.8 1319.8 1775.6 1319.9 1774.5 1319.9 1773.4 1320.3 1772.2 1317.6 1771.1 1316 1770 1317.1 1768.8 1318 1767.7 1317.2 1766.6 1311.5 1765.4 1311.3 1764.3 1312.2 1763.2 1312.5 1762 1310.4 1760.9 1309.5 1759.8 1312 1758.6 1311.2 1757.5 1310.5 1756.4 1309.8 1755.2 1308.5 1754.1 1305.3 1753 1307.9 1751.8 1307.3 1750.7 1304.8 1749.6 1304.6 1748.4 1305.7 1747.3 1306.8 1746.2 1306.2 1745 1303 1743.9 1300.1 1742.8 1303 1741.6 1301.1 1740.5 1299.6 1739.4 1294.4 1738.2 1291.4 1737.1 1288.9 1736 1288.6 1734.8 1288 1733.7 1287.3 1732.6 1283.9 1731.4 1282.1 1730.3 1281.1 1729.2 1281.3 1728 1278.9 1726.9 1276.1 1725.8 1270.4 1724.6 1266.7 1723.5 1260.5 1722.4 1257.9 1721.2 1255.3 1720.1 1253.6 1719 1251.8 1717.9 1245.8 1716.7 1242.3 1715.6 1237.2 1714.5 1228 1713.3 1219.8 1712.2 1214.4 1711.1 1217.3 1709.9 1218.1 1708.8 1215.5 1707.7 1217.5 1706.5 1217.3 1705.4 1221.3 1704.3 1220.4 1703.1 1221.8 1702 1226.2 1700.9 1232.6 1699.7 1235.3 1698.6 1234.6 1697.5 1236.5 1696.3 1237.7 1695.2 1242.2 1694.1 1244.7 1692.9 1247.9 1691.8 1248.8 1690.7 1251.9 1689.5 1257.8 1688.4 1261.6 1687.3 1262.3 1686.1 1262.8 1685 1266.9 1683.9 1270.9 1682.7 1272.8 1681.6 1274 1680.5 1277.5 1679.3 1278.9 1678.2 1285.1 1677.1 1286.8 1675.9 1288 1674.8 1286.8 1673.7 1291.6 1672.5 1295.7 1671.4 1291.4 1670.3 1290 1669.1 1291.8 1668 1296.4 1666.9 1294.4 1665.7 1292.3 1664.6 1291.7 1663.5 1292.6 1662.3 1294.1 1661.2 1294.2 1660.1 1294.5 1658.9 1296.1 1657.8 1297.5 1656.7 1297.7 1655.5 1300.9 1654.4 1301.2 1653.3 1299.9 1652.1 1297.8 1651 1298.8 1649.9 1300 1648.7 1299.9 1647.6 1299.2 1646.5 1299.1 1645.3 1300.2 1644.2 1300.1 1643.1 1301 1641.9 1303.2 1640.8 1303.1 1639.7 1301.5 1638.5 1303.4 1637.4 1304.2 1636.3 1303.7 1635.1 1303.6 1634 1303.1 1632.9 1304 1631.7 1304.3 1630.6 1304.6 1629.5 1303.6 1628.3 1303.3 1627.2 1302.3 1626.1 1300.2 1624.9 1301.9 1623.8 1301.6 1622.7 1305.1 1621.5 1305.6 1620.4 1306 1619.3 1305.7 1618.1 1307 1617 1305.1 1615.9 1304.1 1614.8 1304.5 1613.6 1304.6 1612.5 1304.6 1611.4 1304 1610.2 1305.7 1609.1 1305.3 1608 1303.7 1606.8 1301.9 1605.7 1303.6 1604.6 1302.9 1603.4 1303.9 1602.3 1305.5 1601.2 1306.1 1600 1307.8 1598.9 1306.5 1597.8 1304.3 1596.6 1303.6 1595.5 1303.7 1594.4 1303.4 1593.2 1304.2 1592.1 1303.8 1591 1303.3 1589.8 1304.2 1588.7 1303.2 1587.6 1302.4 1586.4 1304 1585.3 1303 1584.2 1301.9 1583 1301.1 1581.9 1301.2 1580.8 1302.2 1579.6 1300.5 1578.5 1298.3 1577.4 1297.8 1576.2 1298.3 1575.1 1294.9 1574 1295.6 1572.8 1294.8 1571.7 1294.5 1570.6 1288.6 1569.4 1287.6 1568.3 1286.3 1567.2 1288.2 1566 1288.2 1564.9 1285.1 1563.8 1280.7 1562.6 1280.2 1561.5 1282.1 1560.4 1280.5 1559.2 1273.9 1558.1 1271 1557 1264.5 1555.8 1262 1554.7 1260 1553.6 1257.7 1552.4 1253.7 1551.3 1250.5 1550.2 1250 1549 1252.6 1547.9 1252.6 1546.8 1253.2 1545.6 1254.7 1544.5 1254.6 1543.4 1256.3 1542.2 1262.2 1541.1 1263.6 1540 1264.6 1538.8 1267.2 1537.7 1269.5 1536.6 1268.3 1535.4 1268.6 1534.3 1271.9 1533.2 1277.6 1532 1277.9 1530.9 1279.2 1529.8 1283.5 1528.6 1286.7 1527.5 1287.1 1526.4 1288.1 1525.2 1292.9 1524.1 1296.3 1523 1296.4 1521.8 1294.7 1520.7 1296.9 1519.6 1298.9 1518.4 1298.7 1517.3 1297.5 1516.2 1299.9 1515 1303 1513.9 1303.1 1512.8 1300 1511.7 1301.6 1510.5 1303.3 1509.4 1306.1 1508.3 1306.3 1507.1 1307.2 1506 1305.5 1504.9 1304.4 1503.7 1304.2 1502.6 1304 1501.5 1306.9 1500.3 1305.7 1499.2 1306.9 1498.1 1307.9 1496.9 1308 1495.8 1308.7 1494.7 1307.8 1493.5 1305.7 1492.4 1307.5 1491.3 1310 1490.1 1308.9 1489 1305.5 1487.9 1304.9 1486.7 1307.1 1485.6 1305.9 1484.5 1306 1483.3 1306.5 1482.2 1308.9 1481.1 1311.9 1479.9 1310.9 1478.8 1309.3 1477.7 1309.5 1476.5 1308.7 1475.4 1309.6 1474.3 1306.5 1473.1 1306.4 1472 1306.7 1470.9 1307.7 1469.7 1307.6 1468.6 1305.6 1467.5 1305.7 1466.3 1305 1465.2 1300.8 1464.1 1297.5 1462.9 1293.6 1461.8 1290 1460.7 1286.1 1459.5 1284.1 1458.4 1283.5 1457.3 1282.6 1456.1 1276.7 1455 1276.4 1453.9 1279.4 1452.7 1277.3 1451.6 1273.7 1450.5 1272.6 1449.3 1276.2 1448.2 1277 1447.1 1279.7 1445.9 1282.6 1444.8 1282.2 1443.7 1288.4 1442.5 1292.5 1441.4 1294.8 1440.3 1291.7 1439.1 1289.7 1438 1292 1436.9 1296 1435.7 1298.3 1434.6 1300.1 1433.5 1299.9 1432.3 1298.3 1431.2 1298.5 1430.1 1302.7 1428.9 1305.8 1427.8 1305.2 1426.7 1304.5 1425.5 1303.3 1424.4 1305.3 1423.3 1303.6 1422.1 1304.8 1421 1305.7 1419.9 1308.7 1418.7 1310.3 1417.6 1310.2 1416.5 1308.9 1415.3 1309.3 1414.2 1310.5 1413.1 1309 1411.9 1310.9 1410.8 1311.9 1409.7 1313.1 1408.5 1316.2 1407.4 1317.7 1406.3 1316.6 1405.2 1314.9 1404 1313.4 1402.9 1316.2 1401.8 1317.8 1400.6 1317.2 1399.5 1316.7 1398.4 1316.2 1397.2 1319.2 1396.1 1318.2 1395 1317.4 1393.8 1317.1 1392.7 1315.9 1391.6 1315.4 1390.4 1315.5 1389.3 1314.6 1388.2 1315.7 1387 1317.5 1385.9 1316.3 1384.8 1317.7 1383.6 1315 1382.5 1316 1381.4 1314.7 1380.2 1314.8 1379.1 1312.7 1378 1314.9 1376.8 1315.8 1375.7 1314.6 1374.6 1313.9 1373.4 1316.7 1372.3 1318.9 1371.2 1318.3 1370 1317 1368.9 1316.8 1367.8 1316.5 1366.6 1315.6 1365.5 1312.5 1364.4 1315.2 1363.2 1316.2 1362.1 1316.5 1361 1316.4 1359.8 1315.9 1358.7 1316.4 1357.6 1316.5 1356.4 1314.8 1355.3 1314.7 1354.2 1316.2 1353 1317.5 1351.9 1313.1 1350.8 1310.9 1349.6 1311.6 1348.5 1317.5 1347.4 1319.9 1346.2 1316 1345.1 1316.7 1344 1318.1 1342.8 1318.8 1341.7 1317.3 1340.6 1318.1 1339.4 1316.5 1338.3 1316.6 1337.2 1317 1336 1318 1334.9 1317 1333.8 1318 1332.6 1317 1331.5 1316.2 1330.4 1314.7 1329.2 1310.9 1328.1 1307.2 1327 1303.9 1325.8 1301.4 1324.7 1300.5 1323.6 1300.8 1322.4 1300.3 1321.3 1302.6 1320.2 1306.3 1319 1307.3 1317.9 1308 1316.8 1307.3 1315.6 1309.9 1314.5 1311.3 1313.4 1312.4 1312.2 1312.3 1311.1 1310.6 1310 1311.5 1308.8 1310.8 1307.7 1309.3 1306.6 1310.5 1305.4 1311.7 1304.3 1312.5 1303.2 1313.2 1302.1 1314.6 1300.9 1313.4 1299.8 1313.7 1298.7 1312.7 1297.5 1312.8 1296.4 1312 1295.3 1316 1294.1 1316.2 1293 1315.6 1291.9 1315.6 1290.7 1317.9 1289.6 1317.5 1288.5 1319.2 1287.3 1319.8 1286.2 1317.4 1285.1 1318.9 1283.9 1319.6 1282.8 1317.9 1281.7 1316.6 1280.5 1315 1279.4 1314.9 1278.3 1315.2 1277.1 1316 1276 1313.9 1274.9 1310.9 1273.7 1311.2 1272.6 1312.3 1271.5 1313.5 1270.3 1313.4 1269.2 1312.5 1268.1 1310.7 1266.9 1311.3 1265.8 1313.1 1264.7 1312.2 1263.5 1311.3 1262.4 1309.6 1261.3 1311.5 1260.1 1313.1 1259 1312.7 1257.9 1313.7 1256.7 1312.7 1255.6 1309.5 1254.5 1310 1253.3 1308.7 1252.2 1310 1251.1 1310.1 1249.9 1309.8 1248.8 1308.5 1247.7 1306.3 1246.5 1306.8 1245.4 1306.7 1244.3 1310.7 1243.1 1309.4 1242 1308.4 1240.9 1309.6 1239.7 1310.4 1238.6 1309.1 1237.5 1307.7 1236.3 1307.1 1235.2 1307.7 1234.1 1307.8 1232.9 1306.4 1231.8 1305.2 1230.7 1305.7 1229.5 1304.4 1228.4 1306.6 1227.3 1306.1 1226.1 1304.5 1225 1306.4 1223.9 1306.3 1222.7 1304.4 1221.6 1302 1220.5 1300.7 1219.3 1302.5 1218.2 1304.1 1217.1 1305.1 1215.9 1303 1214.8 1301.4 1213.7 1301.1 1212.5 1301.7 1211.4 1301.8 1210.3 1302.5 1209.1 1300.7 1208 1301 1206.9 1302 1205.7 1302.1 1204.6 1300.9 1203.5 1301.5 1202.3 1300.8 1201.2 1302.2 1200.1 1300.5 1198.9 1299.4 1197.8 1298.6 1196.7 1295.1 1195.6 1294.8 1194.4 1294.1 1193.3 1295.1 1192.2 1293 1191 1293.9 1189.9 1291.6 1188.8 1292.1 1187.6 1293.8 1186.5 1293.9 1185.4 1292.9 1184.2 1289.1 1183.1 1287.8 1182 1287.3 1180.8 1284.9 1179.7 1284.3 1178.6 1284 1177.4 1284.7 1176.3 1284.6 1175.2 1282.4 1174 1281.7 1172.9 1281.8 1171.8 1280.3 1170.6 1279.1 1169.5 1276.9 1168.4 1274.7 1167.2 1273.5 1166.1 1272.8 1165 1270.9 1163.8 1268.2 1162.7 1266.6 1161.6 1265.9 1160.4 1267.2 1159.3 1263.3 1158.2 1260.4 1157 1257.5 1155.9 1254.7 1154.8 1253.1 1153.6 1250.3 1152.5 1248.3 1151.4 1248.5 1150.2 1253.2 1149.1 1254.2 1148 1256.9 1146.8 1257.6 1145.7 1257.7 1144.6 1258 1143.4 1261.1 1142.3 1264.2 1141.2 1266.2 1140 1267.2 1138.9 1264 1137.8 1263.9 1136.6 1265.4 1135.5 1271 1134.4 1271.7 1133.2 1273.4 1132.1 1274.1 1131 1275 1129.8 1275.5 1128.7 1278.1 1127.6 1274.8 1126.4 1276.4 1125.3 1276.4 1124.2 1280.3 1123 1281.7 1121.9 1278.4 1120.8 1279.3 1119.6 1280.5 1118.5 1280.3 1117.4 1282.2 1116.2 1284.7 1115.1 1281.8 1114 1280.2 1112.8 1280.9 1111.7 1283.5 1110.6 1283.4 1109.4 1283.4 1108.3 1281.9 1107.2 1281.9 1106 1282.5 1104.9 1282.3 1103.8 1284.3 1102.6 1283.1 1101.5 1283.5 1100.4 1277.5 1099.2 1276.1 1098.1 1277 1097 1280.9 1095.8 1282.2 1094.7 1283.8 1093.6 1286.2 1092.5 1282.6 1091.3 1278.1 1090.2 1277.7 1089.1 1276.8 1087.9 1275.9 1086.8 1274.5 1085.7 1274.3 1084.5 1271.7 1083.4 1269.8 1082.3 1270.9 1081.1 1268.8 1080 1265 1078.9 1266.7 1077.7 1270.8 1076.6 1268.1 1075.5 1266.7 1074.3 1266.2 1073.2 1270.9 1072.1 1272.6 1070.9 1274.8 1069.8 1277.9 1068.7 1277.8 1067.5 1274.5 1066.4 1277.7 1065.3 1277 1064.1 1277.2 1063 1277.1 1061.9 1278.9 1060.7 1279.4 1059.6 1281.5 1058.5 1284.5 1057.3 1283.1 1056.2 1279.3 1055.1 1276.1 1053.9 1276.7 1052.8 1276.7 1051.7 1275.6 1050.5 1278.1 1049.4 1277.8 1048.3 1278.8 1047.1 1278.3 1046 1276.5 1044.9 1276.3 1043.7 1278.4 1042.6 1273.6 1041.5 1273.8 1040.3 1275.2 1039.2 1275.5 1038.1 1272.3 1036.9 1272.6 1035.8 1270.9 1034.7 1272.9 1033.5 1270.9 1032.4 1272.6 1031.3 1272.5 1030.1 1273 1029 1270.6 1027.9 1270.3 1026.7 1267.1 1025.6 1267.7 1024.5 1270.3 1023.3 1269.3 1022.2 1267.5 1021.1 1265.6 1019.9 1268.6 1018.8 1270.5 1017.7 1269.3 1016.5 1270.4 1015.4 1271.5 1014.3 1270.7 1013.1 1268.7 1012 1268.9 1010.9 1269.2 1009.7 1268.7 1008.6 1265.6 1007.5 1265.7 1006.3 1267.6 1005.2 1270.8 1004.1 1270.2 1002.9 1266.2 1001.8 1262.2 1000.7 1261.2 999.5 1260.1 998.4 1257.5 997.3 1254.7 996.1 1255.4 995 1255.3 993.9 1250.6 992.7 1250 991.6 1248.8 990.5 1250.1 989.4 1250.3 988.2 1249.8 987.1 1244.2 986 1243.6 984.8 1246.8 983.7 1245.9 982.6 1240.5 981.4 1238.8 980.3 1239.7 979.2 1241.2 978 1240 976.9 1238 975.8 1237 974.6 1236.3 973.5 1234.4 972.4 1232.1 971.2 1232.4 970.1 1231.9 969 1228.3 967.8 1228.4 966.7 1226.4 965.6 1224.3 964.4 1223 963.3 1222.4 962.2 1218 961 1210.8 959.9 1206.9 958.8 1206.4 957.6 1207.1 956.5 1206 955.4 1201.3 954.2 1193.7 953.1 1185.5 952 1176.9 950.8 1170.1 949.7 1167.4 948.6 1156.9 947.4 1149 946.3 1136.1 945.2 1129.2 944 1115.6 942.9 1106.9 941.8 1097.5 940.6 1088.5 939.5 1082.7 938.4 1071.8 937.2 1058.7 936.1 1045.7 935 1035.2 933.8 1029.2 932.7 1029.4 931.6 1029.1 930.4 1035.9 929.3 1042.8 928.2 1047.6 927 1051.7 925.9 1053.8 924.8 1063.2 923.6 1072.5 922.5 1094.9 921.4 1115 920.2 1120.9 919.1 1129.1 918 1132.6 916.8 1134.2 915.7 1137.3 914.6 1139 913.4 1137.6 912.3 1143.7 911.2 1153.6 910 1161.8 908.9 1168.2 907.8 1177.8 906.6 1185.6 905.5 1190.8 904.4 1191.6 903.2 1193.6 902.1 1196.1 901 1197.9 899.8 1202.7 898.7 1213.6 897.6 1215.2 896.4 1209.5 895.3 1206.7 894.2 1209.9 893 1211.1 891.9 1213 890.8 1214.5 889.6 1214.5 888.5 1214.1 887.4 1215.7 886.2 1218.1 885.1 1216.4 884 1215.6 882.9 1221.1 881.7 1225 880.6 1221.7 879.5 1221.6 878.3 1223.1 877.2 1224.9 876.1 1224.8 874.9 1225.6 873.8 1227.7 872.7 1228.7 871.5 1226.1 870.4 1225.5 869.3 1226.6 868.1 1220.4 867 1213.5 865.9 1209.1 864.7 1202.7 863.6 1194.3 862.5 1195.3 861.3 1196.2 860.2 1196.3 859.1 1195.8 857.9 1200.7 856.8 1207.7 855.7 1214.1 854.5 1219.9 853.4 1223.1 852.3 1225.5 851.1 1228.5 850 1230.5 848.9 1231.6 847.7 1232.1 846.6 1235.9 845.5 1235.5 844.3 1235.8 843.2 1233.7 842.1 1235.6 840.9 1238 839.8 1240.9 838.7 1238.7 837.5 1239.3 836.4 1240 835.3 1243.1 834.1 1243.2 833 1241.3 831.9 1243.5 830.7 1244.5 829.6 1240.5 828.5 1241.1 827.3 1240 826.2 1239.3 825.1 1236.1 823.9 1234.2 822.8 1239.3 821.7 1238.3 820.5 1236.4 819.4 1232.3 818.3 1234.8 817.1 1238.5 816 1239.8 814.9 1233 813.7 1234.1 812.6 1233.2 811.5 1236.8 810.3 1237.4 809.2 1236.6 808.1 1237.2 806.9 1235 805.8 1235.3 804.7 1234.5 803.5 1234.4 802.4 1232 801.3 1230 800.1 1230.7 799 1231 797.9 1228.1 796.7 1227.8 795.6 1225.9 794.5 1222.8 793.3 1220.8 792.2 1219 791.1 1216.9 789.9 1216.8 788.8 1207.3 787.7 1205.2 786.5 1204.2 785.4 1205.6 784.3 1202.9 783.1 1199.5 782 1200.6 780.9 1200.2 779.8 1195.2 778.6 1194.9 777.5 1195.2 776.4 1191.4 775.2 1191.6 774.1 1194.9 773 1204.3 771.8 1217.1 770.7 1225.3 769.6 1227.7 768.4 1234 767.3 1237.8 766.2 1237.4 765 1236.5 763.9 1239.6 762.8 1241 761.6 1245 760.5 1247.7 759.4 1248.3 758.2 1250.6 757.1 1250.7 756 1249.7 754.8 1250.8 753.7 1252.9 752.6 1254.4 751.4 1256.9 750.3 1255.7 749.2 1256 748 1258.5 746.9 1258.8 745.8 1257.7 744.6 1256.4 743.5 1255.5 742.4 1258.2 741.2 1257.9 740.1 1259.1 739 1258.3 737.8 1258.5 736.7 1257.2 735.6 1257.9 734.4 1258.5 733.3 1259.5 732.2 1261.8 731 1264.1 729.9 1265.9 728.8 1267.8 727.6 1268.1 726.5 1267.3 725.4 1266 724.2 1268.5 723.1 1267.3 722 1269.7 720.8 1270 719.7 1271.7 718.6 1269.5 717.4 1271.6 716.3 1271.5 715.2 1277.4 714 1275.9 712.9 1276 711.8 1274 710.6 1276 709.5 1273 708.4 1271.8 707.2 1271.4 706.1 1272.7 705 1271.6 703.8 1273.9 702.7 1272.5 701.6 1272.6 700.4 1274.2 699.3 1275 698.2 1274.7 697 1274 695.9 1275.4 694.8 1275.5 693.6 1276.9 692.5 1275.8 691.4 1278.6 690.2 1280.1 689.1 1279.4 688 1278.1 686.8 1277.6 685.7 1277.6 684.6 1279.8 683.4 1281 682.3 1282.5 681.2 1283.2 680 1284.4 678.9 1284.3 677.8 1282.8 676.7 1283.9 675.5 1281.5 674.4 1282.9 673.3 1279.7 672.1 1278.7 671 1279.6 669.9 1280.1 668.7 1279.9 667.6 1279.3 666.5 1279.4 665.3 1281.2 664.2 1283.1 663.1 1285.8 661.9 1286.3 660.8 1286.8 659.7 1286.1 658.5 1287.7 657.4 1285.7 656.3 1286.4 655.1 1287.8 654 1285.6 652.9 1284.5 651.7 1285.1 650.6 1284.8 649.5 1288 648.3 1290.5 647.2 1291.1 646.1 1287.8 644.9 1285.9 643.8 1283.9 642.7 1283.4 641.5 1284.2 640.4 1288.3 639.3 1289.1 638.1 1289.7 637 1287.8 635.9 1288.5 634.7 1290.7 633.6 1289 632.5 1292 631.3 1292.2 630.2 1293 629.1 1288.8 627.9 1288.6 626.8 1295.9 625.7 1296.9 624.5 1295.3 623.4 1294.4 622.3 1293.7 621.1 1289.9 620 1291.2 618.9 1289.2 617.7 1291.3 616.6 1292.3 615.5 1294.9 614.3 1291.3 613.2 1291.4 612.1 1292.5 610.9 1293.6 609.8 1293.8 608.7 1290.2 607.5 1288.1 606.4 1289.2 605.3 1289.6 604.1 1291.9 603 1291.8 601.9 1291.6 600.7 1288.9 599.6 1289.6 598.5 1290.3 597.3 1292.2 596.2 1293.2 595.1 1293.5 593.9 1294.4 592.8 1293.3 591.7 1294.4 590.5 1296.9 589.4 1296.9 588.3 1297.2 587.1 1298.4 586 1299.3 584.9 1296 583.7 1295 582.6 1296.1 581.5 1298 580.3 1299.5 579.2 1297.8 578.1 1296.6 576.9 1298.9 575.8 1298.9 574.7 1298.7 573.5 1293.9 572.4 1294 571.3 1294.3 570.2 1295.2 569 1293.3 567.9 1294.5 566.8 1297 565.6 1298.5 564.5 1296.4 563.4 1298.6 562.2 1300.8 561.1 1298.8 560 1300.1 558.8 1297.9 557.7 1295.9 556.6 1295.4 555.4 1296.3 554.3 1300.1 553.2 1297.3 552 1295.8 550.9 1297 549.8 1296.5 548.6 1298.8 547.5 1297.2 546.4 1294.6 545.2 1296.7 544.1 1299.2 543 1299.5 541.8 1300.3 540.7 1297.9 539.6 1296.2 538.4 1294.8 537.3 1298.3 536.2 1300.3 535 1300.1 533.9 1297.7 532.8 1301.5 531.6 1303.6 530.5 1302.1 529.4 1302.8 528.2 1301 527.1 1299.6 526 1301.2 524.8 1300.4 523.7 1295.7 522.6 1295 521.4 1298.3 520.3 1299.3 519.2 1297.2 518 1297.9 516.9 1300.3 515.8 1298 514.6 1296.5 513.5 1297.1 512.4 1297 511.2 1298.9 510.1 1298.2 509 1298.1 507.8 1295.6 506.7 1293.8 505.6 1295.1 504.4 1298.5 503.3 1299.6 502.2 1295.9 501 1293.9 499.9 1291.6 498.8 1292.1 497.6 1290.9 496.5 1291.9 495.4 1292.5 494.2 1289.8 493.1 1288.5 492 1287.7 490.8 1290.2 489.7 1287.5 488.6 1287.7 487.4 1287.3 486.3 1285 485.2 1287 484 1286.2 482.9 1284.3 481.8 1284.4 480.6 1286.1 479.5 1284.2 478.4 1282.9 477.2 1282 476.1 1286 475 1285.4 473.8 1283.6 472.7 1281.9 471.6 1284.8 470.4 1286.1 469.3 1286.9 468.2 1282.8 467.1 1282.4 465.9 1285.4 464.8 1286.8 463.7 1286.5 462.5 1284.4 461.4 1283.9 460.3 1283.9 459.1 1282 458 1279.1 456.9 1278 455.7 1277.2 454.6 1276.4 453.5 1276.8 452.3 1276.9 451.2 1272.5 450.1 1271.7 448.9 1271.9 447.8 1270.3 446.7 1268.2 445.5 1269.9 444.4 1268.9 443.3 1269 442.1 1271.1 441 1271.1 439.9 1267.6 438.7 1270.6 437.6 1272.1 436.5 1266.5 435.3 1266.4 434.2 1270.5 433.1 1271.1 431.9 1270.9 430.8 1268.8 429.7 1267.7 428.5 1267.4 427.4 1266.2 426.3 1267.9 425.1 1266.8 424 1268 422.9 1269 421.7 1267.8 420.6 1265.1 419.5 1262.5 418.3 1263.2 417.2 1266.3 416.1 1264.3 414.9 1266.5 413.8 1267.5 412.7 1263 411.5 1264.4 410.4 1263.1 409.3 1262.7 408.1 1260.4 407 1257.9 405.9 1262.7 404.7 1260.5 403.6 1261.3 402.5 1260.9 401.3 1261.8 400.2 1261.1 399.1 1264.3 397.9 1264 396.8 1263.8 395.7 1263.1 394.5 1259.2 393.4 1258 392.3 1258.4 391.1 1259.9 390 1258.9 388.9 1258.3 387.7 1254.3 386.6 1253.4 385.5 1250.6 384.3 1251.2 383.2 1249.2 382.1 1245.2 380.9 1243.3 379.8 1242.3 378.7 1240.9 377.5 1241 376.4 1241 375.3 1236.9 374.1 1235 373 1234.7 371.9 1233 370.7 1234.1 369.6 1232.1 368.5 1230.2 367.3 1226.9 366.2 1227.2 365.1 1223 364 1221.9 362.8 1218.8 361.7 1220.5 360.6 1217.4 359.4 1218.4 358.3 1217 357.2 1214.8 356 1212.1 354.9 1208.5 353.8 1207.4 352.6 1208.4 351.5 1210.8 350.4 1213 349.2 1209.7 348.1 1207.5 347 1205.9 345.8 1207 344.7 1203.3 343.6 1202.2 342.4 1201.9 341.3 1201 340.2 1196.1 339 1194.7 337.9 1198.5 336.8 1197.6 335.6 1202.7 334.5 1202 333.4 1197.1 332.2 1193.9 331.1 1195.4 330 1192.8 328.8 1194.2 327.7 1191 326.6 1191.6 325.4 1194.1 324.3 1195.6 323.2 1194.3 322 1192.4 320.9 1189.7 319.8 1182.8 318.6 1181.8 317.5 1177.7 316.4 1176.2 315.2 1176.3 314.1 1174.5 313 1175.9 311.8 1177 310.7 1172.7 309.6 1171.4 308.4 1165.3 307.3 1167.9 306.2 1169.9 305 1162.4 303.9 1161.6 302.8 1161.6 301.6 1161.1 300.5 1158.6 299.4 1157 298.2 1153.4 297.1 1154.7 296 1155.4 294.8 1154.4 293.7 1151.4 292.6 1150.5 291.4 1150.3 290.3 1149.1 289.2 1148.8 288 1150 286.9 1138.3 285.8 1132.8 284.6 1127.2 283.5 1131.9 282.4 1126.7 281.2 1129.2 280.1 1130.4 279 1129 277.8 1122.9 276.7 1120.4 275.6 1119.3 274.4 1122.8 273.3 1119.4 272.2 1122.3 271 1114.3 269.9 1114.4 268.8 1109.5 267.6 1105.7 266.5 1104.1 265.4 1106.8 264.2 1101.7 263.1 1093.3 262 1091.1 260.8 1095.4 259.7 1094.7 258.6 1094.4 257.5 1095.3 256.3 1091.3 255.2 1092.1 254.1 1091.3 252.9 1086.8 251.8 1082.9 250.7 1084.3 249.5 1081.7 248.4 1078.8 247.3 1077 246.1 1082.4 245 1081.7 243.9 1076.1 242.7 1073.6 241.6 1063.1 240.5 1062.8 239.3 1062.8 238.2 1063.1 237.1 1059.5 235.9 1061.5 234.8 1059.1 233.7 1055.9 232.5 1051.4 231.4 1048.3 230.3 1041.9 229.1 1043 228 1040.8 226.9 1038.4 225.7 1038 224.6 1032.7 223.5 1030.4 222.3 1023.9 221.2 1018.6 220.1 1020.4 218.9 1018.8 217.8 1013.8 216.7 1008.5 215.5 1008.2 214.4 1006.3 213.3 1006.1 212.1 998.1 211 991.9 209.9 986.3 208.7 986.7 207.6 989.9Z" fill="#474747"/>
<path d="M207.6 985.7 208.2 967.3 208.7 985.1 209.3 976.7 209.9 952.3 210.4 997.2 211 983.6 211.6 995.6 212.1 1013.1 212.7 998.2 213.3 984.9 213.8 992.1 214.4 1015.1 215 987.6 215.5 1009.2 216.1 1010.5 216.7 995.8 217.2 1014.1 217.8 1015.9 218.4 1002.1 218.9 1008.4 219.5 1021.4 220.1 1001.5 220.6 1006.8 221.2 1027.1 221.8 1018.3 222.3 1003.4 222.9 1019.6 223.5 1041.7 224 1007 224.6 1032.3 225.2 1032.1 225.7 1026 226.3 1036 226.9 1022.8 227.4 1044.2 228 1049.3 228.6 1022.1 229.1 1030.2 229.7 1035.4 230.3 1031.8 230.8 1040.8 231.4 1020 232 1045.5 232.5 1039.7 233.1 1043.7 233.7 1052.9 234.2 1059 234.8 1042.2 235.4 1058.5 235.9 1069 236.5 1054.7 237.1 1082.9 237.6 1049.4 238.2 1051.3 238.8 1061 239.3 1050.8 239.9 1072 240.5 1062.6 241 1075.3 241.6 1048.8 242.2 1051.3 242.7 1073.7 243.3 1053.3 243.9 1075.9 244.4 1059 245 1069.8 245.6 1082.4 246.1 1073.5 246.7 1064.3 247.3 1072.5 247.8 1090.1 248.4 1085.1 249 1090.7 249.5 1086.3 250.1 1090.4 250.7 1085 251.2 1077.9 251.8 1096.9 252.4 1090.9 252.9 1056.1 253.5 1087.8 254.1 1097.2 254.6 1120.9 255.2 1075.5 255.8 1090.1 256.3 1093.7 256.9 1094.4 257.5 1080.3 258 1091.6 258.6 1083.2 259.2 1087.6 259.7 1085.3 260.3 1094.5 260.8 1090.4 261.4 1100.3 262 1098.7 262.5 1108.9 263.1 1130.7 263.7 1103.1 264.2 1098 264.8 1102.8 265.4 1099.1 265.9 1089.1 266.5 1101.2 267.1 1097.8 267.6 1110.5 268.2 1099.9 268.8 1116.4 269.3 1110 269.9 1098.1 270.5 1102 271 1100.6 271.6 1104.6 272.2 1116.8 272.7 1107.1 273.3 1111.1 273.9 1107.6 274.4 1127.5 275 1113.1 275.6 1115.2 276.1 1110.7 276.7 1121.4 277.3 1113.5 277.8 1115.9 278.4 1103.1 279 1108.7 279.5 1127.4 280.1 1133.9 280.7 1114.7 281.2 1131.5 281.8 1132 282.4 1155.3 282.9 1121.4 283.5 1124 284.1 1121.6 284.6 1138 285.2 1142.5 285.8 1130.8 286.3 1147.6 286.9 1152.7 287.5 1132.3 288 1140.6 288.6 1138.9 289.2 1136.2 289.7 1137.6 290.3 1138.9 290.9 1131.9 291.4 1143.1 292 1153.2 292.6 1141.3 293.1 1146.8 293.7 1142.5 294.3 1153.7 294.8 1148.6 295.4 1156.2 296 1144.7 296.5 1135.4 297.1 1152.1 297.7 1145.3 298.2 1157.4 298.8 1155 299.4 1128.5 299.9 1137.5 300.5 1157.1 301.1 1152.7 301.6 1141.8 302.2 1155.1 302.8 1168.4 303.3 1164.4 303.9 1151.5 304.5 1160.3 305 1164.5 305.6 1154.2 306.2 1171 306.7 1153.1 307.3 1177.3 307.9 1177 308.4 1168 309 1165.6 309.6 1167.2 310.1 1162 310.7 1178.5 311.3 1180.3 311.8 1175.2 312.4 1173.5 313 1169 313.5 1156.1 314.1 1167 314.7 1152.4 315.2 1178 315.8 1169.4 316.4 1185.5 316.9 1173 317.5 1189.4 318.1 1191.2 318.6 1192 319.2 1188.8 319.8 1176.7 320.3 1176.3 320.9 1173.8 321.5 1181.2 322 1193.2 322.6 1175.9 323.2 1204.7 323.7 1181.6 324.3 1177.7 324.9 1189.7 325.4 1196.9 326 1184.4 326.6 1180.7 327.1 1203 327.7 1176.8 328.3 1193.5 328.8 1189.2 329.4 1185.9 330 1189.8 330.5 1182.1 331.1 1175.6 331.7 1193.2 332.2 1183.4 332.8 1188.5 333.4 1206.7 333.9 1207.6 334.5 1202.1 335.1 1201.8 335.6 1191.8 336.2 1196 336.8 1190.7 337.3 1175.5 337.9 1197 338.5 1197.1 339 1203.6 339.6 1186.9 340.2 1212.3 340.7 1193 341.3 1186.7 341.9 1195.5 342.4 1205.4 343 1199.2 343.6 1201 344.1 1192.5 344.7 1203.6 345.3 1205.6 345.8 1193.5 346.4 1203.9 347 1181.9 347.5 1199.9 348.1 1180.2 348.7 1203.1 349.2 1200.4 349.8 1193.2 350.4 1204.4 350.9 1194.9 351.5 1203 352.1 1197.6 352.6 1209.2 353.2 1202.1 353.8 1217.9 354.3 1215.1 354.9 1213.4 355.5 1200.3 356 1196 356.6 1205.8 357.2 1225 357.7 1206.9 358.3 1222.7 358.9 1223.4 359.4 1210.5 360 1213.8 360.6 1226.7 361.1 1217 361.7 1217 362.3 1215.6 362.8 1222.6 363.4 1223.5 364 1233.7 364.5 1228 365.1 1233.7 365.6 1225.1 366.2 1243.5 366.8 1226.8 367.3 1227 367.9 1222.5 368.5 1216.8 369 1222.2 369.6 1229.5 370.2 1223.3 370.7 1236.3 371.3 1220.5 371.9 1212.8 372.4 1236.7 373 1236.4 373.6 1226.4 374.1 1241.3 374.7 1243.5 375.3 1236.4 375.8 1225.7 376.4 1243.3 377 1233.1 377.5 1234.1 378.1 1240.1 378.7 1231.2 379.2 1247.1 379.8 1235.6 380.4 1248.6 380.9 1247.4 381.5 1256.1 382.1 1248.4 382.6 1251.5 383.2 1244.1 383.8 1247 384.3 1245 384.9 1254.8 385.5 1246.1 386 1260 386.6 1247.6 387.2 1241.1 387.7 1245.3 388.3 1258.3 388.9 1247.7 389.4 1255.7 390 1241.2 390.6 1254.3 391.1 1258.8 391.7 1258.8 392.3 1261.1 392.8 1249.1 393.4 1245 394 1247.9 394.5 1261.1 395.1 1258.5 395.7 1262.6 396.2 1254.2 396.8 1262.9 397.4 1246.4 397.9 1260.6 398.5 1250.7 399.1 1254.4 399.6 1262.9 400.2 1264.2 400.8 1257.6 401.3 1256.6 401.9 1266.1 402.5 1265.9 403 1254.4 403.6 1262 404.2 1261 404.7 1268.3 405.3 1264.5 405.9 1262.6 406.4 1260.3 407 1256.9 407.6 1267.2 408.1 1262.8 408.7 1244.9 409.3 1256.1 409.8 1259.6 410.4 1250.2 411 1253.5 411.5 1256.1 412.1 1262.2 412.7 1253.6 413.2 1262.5 413.8 1268.8 414.4 1266.1 414.9 1266.7 415.5 1261.3 416.1 1270.6 416.6 1261.9 417.2 1268.4 417.8 1256.7 418.3 1272.1 418.9 1258.1 419.5 1264.9 420 1271.4 420.6 1264.6 421.2 1261.3 421.7 1264.8 422.3 1271.7 422.9 1272.3 423.4 1268.5 424 1260.6 424.6 1260.7 425.1 1269.1 425.7 1269.7 426.3 1261.1 426.8 1261.8 427.4 1271.1 428 1273.9 428.5 1269.3 429.1 1261 429.7 1279 430.2 1267.5 430.8 1270.3 431.4 1253.6 431.9 1260.7 432.5 1264 433.1 1266.5 433.6 1254.6 434.2 1254.3 434.8 1253.3 435.3 1262.4 435.9 1266.2 436.5 1267.8 437 1256.4 437.6 1262.4 438.2 1266.2 438.7 1273.3 439.3 1273.6 439.9 1270.6 440.4 1258.5 441 1275.2 441.6 1266.6 442.1 1269.4 442.7 1261.8 443.3 1268.5 443.8 1268.8 444.4 1267.1 445 1263.8 445.5 1273.5 446.1 1274.2 446.7 1265.4 447.2 1262 447.8 1258 448.4 1263.6 448.9 1273 449.5 1265.2 450.1 1276.6 450.6 1258.6 451.2 1259.7 451.8 1261.6 452.3 1262.9 452.9 1270.2 453.5 1279.5 454 1265.8 454.6 1273.4 455.2 1280 455.7 1286.1 456.3 1274.9 456.9 1281.7 457.4 1284.4 458 1278.2 458.6 1280.9 459.1 1275.6 459.7 1272.2 460.3 1274 460.8 1285 461.4 1285.9 462 1280.4 462.5 1272 463.1 1284.6 463.7 1279.6 464.2 1288.4 464.8 1282.5 465.4 1275.1 465.9 1279 466.5 1276.7 467.1 1287.9 467.6 1265.7 468.2 1275.6 468.7 1276.4 469.3 1266.6 469.9 1280 470.4 1281.3 471 1283.8 471.6 1284 472.1 1279.3 472.7 1285.1 473.3 1278.4 473.8 1280.6 474.4 1280.7 475 1278.3 475.5 1281.5 476.1 1275.1 476.7 1278.7 477.2 1275.6 477.8 1280.6 478.4 1281.6 478.9 1277.6 479.5 1290.7 480.1 1294.9 480.6 1287.1 481.2 1284.6 481.8 1280.5 482.3 1282.9 482.9 1282.6 483.5 1287.8 484 1283.7 484.6 1287.5 485.2 1286.5 485.7 1281 486.3 1276.8 486.9 1278.7 487.4 1280.4 488 1287.4 488.6 1294.2 489.1 1283.2 489.7 1293.4 490.3 1289.4 490.8 1296.6 491.4 1302.3 492 1296.3 492.5 1292.6 493.1 1293.1 493.7 1298 494.2 1288.3 494.8 1286.8 495.4 1290.4 495.9 1299.2 496.5 1286.6 497.1 1297.3 497.6 1296.3 498.2 1289.7 498.8 1288.1 499.3 1283.8 499.9 1285.4 500.5 1295 501 1298.6 501.6 1290.8 502.2 1290.3 502.7 1288.4 503.3 1306.6 503.9 1284.9 504.4 1284.5 505 1297.9 505.6 1285.2 506.1 1295.9 506.7 1286.2 507.3 1295.8 507.8 1298 508.4 1287.5 509 1289.6 509.5 1284.2 510.1 1294.2 510.7 1286.9 511.2 1283.6 511.8 1291.8 512.4 1292.3 512.9 1292.9 513.5 1290.8 514.1 1303.1 514.6 1290.5 515.2 1290.4 515.8 1295 516.3 1300 516.9 1294.1 517.5 1292.2 518 1287.7 518.6 1289.5 519.2 1290 519.7 1303.8 520.3 1282.7 520.9 1290.4 521.4 1292.3 522 1287.7 522.6 1287.7 523.1 1297.5 523.7 1303.2 524.3 1302 524.8 1296.8 525.4 1294.3 526 1299.8 526.5 1286.5 527.1 1292.1 527.7 1304 528.2 1299.6 528.8 1297.5 529.4 1294.9 529.9 1294.7 530.5 1293.1 531.1 1301.4 531.6 1303.4 532.2 1303 532.8 1285.8 533.3 1305.1 533.9 1302.7 534.5 1307.7 535 1295.7 535.6 1286.8 536.2 1290 536.7 1290.7 537.3 1307.7 537.9 1292.3 538.4 1293 539 1301.1 539.6 1301.1 540.1 1300.2 540.7 1290.8 541.3 1305.5 541.8 1297.1 542.4 1288.6 543 1295.2 543.5 1286.2 544.1 1287.6 544.7 1290 545.2 1288.5 545.8 1292.8 546.4 1290.4 546.9 1292.1 547.5 1290.3 548.1 1301.8 548.6 1290.3 549.2 1292 549.8 1290.1 550.3 1291.3 550.9 1287.1 551.5 1307 552 1294.4 552.6 1300.1 553.2 1293.2 553.7 1287.4 554.3 1292.6 554.9 1291.7 555.4 1288.2 556 1297.5 556.6 1304.5 557.1 1295.4 557.7 1299.7 558.3 1302.6 558.8 1284.4 559.4 1303.6 560 1280.2 560.5 1302.4 561.1 1292.9 561.7 1295.6 562.2 1305.2 562.8 1298.9 563.4 1283.7 563.9 1282.7 564.5 1287.7 565.1 1298.7 565.6 1297 566.2 1304.1 566.8 1296.8 567.3 1301.4 567.9 1289.7 568.5 1285.3 569 1288.7 569.6 1299.8 570.2 1288.6 570.7 1280.8 571.3 1290.3 571.9 1301.9 572.4 1296.8 573 1291.9 573.5 1290.6 574.1 1283.2 574.7 1293 575.2 1305.3 575.8 1291.4 576.4 1303.2 576.9 1285.7 577.5 1291.6 578.1 1292.2 578.6 1293.6 579.2 1283.3 579.8 1300.9 580.3 1292.5 580.9 1283.7 581.5 1299.4 582 1298.5 582.6 1290 583.2 1295.2 583.7 1301.5 584.3 1302.5 584.9 1298.6 585.4 1292.5 586 1297.6 586.6 1304.1 587.1 1307.8 587.7 1299.8 588.3 1301.7 588.8 1301.7 589.4 1296.6 590 1287.3 590.5 1294.5 591.1 1295.5 591.7 1295.7 592.2 1294.3 592.8 1289.9 593.4 1286.3 593.9 1291.8 594.5 1282 595.1 1287.3 595.6 1280.7 596.2 1286.8 596.8 1288.9 597.3 1284.2 597.9 1285 598.5 1286.1 599 1279.5 599.6 1276.3 600.2 1278.1 600.7 1286.7 601.3 1278.8 601.9 1285.7 602.4 1273.6 603 1292.9 603.6 1287.2 604.1 1278.1 604.7 1282.7 605.3 1293.2 605.8 1283.5 606.4 1273.9 607 1279.8 607.5 1280.2 608.1 1287.9 608.7 1285.6 609.2 1277.2 609.8 1287 610.4 1292.5 610.9 1294.8 611.5 1289.3 612.1 1298.6 612.6 1295.4 613.2 1291.2 613.8 1296 614.3 1274.7 614.9 1300.2 615.5 1296.5 616 1288.2 616.6 1293.9 617.2 1285.3 617.7 1288.7 618.3 1287.8 618.9 1282.9 619.4 1285.4 620 1276.3 620.6 1285 621.1 1295.2 621.7 1296.4 622.3 1285.5 622.8 1295.4 623.4 1289.1 624 1279.2 624.5 1284.2 625.1 1289.5 625.7 1288.3 626.2 1292.1 626.8 1284.6 627.4 1284.7 627.9 1294 628.5 1289.6 629.1 1291 629.6 1288.7 630.2 1291.4 630.8 1292.8 631.3 1280.2 631.9 1295.1 632.5 1282.8 633 1289.4 633.6 1284.9 634.2 1289.3 634.7 1285.8 635.3 1288.7 635.9 1286.6 636.4 1284.9 637 1287.5 637.6 1287.7 638.1 1282.8 638.7 1272.5 639.3 1290.8 639.8 1295 640.4 1282.7 641 1290.8 641.5 1284.9 642.1 1288.8 642.7 1291.3 643.2 1287.8 643.8 1283.9 644.4 1274.3 644.9 1285.2 645.5 1286.3 646.1 1291.8 646.6 1280.2 647.2 1284.6 647.8 1287.4 648.3 1294.2 648.9 1280.5 649.5 1292.9 650 1287 650.6 1282.4 651.2 1279.3 651.7 1282.6 652.3 1291.6 652.9 1283.9 653.4 1281.5 654 1285 654.6 1294.5 655.1 1292.6 655.7 1291.8 656.3 1292.9 656.8 1290.8 657.4 1284.7 658 1280.9 658.5 1295 659.1 1285.8 659.7 1287.8 660.2 1282.4 660.8 1288.2 661.4 1291.4 661.9 1280.7 662.5 1282.6 663.1 1280.1 663.6 1282.7 664.2 1278.5 664.8 1277.7 665.3 1275.1 665.9 1279.4 666.5 1277.7 667 1285.8 667.6 1279.3 668.2 1290 668.7 1275.1 669.3 1272.8 669.9 1284.8 670.4 1282 671 1268.6 671.6 1289.2 672.1 1272.6 672.7 1280.6 673.3 1272.6 673.8 1279.6 674.4 1282.2 675 1273.3 675.5 1278.7 676.1 1285.1 676.7 1289.3 677.2 1283.1 677.8 1286.5 678.3 1282.1 678.9 1283.8 679.5 1284.2 680 1279.1 680.6 1263.2 681.2 1273.6 681.7 1287.2 682.3 1286.5 682.9 1283.9 683.4 1279.6 684 1278.9 684.6 1274 685.1 1288.1 685.7 1269.7 686.3 1289.1 686.8 1277.6 687.4 1295 688 1282.7 688.5 1277.4 689.1 1278.5 689.7 1273.8 690.2 1284.9 690.8 1275.3 691.4 1276 691.9 1267.9 692.5 1278.2 693.1 1262.1 693.6 1268.1 694.2 1279.9 694.8 1259.5 695.3 1272.9 695.9 1278.5 696.5 1270.4 697 1278.3 697.6 1277.8 698.2 1273 698.7 1259.9 699.3 1264.5 699.9 1268.9 700.4 1277.3 701 1270.2 701.6 1270.2 702.1 1263.7 702.7 1268.2 703.3 1272.9 703.8 1255.5 704.4 1269.7 705 1271.8 705.5 1267.1 706.1 1268.1 706.7 1265.6 707.2 1277.1 707.8 1264.3 708.4 1274.3 708.9 1270.4 709.5 1256 710.1 1264.4 710.6 1270.4 711.2 1272.5 711.8 1268 712.3 1267.7 712.9 1274.2 713.5 1277.9 714 1256.5 714.6 1263.9 715.2 1278.6 715.7 1267.9 716.3 1261.1 716.9 1277.3 717.4 1279.6 718 1266.2 718.6 1275.6 719.1 1268.3 719.7 1269.5 720.3 1273.5 720.8 1266.4 721.4 1266.6 722 1263.9 722.5 1252.2 723.1 1264.8 723.7 1271.2 724.2 1263 724.8 1262.3 725.4 1267 725.9 1257.3 726.5 1254.4 727.1 1265.2 727.6 1261.8 728.2 1270.5 728.8 1242.8 729.3 1259 729.9 1251.6 730.5 1270.8 731 1255.5 731.6 1263.6 732.2 1244.5 732.7 1252.9 733.3 1264.1 733.9 1256 734.4 1253.5 735 1262.4 735.6 1257.9 736.1 1257.2 736.7 1256.4 737.3 1253.1 737.8 1265.7 738.4 1260.7 739 1253.4 739.5 1253.2 740.1 1242 740.7 1246.9 741.2 1262.8 741.8 1247.4 742.4 1252.1 742.9 1264.6 743.5 1261.7 744.1 1255.9 744.6 1255.1 745.2 1249.6 745.8 1254 746.3 1251.1 746.9 1257.8 747.5 1252.4 748 1242.8 748.6 1256.8 749.2 1253.4 749.7 1254.6 750.3 1258.4 750.9 1254.5 751.4 1251.8 752 1260.4 752.6 1260.3 753.1 1250.4 753.7 1249.6 754.3 1252.3 754.8 1254.2 755.4 1247.7 756 1237.4 756.5 1253.1 757.1 1240.4 757.7 1238 758.2 1239.8 758.8 1245.5 759.4 1244.1 759.9 1217.7 760.5 1233.7 761.1 1234 761.6 1238.3 762.2 1241.7 762.8 1232.1 763.3 1251.4 763.9 1242.8 764.5 1244.8 765 1238.4 765.6 1223.9 766.2 1232.7 766.7 1219.7 767.3 1222.3 767.9 1226.9 768.4 1224.9 769 1227.1 769.6 1219.9 770.1 1231.5 770.7 1226.8 771.3 1216 771.8 1202.9 772.4 1199 773 1204.7 773.5 1211.1 774.1 1184.3 774.7 1185.8 775.2 1179.8 775.8 1168.1 776.4 1189.4 776.9 1188.6 777.5 1192.8 778.1 1185.4 778.6 1185 779.2 1202.2 779.8 1187.7 780.3 1198.2 780.9 1202.4 781.5 1196.7 782 1193.2 782.6 1198.4 783.1 1185.6 783.7 1195 784.3 1194.6 784.8 1187.4 785.4 1197 786 1205.8 786.5 1217.4 787.1 1193.7 787.7 1203.9 788.2 1204.1 788.8 1203 789.4 1202.2 789.9 1210.5 790.5 1213.3 791.1 1199.9 791.6 1218.8 792.2 1210.7 792.8 1217.3 793.3 1213.6 793.9 1226.9 794.5 1211.1 795 1218.7 795.6 1222.8 796.2 1216.3 796.7 1222.4 797.3 1228.2 797.9 1227.1 798.4 1218.5 799 1217 799.6 1227.7 800.1 1222.6 800.7 1216.2 801.3 1230.6 801.8 1223.7 802.4 1222 803 1236.5 803.5 1234.5 804.1 1223.9 804.7 1233.4 805.2 1224.7 805.8 1226.2 806.4 1222.9 806.9 1235.3 807.5 1227.2 808.1 1231.9 808.6 1218.6 809.2 1224.7 809.8 1215.9 810.3 1222.9 810.9 1224.5 811.5 1226.3 812 1217.3 812.6 1236.6 813.2 1219.5 813.7 1239.4 814.3 1231.4 814.9 1239.8 815.4 1220 816 1233 816.6 1234.5 817.1 1245.9 817.7 1232.9 818.3 1241.1 818.8 1232.4 819.4 1240.8 820 1231.9 820.5 1232.7 821.1 1240.5 821.7 1227.8 822.2 1225.4 822.8 1237 823.4 1249.5 823.9 1243 824.5 1230.8 825.1 1232.5 825.6 1228.1 826.2 1230.5 826.8 1234 827.3 1217.9 827.9 1219 828.5 1217.7 829 1227.2 829.6 1243.2 830.2 1236.8 830.7 1230.7 831.3 1236.1 831.9 1237.7 832.4 1247.3 833 1245.2 833.6 1244.4 834.1 1257.2 834.7 1244.9 835.3 1248.6 835.8 1232.4 836.4 1231.6 837 1234 837.5 1251.9 838.1 1229.9 838.7 1236.6 839.2 1239.7 839.8 1228.8 840.4 1228.3 840.9 1253.3 841.5 1239 842.1 1237.8 842.6 1240 843.2 1237.3 843.8 1226.7 844.3 1223.6 844.9 1232.4 845.5 1225.6 846 1230.3 846.6 1221.4 847.2 1246 847.7 1231.5 848.3 1241.3 848.9 1223.5 849.4 1225.1 850 1222.3 850.6 1228.1 851.1 1228.5 851.7 1220.1 852.3 1215.4 852.8 1218.3 853.4 1221.1 854 1226.8 854.5 1208.4 855.1 1211.7 855.7 1216.7 856.2 1219.3 856.8 1201.7 857.4 1204 857.9 1195.2 858.5 1191 859.1 1191.8 859.6 1185.2 860.2 1185.7 860.8 1185.6 861.3 1200.6 861.9 1192.1 862.5 1205.2 863 1195.2 863.6 1199.4 864.2 1193.1 864.7 1202.3 865.3 1213.5 865.9 1215.8 866.4 1198.6 867 1227.9 867.6 1216 868.1 1221 868.7 1226.1 869.3 1221.8 869.8 1216.3 870.4 1224 871 1221 871.5 1236.1 872.1 1222.1 872.7 1205.3 873.2 1230.9 873.8 1226.6 874.4 1223.2 874.9 1210.6 875.5 1246.2 876.1 1221 876.6 1219.3 877.2 1219.1 877.8 1224.6 878.3 1220.6 878.9 1225 879.5 1224.4 880 1220.2 880.6 1233.6 881.2 1210.8 881.7 1225.6 882.3 1219.2 882.9 1217 883.4 1222.4 884 1216 884.6 1214.3 885.1 1207.8 885.7 1205.1 886.2 1198.4 886.8 1199.6 887.4 1204.2 887.9 1211.3 888.5 1202.5 889.1 1206.9 889.6 1198.7 890.2 1195.1 890.8 1205.4 891.3 1222.9 891.9 1196 892.5 1213.8 893 1197.1 893.6 1196.7 894.2 1199.3 894.7 1200.4 895.3 1212.9 895.9 1208.7 896.4 1207.1 897 1202.7 897.6 1212.1 898.1 1218.1 898.7 1205.8 899.3 1199 899.8 1191.8 900.4 1196.2 901 1187.5 901.5 1204.5 902.1 1187.5 902.7 1199.2 903.2 1172.2 903.8 1193.4 904.4 1188.4 904.9 1186.7 905.5 1182.2 906.1 1169.4 906.6 1194 907.2 1161.8 907.8 1179.4 908.3 1166.8 908.9 1156.6 909.5 1168.2 910 1178.7 910.6 1163 911.2 1143 911.7 1143.9 912.3 1151.2 912.9 1148.6 913.4 1150.6 914 1139.9 914.6 1125 915.1 1126.9 915.7 1134.6 916.3 1123.5 916.8 1120.9 917.4 1133.2 918 1135.6 918.5 1118.8 919.1 1120.2 919.7 1119.6 920.2 1125.7 920.8 1115 921.4 1107.2 921.9 1100.1 922.5 1079.8 923.1 1089.6 923.6 1083.7 924.2 1066.2 924.8 1061.6 925.3 1056.6 925.9 1052.4 926.5 1047.3 927 1053.7 927.6 1053 928.2 1052.5 928.7 1032.5 929.3 1039.8 929.9 1024.8 930.4 1046.2 931 1018.1 931.6 1024.8 932.1 1039.8 932.7 1013.7 933.3 1027.5 933.8 1015.3 934.4 1033.8 935 1028.7 935.5 1033.7 936.1 1037.7 936.7 1054 937.2 1053.9 937.8 1065.3 938.4 1071 938.9 1064.4 939.5 1076.1 940.1 1087.2 940.6 1084.7 941.2 1087.4 941.8 1089.5 942.3 1091 942.9 1100.5 943.5 1105.8 944 1129.5 944.6 1115 945.2 1114.4 945.7 1129.1 946.3 1131.2 946.9 1136.8 947.4 1151.7 948 1149.2 948.6 1147.2 949.1 1162.7 949.7 1177.1 950.3 1177 950.8 1175.7 951.4 1179.9 952 1179.3 952.5 1191.6 953.1 1187.1 953.7 1195.1 954.2 1193.5 954.8 1197.8 955.4 1183.3 955.9 1197.4 956.5 1194.5 957.1 1199.6 957.6 1202.9 958.2 1193.4 958.8 1198.6 959.3 1206.1 959.9 1205.6 960.5 1213.2 961 1208.9 961.6 1187.4 962.2 1210.5 962.7 1206.4 963.3 1209 963.9 1213.9 964.4 1209.5 965 1210.8 965.6 1202.1 966.1 1212.3 966.7 1225 967.3 1221.3 967.8 1209.8 968.4 1203.2 969 1219.3 969.5 1227.1 970.1 1219.1 970.7 1232.7 971.2 1239.4 971.8 1218.6 972.4 1239.7 972.9 1240.8 973.5 1216.2 974.1 1218.6 974.6 1227.5 975.2 1229.2 975.8 1225.8 976.3 1231.6 976.9 1238.3 977.5 1228.2 978 1219.9 978.6 1231.2 979.2 1238.8 979.7 1243.5 980.3 1241.3 980.9 1216.5 981.4 1227 982 1233.8 982.6 1232.1 983.1 1240.2 983.7 1240 984.3 1243.8 984.8 1248.6 985.4 1235.5 986 1251.5 986.5 1224.8 987.1 1234.3 987.7 1231.9 988.2 1235.4 988.8 1244.8 989.4 1253.4 989.9 1234.6 990.5 1253.6 991 1253.4 991.6 1247.4 992.2 1235.1 992.7 1253.7 993.3 1257.5 993.9 1243.6 994.4 1252 995 1261.8 995.6 1257.3 996.1 1263.3 996.7 1266.1 997.3 1250.4 997.8 1249.9 998.4 1263.7 999 1255.8 999.5 1262.7 1000.1 1262.1 1000.7 1255.9 1001.2 1267 1001.8 1264.5 1002.4 1258.3 1002.9 1259.6 1003.5 1259.9 1004.1 1267.8 1004.6 1272.7 1005.2 1269.6 1005.8 1265.2 1006.3 1258.6 1006.9 1267.8 1007.5 1266.3 1008 1262 1008.6 1259.6 1009.2 1273.3 1009.7 1273.3 1010.3 1247 1010.9 1269 1011.4 1265 1012 1272.9 1012.6 1256.8 1013.1 1267.3 1013.7 1257.4 1014.3 1258.1 1014.8 1260.3 1015.4 1264.3 1016 1258.3 1016.5 1247.5 1017.1 1262.4 1017.7 1257.8 1018.2 1257.6 1018.8 1249 1019.4 1258.1 1019.9 1268 1020.5 1270.5 1021.1 1267.9 1021.6 1259.7 1022.2 1270.2 1022.8 1258.4 1023.3 1269.8 1023.9 1261.4 1024.5 1256.3 1025 1268.6 1025.6 1267.5 1026.2 1267.3 1026.7 1262 1027.3 1261.9 1027.9 1276.5 1028.4 1269.8 1029 1281.4 1029.6 1279.8 1030.1 1263.5 1030.7 1266.2 1031.3 1250.6 1031.8 1267.4 1032.4 1263 1033 1268.2 1033.5 1266.3 1034.1 1264.1 1034.7 1258.9 1035.2 1264.1 1035.8 1277.1 1036.4 1273.8 1036.9 1282.9 1037.5 1276.2 1038.1 1269.3 1038.6 1268.1 1039.2 1281 1039.8 1248.5 1040.3 1271.7 1040.9 1270.1 1041.5 1258.8 1042 1278.1 1042.6 1270 1043.2 1269.3 1043.7 1264.2 1044.3 1269.3 1044.9 1271.5 1045.4 1277.8 1046 1270.4 1046.6 1285.3 1047.1 1268.1 1047.7 1273.5 1048.3 1268.2 1048.8 1277.9 1049.4 1269.9 1050 1280.7 1050.5 1278.8 1051.1 1275.9 1051.7 1264.9 1052.2 1274.6 1052.8 1275.7 1053.4 1281.6 1053.9 1270.4 1054.5 1284.4 1055.1 1284.9 1055.6 1278.6 1056.2 1280.8 1056.8 1275.1 1057.3 1282.8 1057.9 1269.7 1058.5 1271.1 1059 1291.4 1059.6 1275.5 1060.2 1275.1 1060.7 1271.6 1061.3 1274.2 1061.9 1277.7 1062.4 1270 1063 1266.6 1063.6 1272 1064.1 1283.8 1064.7 1271.6 1065.3 1288.6 1065.8 1279.1 1066.4 1277 1067 1270.8 1067.5 1275.8 1068.1 1289.8 1068.7 1263.7 1069.2 1271.9 1069.8 1278.3 1070.4 1275 1070.9 1270.4 1071.5 1265.7 1072.1 1273 1072.6 1255.4 1073.2 1286 1073.8 1262 1074.3 1254.4 1074.9 1265.5 1075.5 1263.8 1076 1261 1076.6 1253.9 1077.2 1259.3 1077.7 1268.4 1078.3 1265.7 1078.9 1268.8 1079.4 1262.6 1080 1255.4 1080.6 1261.7 1081.1 1263.1 1081.7 1263.6 1082.3 1265 1082.8 1266.2 1083.4 1268.4 1084 1270.8 1084.5 1262.3 1085.1 1274.2 1085.7 1272 1086.2 1267.4 1086.8 1272.9 1087.4 1270 1087.9 1272.9 1088.5 1260.5 1089.1 1260.6 1089.6 1278.1 1090.2 1270.6 1090.8 1281.3 1091.3 1282.2 1091.9 1275 1092.5 1286.5 1093 1270.9 1093.6 1278.2 1094.2 1268.8 1094.7 1278.1 1095.3 1284.4 1095.8 1278.3 1096.4 1280.1 1097 1270.3 1097.5 1276.7 1098.1 1270.7 1098.7 1277.2 1099.2 1272.2 1099.8 1281.8 1100.4 1280.3 1100.9 1280 1101.5 1282.9 1102.1 1286.6 1102.6 1279.1 1103.2 1274.6 1103.8 1272 1104.3 1289.5 1104.9 1281.9 1105.5 1273.8 1106 1274.2 1106.6 1287.3 1107.2 1277.5 1107.7 1287.5 1108.3 1286.4 1108.9 1276 1109.4 1273 1110 1271.5 1110.6 1281.4 1111.1 1268.6 1111.7 1279.7 1112.3 1276.1 1112.8 1290.5 1113.4 1279.2 1114 1276.9 1114.5 1286.8 1115.1 1276.5 1115.7 1286.1 1116.2 1278.8 1116.8 1277.6 1117.4 1279.4 1117.9 1278.9 1118.5 1273.3 1119.1 1285 1119.6 1278.1 1120.2 1273.3 1120.8 1285.3 1121.3 1279.6 1121.9 1287.2 1122.5 1265.6 1123 1284.7 1123.6 1277.5 1124.2 1286.7 1124.7 1276.5 1125.3 1274.1 1125.9 1270.9 1126.4 1275.7 1127 1263.4 1127.6 1270.8 1128.1 1266 1128.7 1284 1129.3 1272.8 1129.8 1267.4 1130.4 1251.9 1131 1269 1131.5 1266.2 1132.1 1268.7 1132.7 1268.3 1133.2 1262.9 1133.8 1259.5 1134.4 1264.3 1134.9 1264.4 1135.5 1261.8 1136.1 1262 1136.6 1264.4 1137.2 1257.5 1137.8 1265.5 1138.3 1256.9 1138.9 1258.7 1139.5 1254.4 1140 1258.6 1140.6 1272.6 1141.2 1258.4 1141.7 1255.2 1142.3 1253.6 1142.9 1250 1143.4 1245 1144 1239.1 1144.6 1251.5 1145.1 1254.3 1145.7 1256.2 1146.3 1241.5 1146.8 1248 1147.4 1254.8 1148 1249 1148.5 1256.3 1149.1 1257.3 1149.7 1244 1150.2 1255.2 1150.8 1248 1151.4 1241.1 1151.9 1248.3 1152.5 1243.2 1153.1 1237.1 1153.6 1251.5 1154.2 1250.7 1154.8 1250.7 1155.3 1249.6 1155.9 1239.7 1156.5 1248.1 1157 1259.1 1157.6 1254 1158.2 1253.2 1158.7 1255.8 1159.3 1254.7 1159.9 1257.2 1160.4 1258.3 1161 1256.1 1161.6 1259.6 1162.1 1261.5 1162.7 1261.6 1163.3 1276.5 1163.8 1258.9 1164.4 1256.5 1165 1264.1 1165.5 1246.4 1166.1 1277.2 1166.7 1264.8 1167.2 1267.5 1167.8 1270.8 1168.4 1277.4 1168.9 1270.2 1169.5 1276.8 1170.1 1274.4 1170.6 1276.5 1171.2 1280 1171.8 1274.5 1172.3 1287.2 1172.9 1279 1173.5 1284.3 1174 1277.1 1174.6 1279.4 1175.2 1274.9 1175.7 1283 1176.3 1278.9 1176.9 1276 1177.4 1274.3 1178 1291.7 1178.6 1283.6 1179.1 1284.2 1179.7 1287.2 1180.3 1284.2 1180.8 1290.4 1181.4 1282.1 1182 1285 1182.5 1299.4 1183.1 1276.6 1183.7 1283.6 1184.2 1280.6 1184.8 1293.7 1185.4 1284 1185.9 1286 1186.5 1287 1187.1 1283.4 1187.6 1285.9 1188.2 1285 1188.8 1293.7 1189.3 1284.1 1189.9 1296.1 1190.5 1291.6 1191 1294.5 1191.6 1297.4 1192.2 1294.1 1192.7 1291.8 1193.3 1286.5 1193.9 1289.4 1194.4 1292.7 1195 1295.2 1195.6 1292.7 1196.1 1291.8 1196.7 1303.9 1197.3 1296.9 1197.8 1298.3 1198.4 1290.7 1198.9 1293 1199.5 1292.7 1200.1 1290 1200.6 1294.6 1201.2 1295.5 1201.8 1291.4 1202.3 1292 1202.9 1300 1203.5 1280.3 1204 1292.9 1204.6 1301.8 1205.2 1298.8 1205.7 1297.9 1206.3 1304.3 1206.9 1301.4 1207.4 1299.5 1208 1292.2 1208.6 1289.9 1209.1 1292.6 1209.7 1304.1 1210.3 1295.5 1210.8 1297.9 1211.4 1305.6 1212 1298.6 1212.5 1302.7 1213.1 1293.5 1213.7 1297 1214.2 1297.3 1214.8 1296.5 1215.4 1290.2 1215.9 1293.7 1216.5 1303.2 1217.1 1300.6 1217.6 1302.7 1218.2 1295.4 1218.8 1309.3 1219.3 1297.1 1219.9 1298.3 1220.5 1303.4 1221 1298.7 1221.6 1302 1222.2 1308.4 1222.7 1304.8 1223.3 1300.5 1223.9 1309.4 1224.4 1299.1 1225 1300.6 1225.6 1304.2 1226.1 1304.4 1226.7 1291.6 1227.3 1303.4 1227.8 1298.1 1228.4 1292.6 1229 1292.6 1229.5 1294.5 1230.1 1292.4 1230.7 1305.1 1231.2 1306.8 1231.8 1299 1232.4 1300.6 1232.9 1300.6 1233.5 1307.2 1234.1 1303 1234.6 1316.1 1235.2 1302.6 1235.8 1308.1 1236.3 1293.6 1236.9 1296.9 1237.5 1302.2 1238 1300.7 1238.6 1299.6 1239.2 1298.4 1239.7 1296.1 1240.3 1303.3 1240.9 1300.9 1241.4 1306.5 1242 1298.4 1242.6 1304.5 1243.1 1307.6 1243.7 1307.5 1244.3 1300.8 1244.8 1304.1 1245.4 1321 1246 1292.9 1246.5 1306.1 1247.1 1306.1 1247.7 1302.5 1248.2 1293.5 1248.8 1302.1 1249.4 1299.4 1249.9 1302.1 1250.5 1300.1 1251.1 1299.9 1251.6 1305.6 1252.2 1299 1252.8 1310.1 1253.3 1308.4 1253.9 1306.1 1254.5 1309.5 1255 1311.7 1255.6 1306.2 1256.2 1313 1256.7 1322.8 1257.3 1310.9 1257.9 1312 1258.4 1305.9 1259 1307.7 1259.6 1302.9 1260.1 1314 1260.7 1301.6 1261.3 1306.8 1261.8 1300.4 1262.4 1304.5 1263 1299.1 1263.5 1300.1 1264.1 1312.9 1264.7 1312.2 1265.2 1308.7 1265.8 1308.3 1266.4 1309.7 1266.9 1304.2 1267.5 1311.6 1268.1 1318.7 1268.6 1304.3 1269.2 1322.8 1269.8 1312 1270.3 1319.7 1270.9 1313.5 1271.5 1305.3 1272 1304.4 1272.6 1317.3 1273.2 1316.6 1273.7 1306.2 1274.3 1321.9 1274.9 1310.5 1275.4 1326.5 1276 1308.6 1276.6 1316 1277.1 1312 1277.7 1308.1 1278.3 1315.4 1278.8 1308.4 1279.4 1307.2 1280 1312.7 1280.5 1305.7 1281.1 1305.7 1281.7 1310.8 1282.2 1314.7 1282.8 1318.6 1283.4 1320 1283.9 1312.5 1284.5 1321.9 1285.1 1315.3 1285.6 1313.5 1286.2 1319.8 1286.8 1321.2 1287.3 1314.3 1287.9 1312.5 1288.5 1316 1289 1312.7 1289.6 1305.7 1290.2 1312.3 1290.7 1311.6 1291.3 1312.7 1291.9 1314.4 1292.4 1317.6 1293 1305.8 1293.6 1311.4 1294.1 1315 1294.7 1299.7 1295.3 1317.3 1295.8 1312 1296.4 1325.6 1297 1314.8 1297.5 1307.3 1298.1 1313.1 1298.7 1311.2 1299.2 1314.7 1299.8 1304 1300.4 1313.9 1300.9 1310.9 1301.5 1309.6 1302.1 1313.8 1302.6 1310.9 1303.2 1318 1303.7 1309.7 1304.3 1311.7 1304.9 1305.3 1305.4 1304.4 1306 1315.5 1306.6 1306 1307.1 1303 1307.7 1303.7 1308.3 1302.7 1308.8 1305.5 1309.4 1307.3 1310 1317.2 1310.5 1309.4 1311.1 1312.1 1311.7 1318.5 1312.2 1304.8 1312.8 1305 1313.4 1299.4 1313.9 1312.6 1314.5 1307.9 1315.1 1289.8 1315.6 1312.6 1316.2 1312.1 1316.8 1292.5 1317.3 1297.6 1317.9 1306.1 1318.5 1296.1 1319 1298.9 1319.6 1302.5 1320.2 1299.7 1320.7 1293.8 1321.3 1300 1321.9 1303 1322.4 1294.4 1323 1309.1 1323.6 1298.8 1324.1 1299.6 1324.7 1290.5 1325.3 1293.3 1325.8 1296 1326.4 1308.6 1327 1296.8 1327.5 1309.9 1328.1 1310.5 1328.7 1302.5 1329.2 1307 1329.8 1316.7 1330.4 1306.5 1330.9 1299.8 1331.5 1307.7 1332.1 1313.6 1332.6 1318.7 1333.2 1316.1 1333.8 1327.1 1334.3 1319.8 1334.9 1316.8 1335.5 1320.6 1336 1321.5 1336.6 1318 1337.2 1319.7 1337.7 1319.1 1338.3 1318 1338.9 1317.4 1339.4 1311.1 1340 1315 1340.6 1310.7 1341.1 1318.2 1341.7 1315.3 1342.3 1308.9 1342.8 1313.4 1343.4 1312.8 1344 1307 1344.5 1310.9 1345.1 1315.1 1345.7 1321.7 1346.2 1314.6 1346.8 1318.4 1347.4 1321.2 1347.9 1319.2 1348.5 1314.5 1349.1 1316.4 1349.6 1312.4 1350.2 1311.4 1350.8 1313.5 1351.3 1314.8 1351.9 1319.2 1352.5 1317.2 1353 1320.6 1353.6 1306.8 1354.2 1313.7 1354.7 1314.8 1355.3 1309 1355.9 1302.4 1356.4 1316.4 1357 1325.4 1357.6 1309.6 1358.1 1314.7 1358.7 1323.9 1359.3 1314.3 1359.8 1314 1360.4 1304.1 1361 1314.7 1361.5 1319.2 1362.1 1320.2 1362.7 1313.4 1363.2 1319.7 1363.8 1306.9 1364.4 1309.3 1364.9 1312.5 1365.5 1314.6 1366.1 1317 1366.6 1310.1 1367.2 1300 1367.8 1320.8 1368.3 1320.6 1368.9 1314.9 1369.5 1310.2 1370 1310.5 1370.6 1313.2 1371.2 1306.5 1371.7 1314 1372.3 1311.4 1372.9 1305.3 1373.4 1312.1 1374 1313.3 1374.6 1320.3 1375.1 1311.4 1375.7 1318.5 1376.3 1306.7 1376.8 1308.7 1377.4 1312.4 1378 1306.8 1378.5 1311.7 1379.1 1306.1 1379.7 1306 1380.2 1307.4 1380.8 1314.3 1381.4 1310.1 1381.9 1307.9 1382.5 1319.3 1383.1 1311.6 1383.6 1315.8 1384.2 1314.6 1384.8 1317.9 1385.3 1313.3 1385.9 1309 1386.5 1314.9 1387 1316 1387.6 1317.2 1388.2 1316.5 1388.7 1315.2 1389.3 1307.6 1389.9 1317.5 1390.4 1317.5 1391 1312.9 1391.6 1313.8 1392.1 1312.8 1392.7 1318 1393.3 1303.5 1393.8 1310.9 1394.4 1316.1 1395 1305.5 1395.5 1311.2 1396.1 1322.2 1396.7 1308.2 1397.2 1314.3 1397.8 1308.8 1398.4 1314.9 1398.9 1311.2 1399.5 1315 1400.1 1305.7 1400.6 1319.8 1401.2 1313.5 1401.8 1313.7 1402.3 1309.6 1402.9 1312.3 1403.5 1310.3 1404 1315.2 1404.6 1311.6 1405.2 1312.4 1405.7 1321.1 1406.3 1320.2 1406.9 1322.7 1407.4 1319 1408 1306 1408.5 1316.1 1409.1 1317.2 1409.7 1316.1 1410.2 1315.6 1410.8 1314.5 1411.4 1309.8 1411.9 1310.1 1412.5 1305.9 1413.1 1312.4 1413.6 1295.5 1414.2 1298.9 1414.8 1310.2 1415.3 1298 1415.9 1308.7 1416.5 1308.3 1417 1313.3 1417.6 1303.7 1418.2 1302.4 1418.7 1306.3 1419.3 1305.1 1419.9 1301.6 1420.4 1301.2 1421 1306 1421.6 1307.3 1422.1 1293.6 1422.7 1307.2 1423.3 1305.9 1423.8 1299.6 1424.4 1296.7 1425 1297.7 1425.5 1291.9 1426.1 1302.2 1426.7 1301.1 1427.2 1301.3 1427.8 1303.4 1428.4 1294.8 1428.9 1306.2 1429.5 1301.6 1430.1 1303.1 1430.6 1301.9 1431.2 1302.1 1431.8 1308.4 1432.3 1300.6 1432.9 1299.9 1433.5 1294.5 1434 1294.4 1434.6 1288.1 1435.2 1295.6 1435.7 1294.5 1436.3 1294.5 1436.9 1296.5 1437.4 1290.5 1438 1298.3 1438.6 1284.2 1439.1 1298.4 1439.7 1296.3 1440.3 1288.9 1440.8 1290.6 1441.4 1291.7 1442 1284 1442.5 1287.8 1443.1 1291.6 1443.7 1288.7 1444.2 1282.2 1444.8 1275.4 1445.4 1285 1445.9 1285 1446.5 1288.3 1447.1 1283.1 1447.6 1271.8 1448.2 1270.6 1448.8 1267.6 1449.3 1277.7 1449.9 1272 1450.5 1271.8 1451 1268 1451.6 1262.2 1452.2 1271.1 1452.7 1261.6 1453.3 1261.6 1453.9 1267.7 1454.4 1276.3 1455 1281.1 1455.6 1278.1 1456.1 1277.6 1456.7 1282 1457.3 1284.4 1457.8 1285.4 1458.4 1275.2 1459 1277.2 1459.5 1295.7 1460.1 1276.3 1460.7 1271.8 1461.2 1280.8 1461.8 1281.7 1462.4 1282.9 1462.9 1299 1463.5 1297.4 1464.1 1290 1464.6 1309.1 1465.2 1295.3 1465.8 1300.9 1466.3 1297.3 1466.9 1297.7 1467.5 1304.8 1468 1310.3 1468.6 1308.6 1469.2 1301.7 1469.7 1300.3 1470.3 1309.1 1470.9 1294.6 1471.4 1300.4 1472 1296.9 1472.6 1300.5 1473.1 1301.4 1473.7 1299.2 1474.3 1298.6 1474.8 1306.7 1475.4 1316.7 1476 1308.8 1476.5 1306.6 1477.1 1302.8 1477.7 1310.1 1478.2 1309.2 1478.8 1318.1 1479.4 1305.2 1479.9 1315.4 1480.5 1301.9 1481.1 1311.6 1481.6 1309.8 1482.2 1304.4 1482.8 1296.7 1483.3 1306.9 1483.9 1306.6 1484.5 1311.8 1485 1310.7 1485.6 1314.7 1486.2 1299.2 1486.7 1312.4 1487.3 1305.1 1487.9 1306.5 1488.4 1292.2 1489 1304.3 1489.6 1301.7 1490.1 1301.5 1490.7 1313.9 1491.3 1297.4 1491.8 1299.4 1492.4 1303 1493 1304.6 1493.5 1296.4 1494.1 1297.5 1494.7 1303.6 1495.2 1293.1 1495.8 1306.1 1496.4 1300 1496.9 1293.9 1497.5 1305.5 1498.1 1305.4 1498.6 1306.3 1499.2 1303.8 1499.8 1305.9 1500.3 1301.1 1500.9 1294.3 1501.5 1301 1502 1302.1 1502.6 1301.6 1503.2 1304.2 1503.7 1311.4 1504.3 1305.1 1504.9 1304.5 1505.4 1304.6 1506 1297.4 1506.6 1311.9 1507.1 1301.3 1507.7 1306.4 1508.3 1305.9 1508.8 1309.9 1509.4 1309.3 1510 1299.2 1510.5 1308.9 1511.1 1298.3 1511.7 1300.2 1512.2 1288.7 1512.8 1300.5 1513.3 1298.1 1513.9 1299.9 1514.5 1294.6 1515 1294 1515.6 1300.9 1516.2 1297 1516.7 1302 1517.3 1291.9 1517.9 1288.5 1518.4 1298.6 1519 1298.1 1519.6 1297.5 1520.1 1298 1520.7 1294.6 1521.3 1293.3 1521.8 1290.4 1522.4 1295.8 1523 1293.1 1523.5 1292.1 1524.1 1285.1 1524.7 1288.9 1525.2 1293 1525.8 1293.7 1526.4 1281.9 1526.9 1291.4 1527.5 1281.2 1528.1 1288.3 1528.6 1280 1529.2 1273.9 1529.8 1283.7 1530.3 1268.8 1530.9 1276.3 1531.5 1272.3 1532 1275.8 1532.6 1275.2 1533.2 1273.4 1533.7 1277.1 1534.3 1262.8 1534.9 1273.7 1535.4 1276 1536 1261.6 1536.6 1261.3 1537.1 1265.9 1537.7 1261.6 1538.3 1277.1 1538.8 1270.1 1539.4 1261.7 1540 1261.5 1540.5 1272.2 1541.1 1258.8 1541.7 1256.6 1542.2 1269 1542.8 1262.1 1543.4 1251.7 1543.9 1254.8 1544.5 1241.8 1545.1 1254.1 1545.6 1264.5 1546.2 1246.7 1546.8 1250.3 1547.3 1246.2 1547.9 1243.4 1548.5 1246.1 1549 1243.2 1549.6 1241.8 1550.2 1249.9 1550.7 1250.8 1551.3 1251.7 1551.9 1254.7 1552.4 1254.5 1553 1256.4 1553.6 1255.8 1554.1 1252.6 1554.7 1260.4 1555.3 1259.7 1555.8 1256.9 1556.4 1266.1 1557 1270.7 1557.5 1278 1558.1 1265.4 1558.7 1279.3 1559.2 1271 1559.8 1278.3 1560.4 1292.5 1560.9 1281.8 1561.5 1282.4 1562.1 1280.1 1562.6 1291.2 1563.2 1281.8 1563.8 1287.6 1564.3 1286.5 1564.9 1289.9 1565.5 1294.1 1566 1288.8 1566.6 1294.9 1567.2 1292 1567.7 1282.2 1568.3 1277.8 1568.9 1283.9 1569.4 1283.8 1570 1293.3 1570.6 1286.9 1571.1 1291.7 1571.7 1281.6 1572.3 1294 1572.8 1300.7 1573.4 1293.1 1574 1289.1 1574.5 1293.4 1575.1 1295.6 1575.7 1296.1 1576.2 1296 1576.8 1298.9 1577.4 1293 1577.9 1295.7 1578.5 1294.9 1579.1 1294.2 1579.6 1286 1580.2 1295.9 1580.8 1298.4 1581.3 1289.9 1581.9 1304 1582.5 1294.9 1583 1296 1583.6 1299.2 1584.2 1298.1 1584.7 1304.1 1585.3 1304.8 1585.9 1286.4 1586.4 1297.5 1587 1302.9 1587.6 1301.9 1588.1 1304.2 1588.7 1301.2 1589.3 1298.2 1589.8 1292.9 1590.4 1309.5 1591 1302.4 1591.5 1301.2 1592.1 1302.3 1592.7 1298.8 1593.2 1299.8 1593.8 1304.9 1594.4 1302 1594.9 1289.1 1595.5 1300.6 1596.1 1298.6 1596.6 1300.7 1597.2 1299.6 1597.8 1307.7 1598.3 1295.5 1598.9 1305.7 1599.5 1304.4 1600 1297.8 1600.6 1286.1 1601.2 1300.9 1601.7 1287.3 1602.3 1307.9 1602.9 1305.6 1603.4 1288.3 1604 1301.1 1604.6 1298 1605.1 1296 1605.7 1295.3 1606.3 1308.3 1606.8 1294.6 1607.4 1292.5 1608 1306.7 1608.5 1300.5 1609.1 1292.3 1609.7 1316.2 1610.2 1302.4 1610.8 1296.3 1611.4 1326.5 1611.9 1304.6 1612.5 1304.2 1613.1 1300.4 1613.6 1306.9 1614.2 1305.2 1614.8 1304.2 1615.3 1311 1615.9 1303.9 1616.4 1299 1617 1295 1617.6 1304.5 1618.1 1301.3 1618.7 1296.1 1619.3 1304.5 1619.8 1301.5 1620.4 1294.7 1621 1289.9 1621.5 1296 1622.1 1294.8 1622.7 1300.5 1623.2 1302.9 1623.8 1305.9 1624.4 1290.5 1624.9 1299 1625.5 1302.8 1626.1 1303.2 1626.6 1301.4 1627.2 1298 1627.8 1299.7 1628.3 1305.6 1628.9 1299.4 1629.5 1296 1630 1304.3 1630.6 1305.2 1631.2 1295.6 1631.7 1298 1632.3 1293.9 1632.9 1300.8 1633.4 1303.3 1634 1299.5 1634.6 1291.2 1635.1 1294.8 1635.7 1300.6 1636.3 1309.2 1636.8 1301.7 1637.4 1300 1638 1306.5 1638.5 1297.8 1639.1 1297 1639.7 1294.7 1640.2 1306.4 1640.8 1303.9 1641.4 1296.5 1641.9 1298 1642.5 1290.6 1643.1 1292.5 1643.6 1298 1644.2 1300.3 1644.8 1283.5 1645.3 1302.5 1645.9 1298.2 1646.5 1288.5 1647 1295.8 1647.6 1292.9 1648.2 1291.2 1648.7 1290.5 1649.3 1290.6 1649.9 1292.5 1650.4 1293.5 1651 1298 1651.6 1292.4 1652.1 1289.4 1652.7 1294.5 1653.3 1296.7 1653.8 1295.1 1654.4 1300.5 1655 1294.4 1655.5 1288.1 1656.1 1298.1 1656.7 1298 1657.2 1294.3 1657.8 1292.7 1658.4 1285.9 1658.9 1290.3 1659.5 1292.2 1660.1 1288.8 1660.6 1282.6 1661.2 1290 1661.8 1284.3 1662.3 1289.1 1662.9 1288.7 1663.5 1291.5 1664 1282 1664.6 1288 1665.2 1289 1665.7 1288.5 1666.3 1293.4 1666.9 1281.7 1667.4 1291.1 1668 1292.4 1668.6 1286.2 1669.1 1280.1 1669.7 1283.4 1670.3 1284 1670.8 1283.6 1671.4 1287.9 1672 1285.5 1672.5 1267.7 1673.1 1287.2 1673.7 1272.4 1674.2 1277.8 1674.8 1272.6 1675.4 1284.6 1675.9 1278.2 1676.5 1286.7 1677.1 1275.8 1677.6 1281.3 1678.2 1288 1678.8 1278.6 1679.3 1286.4 1679.9 1281.1 1680.5 1278.2 1681 1270.5 1681.6 1276.5 1682.2 1285.4 1682.7 1271.7 1683.3 1271.8 1683.9 1276.2 1684.4 1263.7 1685 1265.5 1685.6 1265.4 1686.1 1259.2 1686.7 1262.9 1687.3 1266.1 1687.8 1262.6 1688.4 1259.8 1689 1258 1689.5 1245.8 1690.1 1254.5 1690.7 1244.1 1691.2 1253.8 1691.8 1243 1692.4 1251.4 1692.9 1241 1693.5 1239.5 1694.1 1231.4 1694.6 1241 1695.2 1240.4 1695.8 1243.5 1696.3 1232.1 1696.9 1227.3 1697.5 1239 1698 1220.4 1698.6 1226.4 1699.2 1240.5 1699.7 1230.6 1700.3 1223.8 1700.9 1227.6 1701.4 1234.5 1702 1224.7 1702.6 1221.2 1703.1 1227.1 1703.7 1213.6 1704.3 1218.1 1704.8 1223.8 1705.4 1206.6 1706 1211.2 1706.5 1221.8 1707.1 1213.8 1707.7 1224.2 1708.2 1213.2 1708.8 1214 1709.4 1206.6 1709.9 1207.9 1710.5 1220.7 1711.1 1208.9 1711.6 1213.4 1712.2 1210.1 1712.8 1224.7 1713.3 1205.8 1713.9 1220.5 1714.5 1221.5 1715 1220.8 1715.6 1230.4 1716.2 1239.4 1716.7 1254.5 1717.3 1253.8 1717.9 1246.4 1718.4 1245.7 1719 1239.1 1719.6 1240.3 1720.1 1251.6 1720.7 1243.2 1721.2 1258.8 1721.8 1258.7 1722.4 1264.7 1722.9 1261.7 1723.5 1257.6 1724.1 1269.9 1724.6 1260.2 1725.2 1268 1725.8 1269.2 1726.3 1267.6 1726.9 1273.4 1727.5 1276.3 1728 1271.9 1728.6 1285.4 1729.2 1276.4 1729.7 1278.8 1730.3 1283.2 1730.9 1278.6 1731.4 1280.4 1732 1280.8 1732.6 1272.3 1733.1 1291.2 1733.7 1276.5 1734.3 1273 1734.8 1282.3 1735.4 1283.2 1736 1284.6 1736.5 1280.2 1737.1 1281.9 1737.7 1287.6 1738.2 1287.8 1738.8 1293.8 1739.4 1290.9 1739.9 1297.6 1740.5 1292.7 1741.1 1284.4 1741.6 1290.8 1742.2 1302.7 1742.8 1297.3 1743.3 1302.2 1743.9 1298.8 1744.5 1299 1745 1297.3 1745.6 1306.7 1746.2 1308.7 1746.7 1296.5 1747.3 1301.6 1747.9 1298.4 1748.4 1303.2 1749 1294.4 1749.6 1296.1 1750.1 1305.9 1750.7 1304.9 1751.3 1303.6 1751.8 1315.7 1752.4 1300 1753 1302.7 1753.5 1309.6 1754.1 1304.5 1754.7 1301.6 1755.2 1308.5 1755.8 1302.4 1756.4 1302 1756.9 1299.6 1757.5 1299.4 1758.1 1298.2 1758.6 1300.9 1759.2 1304.1 1759.8 1308.3 1760.3 1300.3 1760.9 1311 1761.5 1316.5 1762 1316.9 1762.6 1308.7 1763.2 1324.8 1763.7 1318.7 1764.3 1319.8 1764.9 1323.8 1765.4 1311.5 1766 1313.1 1766.6 1314 1767.1 1316.5 1767.7 1309.6 1768.3 1318 1768.8 1310.4 1769.4 1314.8 1770 1315.3 1770.5 1309.1 1771.1 1320.3 1771.7 1310.6 1772.2 1303.5 1772.8 1317.9 1773.4 1312.7 1773.9 1306 1774.5 1311.4 1775.1 1315.3 1775.6 1313 1776.2 1316.2 1776.8 1310 1777.3 1314.6 1777.9 1312.1 1778.5 1312.7 1779 1315.1 1779.6 1319.6 1780.2 1313.7 1780.7 1314 1781.3 1318 1781.9 1316.1 1782.4 1304.8 1783 1314.9 1783.6 1313.5 1784.1 1312.3 1784.7 1315.3 1785.3 1313.2 1785.8 1326.7 1786.4 1316.1 1787 1314.6 1787.5 1310.4 1788.1 1318.3 1788.7 1322.9 1789.2 1316.3 1789.8 1319.9 1790.4 1318.6 1790.9 1318.3 1791.5 1331.2 1792.1 1316.3 1792.6 1320.6 1793.2 1313.7 1793.8 1323.9 1794.3 1317.4 1794.9 1318.7 1795.5 1323.9 1796 1316.7 1796.6 1323.5 1797.2 1310.8 1797.7 1325.8 1798.3 1312.6 1798.9 1310.3 1799.4 1322.7 1800 1326.4 1800.6 1321.6 1801.1 1328.5 1801.7 1324.7 1802.3 1317.4 1802.8 1327 1803.4 1320.3 1804 1326 1804.5 1324.7 1805.1 1317.9 1805.7 1320 1806.2 1317.2 1806.8 1324.6 1807.4 1316.4 1807.9 1331.4 1808.5 1322.3 1809.1 1308.3 1809.6 1321.3 1810.2 1316.5 1810.8 1329.4 1811.3 1319.8 1811.9 1314.1 1812.5 1325.3 1813 1324.7 1813.6 1323.7 1814.2 1312.3 1814.7 1318.1 1815.3 1332.4 1815.9 1316.5 1816.4 1325.9 1817 1325.1 1817.6 1318.4 1818.1 1316.6 1818.7 1315.9 1819.3 1328.2 1819.8 1319 1820.4 1327.3 1821 1325.7 1821.5 1322.7 1822.1 1321.4 1822.7 1321 1823.2 1325.3 1823.8 1320.5 1824.4 1316.3 1824.9 1320.9 1825.5 1329.3 1826 1327.6 1826.6 1320.1 1827.2 1313.8 1827.7 1315.8 1828.3 1316.2 1828.9 1323.4 1829.4 1322.6 1830 1327.2 1830.6 1330.8 1831.1 1323 1831.7 1327.9 1832.3 1326.9 1832.8 1321.8 1833.4 1323.8 1834 1320.3 1834.5 1315.9 1835.1 1327.2 1835.7 1327.9 1836.2 1326.5 1836.8 1323 1837.4 1324.4 1837.9 1326 1838.5 1325 1839.1 1323.4 1839.6 1324.7 1840.2 1326.8 1840.8 1331.1 1841.3 1331.6 1841.9 1322.4 1842.5 1338.7 1843 1329.6 1843.6 1324.1 1844.2 1320.1 1844.7 1328.2 1845.3 1329.1 1845.9 1322.2 1846.4 1324.3 1847 1332.8 1847.6 1329 1848.1 1328 1848.7 1327.7 1849.3 1340.4 1849.8 1322.6 1850.4 1329 1851 1323.8 1851.5 1320.9 1852.1 1319.4 1852.7 1323.6 1853.2 1323 1853.8 1323.6 1854.4 1330.2 1854.9 1326.9 1855.5 1324.4 1856.1 1324.6 1856.6 1325.6 1857.2 1326 1857.8 1332.8 1858.3 1326.9 1858.9 1329 1859.5 1326.5 1860 1323.6 1860.6 1328.4 1861.2 1327 1861.7 1326.5 1862.3 1331.2 1862.9 1328.3 1863.4 1331.6 1864 1325.8 1864.6 1331.8 1865.1 1331.6 1865.7 1328.5 1866.3 1328.6 1866.8 1327.2 1867.4 1325.8 1868 1327.9 1868.5 1327.6 1869.1 1329.2 1869.7 1340.5 1870.2 1330.8 1870.8 1327.7 1871.4 1337.9 1871.9 1336.7 1872.5 1329 1873.1 1334.3 1873.6 1332.9 1874.2 1334.3 1874.8 1325.7 1875.3 1330.6 1875.9 1329.6 1876.5 1326.9 1877 1328.5 1877.6 1335.1 1878.2 1327.4 1878.7 1327.2 1879.3 1327.1 1879.9 1331.7 1880.4 1328.6 1881 1323.3 1881.6 1324.1 1882.1 1327.7 1882.7 1332.8 1883.3 1335.1 1883.8 1337.2 1884.4 1329.4 1885 1332.1 1885.5 1334.5 1886.1 1328.9 1886.7 1316.5 1887.2 1336.3 1887.8 1335.3 1888.4 1332.6 1888.9 1335.5 1889.5 1333.4 1890.1 1328 1890.6 1325 1891.2 1328.8 1891.8 1326.6 1892.3 1328.4 1892.9 1332.9 1893.5 1323.9 1894 1328.7 1894.6 1337.2 1895.2 1328 1895.7 1323.4 1896.3 1330.1 1896.9 1327.4 1897.4 1333 1898 1326.5 1898.6 1334.9 1899.1 1332.5 1899.7 1336.5 1900.3 1331.1 1900.8 1334.9 1901.4 1319.6 1902 1322.9 1902.5 1329.5 1903.1 1328.5 1903.7 1327 1904.2 1331.3 1904.8 1331 1905.4 1331.4 1905.9 1322.7 1906.5 1332.6 1907.1 1331.8 1907.6 1327.8 1908.2 1321.6 1908.8 1330.6 1909.3 1328 1909.9 1327.2 1910.5 1332.9 1911 1335.1 1911.6 1328.8 1912.2 1327 1912.7 1329.9 1913.3 1328.2 1913.9 1323.1 1914.4 1331.6 1915 1330.2 1915.6 1325 1916.1 1328.4 1916.7 1328.4 1917.3 1324.8 1917.8 1333.2 1918.4 1330.1 1919 1323.8 1919.5 1320.9 1920.1 1342.2 1920.7 1317.4 1921.2 1330.7 1921.8 1329.1 1922.4 1330.4 1922.9 1324 1923.5 1327.9 1924.1 1327.8 1924.6 1336 1925.2 1329.4 1925.8 1323.3 1926.3 1330.1 1926.9 1332 1927.5 1332.5 1928 1325.4 1928.6 1327.9 1929.2 1324 1929.7 1327.6 1930.3 1330.7 1930.8 1330.3 1931.4 1320.7 1932 1327.7 1932.5 1329.4 1933.1 1329.2 1933.7 1315.5 1934.2 1324.7 1934.8 1329.1 1935.4 1331.9 1935.9 1324.9 1936.5 1324.3 1937.1 1319.1 1937.6 1321.2 1938.2 1320.7 1938.8 1329.4 1939.3 1311.4 1939.9 1326.7 1940.5 1325.9 1941 1326.7 1941.6 1319.6 1942.2 1324 1942.7 1323.6 1943.3 1326.4 1943.9 1323.2 1944.4 1321.8 1945 1321.2 1945.6 1318.7 1946.1 1327.9 1946.7 1316.7 1947.3 1317.7 1947.8 1324.5 1948.4 1319.8 1949 1319.5 1949.5 1324.3 1950.1 1321.3 1950.7 1323.6 1951.2 1321.7 1951.8 1312.6 1952.4 1316.7 1952.9 1320.3 1953.5 1317.2 1954.1 1323.9 1954.6 1317.3 1955.2 1318.1 1955.8 1316.8 1956.3 1316.9 1956.9 1327 1957.5 1316.7 1958 1311.6 1958.6 1315.7 1959.2 1311.3 1959.7 1317.9 1960.3 1316.7 1960.9 1316.4 1961.4 1316.4 1962 1317.4 1962.6 1311.1 1963.1 1320.7 1963.7 1318.2 1964.3 1328.4 1964.8 1321.4 1965.4 1323.5 1966 1319.2 1966.5 1321.6 1967.1 1327.4 1967.7 1319 1968.2 1325 1968.8 1325.9 1969.4 1329 1969.9 1325.6 1970.5 1326.8 1971.1 1326.2 1971.6 1335.3 1972.2 1333.9 1972.8 1329.5 1973.3 1332.7 1973.9 1325.1 1974.5 1329.4 1975 1328.9 1975.6 1330.1 1976.2 1335.7 1976.7 1328 1977.3 1326.4 1977.9 1329.8 1978.4 1328.8 1979 1334.6 1979.6 1341.9 1980.1 1332.8 1980.7 1328.8 1981.3 1328.9 1981.8 1334.8 1982.4 1325.3 1983 1328.1 1983.5 1330.2 1984.1 1331.8 1984.7 1327.1 1985.2 1335.8 1985.8 1334.2 1986.4 1334.5 1986.9 1328.3 1987.5 1326.6 1988.1 1334 1988.6 1331.7 1989.2 1330.9 1989.8 1329.7 1990.3 1335.2 1990.9 1327.7 1991.5 1343.1 1992 1320.7 1992.6 1327.5 1993.2 1327.1 1993.7 1325.1 1994.3 1327.2 1994.9 1326.1 1995.4 1321 1996 1328.6 1996.6 1335.3 1997.1 1321.3 1997.7 1324.4 1998.3 1323.1 1998.8 1328.5 1999.4 1318.3 2000 1328.5 2000.5 1330.1 2001.1 1331.3 2001.7 1334.7 2002.2 1327.4 2002.8 1325.9 2003.4 1331.4 2003.9 1331.8 2004.5 1326.6 2005.1 1320.1 2005.6 1333.7 2006.2 1330.7 2006.8 1317.7 2007.3 1328 2007.9 1323.3 2008.5 1318.8 2009 1331.9 2009.6 1328.3 2010.2 1335.3 2010.7 1328.1 2011.3 1325.3 2011.9 1329.5 2012.4 1334.7 2013 1331.2 2013.6 1325.4 2014.1 1327.6 2014.7 1326.3 2015.3 1322.3 2015.8 1325 2016.4 1328.3 2017 1324.4 2017.5 1329.1 2018.1 1322.5 2018.7 1328.8 2019.2 1319.6 2019.8 1316.8 2020.4 1328.5 2020.9 1325.2 2021.5 1320.1 2022.1 1326.1 2022.6 1332.9 2023.2 1323.2 2023.8 1325.2 2024.3 1318 2024.9 1320.5 2025.5 1319.6 2026 1329.5 2026.6 1324.1 2027.2 1312 2027.7 1313.2 2028.3 1331.6 2028.9 1324.7 2029.4 1322.4 2030 1318.7 2030.6 1320.2 2031.1 1317.1 2031.7 1317.8 2032.3 1315.3 2032.8 1321.4 2033.4 1319.7 2033.9 1326.2 2034.5 1323 2035.1 1315.3 2035.6 1320 2036.2 1326.8 2036.8 1322.7 2037.3 1321.3 2037.9 1325.7 2038.5 1324.4 2039 1319.1 2039.6 1325.8 2040.2 1322.3 2040.7 1317.8 2041.3 1319.4 2041.9 1324.4 2042.4 1319 2043 1321.4 2043.6 1323.5 2044.1 1319.2 2044.7 1317.5 2045.3 1318.8 2045.8 1320.8 2046.4 1317.7 2047 1330.7 2047.5 1322.7 2048.1 1325.7 2048.7 1325.2 2049.2 1331.3 2049.8 1318.3 2050.4 1328.6 2050.9 1324.4 2051.5 1322.6 2052.1 1318.1 2052.6 1330.3 2053.2 1327.4 2053.8 1325.6 2054.3 1322.9 2054.9 1320 2055.5 1322.8 2056 1328.8 2056.6 1326.6 2057.2 1330 2057.7 1325.8 2058.3 1329.4 2058.9 1331.3 2059.4 1330.4 2060 1320.5 2060.6 1328.3 2061.1 1326.1 2061.7 1332.7 2062.3 1327.7 2062.8 1331 2063.4 1324.2 2064 1328.7 2064.5 1324.5 2065.1 1323.2 2065.7 1327.2 2066.2 1326.5 2066.8 1328.2 2067.4 1319.4 2067.9 1321.2 2068.5 1331.6 2069.1 1323 2069.6 1325.7 2070.2 1329.4 2070.8 1330.6 2071.3 1330.3 2071.9 1319.6 2072.5 1329.6 2073 1326.9 2073.6 1326.5 2074.2 1328.6 2074.7 1331.9 2075.3 1333.3 2075.9 1329.4 2076.4 1335.3 2077 1322.5 2077.6 1332.3 2078.1 1324.2 2078.7 1338.8 2079.3 1334.3 2079.8 1329.9 2080.4 1330.6 2081 1331.2 2081.5 1332.1 2082.1 1326.4 2082.7 1330.4 2083.2 1340.5 2083.8 1337 2084.4 1329.3 2084.9 1336.9 2085.5 1345.2 2086.1 1332.7 2086.6 1329.6 2087.2 1330.1 2087.8 1341.2 2088.3 1335.9 2088.9 1334.4 2089.5 1331.8 2090 1341.5 2090.6 1336.8 2091.2 1339.4 2091.7 1336.7 2092.3 1330.6 2092.9 1341.5 2093.4 1335 2094 1340 2094.6 1338.8 2095.1 1334.8 2095.7 1341.2 2096.3 1339.8 2096.8 1340.2 2097.4 1341.1 2098 1333.6 2098.5 1338.2 2099.1 1333.4 2099.7 1333.6 2100.2 1337.1 2100.8 1328.2 2101.4 1336.3 2101.9 1327.3 2102.5 1338.2 2103.1 1329 2103.6 1332.9 2104.2 1340.4 2104.8 1337.7 2105.3 1340.8 2105.9 1335.8 2106.5 1343 2107 1338.2 2107.6 1343.1 2108.2 1336.2 2108.7 1334.5 2109.3 1341.8 2109.9 1335.6 2110.4 1340.3 2111 1346.7 2111.6 1338.9 2112.1 1335.7 2112.7 1342.9 2113.3 1334.9 2113.8 1338.3 2114.4 1335.8 2115 1336.8 2115.5 1333.7 2116.1 1326.5 2116.7 1337.7 2117.2 1340.1 2117.8 1340.5 2118.4 1338.2 2118.9 1339.7 2119.5 1331.9 2120.1 1332.2 2120.6 1342.4 2121.2 1335.3 2121.8 1331.5 2122.3 1336 2122.9 1334.4 2123.5 1337.7 2124 1338.4 2124.6 1333.4 2125.2 1340.1 2125.7 1342.7 2126.3 1339.5 2126.9 1336.3 2127.4 1341.6 2128 1339.3 2128.6 1333.1 2129.1 1333.5 2129.7 1339 2130.3 1332.6 2130.8 1333.3 2131.4 1339.7 2132 1338.4 2132.5 1336 2133.1 1337.8 2133.7 1335.6 2134.2 1342.5 2134.8 1336.9 2135.4 1345.7 2135.9 1344.3 2136.5 1341.8 2137.1 1338.9 2137.6 1338.3 2138.2 1335.8 2138.7 1344.5 2139.3 1348.3 2139.9 1337.3 2140.4 1337.6 2141 1324.2 2141.6 1336.6 2142.1 1330.7 2142.7 1346.9 2143.3 1333.1 2143.8 1337.9 2144.4 1340.9 2145 1340.6 2145.5 1330.3 2146.1 1339.5 2146.7 1340.4 2147.2 1338 2147.8 1337.2 2148.4 1329.3 2148.9 1338.4 2149.5 1334.3 2150.1 1339.7 2150.6 1331.6 2151.2 1331.5 2151.8 1337.8 2152.3 1337.3 2152.9 1332.3 2153.5 1336.1 2154 1336.4 2154.6 1338.7 2155.2 1338.8 2155.7 1332.5 2156.3 1340 2156.9 1345 2157.4 1330.2 2158 1333.8 2158.6 1339.9 2159.1 1329.4 2159.7 1331.2 2160.3 1329.8 2160.8 1341 2161.4 1339.1 2162 1331.8 2162.5 1339.4 2163.1 1341 2163.7 1340.5 2164.2 1340.4 2164.8 1340.7 2165.4 1334.9 2165.9 1341 2166.5 1334.5 2167.1 1345 2167.6 1333.7 2168.2 1338.2 2168.8 1343.1 2169.3 1335.8 2169.9 1336.3 2170.5 1335.7 2171 1333.3 2171.6 1336.3 2172.2 1338.2 2172.7 1329.2 2173.3 1337.4 2173.9 1328.2 2174.4 1330.7 2175 1323.8 2175.6 1325.9 2176.1 1336.5 2176.7 1329 2177.3 1331.5 2177.8 1327.6 2178.4 1338.5 2179 1330.7 2179.5 1330.3 2180.1 1342.7 2180.7 1336.2 2181.2 1336.5 2181.8 1331.3 2182.4 1342.9 2182.9 1332.8 2183.5 1336.6 2184.1 1337.4 2184.6 1330.2 2185.2 1334.8 2185.8 1336.3 2186.3 1338 2186.9 1336.8 2187.5 1331.9 2188 1338.1 2188.6 1339.7 2189.2 1330 2189.7 1336.2 2190.3 1336.6" fill="none" stroke="#474747" stroke-width="2.6" stroke-linejoin="round"/>
<text x="207.6" y="1595" text-anchor="middle" class="tk">10</text>
<text x="490.8" y="1595" text-anchor="middle" class="tk">20</text>
<text x="774.1" y="1595" text-anchor="middle" class="tk">30</text>
<text x="1057.3" y="1595" text-anchor="middle" class="tk">40</text>
<text x="1340.6" y="1595" text-anchor="middle" class="tk">50</text>
<text x="1623.8" y="1595" text-anchor="middle" class="tk">60</text>
<text x="1907.1" y="1595" text-anchor="middle" class="tk">70</text>
<text x="2190.3" y="1595" text-anchor="middle" class="tk">80</text>
<text x="1636" y="381" class="lb">CUR-2GE-Ch-IONP</text>
<text x="1933.5" y="870" class="lb">Ch-IONP</text>
<text x="2028" y="1288" class="lb">IONP</text>
<text transform="translate(107.4,1023.5) rotate(-90)" class="ax" style="font-size:80.6px">Intensity <tspan font-weight="normal">(</tspan>counts<tspan font-weight="normal">)</tspan></text>
<text x="1105" y="1736" class="ax">2<tspan font-weight="normal" dx="1">θ</tspan><tspan font-weight="normal" dx="4"> (</tspan><tspan font-size="64" dy="-12" dx="1" stroke="#000" stroke-width="2.2">°</tspan><tspan font-weight="normal" dy="12" dx="1.5">)</tspan></text>
</svg>
</body></html>
